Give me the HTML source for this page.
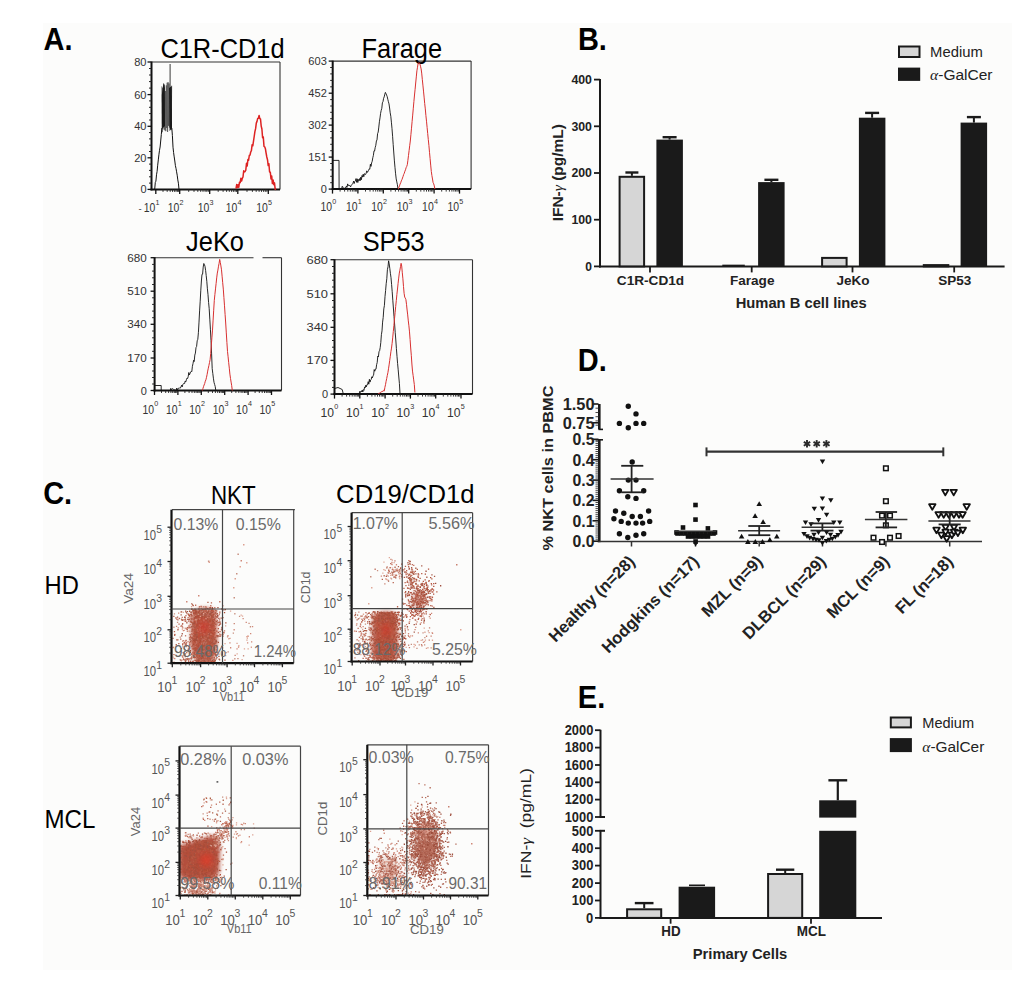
<!DOCTYPE html>
<html><head><meta charset="utf-8"><title>Figure</title>
<style>html,body{margin:0;padding:0;background:#fff;} svg{display:block;} text{font-family:"Liberation Sans", sans-serif;}</style>
</head><body>
<svg width="1024" height="997" viewBox="0 0 1024 997">
<rect width="1024" height="997" fill="#ffffff"/>
<rect x="43" y="23" width="969" height="947" fill="#fcfcfb"/>
<text x="43.5" y="49.9" font-size="30.74" font-weight="bold" textLength="29.0" lengthAdjust="spacingAndGlyphs">A.</text>
<text x="577.9" y="50.0" font-size="30.74" font-weight="bold" textLength="29.0" lengthAdjust="spacingAndGlyphs">B.</text>
<text x="43.2" y="503.5" font-size="30.74" font-weight="bold" textLength="29.0" lengthAdjust="spacingAndGlyphs">C.</text>
<text x="577.8" y="370.5" font-size="30.74" font-weight="bold" textLength="29.0" lengthAdjust="spacingAndGlyphs">D.</text>
<text x="577.8" y="707.8" font-size="30.74" font-weight="bold" textLength="27.4" lengthAdjust="spacingAndGlyphs">E.</text>
<line x1="151.5" y1="62.0" x2="280.0" y2="62.0" stroke="#333" stroke-width="1.1"/>
<line x1="280.0" y1="62.0" x2="280.0" y2="189.4" stroke="#333" stroke-width="1.1"/>
<line x1="151.5" y1="61.5" x2="151.5" y2="190.4" stroke="#111" stroke-width="2"/>
<line x1="150.5" y1="189.4" x2="280.0" y2="189.4" stroke="#111" stroke-width="2"/>
<line x1="147.5" y1="62.0" x2="151.5" y2="62.0" stroke="#111" stroke-width="1.3"/>
<line x1="147.5" y1="94.6" x2="151.5" y2="94.6" stroke="#111" stroke-width="1.3"/>
<line x1="147.5" y1="126.3" x2="151.5" y2="126.3" stroke="#111" stroke-width="1.3"/>
<line x1="147.5" y1="157.8" x2="151.5" y2="157.8" stroke="#111" stroke-width="1.3"/>
<line x1="147.5" y1="189.4" x2="151.5" y2="189.4" stroke="#111" stroke-width="1.3"/>
<line x1="149.0" y1="68.5" x2="151.5" y2="68.5" stroke="#222" stroke-width="1"/>
<line x1="149.0" y1="75.0" x2="151.5" y2="75.0" stroke="#222" stroke-width="1"/>
<line x1="149.0" y1="81.6" x2="151.5" y2="81.6" stroke="#222" stroke-width="1"/>
<line x1="149.0" y1="88.1" x2="151.5" y2="88.1" stroke="#222" stroke-width="1"/>
<line x1="149.0" y1="100.9" x2="151.5" y2="100.9" stroke="#222" stroke-width="1"/>
<line x1="149.0" y1="107.3" x2="151.5" y2="107.3" stroke="#222" stroke-width="1"/>
<line x1="149.0" y1="113.6" x2="151.5" y2="113.6" stroke="#222" stroke-width="1"/>
<line x1="149.0" y1="120.0" x2="151.5" y2="120.0" stroke="#222" stroke-width="1"/>
<line x1="149.0" y1="132.6" x2="151.5" y2="132.6" stroke="#222" stroke-width="1"/>
<line x1="149.0" y1="138.9" x2="151.5" y2="138.9" stroke="#222" stroke-width="1"/>
<line x1="149.0" y1="145.2" x2="151.5" y2="145.2" stroke="#222" stroke-width="1"/>
<line x1="149.0" y1="151.5" x2="151.5" y2="151.5" stroke="#222" stroke-width="1"/>
<line x1="149.0" y1="164.1" x2="151.5" y2="164.1" stroke="#222" stroke-width="1"/>
<line x1="149.0" y1="170.4" x2="151.5" y2="170.4" stroke="#222" stroke-width="1"/>
<line x1="149.0" y1="176.8" x2="151.5" y2="176.8" stroke="#222" stroke-width="1"/>
<line x1="149.0" y1="183.1" x2="151.5" y2="183.1" stroke="#222" stroke-width="1"/>
<text x="146.5" y="66.0" font-size="11.66" fill="#333" text-anchor="end" textLength="12.3" lengthAdjust="spacingAndGlyphs">80</text>
<text x="146.5" y="98.6" font-size="11.66" fill="#333" text-anchor="end" textLength="12.3" lengthAdjust="spacingAndGlyphs">60</text>
<text x="146.5" y="130.3" font-size="11.66" fill="#333" text-anchor="end" textLength="12.3" lengthAdjust="spacingAndGlyphs">40</text>
<text x="146.5" y="161.8" font-size="11.66" fill="#333" text-anchor="end" textLength="12.3" lengthAdjust="spacingAndGlyphs">20</text>
<text x="146.5" y="193.4" font-size="11.66" fill="#333" text-anchor="end" textLength="6.1" lengthAdjust="spacingAndGlyphs">0</text>
<line x1="155.8" y1="189.4" x2="155.8" y2="193.9" stroke="#111" stroke-width="1.3"/>
<line x1="179.7" y1="189.4" x2="179.7" y2="193.9" stroke="#111" stroke-width="1.3"/>
<line x1="209.7" y1="189.4" x2="209.7" y2="193.9" stroke="#111" stroke-width="1.3"/>
<line x1="237.8" y1="189.4" x2="237.8" y2="193.9" stroke="#111" stroke-width="1.3"/>
<line x1="268.3" y1="189.4" x2="268.3" y2="193.9" stroke="#111" stroke-width="1.3"/>
<line x1="163.0" y1="189.4" x2="163.0" y2="191.9" stroke="#222" stroke-width="0.9"/>
<line x1="167.2" y1="189.4" x2="167.2" y2="191.9" stroke="#222" stroke-width="0.9"/>
<line x1="170.2" y1="189.4" x2="170.2" y2="191.9" stroke="#222" stroke-width="0.9"/>
<line x1="172.5" y1="189.4" x2="172.5" y2="191.9" stroke="#222" stroke-width="0.9"/>
<line x1="174.4" y1="189.4" x2="174.4" y2="191.9" stroke="#222" stroke-width="0.9"/>
<line x1="176.0" y1="189.4" x2="176.0" y2="191.9" stroke="#222" stroke-width="0.9"/>
<line x1="177.4" y1="189.4" x2="177.4" y2="191.9" stroke="#222" stroke-width="0.9"/>
<line x1="178.6" y1="189.4" x2="178.6" y2="191.9" stroke="#222" stroke-width="0.9"/>
<line x1="188.7" y1="189.4" x2="188.7" y2="191.9" stroke="#222" stroke-width="0.9"/>
<line x1="194.0" y1="189.4" x2="194.0" y2="191.9" stroke="#222" stroke-width="0.9"/>
<line x1="197.8" y1="189.4" x2="197.8" y2="191.9" stroke="#222" stroke-width="0.9"/>
<line x1="200.7" y1="189.4" x2="200.7" y2="191.9" stroke="#222" stroke-width="0.9"/>
<line x1="203.0" y1="189.4" x2="203.0" y2="191.9" stroke="#222" stroke-width="0.9"/>
<line x1="205.1" y1="189.4" x2="205.1" y2="191.9" stroke="#222" stroke-width="0.9"/>
<line x1="206.8" y1="189.4" x2="206.8" y2="191.9" stroke="#222" stroke-width="0.9"/>
<line x1="208.3" y1="189.4" x2="208.3" y2="191.9" stroke="#222" stroke-width="0.9"/>
<line x1="218.2" y1="189.4" x2="218.2" y2="191.9" stroke="#222" stroke-width="0.9"/>
<line x1="223.1" y1="189.4" x2="223.1" y2="191.9" stroke="#222" stroke-width="0.9"/>
<line x1="226.6" y1="189.4" x2="226.6" y2="191.9" stroke="#222" stroke-width="0.9"/>
<line x1="229.3" y1="189.4" x2="229.3" y2="191.9" stroke="#222" stroke-width="0.9"/>
<line x1="231.6" y1="189.4" x2="231.6" y2="191.9" stroke="#222" stroke-width="0.9"/>
<line x1="233.4" y1="189.4" x2="233.4" y2="191.9" stroke="#222" stroke-width="0.9"/>
<line x1="235.1" y1="189.4" x2="235.1" y2="191.9" stroke="#222" stroke-width="0.9"/>
<line x1="236.5" y1="189.4" x2="236.5" y2="191.9" stroke="#222" stroke-width="0.9"/>
<line x1="247.0" y1="189.4" x2="247.0" y2="191.9" stroke="#222" stroke-width="0.9"/>
<line x1="252.4" y1="189.4" x2="252.4" y2="191.9" stroke="#222" stroke-width="0.9"/>
<line x1="256.2" y1="189.4" x2="256.2" y2="191.9" stroke="#222" stroke-width="0.9"/>
<line x1="259.1" y1="189.4" x2="259.1" y2="191.9" stroke="#222" stroke-width="0.9"/>
<line x1="261.5" y1="189.4" x2="261.5" y2="191.9" stroke="#222" stroke-width="0.9"/>
<line x1="263.6" y1="189.4" x2="263.6" y2="191.9" stroke="#222" stroke-width="0.9"/>
<line x1="265.3" y1="189.4" x2="265.3" y2="191.9" stroke="#222" stroke-width="0.9"/>
<line x1="266.9" y1="189.4" x2="266.9" y2="191.9" stroke="#222" stroke-width="0.9"/>
<text x="155.4" y="212.0" font-size="12.19" fill="#333" text-anchor="end" textLength="11.6" lengthAdjust="spacingAndGlyphs">10</text>
<text x="155.6" y="204.7" font-size="7.63" fill="#333" textLength="4.0" lengthAdjust="spacingAndGlyphs">1</text>
<text x="179.3" y="212.0" font-size="12.19" fill="#333" text-anchor="end" textLength="11.6" lengthAdjust="spacingAndGlyphs">10</text>
<text x="179.5" y="204.7" font-size="7.63" fill="#333" textLength="4.0" lengthAdjust="spacingAndGlyphs">2</text>
<text x="209.3" y="212.0" font-size="12.19" fill="#333" text-anchor="end" textLength="11.6" lengthAdjust="spacingAndGlyphs">10</text>
<text x="209.5" y="204.7" font-size="7.63" fill="#333" textLength="4.0" lengthAdjust="spacingAndGlyphs">3</text>
<text x="237.4" y="212.0" font-size="12.19" fill="#333" text-anchor="end" textLength="11.6" lengthAdjust="spacingAndGlyphs">10</text>
<text x="237.6" y="204.7" font-size="7.63" fill="#333" textLength="4.0" lengthAdjust="spacingAndGlyphs">4</text>
<text x="267.9" y="212.0" font-size="12.19" fill="#333" text-anchor="end" textLength="11.6" lengthAdjust="spacingAndGlyphs">10</text>
<text x="268.1" y="204.7" font-size="7.63" fill="#333" textLength="4.0" lengthAdjust="spacingAndGlyphs">5</text>
<text x="222.5" y="58.0" font-size="26.92" text-anchor="middle" textLength="124.2" lengthAdjust="spacingAndGlyphs">C1R-CD1d</text>
<text x="138.5" y="211.5" font-size="9.5" fill="#333">-</text>
<polyline points="161.8,86.3 162.2,132.2 162.7,87.7 163.1,125.3 163.6,83.5 164.0,129.6 164.5,84.6 164.9,130.4 165.4,91.0 165.8,131.2 166.3,85.4 166.7,128.0 167.2,82.7 167.6,132.0 168.1,82.2 168.5,125.8 169.0,83.5 169.4,127.6 169.9,89.1 170.3,126.5 170.8,89.4 171.2,130.1 171.7,85.6" fill="none" stroke="#3a3a3a" stroke-width="0.6" stroke-linejoin="round"/>
<polygon points="161.8,95 163.4,83.5 164.8,88 165,126 162,129" fill="#1a1a1a"/>
<polygon points="169,88 171.8,86 172,128 169.6,131" fill="#1a1a1a"/>
<polyline points="154.7,189.4 155.3,182.4 155.9,181.2 156.5,174.8 157.1,171.4 157.7,165.2 158.3,159.9 158.9,154.8 159.5,150.3 160.1,147.0 160.7,141.0 161.3,134.5 161.9,128.0" fill="none" stroke="#111" stroke-width="1.0" stroke-linejoin="round"/>
<polyline points="171.8,128.0 172.4,135.6 173.0,147.2 173.6,152.6 174.2,156.9 174.8,161.0 175.4,165.6 176.0,168.4 176.6,171.8 177.2,175.2 177.8,179.9 178.4,183.2 179.0,189.4" fill="none" stroke="#111" stroke-width="1.0" stroke-linejoin="round"/>
<line x1="170.1" y1="64.0" x2="170.1" y2="90.0" stroke="#222" stroke-width="0.9"/>
<polyline points="236.0,188.7 236.7,184.5 237.4,187.4 238.1,184.8 238.8,187.2 239.5,182.2 240.2,182.6 240.9,178.2 241.6,181.1 242.3,178.3 243.0,177.0 243.7,170.8 244.4,171.9 245.1,171.5 245.8,170.2 246.5,163.3 247.2,166.0 247.9,159.6 248.6,160.2 249.3,155.5 250.0,155.1 250.7,152.0 251.4,150.7 252.1,144.8 252.8,145.8 253.5,141.2 254.2,136.5 254.9,131.7 255.6,128.7 256.3,123.1 257.0,121.4 257.7,118.4 258.4,118.2 259.1,115.4 259.8,118.6 260.5,119.0 261.2,126.1 261.9,129.0 262.6,137.7 263.3,137.1 264.0,146.4 264.7,146.8 265.4,148.7 266.1,153.1 266.8,157.0 267.5,159.7 268.2,165.6 268.9,163.7 269.6,172.0 270.3,172.2 271.0,178.9 271.7,176.0 272.4,183.6 273.1,179.9 273.8,184.7 274.5,182.9 275.2,189.4 275.9,188.4" fill="none" stroke="#dd2222" stroke-width="1.5" stroke-linejoin="round"/>
<line x1="332.7" y1="61.1" x2="471.1" y2="61.1" stroke="#333" stroke-width="1.1"/>
<line x1="471.1" y1="61.1" x2="471.1" y2="189.1" stroke="#333" stroke-width="1.1"/>
<line x1="332.7" y1="60.6" x2="332.7" y2="190.1" stroke="#111" stroke-width="2"/>
<line x1="331.7" y1="189.1" x2="471.1" y2="189.1" stroke="#111" stroke-width="2"/>
<line x1="328.7" y1="61.1" x2="332.7" y2="61.1" stroke="#111" stroke-width="1.3"/>
<line x1="328.7" y1="93.2" x2="332.7" y2="93.2" stroke="#111" stroke-width="1.3"/>
<line x1="328.7" y1="125.1" x2="332.7" y2="125.1" stroke="#111" stroke-width="1.3"/>
<line x1="328.7" y1="157.1" x2="332.7" y2="157.1" stroke="#111" stroke-width="1.3"/>
<line x1="328.7" y1="189.1" x2="332.7" y2="189.1" stroke="#111" stroke-width="1.3"/>
<line x1="330.2" y1="67.5" x2="332.7" y2="67.5" stroke="#222" stroke-width="1"/>
<line x1="330.2" y1="73.9" x2="332.7" y2="73.9" stroke="#222" stroke-width="1"/>
<line x1="330.2" y1="80.4" x2="332.7" y2="80.4" stroke="#222" stroke-width="1"/>
<line x1="330.2" y1="86.8" x2="332.7" y2="86.8" stroke="#222" stroke-width="1"/>
<line x1="330.2" y1="99.6" x2="332.7" y2="99.6" stroke="#222" stroke-width="1"/>
<line x1="330.2" y1="106.0" x2="332.7" y2="106.0" stroke="#222" stroke-width="1"/>
<line x1="330.2" y1="112.3" x2="332.7" y2="112.3" stroke="#222" stroke-width="1"/>
<line x1="330.2" y1="118.7" x2="332.7" y2="118.7" stroke="#222" stroke-width="1"/>
<line x1="330.2" y1="131.5" x2="332.7" y2="131.5" stroke="#222" stroke-width="1"/>
<line x1="330.2" y1="137.9" x2="332.7" y2="137.9" stroke="#222" stroke-width="1"/>
<line x1="330.2" y1="144.3" x2="332.7" y2="144.3" stroke="#222" stroke-width="1"/>
<line x1="330.2" y1="150.7" x2="332.7" y2="150.7" stroke="#222" stroke-width="1"/>
<line x1="330.2" y1="163.5" x2="332.7" y2="163.5" stroke="#222" stroke-width="1"/>
<line x1="330.2" y1="169.9" x2="332.7" y2="169.9" stroke="#222" stroke-width="1"/>
<line x1="330.2" y1="176.3" x2="332.7" y2="176.3" stroke="#222" stroke-width="1"/>
<line x1="330.2" y1="182.7" x2="332.7" y2="182.7" stroke="#222" stroke-width="1"/>
<text x="326.8" y="65.1" font-size="11.66" fill="#333" text-anchor="end" textLength="18.5" lengthAdjust="spacingAndGlyphs">603</text>
<text x="326.8" y="97.2" font-size="11.66" fill="#333" text-anchor="end" textLength="18.5" lengthAdjust="spacingAndGlyphs">452</text>
<text x="326.8" y="129.1" font-size="11.66" fill="#333" text-anchor="end" textLength="18.5" lengthAdjust="spacingAndGlyphs">302</text>
<text x="326.8" y="161.1" font-size="11.66" fill="#333" text-anchor="end" textLength="18.5" lengthAdjust="spacingAndGlyphs">151</text>
<text x="326.8" y="193.1" font-size="11.66" fill="#333" text-anchor="end" textLength="6.1" lengthAdjust="spacingAndGlyphs">0</text>
<line x1="332.5" y1="189.1" x2="332.5" y2="193.6" stroke="#111" stroke-width="1.3"/>
<line x1="357.9" y1="189.1" x2="357.9" y2="193.6" stroke="#111" stroke-width="1.3"/>
<line x1="383.3" y1="189.1" x2="383.3" y2="193.6" stroke="#111" stroke-width="1.3"/>
<line x1="408.7" y1="189.1" x2="408.7" y2="193.6" stroke="#111" stroke-width="1.3"/>
<line x1="434.1" y1="189.1" x2="434.1" y2="193.6" stroke="#111" stroke-width="1.3"/>
<line x1="459.5" y1="189.1" x2="459.5" y2="193.6" stroke="#111" stroke-width="1.3"/>
<line x1="340.1" y1="189.1" x2="340.1" y2="191.6" stroke="#222" stroke-width="0.9"/>
<line x1="344.6" y1="189.1" x2="344.6" y2="191.6" stroke="#222" stroke-width="0.9"/>
<line x1="347.8" y1="189.1" x2="347.8" y2="191.6" stroke="#222" stroke-width="0.9"/>
<line x1="350.3" y1="189.1" x2="350.3" y2="191.6" stroke="#222" stroke-width="0.9"/>
<line x1="352.3" y1="189.1" x2="352.3" y2="191.6" stroke="#222" stroke-width="0.9"/>
<line x1="354.0" y1="189.1" x2="354.0" y2="191.6" stroke="#222" stroke-width="0.9"/>
<line x1="355.4" y1="189.1" x2="355.4" y2="191.6" stroke="#222" stroke-width="0.9"/>
<line x1="356.7" y1="189.1" x2="356.7" y2="191.6" stroke="#222" stroke-width="0.9"/>
<line x1="365.5" y1="189.1" x2="365.5" y2="191.6" stroke="#222" stroke-width="0.9"/>
<line x1="370.0" y1="189.1" x2="370.0" y2="191.6" stroke="#222" stroke-width="0.9"/>
<line x1="373.2" y1="189.1" x2="373.2" y2="191.6" stroke="#222" stroke-width="0.9"/>
<line x1="375.7" y1="189.1" x2="375.7" y2="191.6" stroke="#222" stroke-width="0.9"/>
<line x1="377.7" y1="189.1" x2="377.7" y2="191.6" stroke="#222" stroke-width="0.9"/>
<line x1="379.4" y1="189.1" x2="379.4" y2="191.6" stroke="#222" stroke-width="0.9"/>
<line x1="380.8" y1="189.1" x2="380.8" y2="191.6" stroke="#222" stroke-width="0.9"/>
<line x1="382.1" y1="189.1" x2="382.1" y2="191.6" stroke="#222" stroke-width="0.9"/>
<line x1="390.9" y1="189.1" x2="390.9" y2="191.6" stroke="#222" stroke-width="0.9"/>
<line x1="395.4" y1="189.1" x2="395.4" y2="191.6" stroke="#222" stroke-width="0.9"/>
<line x1="398.6" y1="189.1" x2="398.6" y2="191.6" stroke="#222" stroke-width="0.9"/>
<line x1="401.1" y1="189.1" x2="401.1" y2="191.6" stroke="#222" stroke-width="0.9"/>
<line x1="403.1" y1="189.1" x2="403.1" y2="191.6" stroke="#222" stroke-width="0.9"/>
<line x1="404.8" y1="189.1" x2="404.8" y2="191.6" stroke="#222" stroke-width="0.9"/>
<line x1="406.2" y1="189.1" x2="406.2" y2="191.6" stroke="#222" stroke-width="0.9"/>
<line x1="407.5" y1="189.1" x2="407.5" y2="191.6" stroke="#222" stroke-width="0.9"/>
<line x1="416.3" y1="189.1" x2="416.3" y2="191.6" stroke="#222" stroke-width="0.9"/>
<line x1="420.8" y1="189.1" x2="420.8" y2="191.6" stroke="#222" stroke-width="0.9"/>
<line x1="424.0" y1="189.1" x2="424.0" y2="191.6" stroke="#222" stroke-width="0.9"/>
<line x1="426.5" y1="189.1" x2="426.5" y2="191.6" stroke="#222" stroke-width="0.9"/>
<line x1="428.5" y1="189.1" x2="428.5" y2="191.6" stroke="#222" stroke-width="0.9"/>
<line x1="430.2" y1="189.1" x2="430.2" y2="191.6" stroke="#222" stroke-width="0.9"/>
<line x1="431.6" y1="189.1" x2="431.6" y2="191.6" stroke="#222" stroke-width="0.9"/>
<line x1="432.9" y1="189.1" x2="432.9" y2="191.6" stroke="#222" stroke-width="0.9"/>
<line x1="441.7" y1="189.1" x2="441.7" y2="191.6" stroke="#222" stroke-width="0.9"/>
<line x1="446.2" y1="189.1" x2="446.2" y2="191.6" stroke="#222" stroke-width="0.9"/>
<line x1="449.4" y1="189.1" x2="449.4" y2="191.6" stroke="#222" stroke-width="0.9"/>
<line x1="451.9" y1="189.1" x2="451.9" y2="191.6" stroke="#222" stroke-width="0.9"/>
<line x1="453.9" y1="189.1" x2="453.9" y2="191.6" stroke="#222" stroke-width="0.9"/>
<line x1="455.6" y1="189.1" x2="455.6" y2="191.6" stroke="#222" stroke-width="0.9"/>
<line x1="457.0" y1="189.1" x2="457.0" y2="191.6" stroke="#222" stroke-width="0.9"/>
<line x1="458.3" y1="189.1" x2="458.3" y2="191.6" stroke="#222" stroke-width="0.9"/>
<text x="332.1" y="211.4" font-size="12.19" fill="#333" text-anchor="end" textLength="11.6" lengthAdjust="spacingAndGlyphs">10</text>
<text x="332.3" y="204.1" font-size="7.63" fill="#333" textLength="4.0" lengthAdjust="spacingAndGlyphs">0</text>
<text x="357.5" y="211.4" font-size="12.19" fill="#333" text-anchor="end" textLength="11.6" lengthAdjust="spacingAndGlyphs">10</text>
<text x="357.7" y="204.1" font-size="7.63" fill="#333" textLength="4.0" lengthAdjust="spacingAndGlyphs">1</text>
<text x="382.9" y="211.4" font-size="12.19" fill="#333" text-anchor="end" textLength="11.6" lengthAdjust="spacingAndGlyphs">10</text>
<text x="383.1" y="204.1" font-size="7.63" fill="#333" textLength="4.0" lengthAdjust="spacingAndGlyphs">2</text>
<text x="408.3" y="211.4" font-size="12.19" fill="#333" text-anchor="end" textLength="11.6" lengthAdjust="spacingAndGlyphs">10</text>
<text x="408.5" y="204.1" font-size="7.63" fill="#333" textLength="4.0" lengthAdjust="spacingAndGlyphs">3</text>
<text x="433.7" y="211.4" font-size="12.19" fill="#333" text-anchor="end" textLength="11.6" lengthAdjust="spacingAndGlyphs">10</text>
<text x="433.9" y="204.1" font-size="7.63" fill="#333" textLength="4.0" lengthAdjust="spacingAndGlyphs">4</text>
<text x="459.1" y="211.4" font-size="12.19" fill="#333" text-anchor="end" textLength="11.6" lengthAdjust="spacingAndGlyphs">10</text>
<text x="459.3" y="204.1" font-size="7.63" fill="#333" textLength="4.0" lengthAdjust="spacingAndGlyphs">5</text>
<text x="401.8" y="57.7" font-size="26.92" text-anchor="middle" textLength="80.5" lengthAdjust="spacingAndGlyphs">Farage</text>
<polyline points="332.7,160.4 339.0,160.4 339.1,189.0 341.0,188.5 341.6,189.1 342.2,186.2 342.8,186.8 343.4,189.1 344.0,187.9 344.6,188.8 345.2,187.6 345.8,187.9 346.4,186.1 347.0,187.3 347.6,183.9 348.2,185.7 348.8,185.0 349.4,185.5 350.0,185.5 350.6,186.9 351.2,185.3 351.8,184.8 352.4,184.2 353.0,183.1 353.6,181.1 354.2,183.5 354.8,181.5 355.4,180.9 356.0,178.6 356.6,182.3 357.2,178.8 357.8,182.5 358.4,179.5 359.0,180.8 359.6,178.6 360.2,180.7 360.8,177.1 361.4,179.7 362.0,175.5 362.6,177.1 363.2,174.2 363.8,176.7 364.4,173.7 365.0,174.0 365.6,174.5 366.2,173.1 366.8,170.8 367.4,172.4 368.0,171.4 368.6,170.4 369.2,168.8 369.8,169.2 370.4,164.2 371.0,166.4 371.6,162.9 372.2,161.3 372.8,157.7 373.4,155.4 374.0,150.8 374.6,151.0 375.2,147.5 375.8,145.3 376.4,141.0 377.0,139.9 377.6,133.6 378.2,132.1 378.8,127.1 379.4,121.8 380.0,117.9 380.6,113.3 381.2,110.4 381.8,108.3 382.4,102.8 383.0,101.6 383.6,98.3 384.2,96.9 384.8,94.2 385.4,92.4 386.0,93.7 386.6,95.1 387.2,96.6 387.8,99.3 388.4,101.7 389.0,103.9 389.6,108.0 390.2,112.8 390.8,116.3 391.4,122.2 392.0,128.7 392.6,136.3 393.2,144.6 393.8,153.0 394.4,160.9 395.0,167.7 395.6,173.8 396.2,178.9 396.8,181.9 397.4,184.7 398.0,189.0" fill="none" stroke="#111" stroke-width="0.9" stroke-linejoin="round"/>
<polyline points="398.3,189.0 398.9,187.3 399.5,185.9 400.1,184.0 400.7,182.8 401.3,180.9 401.9,179.7 402.5,178.0 403.1,176.3 403.7,174.4 404.3,173.2 404.9,171.2 405.5,169.8 406.1,167.7 406.7,166.5 407.3,164.7 407.9,160.3 408.5,155.4 409.1,150.6 409.7,145.7 410.3,141.0 410.9,134.7 411.5,128.2 412.1,121.5 412.7,115.1 413.3,108.2 413.9,101.5 414.5,95.0 415.1,89.3 415.7,83.0 416.3,76.9 416.9,70.8 417.5,67.2 418.1,63.5 418.7,62.7 419.3,62.9 419.9,64.0 420.5,66.2 421.1,68.9 421.7,73.1 422.3,79.3 422.9,85.1 423.5,91.1 424.1,97.1 424.7,103.5 425.3,108.9 425.9,115.5 426.5,121.2 427.1,127.4 427.7,133.5 428.3,139.6 428.9,145.4 429.5,152.3 430.1,158.6 430.7,165.1 431.3,171.4 431.9,175.6 432.5,179.0 433.1,182.6 433.7,183.8 434.3,185.9 434.9,189.0" fill="none" stroke="#d83030" stroke-width="1.0" stroke-linejoin="round"/>
<line x1="154.6" y1="257.7" x2="253.5" y2="257.7" stroke="#333" stroke-width="1.1"/>
<line x1="262.5" y1="257.7" x2="281.5" y2="257.7" stroke="#333" stroke-width="1.1"/>
<line x1="281.5" y1="257.7" x2="281.5" y2="390.5" stroke="#333" stroke-width="1.1"/>
<line x1="154.6" y1="257.2" x2="154.6" y2="391.5" stroke="#111" stroke-width="2"/>
<line x1="153.6" y1="390.5" x2="281.5" y2="390.5" stroke="#111" stroke-width="2"/>
<line x1="150.6" y1="257.7" x2="154.6" y2="257.7" stroke="#111" stroke-width="1.3"/>
<line x1="150.6" y1="291.2" x2="154.6" y2="291.2" stroke="#111" stroke-width="1.3"/>
<line x1="150.6" y1="324.3" x2="154.6" y2="324.3" stroke="#111" stroke-width="1.3"/>
<line x1="150.6" y1="358.0" x2="154.6" y2="358.0" stroke="#111" stroke-width="1.3"/>
<line x1="150.6" y1="390.5" x2="154.6" y2="390.5" stroke="#111" stroke-width="1.3"/>
<line x1="152.1" y1="264.4" x2="154.6" y2="264.4" stroke="#222" stroke-width="1"/>
<line x1="152.1" y1="271.1" x2="154.6" y2="271.1" stroke="#222" stroke-width="1"/>
<line x1="152.1" y1="277.8" x2="154.6" y2="277.8" stroke="#222" stroke-width="1"/>
<line x1="152.1" y1="284.5" x2="154.6" y2="284.5" stroke="#222" stroke-width="1"/>
<line x1="152.1" y1="297.8" x2="154.6" y2="297.8" stroke="#222" stroke-width="1"/>
<line x1="152.1" y1="304.4" x2="154.6" y2="304.4" stroke="#222" stroke-width="1"/>
<line x1="152.1" y1="311.1" x2="154.6" y2="311.1" stroke="#222" stroke-width="1"/>
<line x1="152.1" y1="317.7" x2="154.6" y2="317.7" stroke="#222" stroke-width="1"/>
<line x1="152.1" y1="331.0" x2="154.6" y2="331.0" stroke="#222" stroke-width="1"/>
<line x1="152.1" y1="337.8" x2="154.6" y2="337.8" stroke="#222" stroke-width="1"/>
<line x1="152.1" y1="344.5" x2="154.6" y2="344.5" stroke="#222" stroke-width="1"/>
<line x1="152.1" y1="351.3" x2="154.6" y2="351.3" stroke="#222" stroke-width="1"/>
<line x1="152.1" y1="364.5" x2="154.6" y2="364.5" stroke="#222" stroke-width="1"/>
<line x1="152.1" y1="371.0" x2="154.6" y2="371.0" stroke="#222" stroke-width="1"/>
<line x1="152.1" y1="377.5" x2="154.6" y2="377.5" stroke="#222" stroke-width="1"/>
<line x1="152.1" y1="384.0" x2="154.6" y2="384.0" stroke="#222" stroke-width="1"/>
<text x="146.8" y="261.7" font-size="11.66" fill="#333" text-anchor="end" textLength="19.5" lengthAdjust="spacingAndGlyphs">680</text>
<text x="146.8" y="295.2" font-size="11.66" fill="#333" text-anchor="end" textLength="19.5" lengthAdjust="spacingAndGlyphs">510</text>
<text x="146.8" y="328.3" font-size="11.66" fill="#333" text-anchor="end" textLength="19.5" lengthAdjust="spacingAndGlyphs">340</text>
<text x="146.8" y="362.0" font-size="11.66" fill="#333" text-anchor="end" textLength="19.5" lengthAdjust="spacingAndGlyphs">170</text>
<text x="146.8" y="394.5" font-size="11.66" fill="#333" text-anchor="end" textLength="6.1" lengthAdjust="spacingAndGlyphs">0</text>
<line x1="154.5" y1="390.5" x2="154.5" y2="395.0" stroke="#111" stroke-width="1.3"/>
<line x1="177.9" y1="390.5" x2="177.9" y2="395.0" stroke="#111" stroke-width="1.3"/>
<line x1="201.3" y1="390.5" x2="201.3" y2="395.0" stroke="#111" stroke-width="1.3"/>
<line x1="224.7" y1="390.5" x2="224.7" y2="395.0" stroke="#111" stroke-width="1.3"/>
<line x1="248.1" y1="390.5" x2="248.1" y2="395.0" stroke="#111" stroke-width="1.3"/>
<line x1="271.5" y1="390.5" x2="271.5" y2="395.0" stroke="#111" stroke-width="1.3"/>
<line x1="161.5" y1="390.5" x2="161.5" y2="393.0" stroke="#222" stroke-width="0.9"/>
<line x1="165.7" y1="390.5" x2="165.7" y2="393.0" stroke="#222" stroke-width="0.9"/>
<line x1="168.6" y1="390.5" x2="168.6" y2="393.0" stroke="#222" stroke-width="0.9"/>
<line x1="170.9" y1="390.5" x2="170.9" y2="393.0" stroke="#222" stroke-width="0.9"/>
<line x1="172.7" y1="390.5" x2="172.7" y2="393.0" stroke="#222" stroke-width="0.9"/>
<line x1="174.3" y1="390.5" x2="174.3" y2="393.0" stroke="#222" stroke-width="0.9"/>
<line x1="175.6" y1="390.5" x2="175.6" y2="393.0" stroke="#222" stroke-width="0.9"/>
<line x1="176.8" y1="390.5" x2="176.8" y2="393.0" stroke="#222" stroke-width="0.9"/>
<line x1="184.9" y1="390.5" x2="184.9" y2="393.0" stroke="#222" stroke-width="0.9"/>
<line x1="189.1" y1="390.5" x2="189.1" y2="393.0" stroke="#222" stroke-width="0.9"/>
<line x1="192.0" y1="390.5" x2="192.0" y2="393.0" stroke="#222" stroke-width="0.9"/>
<line x1="194.3" y1="390.5" x2="194.3" y2="393.0" stroke="#222" stroke-width="0.9"/>
<line x1="196.1" y1="390.5" x2="196.1" y2="393.0" stroke="#222" stroke-width="0.9"/>
<line x1="197.7" y1="390.5" x2="197.7" y2="393.0" stroke="#222" stroke-width="0.9"/>
<line x1="199.0" y1="390.5" x2="199.0" y2="393.0" stroke="#222" stroke-width="0.9"/>
<line x1="200.2" y1="390.5" x2="200.2" y2="393.0" stroke="#222" stroke-width="0.9"/>
<line x1="208.3" y1="390.5" x2="208.3" y2="393.0" stroke="#222" stroke-width="0.9"/>
<line x1="212.5" y1="390.5" x2="212.5" y2="393.0" stroke="#222" stroke-width="0.9"/>
<line x1="215.4" y1="390.5" x2="215.4" y2="393.0" stroke="#222" stroke-width="0.9"/>
<line x1="217.7" y1="390.5" x2="217.7" y2="393.0" stroke="#222" stroke-width="0.9"/>
<line x1="219.5" y1="390.5" x2="219.5" y2="393.0" stroke="#222" stroke-width="0.9"/>
<line x1="221.1" y1="390.5" x2="221.1" y2="393.0" stroke="#222" stroke-width="0.9"/>
<line x1="222.4" y1="390.5" x2="222.4" y2="393.0" stroke="#222" stroke-width="0.9"/>
<line x1="223.6" y1="390.5" x2="223.6" y2="393.0" stroke="#222" stroke-width="0.9"/>
<line x1="231.7" y1="390.5" x2="231.7" y2="393.0" stroke="#222" stroke-width="0.9"/>
<line x1="235.9" y1="390.5" x2="235.9" y2="393.0" stroke="#222" stroke-width="0.9"/>
<line x1="238.8" y1="390.5" x2="238.8" y2="393.0" stroke="#222" stroke-width="0.9"/>
<line x1="241.1" y1="390.5" x2="241.1" y2="393.0" stroke="#222" stroke-width="0.9"/>
<line x1="242.9" y1="390.5" x2="242.9" y2="393.0" stroke="#222" stroke-width="0.9"/>
<line x1="244.5" y1="390.5" x2="244.5" y2="393.0" stroke="#222" stroke-width="0.9"/>
<line x1="245.8" y1="390.5" x2="245.8" y2="393.0" stroke="#222" stroke-width="0.9"/>
<line x1="247.0" y1="390.5" x2="247.0" y2="393.0" stroke="#222" stroke-width="0.9"/>
<line x1="255.1" y1="390.5" x2="255.1" y2="393.0" stroke="#222" stroke-width="0.9"/>
<line x1="259.3" y1="390.5" x2="259.3" y2="393.0" stroke="#222" stroke-width="0.9"/>
<line x1="262.2" y1="390.5" x2="262.2" y2="393.0" stroke="#222" stroke-width="0.9"/>
<line x1="264.5" y1="390.5" x2="264.5" y2="393.0" stroke="#222" stroke-width="0.9"/>
<line x1="266.3" y1="390.5" x2="266.3" y2="393.0" stroke="#222" stroke-width="0.9"/>
<line x1="267.9" y1="390.5" x2="267.9" y2="393.0" stroke="#222" stroke-width="0.9"/>
<line x1="269.2" y1="390.5" x2="269.2" y2="393.0" stroke="#222" stroke-width="0.9"/>
<line x1="270.4" y1="390.5" x2="270.4" y2="393.0" stroke="#222" stroke-width="0.9"/>
<text x="154.1" y="413.6" font-size="12.19" fill="#333" text-anchor="end" textLength="11.6" lengthAdjust="spacingAndGlyphs">10</text>
<text x="154.3" y="406.3" font-size="7.63" fill="#333" textLength="4.0" lengthAdjust="spacingAndGlyphs">0</text>
<text x="177.5" y="413.6" font-size="12.19" fill="#333" text-anchor="end" textLength="11.6" lengthAdjust="spacingAndGlyphs">10</text>
<text x="177.7" y="406.3" font-size="7.63" fill="#333" textLength="4.0" lengthAdjust="spacingAndGlyphs">1</text>
<text x="200.9" y="413.6" font-size="12.19" fill="#333" text-anchor="end" textLength="11.6" lengthAdjust="spacingAndGlyphs">10</text>
<text x="201.1" y="406.3" font-size="7.63" fill="#333" textLength="4.0" lengthAdjust="spacingAndGlyphs">2</text>
<text x="224.3" y="413.6" font-size="12.19" fill="#333" text-anchor="end" textLength="11.6" lengthAdjust="spacingAndGlyphs">10</text>
<text x="224.5" y="406.3" font-size="7.63" fill="#333" textLength="4.0" lengthAdjust="spacingAndGlyphs">3</text>
<text x="247.7" y="413.6" font-size="12.19" fill="#333" text-anchor="end" textLength="11.6" lengthAdjust="spacingAndGlyphs">10</text>
<text x="247.9" y="406.3" font-size="7.63" fill="#333" textLength="4.0" lengthAdjust="spacingAndGlyphs">4</text>
<text x="271.1" y="413.6" font-size="12.19" fill="#333" text-anchor="end" textLength="11.6" lengthAdjust="spacingAndGlyphs">10</text>
<text x="271.3" y="406.3" font-size="7.63" fill="#333" textLength="4.0" lengthAdjust="spacingAndGlyphs">5</text>
<text x="215.0" y="251.0" font-size="26.92" text-anchor="middle" textLength="57.9" lengthAdjust="spacingAndGlyphs">JeKo</text>
<polyline points="154.6,385.5 161.2,385.5 161.2,390.5 170.2,390.5 170.2,390.5 170.8,388.3 171.4,389.7 172.0,389.0 172.6,388.6 173.2,388.9 173.8,389.6 174.4,389.7 175.0,390.5 175.6,389.8 176.2,390.5 176.8,388.0 177.4,390.2 178.0,389.0 178.6,388.3 179.2,387.7 179.8,388.4 180.4,387.9 181.0,386.8 181.6,385.2 182.2,386.9 182.8,384.6 183.4,383.7 184.0,383.2 184.6,383.5 185.2,381.0 185.8,381.8 186.4,379.7 187.0,378.1 187.6,378.5 188.2,376.6 188.8,372.5 189.4,374.9 190.0,373.6 190.6,372.1 191.2,371.3 191.8,371.7 192.4,366.3 193.0,363.6 193.6,360.3 194.2,361.5 194.8,355.1 195.4,353.1 196.0,347.6 196.6,346.5 197.2,340.8 197.8,339.3 198.4,332.7 199.0,322.1 199.6,310.9 200.2,301.2 200.8,290.2 201.4,281.0 202.0,274.3 202.6,274.2 203.2,267.1 203.8,263.5 204.4,264.5 205.0,266.4 205.6,270.4 206.2,275.5 206.8,281.3 207.4,288.8 208.0,294.7 208.6,302.6 209.2,308.7 209.8,319.1 210.4,329.2 211.0,340.4 211.6,353.9 212.2,368.6 212.8,373.5 213.4,378.2 214.0,382.3 214.6,384.4 215.2,386.4 215.8,390.5" fill="none" stroke="#111" stroke-width="0.9" stroke-linejoin="round"/>
<polyline points="202.3,390.5 202.9,388.6 203.5,386.7 204.1,385.0 204.7,383.5 205.3,381.2 205.9,379.8 206.5,377.3 207.1,374.5 207.7,371.1 208.3,368.2 208.9,365.5 209.5,362.5 210.1,359.7 210.7,353.5 211.3,345.4 211.9,337.8 212.5,330.1 213.1,320.1 213.7,310.2 214.3,300.3 214.9,294.5 215.5,288.9 216.1,283.6 216.7,277.9 217.3,273.1 217.9,270.1 218.5,266.2 219.1,263.3 219.7,259.4 220.3,262.5 220.9,265.9 221.5,269.8 222.1,276.2 222.7,282.7 223.3,289.1 223.9,297.4 224.5,305.8 225.1,314.5 225.7,323.0 226.3,332.9 226.9,342.4 227.5,351.4 228.1,356.8 228.7,362.7 229.3,368.2 229.9,374.1 230.5,378.4 231.1,382.1 231.7,385.7 232.3,390.5" fill="none" stroke="#d83030" stroke-width="1.0" stroke-linejoin="round"/>
<line x1="334.5" y1="259.7" x2="472.5" y2="259.7" stroke="#333" stroke-width="1.1"/>
<line x1="472.5" y1="259.7" x2="472.5" y2="394.1" stroke="#333" stroke-width="1.1"/>
<line x1="334.5" y1="259.2" x2="334.5" y2="395.1" stroke="#111" stroke-width="2"/>
<line x1="333.5" y1="394.1" x2="472.5" y2="394.1" stroke="#111" stroke-width="2"/>
<line x1="330.5" y1="259.7" x2="334.5" y2="259.7" stroke="#111" stroke-width="1.3"/>
<line x1="330.5" y1="293.8" x2="334.5" y2="293.8" stroke="#111" stroke-width="1.3"/>
<line x1="330.5" y1="327.3" x2="334.5" y2="327.3" stroke="#111" stroke-width="1.3"/>
<line x1="330.5" y1="360.4" x2="334.5" y2="360.4" stroke="#111" stroke-width="1.3"/>
<line x1="330.5" y1="394.1" x2="334.5" y2="394.1" stroke="#111" stroke-width="1.3"/>
<line x1="332.0" y1="266.5" x2="334.5" y2="266.5" stroke="#222" stroke-width="1"/>
<line x1="332.0" y1="273.3" x2="334.5" y2="273.3" stroke="#222" stroke-width="1"/>
<line x1="332.0" y1="280.2" x2="334.5" y2="280.2" stroke="#222" stroke-width="1"/>
<line x1="332.0" y1="287.0" x2="334.5" y2="287.0" stroke="#222" stroke-width="1"/>
<line x1="332.0" y1="300.5" x2="334.5" y2="300.5" stroke="#222" stroke-width="1"/>
<line x1="332.0" y1="307.2" x2="334.5" y2="307.2" stroke="#222" stroke-width="1"/>
<line x1="332.0" y1="313.9" x2="334.5" y2="313.9" stroke="#222" stroke-width="1"/>
<line x1="332.0" y1="320.6" x2="334.5" y2="320.6" stroke="#222" stroke-width="1"/>
<line x1="332.0" y1="333.9" x2="334.5" y2="333.9" stroke="#222" stroke-width="1"/>
<line x1="332.0" y1="340.5" x2="334.5" y2="340.5" stroke="#222" stroke-width="1"/>
<line x1="332.0" y1="347.2" x2="334.5" y2="347.2" stroke="#222" stroke-width="1"/>
<line x1="332.0" y1="353.8" x2="334.5" y2="353.8" stroke="#222" stroke-width="1"/>
<line x1="332.0" y1="367.1" x2="334.5" y2="367.1" stroke="#222" stroke-width="1"/>
<line x1="332.0" y1="373.9" x2="334.5" y2="373.9" stroke="#222" stroke-width="1"/>
<line x1="332.0" y1="380.6" x2="334.5" y2="380.6" stroke="#222" stroke-width="1"/>
<line x1="332.0" y1="387.4" x2="334.5" y2="387.4" stroke="#222" stroke-width="1"/>
<text x="328.0" y="263.7" font-size="11.66" fill="#333" text-anchor="end" textLength="21.5" lengthAdjust="spacingAndGlyphs">680</text>
<text x="328.0" y="297.8" font-size="11.66" fill="#333" text-anchor="end" textLength="21.5" lengthAdjust="spacingAndGlyphs">510</text>
<text x="328.0" y="331.3" font-size="11.66" fill="#333" text-anchor="end" textLength="21.5" lengthAdjust="spacingAndGlyphs">340</text>
<text x="328.0" y="364.4" font-size="11.66" fill="#333" text-anchor="end" textLength="21.5" lengthAdjust="spacingAndGlyphs">170</text>
<text x="328.0" y="398.1" font-size="11.66" fill="#333" text-anchor="end" textLength="6.1" lengthAdjust="spacingAndGlyphs">0</text>
<line x1="334.5" y1="394.1" x2="334.5" y2="398.6" stroke="#111" stroke-width="1.3"/>
<line x1="359.8" y1="394.1" x2="359.8" y2="398.6" stroke="#111" stroke-width="1.3"/>
<line x1="385.1" y1="394.1" x2="385.1" y2="398.6" stroke="#111" stroke-width="1.3"/>
<line x1="410.4" y1="394.1" x2="410.4" y2="398.6" stroke="#111" stroke-width="1.3"/>
<line x1="435.7" y1="394.1" x2="435.7" y2="398.6" stroke="#111" stroke-width="1.3"/>
<line x1="461.0" y1="394.1" x2="461.0" y2="398.6" stroke="#111" stroke-width="1.3"/>
<line x1="342.1" y1="394.1" x2="342.1" y2="396.6" stroke="#222" stroke-width="0.9"/>
<line x1="346.6" y1="394.1" x2="346.6" y2="396.6" stroke="#222" stroke-width="0.9"/>
<line x1="349.7" y1="394.1" x2="349.7" y2="396.6" stroke="#222" stroke-width="0.9"/>
<line x1="352.2" y1="394.1" x2="352.2" y2="396.6" stroke="#222" stroke-width="0.9"/>
<line x1="354.2" y1="394.1" x2="354.2" y2="396.6" stroke="#222" stroke-width="0.9"/>
<line x1="355.9" y1="394.1" x2="355.9" y2="396.6" stroke="#222" stroke-width="0.9"/>
<line x1="357.3" y1="394.1" x2="357.3" y2="396.6" stroke="#222" stroke-width="0.9"/>
<line x1="358.6" y1="394.1" x2="358.6" y2="396.6" stroke="#222" stroke-width="0.9"/>
<line x1="367.4" y1="394.1" x2="367.4" y2="396.6" stroke="#222" stroke-width="0.9"/>
<line x1="371.9" y1="394.1" x2="371.9" y2="396.6" stroke="#222" stroke-width="0.9"/>
<line x1="375.0" y1="394.1" x2="375.0" y2="396.6" stroke="#222" stroke-width="0.9"/>
<line x1="377.5" y1="394.1" x2="377.5" y2="396.6" stroke="#222" stroke-width="0.9"/>
<line x1="379.5" y1="394.1" x2="379.5" y2="396.6" stroke="#222" stroke-width="0.9"/>
<line x1="381.2" y1="394.1" x2="381.2" y2="396.6" stroke="#222" stroke-width="0.9"/>
<line x1="382.6" y1="394.1" x2="382.6" y2="396.6" stroke="#222" stroke-width="0.9"/>
<line x1="383.9" y1="394.1" x2="383.9" y2="396.6" stroke="#222" stroke-width="0.9"/>
<line x1="392.7" y1="394.1" x2="392.7" y2="396.6" stroke="#222" stroke-width="0.9"/>
<line x1="397.2" y1="394.1" x2="397.2" y2="396.6" stroke="#222" stroke-width="0.9"/>
<line x1="400.3" y1="394.1" x2="400.3" y2="396.6" stroke="#222" stroke-width="0.9"/>
<line x1="402.8" y1="394.1" x2="402.8" y2="396.6" stroke="#222" stroke-width="0.9"/>
<line x1="404.8" y1="394.1" x2="404.8" y2="396.6" stroke="#222" stroke-width="0.9"/>
<line x1="406.5" y1="394.1" x2="406.5" y2="396.6" stroke="#222" stroke-width="0.9"/>
<line x1="407.9" y1="394.1" x2="407.9" y2="396.6" stroke="#222" stroke-width="0.9"/>
<line x1="409.2" y1="394.1" x2="409.2" y2="396.6" stroke="#222" stroke-width="0.9"/>
<line x1="418.0" y1="394.1" x2="418.0" y2="396.6" stroke="#222" stroke-width="0.9"/>
<line x1="422.5" y1="394.1" x2="422.5" y2="396.6" stroke="#222" stroke-width="0.9"/>
<line x1="425.6" y1="394.1" x2="425.6" y2="396.6" stroke="#222" stroke-width="0.9"/>
<line x1="428.1" y1="394.1" x2="428.1" y2="396.6" stroke="#222" stroke-width="0.9"/>
<line x1="430.1" y1="394.1" x2="430.1" y2="396.6" stroke="#222" stroke-width="0.9"/>
<line x1="431.8" y1="394.1" x2="431.8" y2="396.6" stroke="#222" stroke-width="0.9"/>
<line x1="433.2" y1="394.1" x2="433.2" y2="396.6" stroke="#222" stroke-width="0.9"/>
<line x1="434.5" y1="394.1" x2="434.5" y2="396.6" stroke="#222" stroke-width="0.9"/>
<line x1="443.3" y1="394.1" x2="443.3" y2="396.6" stroke="#222" stroke-width="0.9"/>
<line x1="447.8" y1="394.1" x2="447.8" y2="396.6" stroke="#222" stroke-width="0.9"/>
<line x1="450.9" y1="394.1" x2="450.9" y2="396.6" stroke="#222" stroke-width="0.9"/>
<line x1="453.4" y1="394.1" x2="453.4" y2="396.6" stroke="#222" stroke-width="0.9"/>
<line x1="455.4" y1="394.1" x2="455.4" y2="396.6" stroke="#222" stroke-width="0.9"/>
<line x1="457.1" y1="394.1" x2="457.1" y2="396.6" stroke="#222" stroke-width="0.9"/>
<line x1="458.5" y1="394.1" x2="458.5" y2="396.6" stroke="#222" stroke-width="0.9"/>
<line x1="459.8" y1="394.1" x2="459.8" y2="396.6" stroke="#222" stroke-width="0.9"/>
<text x="334.1" y="416.6" font-size="12.19" fill="#333" text-anchor="end" textLength="13.5" lengthAdjust="spacingAndGlyphs">10</text>
<text x="334.3" y="409.3" font-size="7.63" fill="#333" textLength="4.0" lengthAdjust="spacingAndGlyphs">0</text>
<text x="359.4" y="416.6" font-size="12.19" fill="#333" text-anchor="end" textLength="13.5" lengthAdjust="spacingAndGlyphs">10</text>
<text x="359.6" y="409.3" font-size="7.63" fill="#333" textLength="4.0" lengthAdjust="spacingAndGlyphs">1</text>
<text x="384.7" y="416.6" font-size="12.19" fill="#333" text-anchor="end" textLength="13.5" lengthAdjust="spacingAndGlyphs">10</text>
<text x="384.9" y="409.3" font-size="7.63" fill="#333" textLength="4.0" lengthAdjust="spacingAndGlyphs">2</text>
<text x="410.0" y="416.6" font-size="12.19" fill="#333" text-anchor="end" textLength="13.5" lengthAdjust="spacingAndGlyphs">10</text>
<text x="410.2" y="409.3" font-size="7.63" fill="#333" textLength="4.0" lengthAdjust="spacingAndGlyphs">3</text>
<text x="435.3" y="416.6" font-size="12.19" fill="#333" text-anchor="end" textLength="13.5" lengthAdjust="spacingAndGlyphs">10</text>
<text x="435.5" y="409.3" font-size="7.63" fill="#333" textLength="4.0" lengthAdjust="spacingAndGlyphs">4</text>
<text x="460.6" y="416.6" font-size="12.19" fill="#333" text-anchor="end" textLength="13.5" lengthAdjust="spacingAndGlyphs">10</text>
<text x="460.8" y="409.3" font-size="7.63" fill="#333" textLength="4.0" lengthAdjust="spacingAndGlyphs">5</text>
<text x="393.7" y="250.5" font-size="26.92" text-anchor="middle" textLength="62.1" lengthAdjust="spacingAndGlyphs">SP53</text>
<polyline points="334.5,388.5 338.0,387.5 342.2,389.5 343.2,393.5 359.2,393.5 359.2,393.5 359.8,391.3 360.4,392.5 361.0,391.2 361.6,391.9 362.2,390.0 362.8,392.0 363.4,389.6 364.0,390.3 364.6,386.9 365.2,387.7 365.8,385.2 366.4,386.8 367.0,384.5 367.6,384.5 368.2,381.7 368.8,384.2 369.4,379.3 370.0,382.1 370.6,380.1 371.2,379.6 371.8,376.8 372.4,377.9 373.0,375.9 373.6,375.1 374.2,369.6 374.8,371.2 375.4,369.2 376.0,369.2 376.6,364.7 377.2,362.5 377.8,356.0 378.4,356.9 379.0,351.7 379.6,350.8 380.2,347.6 380.8,342.4 381.4,334.7 382.0,330.9 382.6,322.1 383.2,317.5 383.8,308.9 384.4,305.5 385.0,296.6 385.6,290.5 386.2,283.7 386.8,278.7 387.4,269.7 388.0,266.8 388.6,260.8 389.2,263.9 389.8,268.5 390.4,273.3 391.0,277.7 391.6,284.5 392.2,291.7 392.8,300.2 393.4,308.0 394.0,316.5 394.6,324.0 395.2,332.3 395.8,340.0 396.4,348.5 397.0,356.4 397.6,363.6 398.2,369.8 398.8,377.0 399.4,383.4 400.0,393.5" fill="none" stroke="#111" stroke-width="0.9" stroke-linejoin="round"/>
<polyline points="378.3,393.5 378.9,393.3 379.5,393.3 380.1,392.4 380.7,392.4 381.3,391.8 381.9,392.0 382.5,391.2 383.1,391.4 383.7,390.3 384.3,390.9 384.9,387.3 385.5,384.7 386.1,381.3 386.7,378.5 387.3,375.4 387.9,372.7 388.5,368.8 389.1,364.9 389.7,360.5 390.3,356.3 390.9,351.7 391.5,348.1 392.1,343.4 392.7,337.9 393.3,331.5 393.9,325.5 394.5,318.8 395.1,312.7 395.7,306.4 396.3,300.5 396.9,294.4 397.5,289.0 398.1,283.3 398.7,278.1 399.3,273.1 399.9,270.2 400.5,266.6 401.1,263.3 401.7,266.0 402.3,272.8 402.9,278.8 403.5,286.6 404.1,293.3 404.7,297.1 405.3,298.1 405.9,299.6 406.5,304.3 407.1,310.0 407.7,314.9 408.3,320.9 408.9,325.8 409.5,331.9 410.1,339.6 410.7,348.0 411.3,355.3 411.9,364.0 412.5,371.1 413.1,375.4 413.7,379.9 414.3,384.5 414.9,392.5" fill="none" stroke="#d83030" stroke-width="1.0" stroke-linejoin="round"/>
<line x1="600.0" y1="79.1" x2="600.0" y2="267.4" stroke="#1a1a1a" stroke-width="2"/>
<line x1="599.0" y1="266.4" x2="1004.6" y2="266.4" stroke="#1a1a1a" stroke-width="2"/>
<line x1="594.0" y1="266.4" x2="600.0" y2="266.4" stroke="#1a1a1a" stroke-width="1.8"/>
<text x="592.0" y="270.6" font-size="12.72" font-weight="bold" fill="#222" text-anchor="end" textLength="6.7" lengthAdjust="spacingAndGlyphs">0</text>
<line x1="594.0" y1="219.7" x2="600.0" y2="219.7" stroke="#1a1a1a" stroke-width="1.8"/>
<text x="592.0" y="223.9" font-size="12.72" font-weight="bold" fill="#222" text-anchor="end" textLength="20.6" lengthAdjust="spacingAndGlyphs">100</text>
<line x1="594.0" y1="173.0" x2="600.0" y2="173.0" stroke="#1a1a1a" stroke-width="1.8"/>
<text x="592.0" y="177.2" font-size="12.72" font-weight="bold" fill="#222" text-anchor="end" textLength="20.6" lengthAdjust="spacingAndGlyphs">200</text>
<line x1="594.0" y1="126.3" x2="600.0" y2="126.3" stroke="#1a1a1a" stroke-width="1.8"/>
<text x="592.0" y="130.5" font-size="12.72" font-weight="bold" fill="#222" text-anchor="end" textLength="20.6" lengthAdjust="spacingAndGlyphs">300</text>
<line x1="594.0" y1="79.6" x2="600.0" y2="79.6" stroke="#1a1a1a" stroke-width="1.8"/>
<text x="592.0" y="83.8" font-size="12.72" font-weight="bold" fill="#222" text-anchor="end" textLength="20.6" lengthAdjust="spacingAndGlyphs">400</text>
<line x1="650.0" y1="266.4" x2="650.0" y2="272.4" stroke="#1a1a1a" stroke-width="1.8"/>
<text x="650.5" y="285.0" font-size="12.72" font-weight="bold" fill="#222" text-anchor="middle" textLength="67.4" lengthAdjust="spacingAndGlyphs">C1R-CD1d</text>
<line x1="631.9" y1="172.5" x2="631.9" y2="175.8" stroke="#1a1a1a" stroke-width="2"/>
<line x1="625.4" y1="172.5" x2="638.4" y2="172.5" stroke="#1a1a1a" stroke-width="2.4"/>
<rect x="619.6" y="176.8" width="24.5" height="89.6" fill="#d6d6d6" stroke="#1a1a1a" stroke-width="2"/>
<line x1="669.6" y1="137.2" x2="669.6" y2="139.6" stroke="#1a1a1a" stroke-width="2"/>
<line x1="662.6" y1="137.2" x2="676.6" y2="137.2" stroke="#1a1a1a" stroke-width="2.4"/>
<rect x="656.4" y="139.6" width="26.5" height="126.8" fill="#1a1a1a"/>
<line x1="751.7" y1="266.4" x2="751.7" y2="272.4" stroke="#1a1a1a" stroke-width="1.8"/>
<text x="752.2" y="285.0" font-size="12.72" font-weight="bold" fill="#222" text-anchor="middle" textLength="44.5" lengthAdjust="spacingAndGlyphs">Farage</text>
<line x1="722.3" y1="265.4" x2="744.8" y2="265.4" stroke="#1a1a1a" stroke-width="1.5"/>
<line x1="771.4" y1="179.8" x2="771.4" y2="182.1" stroke="#1a1a1a" stroke-width="2"/>
<line x1="764.4" y1="179.8" x2="778.4" y2="179.8" stroke="#1a1a1a" stroke-width="2.4"/>
<rect x="758.1" y="182.1" width="26.5" height="84.3" fill="#1a1a1a"/>
<line x1="852.5" y1="266.4" x2="852.5" y2="272.4" stroke="#1a1a1a" stroke-width="1.8"/>
<text x="853.0" y="285.0" font-size="12.72" font-weight="bold" fill="#222" text-anchor="middle" textLength="33.1" lengthAdjust="spacingAndGlyphs">JeKo</text>
<rect x="822.1" y="257.9" width="24.5" height="8.5" fill="#d6d6d6" stroke="#1a1a1a" stroke-width="2"/>
<line x1="872.1" y1="112.9" x2="872.1" y2="117.7" stroke="#1a1a1a" stroke-width="2"/>
<line x1="865.1" y1="112.9" x2="879.1" y2="112.9" stroke="#1a1a1a" stroke-width="2.4"/>
<rect x="858.9" y="117.7" width="26.5" height="148.7" fill="#1a1a1a"/>
<line x1="954.2" y1="266.4" x2="954.2" y2="272.4" stroke="#1a1a1a" stroke-width="1.8"/>
<text x="954.7" y="285.0" font-size="12.72" font-weight="bold" fill="#222" text-anchor="middle" textLength="33.1" lengthAdjust="spacingAndGlyphs">SP53</text>
<rect x="923.8" y="265.1" width="24.5" height="1.3" fill="#d6d6d6" stroke="#1a1a1a" stroke-width="2"/>
<line x1="973.9" y1="117.1" x2="973.9" y2="122.6" stroke="#1a1a1a" stroke-width="2"/>
<line x1="966.9" y1="117.1" x2="980.9" y2="117.1" stroke="#1a1a1a" stroke-width="2.4"/>
<rect x="960.6" y="122.6" width="26.5" height="143.8" fill="#1a1a1a"/>
<rect x="899.0" y="46.5" width="20.5" height="10.5" fill="#d6d6d6" stroke="#1a1a1a" stroke-width="2"/>
<rect x="898.0" y="67.6" width="22.2" height="13.3" fill="#1a1a1a"/>
<text x="930.1" y="57.4" font-size="15.37" fill="#222" textLength="52.7" lengthAdjust="spacingAndGlyphs">Medium</text>
<text x="930.1" y="80.3" font-size="15.37" fill="#222" textLength="62.4" lengthAdjust="spacingAndGlyphs"><tspan font-family="Liberation Serif" font-style="italic">α</tspan>-GalCer</text>
<text x="801.2" y="307.8" font-size="15.16" font-weight="bold" fill="#222" text-anchor="middle" textLength="131.1" lengthAdjust="spacingAndGlyphs">Human B cell lines</text>
<text x="562.6" y="172.7" font-size="14" font-weight="bold" fill="#222" text-anchor="middle" textLength="97.2" lengthAdjust="spacingAndGlyphs" transform="rotate(-90 562.6 172.7)">IFN-<tspan font-family="Liberation Serif" font-style="italic" font-weight="normal">γ</tspan> (pg/mL)</text>
<line x1="599.3" y1="404.0" x2="599.3" y2="429.4" stroke="#1a1a1a" stroke-width="2.6"/>
<line x1="599.3" y1="439.3" x2="599.3" y2="542.2" stroke="#1a1a1a" stroke-width="2.6"/>
<line x1="597.5" y1="541.5" x2="982.0" y2="541.5" stroke="#333" stroke-width="1.6"/>
<line x1="592.5" y1="404.0" x2="598.5" y2="404.0" stroke="#1a1a1a" stroke-width="1.6"/>
<text x="594.5" y="409.8" font-size="16.96" font-weight="bold" fill="#222" text-anchor="end" textLength="31.8" lengthAdjust="spacingAndGlyphs">1.50</text>
<line x1="592.5" y1="422.8" x2="598.5" y2="422.8" stroke="#1a1a1a" stroke-width="1.6"/>
<text x="594.5" y="428.6" font-size="16.96" font-weight="bold" fill="#222" text-anchor="end" textLength="31.8" lengthAdjust="spacingAndGlyphs">0.75</text>
<line x1="592.5" y1="541.2" x2="598.5" y2="541.2" stroke="#1a1a1a" stroke-width="1.6"/>
<text x="594.5" y="547.0" font-size="16.96" font-weight="bold" fill="#222" text-anchor="end" textLength="22.0" lengthAdjust="spacingAndGlyphs">0.0</text>
<line x1="592.5" y1="520.8" x2="598.5" y2="520.8" stroke="#1a1a1a" stroke-width="1.6"/>
<text x="594.5" y="526.6" font-size="16.96" font-weight="bold" fill="#222" text-anchor="end" textLength="22.0" lengthAdjust="spacingAndGlyphs">0.1</text>
<line x1="592.5" y1="500.4" x2="598.5" y2="500.4" stroke="#1a1a1a" stroke-width="1.6"/>
<text x="594.5" y="506.2" font-size="16.96" font-weight="bold" fill="#222" text-anchor="end" textLength="22.0" lengthAdjust="spacingAndGlyphs">0.2</text>
<line x1="592.5" y1="480.1" x2="598.5" y2="480.1" stroke="#1a1a1a" stroke-width="1.6"/>
<text x="594.5" y="485.9" font-size="16.96" font-weight="bold" fill="#222" text-anchor="end" textLength="22.0" lengthAdjust="spacingAndGlyphs">0.3</text>
<line x1="592.5" y1="459.7" x2="598.5" y2="459.7" stroke="#1a1a1a" stroke-width="1.6"/>
<text x="594.5" y="465.5" font-size="16.96" font-weight="bold" fill="#222" text-anchor="end" textLength="22.0" lengthAdjust="spacingAndGlyphs">0.4</text>
<line x1="592.5" y1="439.3" x2="598.5" y2="439.3" stroke="#1a1a1a" stroke-width="1.6"/>
<text x="594.5" y="445.1" font-size="16.96" font-weight="bold" fill="#222" text-anchor="end" textLength="22.0" lengthAdjust="spacingAndGlyphs">0.5</text>
<line x1="595.5" y1="539.2" x2="598.5" y2="539.2" stroke="#333" stroke-width="0.9"/>
<line x1="595.5" y1="537.1" x2="598.5" y2="537.1" stroke="#333" stroke-width="0.9"/>
<line x1="595.5" y1="535.1" x2="598.5" y2="535.1" stroke="#333" stroke-width="0.9"/>
<line x1="595.5" y1="533.0" x2="598.5" y2="533.0" stroke="#333" stroke-width="0.9"/>
<line x1="595.5" y1="531.0" x2="598.5" y2="531.0" stroke="#333" stroke-width="0.9"/>
<line x1="595.5" y1="529.0" x2="598.5" y2="529.0" stroke="#333" stroke-width="0.9"/>
<line x1="595.5" y1="526.9" x2="598.5" y2="526.9" stroke="#333" stroke-width="0.9"/>
<line x1="595.5" y1="524.9" x2="598.5" y2="524.9" stroke="#333" stroke-width="0.9"/>
<line x1="595.5" y1="522.9" x2="598.5" y2="522.9" stroke="#333" stroke-width="0.9"/>
<line x1="595.5" y1="518.8" x2="598.5" y2="518.8" stroke="#333" stroke-width="0.9"/>
<line x1="595.5" y1="516.7" x2="598.5" y2="516.7" stroke="#333" stroke-width="0.9"/>
<line x1="595.5" y1="514.7" x2="598.5" y2="514.7" stroke="#333" stroke-width="0.9"/>
<line x1="595.5" y1="512.7" x2="598.5" y2="512.7" stroke="#333" stroke-width="0.9"/>
<line x1="595.5" y1="510.6" x2="598.5" y2="510.6" stroke="#333" stroke-width="0.9"/>
<line x1="595.5" y1="508.6" x2="598.5" y2="508.6" stroke="#333" stroke-width="0.9"/>
<line x1="595.5" y1="506.6" x2="598.5" y2="506.6" stroke="#333" stroke-width="0.9"/>
<line x1="595.5" y1="504.5" x2="598.5" y2="504.5" stroke="#333" stroke-width="0.9"/>
<line x1="595.5" y1="502.5" x2="598.5" y2="502.5" stroke="#333" stroke-width="0.9"/>
<line x1="595.5" y1="498.4" x2="598.5" y2="498.4" stroke="#333" stroke-width="0.9"/>
<line x1="595.5" y1="496.4" x2="598.5" y2="496.4" stroke="#333" stroke-width="0.9"/>
<line x1="595.5" y1="494.3" x2="598.5" y2="494.3" stroke="#333" stroke-width="0.9"/>
<line x1="595.5" y1="492.3" x2="598.5" y2="492.3" stroke="#333" stroke-width="0.9"/>
<line x1="595.5" y1="490.3" x2="598.5" y2="490.3" stroke="#333" stroke-width="0.9"/>
<line x1="595.5" y1="488.2" x2="598.5" y2="488.2" stroke="#333" stroke-width="0.9"/>
<line x1="595.5" y1="486.2" x2="598.5" y2="486.2" stroke="#333" stroke-width="0.9"/>
<line x1="595.5" y1="484.1" x2="598.5" y2="484.1" stroke="#333" stroke-width="0.9"/>
<line x1="595.5" y1="482.1" x2="598.5" y2="482.1" stroke="#333" stroke-width="0.9"/>
<line x1="595.5" y1="478.0" x2="598.5" y2="478.0" stroke="#333" stroke-width="0.9"/>
<line x1="595.5" y1="476.0" x2="598.5" y2="476.0" stroke="#333" stroke-width="0.9"/>
<line x1="595.5" y1="473.9" x2="598.5" y2="473.9" stroke="#333" stroke-width="0.9"/>
<line x1="595.5" y1="471.9" x2="598.5" y2="471.9" stroke="#333" stroke-width="0.9"/>
<line x1="595.5" y1="469.9" x2="598.5" y2="469.9" stroke="#333" stroke-width="0.9"/>
<line x1="595.5" y1="467.8" x2="598.5" y2="467.8" stroke="#333" stroke-width="0.9"/>
<line x1="595.5" y1="465.8" x2="598.5" y2="465.8" stroke="#333" stroke-width="0.9"/>
<line x1="595.5" y1="463.8" x2="598.5" y2="463.8" stroke="#333" stroke-width="0.9"/>
<line x1="595.5" y1="461.7" x2="598.5" y2="461.7" stroke="#333" stroke-width="0.9"/>
<line x1="595.5" y1="457.6" x2="598.5" y2="457.6" stroke="#333" stroke-width="0.9"/>
<line x1="595.5" y1="455.6" x2="598.5" y2="455.6" stroke="#333" stroke-width="0.9"/>
<line x1="595.5" y1="453.6" x2="598.5" y2="453.6" stroke="#333" stroke-width="0.9"/>
<line x1="595.5" y1="451.5" x2="598.5" y2="451.5" stroke="#333" stroke-width="0.9"/>
<line x1="595.5" y1="449.5" x2="598.5" y2="449.5" stroke="#333" stroke-width="0.9"/>
<line x1="595.5" y1="447.5" x2="598.5" y2="447.5" stroke="#333" stroke-width="0.9"/>
<line x1="595.5" y1="445.4" x2="598.5" y2="445.4" stroke="#333" stroke-width="0.9"/>
<line x1="595.5" y1="443.4" x2="598.5" y2="443.4" stroke="#333" stroke-width="0.9"/>
<line x1="595.5" y1="441.3" x2="598.5" y2="441.3" stroke="#333" stroke-width="0.9"/>
<line x1="595.5" y1="408.2" x2="598.5" y2="408.2" stroke="#333" stroke-width="0.9"/>
<line x1="595.5" y1="412.5" x2="598.5" y2="412.5" stroke="#333" stroke-width="0.9"/>
<line x1="595.5" y1="416.7" x2="598.5" y2="416.7" stroke="#333" stroke-width="0.9"/>
<line x1="595.5" y1="420.9" x2="598.5" y2="420.9" stroke="#333" stroke-width="0.9"/>
<line x1="595.5" y1="425.2" x2="598.5" y2="425.2" stroke="#333" stroke-width="0.9"/>
<line x1="598.5" y1="429.4" x2="603.0" y2="429.4" stroke="#1a1a1a" stroke-width="1.6"/>
<line x1="595.5" y1="439.8" x2="603.0" y2="439.8" stroke="#1a1a1a" stroke-width="1.6"/>
<line x1="631.5" y1="541.5" x2="631.5" y2="546.5" stroke="#333" stroke-width="1.5"/>
<text x="636.0" y="562.5" font-size="16.6" font-weight="bold" fill="#222" text-anchor="end" transform="rotate(-45 636.0 562.5)">Healthy (n=28)</text>
<line x1="695.5" y1="541.5" x2="695.5" y2="546.5" stroke="#333" stroke-width="1.5"/>
<text x="700.0" y="562.5" font-size="16.6" font-weight="bold" fill="#222" text-anchor="end" transform="rotate(-45 700.0 562.5)">Hodgkins (n=17)</text>
<line x1="759.2" y1="541.5" x2="759.2" y2="546.5" stroke="#333" stroke-width="1.5"/>
<text x="763.7" y="562.5" font-size="16.6" font-weight="bold" fill="#222" text-anchor="end" transform="rotate(-45 763.7 562.5)">MZL (n=9)</text>
<line x1="822.5" y1="541.5" x2="822.5" y2="546.5" stroke="#333" stroke-width="1.5"/>
<text x="827.0" y="562.5" font-size="16.6" font-weight="bold" fill="#222" text-anchor="end" transform="rotate(-45 827.0 562.5)">DLBCL (n=29)</text>
<line x1="885.9" y1="541.5" x2="885.9" y2="546.5" stroke="#333" stroke-width="1.5"/>
<text x="890.4" y="562.5" font-size="16.6" font-weight="bold" fill="#222" text-anchor="end" transform="rotate(-45 890.4 562.5)">MCL (n=9)</text>
<line x1="949.7" y1="541.5" x2="949.7" y2="546.5" stroke="#333" stroke-width="1.5"/>
<text x="954.2" y="562.5" font-size="16.6" font-weight="bold" fill="#222" text-anchor="end" transform="rotate(-45 954.2 562.5)">FL (n=18)</text>
<text x="552.6" y="468.0" font-size="14.6" font-weight="bold" fill="#222" text-anchor="middle" textLength="165.0" lengthAdjust="spacingAndGlyphs" transform="rotate(-90 552.6 468.0)">% NKT cells in PBMC</text>
<line x1="706.5" y1="451.7" x2="943.3" y2="451.7" stroke="#333" stroke-width="2.3"/>
<line x1="706.5" y1="447.4" x2="706.5" y2="456.3" stroke="#333" stroke-width="2"/>
<line x1="943.3" y1="447.4" x2="943.3" y2="456.3" stroke="#333" stroke-width="2"/>
<line x1="807.0" y1="447.5" x2="807.0" y2="440.1" stroke="#2a2a2a" stroke-width="1.9"/>
<line x1="803.8" y1="445.7" x2="810.2" y2="441.9" stroke="#2a2a2a" stroke-width="1.9"/>
<line x1="803.8" y1="441.9" x2="810.2" y2="445.7" stroke="#2a2a2a" stroke-width="1.9"/>
<line x1="816.7" y1="447.5" x2="816.7" y2="440.1" stroke="#2a2a2a" stroke-width="1.9"/>
<line x1="813.5" y1="445.7" x2="819.9" y2="441.9" stroke="#2a2a2a" stroke-width="1.9"/>
<line x1="813.5" y1="441.9" x2="819.9" y2="445.7" stroke="#2a2a2a" stroke-width="1.9"/>
<line x1="826.4" y1="447.5" x2="826.4" y2="440.1" stroke="#2a2a2a" stroke-width="1.9"/>
<line x1="823.2" y1="445.7" x2="829.6" y2="441.9" stroke="#2a2a2a" stroke-width="1.9"/>
<line x1="823.2" y1="441.9" x2="829.6" y2="445.7" stroke="#2a2a2a" stroke-width="1.9"/>
<circle cx="628.3" cy="406.2" r="2.7" fill="#111"/>
<circle cx="636.0" cy="413.9" r="2.7" fill="#111"/>
<circle cx="619.4" cy="423.4" r="2.7" fill="#111"/>
<circle cx="628.3" cy="427.8" r="2.7" fill="#111"/>
<circle cx="636.0" cy="423.4" r="2.7" fill="#111"/>
<circle cx="643.7" cy="423.4" r="2.7" fill="#111"/>
<circle cx="632.2" cy="462.0" r="2.7" fill="#111"/>
<circle cx="628.3" cy="480.1" r="2.7" fill="#111"/>
<circle cx="636.0" cy="480.1" r="2.7" fill="#111"/>
<circle cx="619.4" cy="490.7" r="2.7" fill="#111"/>
<circle cx="643.7" cy="490.7" r="2.7" fill="#111"/>
<circle cx="627.8" cy="496.7" r="2.7" fill="#111"/>
<circle cx="636.0" cy="498.4" r="2.7" fill="#111"/>
<circle cx="615.5" cy="511.0" r="2.7" fill="#111"/>
<circle cx="623.8" cy="513.2" r="2.7" fill="#111"/>
<circle cx="632.2" cy="516.5" r="2.7" fill="#111"/>
<circle cx="640.4" cy="516.5" r="2.7" fill="#111"/>
<circle cx="648.6" cy="511.0" r="2.7" fill="#111"/>
<circle cx="613.9" cy="518.7" r="2.7" fill="#111"/>
<circle cx="621.2" cy="521.4" r="2.7" fill="#111"/>
<circle cx="628.3" cy="523.1" r="2.7" fill="#111"/>
<circle cx="636.0" cy="523.1" r="2.7" fill="#111"/>
<circle cx="642.6" cy="523.1" r="2.7" fill="#111"/>
<circle cx="649.7" cy="521.4" r="2.7" fill="#111"/>
<circle cx="619.4" cy="533.7" r="2.7" fill="#111"/>
<circle cx="627.8" cy="537.5" r="2.7" fill="#111"/>
<circle cx="636.0" cy="535.3" r="2.7" fill="#111"/>
<circle cx="643.7" cy="533.7" r="2.7" fill="#111"/>
<line x1="610.6" y1="479.0" x2="653.6" y2="479.0" stroke="#333" stroke-width="1.6"/>
<line x1="621.2" y1="492.3" x2="643.3" y2="492.3" stroke="#222" stroke-width="1.8"/>
<line x1="621.2" y1="465.8" x2="643.3" y2="465.8" stroke="#222" stroke-width="1.8"/>
<line x1="631.6" y1="492.3" x2="631.6" y2="465.8" stroke="#222" stroke-width="1.8"/>
<rect x="693.2" y="502.7" width="4.6" height="4.6" fill="#111"/>
<rect x="693.2" y="517.3" width="4.6" height="4.6" fill="#111"/>
<rect x="680.7" y="525.2" width="4.6" height="4.6" fill="#111"/>
<rect x="705.6" y="526.1" width="4.6" height="4.6" fill="#111"/>
<rect x="675.2" y="531.2" width="4.6" height="4.6" fill="#111"/>
<rect x="679.2" y="531.2" width="4.6" height="4.6" fill="#111"/>
<rect x="683.2" y="531.2" width="4.6" height="4.6" fill="#111"/>
<rect x="687.2" y="531.2" width="4.6" height="4.6" fill="#111"/>
<rect x="691.2" y="531.2" width="4.6" height="4.6" fill="#111"/>
<rect x="695.2" y="531.2" width="4.6" height="4.6" fill="#111"/>
<rect x="699.2" y="531.2" width="4.6" height="4.6" fill="#111"/>
<rect x="703.2" y="531.2" width="4.6" height="4.6" fill="#111"/>
<rect x="707.2" y="531.2" width="4.6" height="4.6" fill="#111"/>
<rect x="711.2" y="531.2" width="4.6" height="4.6" fill="#111"/>
<rect x="685.7" y="534.2" width="4.6" height="4.6" fill="#111"/>
<rect x="689.7" y="534.2" width="4.6" height="4.6" fill="#111"/>
<rect x="693.7" y="534.2" width="4.6" height="4.6" fill="#111"/>
<rect x="697.7" y="534.2" width="4.6" height="4.6" fill="#111"/>
<rect x="701.7" y="534.2" width="4.6" height="4.6" fill="#111"/>
<rect x="705.7" y="534.2" width="4.6" height="4.6" fill="#111"/>
<rect x="674.2" y="530.2" width="4.6" height="4.6" fill="#111"/>
<rect x="712.7" y="530.2" width="4.6" height="4.6" fill="#111"/>
<rect x="693.3" y="539.2" width="4.6" height="4.6" fill="#111"/>
<polygon points="693.3,542.5 697.9,542.5 695.6,546.5" fill="#111"/>
<line x1="675.0" y1="531.3" x2="716.0" y2="531.3" stroke="#333" stroke-width="1.6"/>
<polygon points="756.4,506.0 762.0,506.0 759.2,501.2" fill="#111"/>
<polygon points="752.3,518.1 757.9,518.1 755.1,513.3" fill="#111"/>
<polygon points="760.3,524.0 765.9,524.0 763.1,519.2" fill="#111"/>
<polygon points="738.8,538.6 744.4,538.6 741.6,533.8" fill="#111"/>
<polygon points="774.0,538.6 779.6,538.6 776.8,533.8" fill="#111"/>
<polygon points="745.1,543.9 750.7,543.9 747.9,539.1" fill="#111"/>
<polygon points="752.5,543.9 758.1,543.9 755.3,539.1" fill="#111"/>
<polygon points="759.7,543.9 765.3,543.9 762.5,539.1" fill="#111"/>
<polygon points="767.0,541.9 772.6,541.9 769.8,537.1" fill="#111"/>
<line x1="738.1" y1="530.7" x2="780.1" y2="530.7" stroke="#333" stroke-width="1.6"/>
<line x1="748.3" y1="535.2" x2="770.3" y2="535.2" stroke="#222" stroke-width="1.8"/>
<line x1="748.3" y1="526.0" x2="770.3" y2="526.0" stroke="#222" stroke-width="1.8"/>
<line x1="759.2" y1="535.2" x2="759.2" y2="526.0" stroke="#222" stroke-width="1.8"/>
<polygon points="819.8,459.6 825.2,459.6 822.5,464.2" fill="#111"/>
<polygon points="819.7,496.4 825.1,496.4 822.4,501.0" fill="#111"/>
<polygon points="828.1,498.2 833.5,498.2 830.8,502.8" fill="#111"/>
<polygon points="811.6,506.7 817.0,506.7 814.3,511.3" fill="#111"/>
<polygon points="819.7,506.4 825.1,506.4 822.4,511.0" fill="#111"/>
<polygon points="823.9,512.7 829.3,512.7 826.6,517.3" fill="#111"/>
<polygon points="815.8,518.1 821.2,518.1 818.5,522.7" fill="#111"/>
<polygon points="802.8,520.5 808.2,520.5 805.5,525.1" fill="#111"/>
<polygon points="831.1,520.5 836.5,520.5 833.8,525.1" fill="#111"/>
<polygon points="837.1,520.5 842.5,520.5 839.8,525.1" fill="#111"/>
<polygon points="808.3,522.3 813.7,522.3 811.0,526.9" fill="#111"/>
<polygon points="801.3,531.9 806.7,531.9 804.0,536.5" fill="#111"/>
<polygon points="804.3,534.3 809.7,534.3 807.0,538.9" fill="#111"/>
<polygon points="807.0,535.8 812.4,535.8 809.7,540.4" fill="#111"/>
<polygon points="810.3,537.0 815.7,537.0 813.0,541.6" fill="#111"/>
<polygon points="813.3,537.7 818.7,537.7 816.0,542.3" fill="#111"/>
<polygon points="816.3,538.2 821.7,538.2 819.0,542.8" fill="#111"/>
<polygon points="819.7,540.9 825.1,540.9 822.4,545.5" fill="#111"/>
<polygon points="823.6,539.0 829.0,539.0 826.3,543.6" fill="#111"/>
<polygon points="826.6,537.7 832.0,537.7 829.3,542.3" fill="#111"/>
<polygon points="829.6,536.7 835.0,536.7 832.3,541.3" fill="#111"/>
<polygon points="832.6,534.9 838.0,534.9 835.3,539.5" fill="#111"/>
<polygon points="835.3,533.1 840.7,533.1 838.0,537.7" fill="#111"/>
<polygon points="838.3,529.8 843.7,529.8 841.0,534.4" fill="#111"/>
<polygon points="815.8,530.4 821.2,530.4 818.5,535.0" fill="#111"/>
<polygon points="823.9,530.4 829.3,530.4 826.6,535.0" fill="#111"/>
<polygon points="811.3,532.7 816.7,532.7 814.0,537.3" fill="#111"/>
<polygon points="827.8,532.7 833.2,532.7 830.5,537.3" fill="#111"/>
<polygon points="819.7,535.7 825.1,535.7 822.4,540.3" fill="#111"/>
<line x1="801.6" y1="527.3" x2="843.7" y2="527.3" stroke="#333" stroke-width="1.6"/>
<line x1="810.5" y1="530.6" x2="833.5" y2="530.6" stroke="#222" stroke-width="1.8"/>
<line x1="810.5" y1="523.4" x2="833.5" y2="523.4" stroke="#222" stroke-width="1.8"/>
<line x1="822.4" y1="530.6" x2="822.4" y2="523.4" stroke="#222" stroke-width="1.8"/>
<rect x="883.6" y="466.0" width="4.6" height="4.6" fill="#fff" stroke="#111" stroke-width="1.5"/>
<rect x="883.6" y="498.9" width="4.6" height="4.6" fill="#fff" stroke="#111" stroke-width="1.5"/>
<rect x="879.7" y="513.3" width="4.6" height="4.6" fill="#fff" stroke="#111" stroke-width="1.5"/>
<rect x="887.7" y="513.3" width="4.6" height="4.6" fill="#fff" stroke="#111" stroke-width="1.5"/>
<rect x="883.6" y="523.0" width="4.6" height="4.6" fill="#fff" stroke="#111" stroke-width="1.5"/>
<rect x="871.2" y="535.4" width="4.6" height="4.6" fill="#fff" stroke="#111" stroke-width="1.5"/>
<rect x="879.7" y="539.7" width="4.6" height="4.6" fill="#fff" stroke="#111" stroke-width="1.5"/>
<rect x="887.7" y="535.4" width="4.6" height="4.6" fill="#fff" stroke="#111" stroke-width="1.5"/>
<rect x="896.3" y="533.7" width="4.6" height="4.6" fill="#fff" stroke="#111" stroke-width="1.5"/>
<line x1="864.9" y1="519.5" x2="907.4" y2="519.5" stroke="#333" stroke-width="1.6"/>
<line x1="875.6" y1="527.4" x2="897.1" y2="527.4" stroke="#222" stroke-width="1.8"/>
<line x1="875.6" y1="512.0" x2="897.1" y2="512.0" stroke="#222" stroke-width="1.8"/>
<line x1="885.9" y1="527.4" x2="885.9" y2="512.0" stroke="#222" stroke-width="1.8"/>
<polygon points="942.1,489.8 948.5,489.8 945.3,495.4" fill="#fff" stroke="#111" stroke-width="1.8" stroke-linejoin="round"/>
<polygon points="950.5,489.8 956.9,489.8 953.7,495.4" fill="#fff" stroke="#111" stroke-width="1.8" stroke-linejoin="round"/>
<polygon points="929.1,504.2 935.5,504.2 932.3,509.8" fill="#fff" stroke="#111" stroke-width="1.8" stroke-linejoin="round"/>
<polygon points="963.5,504.2 969.9,504.2 966.7,509.8" fill="#fff" stroke="#111" stroke-width="1.8" stroke-linejoin="round"/>
<polygon points="935.4,512.2 941.8,512.2 938.6,517.8" fill="#fff" stroke="#111" stroke-width="1.8" stroke-linejoin="round"/>
<polygon points="940.5,512.2 946.9,512.2 943.7,517.8" fill="#fff" stroke="#111" stroke-width="1.8" stroke-linejoin="round"/>
<polygon points="945.6,512.2 952.0,512.2 948.8,517.8" fill="#fff" stroke="#111" stroke-width="1.8" stroke-linejoin="round"/>
<polygon points="950.7,512.2 957.1,512.2 953.9,517.8" fill="#fff" stroke="#111" stroke-width="1.8" stroke-linejoin="round"/>
<polygon points="955.8,512.2 962.2,512.2 959.0,517.8" fill="#fff" stroke="#111" stroke-width="1.8" stroke-linejoin="round"/>
<polygon points="959.4,512.2 965.8,512.2 962.6,517.8" fill="#fff" stroke="#111" stroke-width="1.8" stroke-linejoin="round"/>
<polygon points="933.3,527.7 939.7,527.7 936.5,533.3" fill="#fff" stroke="#111" stroke-width="1.8" stroke-linejoin="round"/>
<polygon points="938.2,532.6 944.6,532.6 941.4,538.2" fill="#fff" stroke="#111" stroke-width="1.8" stroke-linejoin="round"/>
<polygon points="942.4,524.9 948.8,524.9 945.6,530.5" fill="#fff" stroke="#111" stroke-width="1.8" stroke-linejoin="round"/>
<polygon points="942.4,529.7 948.8,529.7 945.6,535.3" fill="#fff" stroke="#111" stroke-width="1.8" stroke-linejoin="round"/>
<polygon points="943.5,536.2 949.9,536.2 946.7,541.8" fill="#fff" stroke="#111" stroke-width="1.8" stroke-linejoin="round"/>
<polygon points="948.7,532.6 955.1,532.6 951.9,538.2" fill="#fff" stroke="#111" stroke-width="1.8" stroke-linejoin="round"/>
<polygon points="950.8,524.9 957.2,524.9 954.0,530.5" fill="#fff" stroke="#111" stroke-width="1.8" stroke-linejoin="round"/>
<polygon points="950.8,529.7 957.2,529.7 954.0,535.3" fill="#fff" stroke="#111" stroke-width="1.8" stroke-linejoin="round"/>
<polygon points="954.7,530.5 961.1,530.5 957.9,536.1" fill="#fff" stroke="#111" stroke-width="1.8" stroke-linejoin="round"/>
<polygon points="959.6,527.7 966.0,527.7 962.8,533.3" fill="#fff" stroke="#111" stroke-width="1.8" stroke-linejoin="round"/>
<line x1="928.4" y1="521.0" x2="970.5" y2="521.0" stroke="#333" stroke-width="1.6"/>
<line x1="938.6" y1="524.4" x2="960.7" y2="524.4" stroke="#222" stroke-width="1.8"/>
<line x1="938.6" y1="512.6" x2="960.7" y2="512.6" stroke="#222" stroke-width="1.8"/>
<line x1="949.7" y1="524.4" x2="949.7" y2="512.6" stroke="#222" stroke-width="1.8"/>
<line x1="600.5" y1="729.8" x2="600.5" y2="817.0" stroke="#1a1a1a" stroke-width="2"/>
<line x1="599.6" y1="817.0" x2="605.0" y2="817.0" stroke="#1a1a1a" stroke-width="2"/>
<line x1="600.5" y1="830.8" x2="600.5" y2="918.9" stroke="#1a1a1a" stroke-width="2"/>
<line x1="599.6" y1="830.8" x2="605.0" y2="830.8" stroke="#1a1a1a" stroke-width="2"/>
<line x1="599.5" y1="917.9" x2="882.0" y2="917.9" stroke="#1a1a1a" stroke-width="2"/>
<line x1="595.0" y1="817.0" x2="600.5" y2="817.0" stroke="#1a1a1a" stroke-width="1.8"/>
<text x="593.3" y="821.7" font-size="13.78" font-weight="bold" fill="#222" text-anchor="end" textLength="28.6" lengthAdjust="spacingAndGlyphs">1000</text>
<line x1="595.0" y1="799.6" x2="600.5" y2="799.6" stroke="#1a1a1a" stroke-width="1.8"/>
<text x="593.3" y="804.4" font-size="13.78" font-weight="bold" fill="#222" text-anchor="end" textLength="28.6" lengthAdjust="spacingAndGlyphs">1200</text>
<line x1="595.0" y1="782.3" x2="600.5" y2="782.3" stroke="#1a1a1a" stroke-width="1.8"/>
<text x="593.3" y="787.0" font-size="13.78" font-weight="bold" fill="#222" text-anchor="end" textLength="28.6" lengthAdjust="spacingAndGlyphs">1400</text>
<line x1="595.0" y1="765.0" x2="600.5" y2="765.0" stroke="#1a1a1a" stroke-width="1.8"/>
<text x="593.3" y="769.7" font-size="13.78" font-weight="bold" fill="#222" text-anchor="end" textLength="28.6" lengthAdjust="spacingAndGlyphs">1600</text>
<line x1="595.0" y1="747.6" x2="600.5" y2="747.6" stroke="#1a1a1a" stroke-width="1.8"/>
<text x="593.3" y="752.3" font-size="13.78" font-weight="bold" fill="#222" text-anchor="end" textLength="28.6" lengthAdjust="spacingAndGlyphs">1800</text>
<line x1="595.0" y1="730.2" x2="600.5" y2="730.2" stroke="#1a1a1a" stroke-width="1.8"/>
<text x="593.3" y="735.0" font-size="13.78" font-weight="bold" fill="#222" text-anchor="end" textLength="28.6" lengthAdjust="spacingAndGlyphs">2000</text>
<line x1="595.0" y1="917.9" x2="600.5" y2="917.9" stroke="#1a1a1a" stroke-width="1.8"/>
<text x="593.3" y="922.6" font-size="13.78" font-weight="bold" fill="#222" text-anchor="end" textLength="7.2" lengthAdjust="spacingAndGlyphs">0</text>
<line x1="595.0" y1="900.5" x2="600.5" y2="900.5" stroke="#1a1a1a" stroke-width="1.8"/>
<text x="593.3" y="905.2" font-size="13.78" font-weight="bold" fill="#222" text-anchor="end" textLength="21.5" lengthAdjust="spacingAndGlyphs">100</text>
<line x1="595.0" y1="883.1" x2="600.5" y2="883.1" stroke="#1a1a1a" stroke-width="1.8"/>
<text x="593.3" y="887.8" font-size="13.78" font-weight="bold" fill="#222" text-anchor="end" textLength="21.5" lengthAdjust="spacingAndGlyphs">200</text>
<line x1="595.0" y1="865.6" x2="600.5" y2="865.6" stroke="#1a1a1a" stroke-width="1.8"/>
<text x="593.3" y="870.3" font-size="13.78" font-weight="bold" fill="#222" text-anchor="end" textLength="21.5" lengthAdjust="spacingAndGlyphs">300</text>
<line x1="595.0" y1="848.2" x2="600.5" y2="848.2" stroke="#1a1a1a" stroke-width="1.8"/>
<text x="593.3" y="852.9" font-size="13.78" font-weight="bold" fill="#222" text-anchor="end" textLength="21.5" lengthAdjust="spacingAndGlyphs">400</text>
<line x1="595.0" y1="830.8" x2="600.5" y2="830.8" stroke="#1a1a1a" stroke-width="1.8"/>
<text x="593.3" y="835.5" font-size="13.78" font-weight="bold" fill="#222" text-anchor="end" textLength="21.5" lengthAdjust="spacingAndGlyphs">500</text>
<line x1="670.6" y1="917.9" x2="670.6" y2="923.7" stroke="#1a1a1a" stroke-width="1.8"/>
<text x="670.9" y="936.4" font-size="13.78" font-weight="bold" fill="#222" text-anchor="middle" textLength="19.3" lengthAdjust="spacingAndGlyphs">HD</text>
<line x1="811.0" y1="917.9" x2="811.0" y2="923.7" stroke="#1a1a1a" stroke-width="1.8"/>
<text x="811.3" y="936.4" font-size="13.78" font-weight="bold" fill="#222" text-anchor="middle" textLength="29.2" lengthAdjust="spacingAndGlyphs">MCL</text>
<line x1="644.2" y1="903.1" x2="644.2" y2="908.3" stroke="#1a1a1a" stroke-width="2"/>
<line x1="634.8" y1="903.1" x2="653.5" y2="903.1" stroke="#1a1a1a" stroke-width="2.4"/>
<rect x="627.1" y="909.3" width="34.1" height="8.6" fill="#d6d6d6" stroke="#1a1a1a" stroke-width="2"/>
<line x1="689.0" y1="885.3" x2="705.0" y2="885.3" stroke="#1a1a1a" stroke-width="1.6"/>
<rect x="678.6" y="886.7" width="36.5" height="31.2" fill="#1a1a1a"/>
<line x1="785.2" y1="869.7" x2="785.2" y2="873.0" stroke="#1a1a1a" stroke-width="2"/>
<line x1="776.0" y1="869.7" x2="794.3" y2="869.7" stroke="#1a1a1a" stroke-width="2.4"/>
<rect x="768.1" y="874.0" width="34.1" height="43.9" fill="#d6d6d6" stroke="#1a1a1a" stroke-width="2"/>
<line x1="837.8" y1="780.3" x2="837.8" y2="800.3" stroke="#1a1a1a" stroke-width="2.2"/>
<line x1="828.4" y1="780.3" x2="847.2" y2="780.3" stroke="#1a1a1a" stroke-width="2.4"/>
<rect x="819.2" y="800.3" width="37.1" height="17.3" fill="#1a1a1a"/>
<rect x="819.2" y="830.8" width="37.1" height="87.1" fill="#1a1a1a"/>
<rect x="890.8" y="717.5" width="20.1" height="9.9" fill="#d6d6d6" stroke="#1a1a1a" stroke-width="2"/>
<rect x="889.8" y="738.1" width="22.1" height="14.0" fill="#1a1a1a"/>
<text x="922.3" y="727.9" font-size="15.37" fill="#222" textLength="51.8" lengthAdjust="spacingAndGlyphs">Medium</text>
<text x="922.3" y="752.1" font-size="15.37" fill="#222" textLength="62.0" lengthAdjust="spacingAndGlyphs"><tspan font-family="Liberation Serif" font-style="italic">α</tspan>-GalCer</text>
<text x="740.0" y="959.3" font-size="15.37" font-weight="bold" fill="#222" text-anchor="middle" textLength="94.5" lengthAdjust="spacingAndGlyphs">Primary Cells</text>
<text x="530.6" y="823.4" font-size="14.3" fill="#222" text-anchor="middle" textLength="110.7" lengthAdjust="spacingAndGlyphs" transform="rotate(-90 530.6 823.4)">IFN-<tspan font-family="Liberation Serif" font-style="italic">γ</tspan>&#160;&#160;(pg/mL)</text>
<defs><filter id="bl2" x="-30%" y="-30%" width="160%" height="160%"><feGaussianBlur stdDeviation="2.2"/></filter><filter id="bl4" x="-50%" y="-50%" width="200%" height="200%"><feGaussianBlur stdDeviation="3.5"/></filter></defs>
<clipPath id="cp1"><rect x="171.5" y="509.7" width="122.2" height="153.5"/></clipPath>
<g clip-path="url(#cp1)">
<path fill="#dca090" d="M190.4 657.1h1.3v1.3h-1.3zM189.4 620.5h1.3v1.3h-1.3zM187.8 648.3h1.3v1.3h-1.3zM181.0 611.1h1.3v1.3h-1.3zM173.6 661.6h1.3v1.3h-1.3zM191.4 642.5h1.3v1.3h-1.3zM196.9 657.5h1.3v1.3h-1.3zM203.9 637.4h1.3v1.3h-1.3zM178.9 618.0h1.3v1.3h-1.3zM206.7 637.2h1.3v1.3h-1.3zM193.4 662.0h1.3v1.3h-1.3zM203.3 647.6h1.3v1.3h-1.3zM174.2 633.8h1.3v1.3h-1.3zM182.9 657.6h1.3v1.3h-1.3zM200.1 611.0h1.3v1.3h-1.3zM184.6 627.6h1.3v1.3h-1.3zM184.0 654.1h1.3v1.3h-1.3zM189.2 643.6h1.3v1.3h-1.3zM198.3 646.1h1.3v1.3h-1.3zM196.2 662.0h1.3v1.3h-1.3zM173.5 657.8h1.3v1.3h-1.3zM187.8 627.0h1.3v1.3h-1.3zM195.1 656.7h1.3v1.3h-1.3zM200.9 634.6h1.3v1.3h-1.3zM209.0 610.4h1.3v1.3h-1.3zM201.5 626.3h1.3v1.3h-1.3zM183.2 642.2h1.3v1.3h-1.3zM183.8 620.2h1.3v1.3h-1.3zM192.9 635.5h1.3v1.3h-1.3zM190.5 620.8h1.3v1.3h-1.3zM172.6 661.8h1.3v1.3h-1.3zM199.3 638.7h1.3v1.3h-1.3z"/>
<path fill="#e0a898" d="M205.0 649.5h1.3v1.3h-1.3zM188.3 646.2h1.3v1.3h-1.3zM182.6 611.7h1.3v1.3h-1.3zM184.9 653.0h1.3v1.3h-1.3zM194.4 651.3h1.3v1.3h-1.3zM196.8 657.2h1.3v1.3h-1.3zM193.8 646.1h1.3v1.3h-1.3zM187.2 630.4h1.3v1.3h-1.3zM188.8 630.5h1.3v1.3h-1.3zM172.7 656.5h1.3v1.3h-1.3zM189.0 643.3h1.3v1.3h-1.3zM192.7 642.2h1.3v1.3h-1.3zM183.7 629.7h1.3v1.3h-1.3zM187.6 659.9h1.3v1.3h-1.3zM182.3 627.2h1.3v1.3h-1.3zM196.0 658.0h1.3v1.3h-1.3zM188.2 627.6h1.3v1.3h-1.3zM193.5 645.6h1.3v1.3h-1.3zM191.0 612.2h1.3v1.3h-1.3zM172.9 646.4h1.3v1.3h-1.3zM188.6 649.9h1.3v1.3h-1.3zM187.1 649.7h1.3v1.3h-1.3zM191.6 653.4h1.3v1.3h-1.3zM193.3 648.9h1.3v1.3h-1.3zM191.6 629.3h1.3v1.3h-1.3zM184.4 650.2h1.3v1.3h-1.3zM229.9 610.4h1.3v1.3h-1.3zM175.9 655.2h1.3v1.3h-1.3zM182.2 659.5h1.3v1.3h-1.3zM189.5 638.6h1.3v1.3h-1.3zM181.7 628.5h1.3v1.3h-1.3z"/>
<path fill="#c89080" d="M203.5 660.0h1.3v1.3h-1.3zM188.5 613.7h1.3v1.3h-1.3zM186.7 630.6h1.3v1.3h-1.3zM200.5 632.3h1.3v1.3h-1.3zM175.3 617.1h1.3v1.3h-1.3zM185.2 640.5h1.3v1.3h-1.3zM195.4 629.7h1.3v1.3h-1.3zM196.7 652.4h1.3v1.3h-1.3zM181.9 656.0h1.3v1.3h-1.3zM180.9 618.4h1.3v1.3h-1.3zM183.5 652.7h1.3v1.3h-1.3zM198.9 625.1h1.3v1.3h-1.3zM196.4 621.6h1.3v1.3h-1.3zM184.5 645.5h1.3v1.3h-1.3zM183.8 643.1h1.3v1.3h-1.3zM180.7 661.4h1.3v1.3h-1.3zM193.3 642.8h1.3v1.3h-1.3zM200.4 615.7h1.3v1.3h-1.3zM179.6 659.1h1.3v1.3h-1.3zM184.4 654.7h1.3v1.3h-1.3zM173.3 626.6h1.3v1.3h-1.3zM179.6 636.5h1.3v1.3h-1.3zM189.7 624.0h1.3v1.3h-1.3zM202.0 641.6h1.3v1.3h-1.3zM173.8 613.3h1.3v1.3h-1.3zM187.7 620.7h1.3v1.3h-1.3zM195.5 614.0h1.3v1.3h-1.3zM176.9 621.8h1.3v1.3h-1.3zM195.2 611.9h1.3v1.3h-1.3zM182.2 646.3h1.3v1.3h-1.3zM184.7 620.4h1.3v1.3h-1.3zM182.7 640.0h1.3v1.3h-1.3zM191.9 623.8h1.3v1.3h-1.3zM191.4 628.4h1.3v1.3h-1.3zM180.4 654.9h1.3v1.3h-1.3z"/>
<path fill="#a85a48" d="M184.4 653.5h1.3v1.3h-1.3zM184.2 616.8h1.3v1.3h-1.3zM197.5 631.5h1.3v1.3h-1.3zM176.9 616.5h1.3v1.3h-1.3zM197.9 615.5h1.3v1.3h-1.3zM192.7 646.0h1.3v1.3h-1.3zM180.8 647.9h1.3v1.3h-1.3zM198.6 628.2h1.3v1.3h-1.3zM184.3 659.1h1.3v1.3h-1.3zM204.3 619.9h1.3v1.3h-1.3zM186.7 627.1h1.3v1.3h-1.3zM175.6 644.1h1.3v1.3h-1.3zM212.3 627.2h1.3v1.3h-1.3zM207.4 634.5h1.3v1.3h-1.3zM194.6 635.2h1.3v1.3h-1.3zM189.8 660.6h1.3v1.3h-1.3zM186.2 622.1h1.3v1.3h-1.3zM188.8 626.4h1.3v1.3h-1.3zM189.0 610.6h1.3v1.3h-1.3zM181.0 635.3h1.3v1.3h-1.3zM192.2 640.9h1.3v1.3h-1.3zM190.2 637.1h1.3v1.3h-1.3zM181.6 633.1h1.3v1.3h-1.3zM190.1 660.6h1.3v1.3h-1.3zM195.3 633.8h1.3v1.3h-1.3zM196.0 635.5h1.3v1.3h-1.3zM191.8 628.5h1.3v1.3h-1.3zM208.6 622.6h1.3v1.3h-1.3zM199.1 611.8h1.3v1.3h-1.3zM194.9 659.9h1.3v1.3h-1.3zM180.5 614.3h1.3v1.3h-1.3zM187.6 650.3h1.3v1.3h-1.3zM189.8 621.1h1.3v1.3h-1.3zM192.3 647.7h1.3v1.3h-1.3z"/>
<path fill="#b86450" d="M186.7 658.6h1.3v1.3h-1.3zM195.1 612.6h1.3v1.3h-1.3zM173.3 653.9h1.3v1.3h-1.3zM181.8 626.3h1.3v1.3h-1.3zM196.0 611.3h1.3v1.3h-1.3zM201.5 621.9h1.3v1.3h-1.3zM202.1 656.8h1.3v1.3h-1.3zM196.6 646.9h1.3v1.3h-1.3zM189.8 635.6h1.3v1.3h-1.3zM180.4 659.6h1.3v1.3h-1.3zM196.6 654.9h1.3v1.3h-1.3zM199.7 618.1h1.3v1.3h-1.3zM176.1 639.3h1.3v1.3h-1.3zM197.7 657.2h1.3v1.3h-1.3zM189.0 618.7h1.3v1.3h-1.3zM175.9 650.9h1.3v1.3h-1.3zM196.6 661.1h1.3v1.3h-1.3zM187.0 618.7h1.3v1.3h-1.3zM192.1 629.2h1.3v1.3h-1.3zM202.0 616.1h1.3v1.3h-1.3zM174.1 634.1h1.3v1.3h-1.3zM196.4 630.3h1.3v1.3h-1.3zM201.2 621.8h1.3v1.3h-1.3zM182.9 658.8h1.3v1.3h-1.3zM182.0 622.9h1.3v1.3h-1.3zM212.1 637.5h1.3v1.3h-1.3zM210.1 652.3h1.3v1.3h-1.3zM184.9 618.4h1.3v1.3h-1.3zM193.2 654.9h1.3v1.3h-1.3zM204.4 614.7h1.3v1.3h-1.3zM190.5 615.4h1.3v1.3h-1.3zM173.2 615.7h1.3v1.3h-1.3zM174.0 634.8h1.3v1.3h-1.3zM201.0 624.5h1.3v1.3h-1.3zM200.6 619.6h1.3v1.3h-1.3zM178.7 617.7h1.3v1.3h-1.3zM173.8 631.0h1.3v1.3h-1.3zM208.3 611.0h1.3v1.3h-1.3zM185.3 643.7h1.3v1.3h-1.3zM186.1 651.9h1.3v1.3h-1.3zM185.4 639.8h1.3v1.3h-1.3zM212.3 618.9h1.3v1.3h-1.3zM196.7 660.2h1.3v1.3h-1.3zM177.2 629.3h1.3v1.3h-1.3zM197.0 656.2h1.3v1.3h-1.3zM187.7 613.6h1.3v1.3h-1.3zM178.4 623.5h1.3v1.3h-1.3zM193.7 637.4h1.3v1.3h-1.3zM193.8 616.0h1.3v1.3h-1.3zM191.7 626.2h1.3v1.3h-1.3zM177.4 629.0h1.3v1.3h-1.3zM177.3 619.3h1.3v1.3h-1.3zM195.1 641.9h1.3v1.3h-1.3zM180.1 638.4h1.3v1.3h-1.3zM189.6 615.8h1.3v1.3h-1.3z"/>
<path fill="#b06048" d="M196.3 610.8h1.3v1.3h-1.3zM188.9 637.2h1.3v1.3h-1.3zM199.1 623.2h1.3v1.3h-1.3zM187.7 658.2h1.3v1.3h-1.3zM181.9 619.6h1.3v1.3h-1.3zM209.7 652.9h1.3v1.3h-1.3zM196.2 661.0h1.3v1.3h-1.3zM193.3 623.5h1.3v1.3h-1.3zM185.4 659.5h1.3v1.3h-1.3zM193.6 629.1h1.3v1.3h-1.3zM178.2 642.9h1.3v1.3h-1.3zM177.2 639.2h1.3v1.3h-1.3zM196.9 624.7h1.3v1.3h-1.3zM194.0 657.1h1.3v1.3h-1.3zM184.3 649.3h1.3v1.3h-1.3zM185.0 660.8h1.3v1.3h-1.3zM203.9 616.1h1.3v1.3h-1.3zM203.4 635.4h1.3v1.3h-1.3zM196.6 618.9h1.3v1.3h-1.3zM202.9 633.1h1.3v1.3h-1.3zM219.0 635.5h1.3v1.3h-1.3z"/>
<path fill="#c07060" d="M198.2 631.8h1.3v1.3h-1.3zM197.5 650.3h1.3v1.3h-1.3zM180.4 625.6h1.3v1.3h-1.3zM194.3 624.6h1.3v1.3h-1.3zM197.0 633.9h1.3v1.3h-1.3zM195.1 642.7h1.3v1.3h-1.3zM172.4 637.8h1.3v1.3h-1.3zM187.9 648.3h1.3v1.3h-1.3zM204.7 643.6h1.3v1.3h-1.3zM204.6 624.0h1.3v1.3h-1.3zM198.8 649.4h1.3v1.3h-1.3zM196.0 638.4h1.3v1.3h-1.3zM186.3 613.0h1.3v1.3h-1.3zM199.0 641.5h1.3v1.3h-1.3zM185.1 643.9h1.3v1.3h-1.3zM188.2 658.8h1.3v1.3h-1.3zM196.4 652.9h1.3v1.3h-1.3zM197.7 633.5h1.3v1.3h-1.3zM200.4 613.9h1.3v1.3h-1.3zM197.8 623.8h1.3v1.3h-1.3zM185.7 628.3h1.3v1.3h-1.3zM176.3 618.6h1.3v1.3h-1.3zM185.3 615.0h1.3v1.3h-1.3zM186.9 657.8h1.3v1.3h-1.3zM193.1 640.0h1.3v1.3h-1.3zM187.5 617.0h1.3v1.3h-1.3zM194.4 618.3h1.3v1.3h-1.3zM186.6 649.9h1.3v1.3h-1.3zM181.6 616.7h1.3v1.3h-1.3zM196.8 661.5h1.3v1.3h-1.3z"/>
<path fill="#c88070" d="M207.2 633.2h1.3v1.3h-1.3zM185.8 645.9h1.3v1.3h-1.3zM190.4 621.3h1.3v1.3h-1.3zM181.1 624.9h1.3v1.3h-1.3zM193.8 624.4h1.3v1.3h-1.3zM175.9 625.7h1.3v1.3h-1.3zM205.2 650.2h1.3v1.3h-1.3zM193.8 647.6h1.3v1.3h-1.3zM201.9 630.9h1.3v1.3h-1.3zM203.8 654.2h1.3v1.3h-1.3zM181.8 623.7h1.3v1.3h-1.3zM195.8 622.1h1.3v1.3h-1.3zM184.9 635.1h1.3v1.3h-1.3zM190.2 618.0h1.3v1.3h-1.3zM204.5 615.2h1.3v1.3h-1.3zM192.5 648.6h1.3v1.3h-1.3zM201.9 660.8h1.3v1.3h-1.3zM181.8 662.0h1.3v1.3h-1.3zM194.3 661.7h1.3v1.3h-1.3zM175.4 617.4h1.3v1.3h-1.3zM199.8 657.5h1.3v1.3h-1.3zM181.9 656.5h1.3v1.3h-1.3zM193.7 659.6h1.3v1.3h-1.3zM188.6 618.4h1.3v1.3h-1.3zM191.0 658.5h1.3v1.3h-1.3zM192.1 639.3h1.3v1.3h-1.3zM182.3 655.0h1.3v1.3h-1.3zM198.1 647.5h1.3v1.3h-1.3zM207.0 621.7h1.3v1.3h-1.3zM182.4 619.1h1.3v1.3h-1.3zM193.2 646.2h1.3v1.3h-1.3zM195.9 614.4h1.3v1.3h-1.3zM193.0 661.9h1.3v1.3h-1.3zM172.6 647.0h1.3v1.3h-1.3zM185.9 641.9h1.3v1.3h-1.3zM193.7 648.0h1.3v1.3h-1.3zM189.6 654.5h1.3v1.3h-1.3zM222.0 647.2h1.3v1.3h-1.3z"/>
<path fill="#d08878" d="M199.9 626.2h1.3v1.3h-1.3zM187.4 641.0h1.3v1.3h-1.3zM194.2 630.1h1.3v1.3h-1.3zM182.7 629.9h1.3v1.3h-1.3zM195.8 619.5h1.3v1.3h-1.3zM199.0 647.5h1.3v1.3h-1.3zM188.0 614.9h1.3v1.3h-1.3zM187.8 626.6h1.3v1.3h-1.3zM194.3 641.5h1.3v1.3h-1.3zM184.7 640.1h1.3v1.3h-1.3zM213.2 611.1h1.3v1.3h-1.3zM190.7 645.9h1.3v1.3h-1.3zM174.1 658.0h1.3v1.3h-1.3zM218.3 653.4h1.3v1.3h-1.3zM182.0 640.5h1.3v1.3h-1.3zM177.6 627.3h1.3v1.3h-1.3zM192.8 610.3h1.3v1.3h-1.3zM213.4 623.1h1.3v1.3h-1.3zM194.2 612.4h1.3v1.3h-1.3zM195.0 625.3h1.3v1.3h-1.3zM191.9 651.7h1.3v1.3h-1.3zM191.4 633.8h1.3v1.3h-1.3zM196.8 638.1h1.3v1.3h-1.3zM193.4 646.7h1.3v1.3h-1.3zM183.7 647.7h1.3v1.3h-1.3zM209.7 626.4h1.3v1.3h-1.3zM192.9 625.3h1.3v1.3h-1.3zM198.7 628.4h1.3v1.3h-1.3zM178.0 612.4h1.3v1.3h-1.3zM196.3 641.1h1.3v1.3h-1.3zM198.8 633.5h1.3v1.3h-1.3zM194.1 614.2h1.3v1.3h-1.3zM193.8 644.3h1.3v1.3h-1.3zM191.8 648.0h1.3v1.3h-1.3zM206.8 640.1h1.3v1.3h-1.3zM204.6 641.1h1.3v1.3h-1.3zM192.1 625.3h1.3v1.3h-1.3zM208.0 651.3h1.3v1.3h-1.3zM204.0 631.6h1.3v1.3h-1.3zM188.4 625.0h1.3v1.3h-1.3z"/>
<path d="M192 614 C198 607 210 606 216 612 L217 640 C217 652 214 662 206 663 C199 663 193 657 191 645 Z" fill="#b8503a" fill-opacity="1.0" filter="url(#bl2)"/>
<path fill="#b0503a" d="M208.0 662.2h1.3v1.3h-1.3zM205.8 619.0h1.3v1.3h-1.3zM200.7 641.2h1.3v1.3h-1.3zM222.1 631.4h1.3v1.3h-1.3zM205.8 644.9h1.3v1.3h-1.3zM211.3 610.1h1.3v1.3h-1.3zM215.8 654.4h1.3v1.3h-1.3zM211.5 654.6h1.3v1.3h-1.3zM207.9 634.6h1.3v1.3h-1.3zM208.3 650.1h1.3v1.3h-1.3zM197.4 649.1h1.3v1.3h-1.3zM213.9 661.0h1.3v1.3h-1.3zM201.1 643.6h1.3v1.3h-1.3zM202.1 637.7h1.3v1.3h-1.3zM196.7 641.9h1.3v1.3h-1.3zM199.7 611.0h1.3v1.3h-1.3zM214.0 629.5h1.3v1.3h-1.3zM202.8 611.9h1.3v1.3h-1.3zM210.5 633.6h1.3v1.3h-1.3zM198.8 657.7h1.3v1.3h-1.3zM185.2 620.5h1.3v1.3h-1.3zM197.1 625.7h1.3v1.3h-1.3zM181.1 619.2h1.3v1.3h-1.3zM209.8 660.4h1.3v1.3h-1.3zM196.8 616.9h1.3v1.3h-1.3zM203.3 631.8h1.3v1.3h-1.3zM206.1 648.4h1.3v1.3h-1.3zM202.4 629.0h1.3v1.3h-1.3zM197.1 628.4h1.3v1.3h-1.3zM204.2 637.5h1.3v1.3h-1.3zM209.9 657.1h1.3v1.3h-1.3zM194.8 609.3h1.3v1.3h-1.3zM204.4 611.5h1.3v1.3h-1.3zM208.1 632.4h1.3v1.3h-1.3zM204.2 634.8h1.3v1.3h-1.3zM215.0 623.4h1.3v1.3h-1.3zM193.4 651.7h1.3v1.3h-1.3zM217.6 622.0h1.3v1.3h-1.3zM207.2 650.8h1.3v1.3h-1.3zM213.8 649.1h1.3v1.3h-1.3zM201.5 660.4h1.3v1.3h-1.3zM199.6 654.8h1.3v1.3h-1.3zM196.7 615.8h1.3v1.3h-1.3zM195.9 625.2h1.3v1.3h-1.3zM202.4 623.6h1.3v1.3h-1.3zM193.4 635.6h1.3v1.3h-1.3zM201.4 632.7h1.3v1.3h-1.3zM209.5 620.5h1.3v1.3h-1.3zM208.9 637.4h1.3v1.3h-1.3zM217.0 615.3h1.3v1.3h-1.3zM203.1 660.4h1.3v1.3h-1.3zM200.6 616.1h1.3v1.3h-1.3zM205.7 615.4h1.3v1.3h-1.3zM206.7 629.5h1.3v1.3h-1.3zM209.3 656.4h1.3v1.3h-1.3zM201.9 631.3h1.3v1.3h-1.3zM189.8 640.9h1.3v1.3h-1.3zM209.3 622.3h1.3v1.3h-1.3zM212.1 622.6h1.3v1.3h-1.3zM200.2 610.5h1.3v1.3h-1.3zM191.3 636.8h1.3v1.3h-1.3zM199.5 611.6h1.3v1.3h-1.3zM202.0 630.6h1.3v1.3h-1.3zM204.8 661.2h1.3v1.3h-1.3zM205.2 640.2h1.3v1.3h-1.3zM220.5 617.4h1.3v1.3h-1.3zM209.5 656.7h1.3v1.3h-1.3zM196.7 627.7h1.3v1.3h-1.3zM205.6 629.3h1.3v1.3h-1.3zM207.8 635.0h1.3v1.3h-1.3zM208.2 641.9h1.3v1.3h-1.3zM208.7 643.9h1.3v1.3h-1.3zM191.1 621.7h1.3v1.3h-1.3zM200.7 656.5h1.3v1.3h-1.3zM216.3 656.9h1.3v1.3h-1.3zM199.8 661.3h1.3v1.3h-1.3zM212.5 614.6h1.3v1.3h-1.3zM205.6 644.7h1.3v1.3h-1.3zM201.0 643.1h1.3v1.3h-1.3zM206.7 640.2h1.3v1.3h-1.3zM208.0 629.3h1.3v1.3h-1.3zM201.2 655.9h1.3v1.3h-1.3zM208.2 628.0h1.3v1.3h-1.3zM197.1 650.4h1.3v1.3h-1.3zM201.6 662.1h1.3v1.3h-1.3zM212.7 660.8h1.3v1.3h-1.3zM210.0 640.9h1.3v1.3h-1.3zM195.7 641.6h1.3v1.3h-1.3zM201.0 636.4h1.3v1.3h-1.3zM223.9 612.0h1.3v1.3h-1.3zM204.5 610.6h1.3v1.3h-1.3zM197.2 641.3h1.3v1.3h-1.3zM198.1 609.8h1.3v1.3h-1.3zM198.9 615.3h1.3v1.3h-1.3zM201.9 656.8h1.3v1.3h-1.3zM197.0 617.9h1.3v1.3h-1.3zM199.6 655.6h1.3v1.3h-1.3zM204.0 644.7h1.3v1.3h-1.3zM225.2 622.3h1.3v1.3h-1.3zM197.1 660.0h1.3v1.3h-1.3zM201.1 629.7h1.3v1.3h-1.3zM196.1 618.9h1.3v1.3h-1.3zM201.1 626.1h1.3v1.3h-1.3zM214.5 653.6h1.3v1.3h-1.3zM205.4 656.8h1.3v1.3h-1.3zM193.4 632.8h1.3v1.3h-1.3zM201.9 624.8h1.3v1.3h-1.3zM201.6 636.6h1.3v1.3h-1.3zM201.6 642.5h1.3v1.3h-1.3zM201.2 628.3h1.3v1.3h-1.3zM212.9 613.6h1.3v1.3h-1.3zM201.8 616.6h1.3v1.3h-1.3zM203.6 631.4h1.3v1.3h-1.3zM195.9 617.6h1.3v1.3h-1.3zM192.4 660.4h1.3v1.3h-1.3zM213.4 629.6h1.3v1.3h-1.3zM193.6 653.1h1.3v1.3h-1.3zM192.9 611.8h1.3v1.3h-1.3zM201.1 618.2h1.3v1.3h-1.3zM204.5 652.8h1.3v1.3h-1.3zM207.9 627.3h1.3v1.3h-1.3zM214.2 614.7h1.3v1.3h-1.3zM204.4 658.5h1.3v1.3h-1.3zM208.0 617.1h1.3v1.3h-1.3zM209.2 643.9h1.3v1.3h-1.3zM205.2 643.4h1.3v1.3h-1.3zM206.3 637.4h1.3v1.3h-1.3zM197.4 615.5h1.3v1.3h-1.3zM205.0 653.9h1.3v1.3h-1.3z"/>
<path fill="#a84c38" d="M208.9 658.0h1.3v1.3h-1.3zM203.2 619.4h1.3v1.3h-1.3zM219.1 612.2h1.3v1.3h-1.3zM205.0 624.1h1.3v1.3h-1.3zM193.8 639.3h1.3v1.3h-1.3zM205.9 629.6h1.3v1.3h-1.3zM214.3 636.8h1.3v1.3h-1.3zM210.5 642.9h1.3v1.3h-1.3zM204.6 651.8h1.3v1.3h-1.3zM206.0 616.8h1.3v1.3h-1.3zM195.4 639.7h1.3v1.3h-1.3zM206.7 634.8h1.3v1.3h-1.3zM206.4 661.0h1.3v1.3h-1.3zM209.5 651.5h1.3v1.3h-1.3zM210.1 632.0h1.3v1.3h-1.3zM212.5 625.3h1.3v1.3h-1.3zM214.2 615.7h1.3v1.3h-1.3zM205.3 649.8h1.3v1.3h-1.3zM213.5 648.1h1.3v1.3h-1.3zM201.7 639.1h1.3v1.3h-1.3zM210.1 625.1h1.3v1.3h-1.3zM203.1 660.8h1.3v1.3h-1.3zM194.0 640.5h1.3v1.3h-1.3zM205.6 651.8h1.3v1.3h-1.3zM216.9 635.4h1.3v1.3h-1.3zM201.6 643.5h1.3v1.3h-1.3zM196.9 624.3h1.3v1.3h-1.3zM199.0 617.0h1.3v1.3h-1.3zM217.7 631.8h1.3v1.3h-1.3zM201.0 631.7h1.3v1.3h-1.3zM205.7 654.3h1.3v1.3h-1.3zM206.1 648.1h1.3v1.3h-1.3zM196.7 620.4h1.3v1.3h-1.3zM221.4 626.8h1.3v1.3h-1.3zM214.0 639.1h1.3v1.3h-1.3zM213.4 652.7h1.3v1.3h-1.3zM202.0 635.2h1.3v1.3h-1.3zM204.5 651.5h1.3v1.3h-1.3zM205.1 612.3h1.3v1.3h-1.3zM197.9 623.3h1.3v1.3h-1.3zM210.3 611.9h1.3v1.3h-1.3zM216.1 646.2h1.3v1.3h-1.3zM201.6 615.9h1.3v1.3h-1.3zM199.4 639.5h1.3v1.3h-1.3zM207.3 640.1h1.3v1.3h-1.3zM210.1 659.3h1.3v1.3h-1.3zM197.7 657.0h1.3v1.3h-1.3zM188.2 619.1h1.3v1.3h-1.3zM204.5 616.8h1.3v1.3h-1.3zM217.7 641.7h1.3v1.3h-1.3zM198.6 613.7h1.3v1.3h-1.3zM208.0 621.7h1.3v1.3h-1.3zM206.2 647.2h1.3v1.3h-1.3zM201.1 610.0h1.3v1.3h-1.3zM194.0 626.7h1.3v1.3h-1.3zM204.4 629.7h1.3v1.3h-1.3zM205.2 637.2h1.3v1.3h-1.3zM201.9 615.1h1.3v1.3h-1.3zM197.8 652.0h1.3v1.3h-1.3zM203.0 630.2h1.3v1.3h-1.3zM208.9 634.3h1.3v1.3h-1.3zM201.7 651.8h1.3v1.3h-1.3zM192.6 643.6h1.3v1.3h-1.3zM208.5 639.8h1.3v1.3h-1.3zM203.3 632.2h1.3v1.3h-1.3zM199.3 629.2h1.3v1.3h-1.3zM201.3 618.1h1.3v1.3h-1.3zM210.7 629.5h1.3v1.3h-1.3zM212.9 630.0h1.3v1.3h-1.3zM214.1 615.1h1.3v1.3h-1.3zM212.6 621.5h1.3v1.3h-1.3zM201.9 612.1h1.3v1.3h-1.3zM210.4 623.7h1.3v1.3h-1.3zM200.3 640.6h1.3v1.3h-1.3zM212.2 632.8h1.3v1.3h-1.3zM202.1 615.3h1.3v1.3h-1.3zM213.9 638.0h1.3v1.3h-1.3zM205.7 643.2h1.3v1.3h-1.3zM206.5 654.5h1.3v1.3h-1.3zM212.3 651.5h1.3v1.3h-1.3zM208.8 638.7h1.3v1.3h-1.3zM206.5 646.7h1.3v1.3h-1.3zM205.6 626.2h1.3v1.3h-1.3zM209.4 654.3h1.3v1.3h-1.3zM209.6 611.8h1.3v1.3h-1.3zM201.4 612.2h1.3v1.3h-1.3zM202.6 656.8h1.3v1.3h-1.3zM206.4 638.6h1.3v1.3h-1.3zM205.1 648.1h1.3v1.3h-1.3zM193.2 644.0h1.3v1.3h-1.3zM201.9 636.1h1.3v1.3h-1.3zM195.3 637.3h1.3v1.3h-1.3zM191.2 617.5h1.3v1.3h-1.3zM201.9 625.7h1.3v1.3h-1.3zM208.4 612.2h1.3v1.3h-1.3zM205.4 640.3h1.3v1.3h-1.3zM214.2 617.8h1.3v1.3h-1.3zM210.7 642.9h1.3v1.3h-1.3zM192.2 661.0h1.3v1.3h-1.3zM197.5 661.4h1.3v1.3h-1.3zM202.7 650.6h1.3v1.3h-1.3zM197.3 656.9h1.3v1.3h-1.3zM195.7 659.8h1.3v1.3h-1.3zM205.9 656.9h1.3v1.3h-1.3zM189.8 650.1h1.3v1.3h-1.3zM198.3 620.4h1.3v1.3h-1.3zM194.9 630.6h1.3v1.3h-1.3zM209.5 619.4h1.3v1.3h-1.3zM197.4 624.5h1.3v1.3h-1.3zM200.8 618.2h1.3v1.3h-1.3zM198.2 649.4h1.3v1.3h-1.3zM193.0 639.7h1.3v1.3h-1.3zM195.3 610.9h1.3v1.3h-1.3zM194.8 626.9h1.3v1.3h-1.3zM203.7 634.6h1.3v1.3h-1.3zM203.3 653.6h1.3v1.3h-1.3zM206.4 629.7h1.3v1.3h-1.3zM203.2 657.3h1.3v1.3h-1.3zM189.7 651.7h1.3v1.3h-1.3zM218.3 655.8h1.3v1.3h-1.3zM202.9 634.8h1.3v1.3h-1.3zM193.0 651.7h1.3v1.3h-1.3zM202.7 635.5h1.3v1.3h-1.3zM199.9 632.4h1.3v1.3h-1.3zM184.2 616.6h1.3v1.3h-1.3zM205.7 651.7h1.3v1.3h-1.3zM205.8 648.2h1.3v1.3h-1.3zM202.5 660.3h1.3v1.3h-1.3zM204.7 636.0h1.3v1.3h-1.3zM213.6 643.2h1.3v1.3h-1.3zM193.2 609.4h1.3v1.3h-1.3zM207.2 618.1h1.3v1.3h-1.3zM210.5 631.7h1.3v1.3h-1.3zM212.6 620.9h1.3v1.3h-1.3zM205.6 635.5h1.3v1.3h-1.3z"/>
<path fill="#b06048" d="M197.4 629.4h1.3v1.3h-1.3zM207.5 634.0h1.3v1.3h-1.3zM206.5 634.2h1.3v1.3h-1.3zM192.0 624.9h1.3v1.3h-1.3zM199.5 623.8h1.3v1.3h-1.3zM205.8 626.8h1.3v1.3h-1.3zM206.6 624.2h1.3v1.3h-1.3zM204.6 645.9h1.3v1.3h-1.3zM193.8 646.6h1.3v1.3h-1.3zM210.1 634.1h1.3v1.3h-1.3zM197.5 658.9h1.3v1.3h-1.3zM204.4 651.2h1.3v1.3h-1.3zM213.6 661.8h1.3v1.3h-1.3zM204.0 652.7h1.3v1.3h-1.3zM205.7 640.9h1.3v1.3h-1.3zM211.8 659.8h1.3v1.3h-1.3zM203.2 636.8h1.3v1.3h-1.3zM194.6 615.3h1.3v1.3h-1.3zM206.5 647.5h1.3v1.3h-1.3zM202.2 650.7h1.3v1.3h-1.3zM201.5 615.1h1.3v1.3h-1.3zM191.8 622.2h1.3v1.3h-1.3zM211.3 634.3h1.3v1.3h-1.3zM204.6 614.4h1.3v1.3h-1.3zM205.6 618.2h1.3v1.3h-1.3zM205.6 651.2h1.3v1.3h-1.3zM205.5 619.6h1.3v1.3h-1.3zM202.7 616.4h1.3v1.3h-1.3zM194.3 647.0h1.3v1.3h-1.3zM200.6 658.2h1.3v1.3h-1.3zM202.7 645.6h1.3v1.3h-1.3zM185.3 642.7h1.3v1.3h-1.3zM206.6 636.1h1.3v1.3h-1.3zM196.5 612.8h1.3v1.3h-1.3zM200.8 636.4h1.3v1.3h-1.3zM207.7 629.1h1.3v1.3h-1.3zM203.7 623.3h1.3v1.3h-1.3zM214.0 644.9h1.3v1.3h-1.3zM198.1 653.1h1.3v1.3h-1.3zM200.6 645.7h1.3v1.3h-1.3zM203.2 660.6h1.3v1.3h-1.3zM197.3 626.3h1.3v1.3h-1.3zM203.0 656.1h1.3v1.3h-1.3zM204.6 636.4h1.3v1.3h-1.3zM207.1 631.3h1.3v1.3h-1.3zM198.5 646.3h1.3v1.3h-1.3zM193.4 625.3h1.3v1.3h-1.3zM205.9 627.4h1.3v1.3h-1.3zM215.0 612.7h1.3v1.3h-1.3zM215.0 640.8h1.3v1.3h-1.3zM215.6 658.3h1.3v1.3h-1.3zM212.6 640.0h1.3v1.3h-1.3zM203.0 632.8h1.3v1.3h-1.3zM205.4 627.1h1.3v1.3h-1.3zM206.5 656.5h1.3v1.3h-1.3zM195.9 656.1h1.3v1.3h-1.3zM213.6 644.1h1.3v1.3h-1.3zM206.5 635.0h1.3v1.3h-1.3zM204.3 659.5h1.3v1.3h-1.3zM204.1 624.5h1.3v1.3h-1.3zM210.0 633.1h1.3v1.3h-1.3zM201.1 652.6h1.3v1.3h-1.3zM199.3 647.1h1.3v1.3h-1.3zM203.5 661.2h1.3v1.3h-1.3zM200.3 661.0h1.3v1.3h-1.3zM207.3 615.7h1.3v1.3h-1.3zM195.4 612.6h1.3v1.3h-1.3zM196.0 630.4h1.3v1.3h-1.3zM210.8 650.5h1.3v1.3h-1.3zM196.8 654.8h1.3v1.3h-1.3zM207.7 614.2h1.3v1.3h-1.3zM207.8 659.7h1.3v1.3h-1.3zM210.4 617.8h1.3v1.3h-1.3zM200.9 629.0h1.3v1.3h-1.3zM193.3 615.9h1.3v1.3h-1.3zM203.0 628.4h1.3v1.3h-1.3zM201.2 610.1h1.3v1.3h-1.3zM211.1 661.1h1.3v1.3h-1.3zM203.0 644.1h1.3v1.3h-1.3zM189.4 633.9h1.3v1.3h-1.3zM209.2 639.7h1.3v1.3h-1.3zM193.0 635.1h1.3v1.3h-1.3zM210.9 640.1h1.3v1.3h-1.3zM202.5 621.3h1.3v1.3h-1.3zM208.4 660.6h1.3v1.3h-1.3zM199.1 638.2h1.3v1.3h-1.3zM204.4 623.5h1.3v1.3h-1.3zM214.9 654.8h1.3v1.3h-1.3zM202.0 661.8h1.3v1.3h-1.3zM209.5 646.3h1.3v1.3h-1.3zM205.8 644.4h1.3v1.3h-1.3zM203.5 625.8h1.3v1.3h-1.3zM203.8 646.1h1.3v1.3h-1.3zM211.2 622.5h1.3v1.3h-1.3zM208.2 610.3h1.3v1.3h-1.3zM202.0 632.0h1.3v1.3h-1.3zM196.8 626.5h1.3v1.3h-1.3zM207.4 651.1h1.3v1.3h-1.3zM209.8 654.6h1.3v1.3h-1.3zM212.0 616.1h1.3v1.3h-1.3zM203.5 651.0h1.3v1.3h-1.3zM211.3 638.6h1.3v1.3h-1.3zM195.7 634.6h1.3v1.3h-1.3zM211.7 618.0h1.3v1.3h-1.3zM202.9 654.1h1.3v1.3h-1.3zM201.9 614.1h1.3v1.3h-1.3zM201.2 614.2h1.3v1.3h-1.3zM203.9 643.4h1.3v1.3h-1.3zM222.3 616.9h1.3v1.3h-1.3zM203.1 634.5h1.3v1.3h-1.3zM197.2 633.5h1.3v1.3h-1.3zM212.1 643.9h1.3v1.3h-1.3zM201.6 618.2h1.3v1.3h-1.3zM206.3 611.7h1.3v1.3h-1.3zM209.8 627.4h1.3v1.3h-1.3zM184.3 618.7h1.3v1.3h-1.3zM203.1 661.8h1.3v1.3h-1.3zM201.7 628.6h1.3v1.3h-1.3zM194.7 650.0h1.3v1.3h-1.3zM196.8 650.0h1.3v1.3h-1.3zM196.1 660.3h1.3v1.3h-1.3zM206.3 627.1h1.3v1.3h-1.3zM198.9 621.6h1.3v1.3h-1.3zM208.9 656.8h1.3v1.3h-1.3zM198.3 626.6h1.3v1.3h-1.3zM196.5 646.5h1.3v1.3h-1.3zM206.4 643.0h1.3v1.3h-1.3zM205.1 616.7h1.3v1.3h-1.3zM202.4 628.8h1.3v1.3h-1.3zM196.4 653.8h1.3v1.3h-1.3zM197.3 648.8h1.3v1.3h-1.3zM194.1 609.7h1.3v1.3h-1.3zM197.7 624.1h1.3v1.3h-1.3zM196.2 629.9h1.3v1.3h-1.3zM214.7 660.1h1.3v1.3h-1.3z"/>
<path fill="#b86450" d="M208.7 625.6h1.3v1.3h-1.3zM202.6 651.1h1.3v1.3h-1.3zM199.5 656.9h1.3v1.3h-1.3zM210.8 657.5h1.3v1.3h-1.3zM208.5 659.1h1.3v1.3h-1.3zM202.2 627.0h1.3v1.3h-1.3zM203.0 627.0h1.3v1.3h-1.3zM199.5 658.4h1.3v1.3h-1.3zM207.1 627.7h1.3v1.3h-1.3zM213.9 659.7h1.3v1.3h-1.3zM198.4 658.9h1.3v1.3h-1.3zM204.4 646.8h1.3v1.3h-1.3zM199.5 628.8h1.3v1.3h-1.3zM188.8 652.6h1.3v1.3h-1.3zM189.2 651.0h1.3v1.3h-1.3zM211.1 660.5h1.3v1.3h-1.3zM213.0 638.3h1.3v1.3h-1.3zM197.5 656.6h1.3v1.3h-1.3zM203.0 614.8h1.3v1.3h-1.3zM207.6 652.5h1.3v1.3h-1.3zM189.9 613.7h1.3v1.3h-1.3zM204.5 627.1h1.3v1.3h-1.3zM219.9 635.5h1.3v1.3h-1.3zM206.8 662.0h1.3v1.3h-1.3zM204.4 648.4h1.3v1.3h-1.3zM184.5 660.3h1.3v1.3h-1.3zM194.5 612.8h1.3v1.3h-1.3zM205.9 623.4h1.3v1.3h-1.3zM195.8 660.5h1.3v1.3h-1.3zM203.8 634.7h1.3v1.3h-1.3zM189.2 642.0h1.3v1.3h-1.3zM192.9 611.7h1.3v1.3h-1.3zM209.4 616.6h1.3v1.3h-1.3zM212.8 654.3h1.3v1.3h-1.3zM214.2 620.0h1.3v1.3h-1.3zM194.4 636.9h1.3v1.3h-1.3zM206.1 646.4h1.3v1.3h-1.3zM195.8 634.5h1.3v1.3h-1.3zM204.9 651.4h1.3v1.3h-1.3zM203.0 622.4h1.3v1.3h-1.3zM206.8 647.9h1.3v1.3h-1.3zM211.2 621.1h1.3v1.3h-1.3zM209.0 657.8h1.3v1.3h-1.3zM210.6 619.5h1.3v1.3h-1.3zM203.2 612.8h1.3v1.3h-1.3zM196.3 634.4h1.3v1.3h-1.3zM210.2 648.0h1.3v1.3h-1.3zM195.6 642.5h1.3v1.3h-1.3zM213.4 623.0h1.3v1.3h-1.3zM201.3 628.9h1.3v1.3h-1.3zM191.6 641.4h1.3v1.3h-1.3zM209.1 622.8h1.3v1.3h-1.3zM202.9 620.4h1.3v1.3h-1.3zM202.2 646.5h1.3v1.3h-1.3zM195.5 627.4h1.3v1.3h-1.3zM200.0 650.2h1.3v1.3h-1.3zM208.2 652.2h1.3v1.3h-1.3zM208.2 657.2h1.3v1.3h-1.3zM203.0 652.0h1.3v1.3h-1.3zM204.0 610.9h1.3v1.3h-1.3zM219.0 659.2h1.3v1.3h-1.3zM197.7 661.5h1.3v1.3h-1.3zM212.1 644.7h1.3v1.3h-1.3zM210.9 621.9h1.3v1.3h-1.3zM191.3 639.7h1.3v1.3h-1.3zM211.3 655.0h1.3v1.3h-1.3zM203.1 611.8h1.3v1.3h-1.3zM200.3 652.9h1.3v1.3h-1.3zM209.4 618.2h1.3v1.3h-1.3zM198.3 650.0h1.3v1.3h-1.3zM182.0 644.1h1.3v1.3h-1.3zM208.3 650.3h1.3v1.3h-1.3zM215.9 635.3h1.3v1.3h-1.3zM206.3 636.4h1.3v1.3h-1.3zM196.2 622.8h1.3v1.3h-1.3zM195.8 653.5h1.3v1.3h-1.3zM208.7 659.4h1.3v1.3h-1.3zM196.6 646.1h1.3v1.3h-1.3zM200.7 658.3h1.3v1.3h-1.3zM200.6 633.7h1.3v1.3h-1.3zM207.2 620.4h1.3v1.3h-1.3zM190.8 618.9h1.3v1.3h-1.3zM215.8 641.3h1.3v1.3h-1.3zM200.7 660.4h1.3v1.3h-1.3zM207.3 611.4h1.3v1.3h-1.3zM209.9 622.9h1.3v1.3h-1.3zM208.2 613.7h1.3v1.3h-1.3zM211.7 616.4h1.3v1.3h-1.3zM196.0 654.4h1.3v1.3h-1.3zM205.5 625.7h1.3v1.3h-1.3zM194.8 624.6h1.3v1.3h-1.3zM205.0 621.7h1.3v1.3h-1.3zM198.3 621.7h1.3v1.3h-1.3zM203.4 609.2h1.3v1.3h-1.3zM200.6 638.8h1.3v1.3h-1.3zM206.8 621.9h1.3v1.3h-1.3zM195.6 619.7h1.3v1.3h-1.3zM208.6 622.9h1.3v1.3h-1.3zM207.0 654.2h1.3v1.3h-1.3zM195.8 618.7h1.3v1.3h-1.3zM191.8 644.7h1.3v1.3h-1.3zM212.1 650.6h1.3v1.3h-1.3zM204.5 635.5h1.3v1.3h-1.3zM202.0 651.4h1.3v1.3h-1.3zM213.7 637.5h1.3v1.3h-1.3zM206.5 610.4h1.3v1.3h-1.3zM211.2 628.6h1.3v1.3h-1.3zM202.8 659.8h1.3v1.3h-1.3zM211.3 639.2h1.3v1.3h-1.3zM201.0 652.7h1.3v1.3h-1.3zM193.0 630.0h1.3v1.3h-1.3zM202.6 641.4h1.3v1.3h-1.3zM204.7 645.7h1.3v1.3h-1.3zM207.6 619.5h1.3v1.3h-1.3zM197.2 655.1h1.3v1.3h-1.3zM205.6 644.6h1.3v1.3h-1.3zM205.5 644.8h1.3v1.3h-1.3zM208.0 649.2h1.3v1.3h-1.3zM201.9 650.9h1.3v1.3h-1.3zM192.6 654.7h1.3v1.3h-1.3zM209.7 627.6h1.3v1.3h-1.3zM207.9 616.7h1.3v1.3h-1.3zM206.3 640.7h1.3v1.3h-1.3zM200.9 637.9h1.3v1.3h-1.3zM208.5 651.0h1.3v1.3h-1.3zM203.7 647.8h1.3v1.3h-1.3zM207.5 610.6h1.3v1.3h-1.3zM211.2 643.6h1.3v1.3h-1.3zM204.4 610.2h1.3v1.3h-1.3zM202.4 628.1h1.3v1.3h-1.3zM205.6 617.4h1.3v1.3h-1.3zM214.6 609.8h1.3v1.3h-1.3zM211.2 648.2h1.3v1.3h-1.3zM199.8 631.8h1.3v1.3h-1.3zM194.4 626.5h1.3v1.3h-1.3zM205.7 653.3h1.3v1.3h-1.3zM206.5 622.0h1.3v1.3h-1.3zM209.4 635.3h1.3v1.3h-1.3zM207.0 652.5h1.3v1.3h-1.3zM204.4 649.3h1.3v1.3h-1.3zM209.0 658.5h1.3v1.3h-1.3zM206.5 631.5h1.3v1.3h-1.3zM214.8 609.8h1.3v1.3h-1.3zM210.5 655.7h1.3v1.3h-1.3zM200.5 637.4h1.3v1.3h-1.3zM211.4 612.2h1.3v1.3h-1.3zM199.0 628.8h1.3v1.3h-1.3zM212.3 611.8h1.3v1.3h-1.3zM208.0 627.0h1.3v1.3h-1.3zM207.3 616.0h1.3v1.3h-1.3zM200.4 650.3h1.3v1.3h-1.3zM192.7 638.6h1.3v1.3h-1.3zM202.6 622.2h1.3v1.3h-1.3zM196.7 632.9h1.3v1.3h-1.3zM216.6 620.1h1.3v1.3h-1.3zM206.5 634.0h1.3v1.3h-1.3zM213.0 640.2h1.3v1.3h-1.3zM197.2 630.1h1.3v1.3h-1.3zM200.2 631.7h1.3v1.3h-1.3zM209.3 614.6h1.3v1.3h-1.3zM204.3 647.7h1.3v1.3h-1.3zM210.3 661.4h1.3v1.3h-1.3zM202.7 630.8h1.3v1.3h-1.3zM203.8 660.4h1.3v1.3h-1.3zM202.6 622.2h1.3v1.3h-1.3zM207.9 649.1h1.3v1.3h-1.3zM199.0 658.1h1.3v1.3h-1.3zM190.1 620.6h1.3v1.3h-1.3z"/>
<path fill="#a05040" d="M212.3 659.6h1.3v1.3h-1.3zM207.5 624.8h1.3v1.3h-1.3zM204.5 659.9h1.3v1.3h-1.3zM205.8 625.1h1.3v1.3h-1.3zM193.5 621.4h1.3v1.3h-1.3zM204.2 632.6h1.3v1.3h-1.3zM195.8 631.8h1.3v1.3h-1.3zM197.5 644.4h1.3v1.3h-1.3zM212.7 646.9h1.3v1.3h-1.3zM200.8 631.0h1.3v1.3h-1.3zM205.1 644.7h1.3v1.3h-1.3zM194.5 649.6h1.3v1.3h-1.3zM196.3 637.0h1.3v1.3h-1.3zM209.3 633.1h1.3v1.3h-1.3zM198.7 614.6h1.3v1.3h-1.3zM194.4 634.1h1.3v1.3h-1.3zM201.7 640.0h1.3v1.3h-1.3zM199.8 613.1h1.3v1.3h-1.3zM197.9 660.6h1.3v1.3h-1.3zM200.3 623.5h1.3v1.3h-1.3zM203.9 656.1h1.3v1.3h-1.3zM206.7 619.7h1.3v1.3h-1.3zM206.0 653.3h1.3v1.3h-1.3zM202.8 650.7h1.3v1.3h-1.3zM196.8 622.3h1.3v1.3h-1.3zM210.7 640.3h1.3v1.3h-1.3zM201.0 621.2h1.3v1.3h-1.3zM202.3 657.4h1.3v1.3h-1.3zM208.2 629.0h1.3v1.3h-1.3zM200.7 612.3h1.3v1.3h-1.3zM200.7 629.9h1.3v1.3h-1.3zM206.7 628.7h1.3v1.3h-1.3zM193.8 617.4h1.3v1.3h-1.3zM201.4 647.6h1.3v1.3h-1.3zM186.8 611.0h1.3v1.3h-1.3zM206.1 642.9h1.3v1.3h-1.3zM206.4 661.8h1.3v1.3h-1.3zM196.2 633.7h1.3v1.3h-1.3zM207.5 638.9h1.3v1.3h-1.3zM204.2 629.8h1.3v1.3h-1.3zM213.7 657.2h1.3v1.3h-1.3zM197.7 659.5h1.3v1.3h-1.3zM193.4 647.4h1.3v1.3h-1.3zM197.8 651.3h1.3v1.3h-1.3zM203.2 645.3h1.3v1.3h-1.3zM203.7 627.5h1.3v1.3h-1.3zM210.3 629.8h1.3v1.3h-1.3zM202.0 616.9h1.3v1.3h-1.3zM211.5 657.2h1.3v1.3h-1.3zM189.4 658.1h1.3v1.3h-1.3zM196.3 639.1h1.3v1.3h-1.3zM191.5 637.7h1.3v1.3h-1.3zM208.2 634.3h1.3v1.3h-1.3zM192.2 618.7h1.3v1.3h-1.3zM195.4 609.5h1.3v1.3h-1.3zM196.4 635.6h1.3v1.3h-1.3zM198.3 647.0h1.3v1.3h-1.3zM213.3 642.6h1.3v1.3h-1.3zM211.2 650.9h1.3v1.3h-1.3zM211.1 615.0h1.3v1.3h-1.3zM208.3 656.1h1.3v1.3h-1.3zM213.6 622.3h1.3v1.3h-1.3zM208.3 632.1h1.3v1.3h-1.3zM197.7 624.4h1.3v1.3h-1.3zM209.5 653.2h1.3v1.3h-1.3zM205.8 621.4h1.3v1.3h-1.3zM200.4 636.1h1.3v1.3h-1.3zM217.3 636.0h1.3v1.3h-1.3zM199.0 650.7h1.3v1.3h-1.3zM215.9 640.9h1.3v1.3h-1.3zM195.8 661.3h1.3v1.3h-1.3zM205.0 642.6h1.3v1.3h-1.3zM203.7 615.5h1.3v1.3h-1.3zM200.8 613.1h1.3v1.3h-1.3zM200.8 614.2h1.3v1.3h-1.3zM203.1 619.4h1.3v1.3h-1.3zM205.0 649.3h1.3v1.3h-1.3zM210.0 619.0h1.3v1.3h-1.3zM207.0 655.9h1.3v1.3h-1.3zM202.2 650.3h1.3v1.3h-1.3zM209.2 658.0h1.3v1.3h-1.3zM199.9 626.3h1.3v1.3h-1.3zM216.5 616.4h1.3v1.3h-1.3zM213.8 647.3h1.3v1.3h-1.3zM206.7 647.7h1.3v1.3h-1.3zM215.5 639.8h1.3v1.3h-1.3zM203.4 615.5h1.3v1.3h-1.3zM197.1 645.8h1.3v1.3h-1.3zM206.2 629.7h1.3v1.3h-1.3zM202.7 660.4h1.3v1.3h-1.3zM203.6 625.8h1.3v1.3h-1.3zM193.6 622.8h1.3v1.3h-1.3zM200.2 635.7h1.3v1.3h-1.3zM194.8 638.9h1.3v1.3h-1.3zM208.9 616.0h1.3v1.3h-1.3zM204.5 642.6h1.3v1.3h-1.3zM200.9 658.0h1.3v1.3h-1.3zM202.5 612.9h1.3v1.3h-1.3zM215.7 621.0h1.3v1.3h-1.3zM203.4 650.6h1.3v1.3h-1.3zM194.3 610.0h1.3v1.3h-1.3zM205.2 631.9h1.3v1.3h-1.3zM212.6 641.5h1.3v1.3h-1.3zM217.1 615.1h1.3v1.3h-1.3zM218.2 617.7h1.3v1.3h-1.3zM204.3 644.4h1.3v1.3h-1.3zM196.7 643.7h1.3v1.3h-1.3zM192.4 623.1h1.3v1.3h-1.3zM203.4 649.4h1.3v1.3h-1.3zM206.1 629.0h1.3v1.3h-1.3zM190.7 626.2h1.3v1.3h-1.3zM204.0 621.2h1.3v1.3h-1.3zM202.4 659.2h1.3v1.3h-1.3zM206.7 618.3h1.3v1.3h-1.3zM210.6 638.2h1.3v1.3h-1.3zM199.2 653.3h1.3v1.3h-1.3zM191.7 625.7h1.3v1.3h-1.3zM191.1 657.5h1.3v1.3h-1.3zM213.6 629.3h1.3v1.3h-1.3zM185.5 658.3h1.3v1.3h-1.3zM204.9 613.2h1.3v1.3h-1.3zM205.6 651.9h1.3v1.3h-1.3zM210.9 633.9h1.3v1.3h-1.3zM212.0 611.9h1.3v1.3h-1.3zM211.5 625.3h1.3v1.3h-1.3zM208.4 633.4h1.3v1.3h-1.3zM209.5 634.1h1.3v1.3h-1.3zM204.7 617.6h1.3v1.3h-1.3zM198.6 641.8h1.3v1.3h-1.3zM207.7 637.0h1.3v1.3h-1.3zM211.9 620.3h1.3v1.3h-1.3zM210.9 611.5h1.3v1.3h-1.3zM208.5 649.2h1.3v1.3h-1.3zM208.8 652.2h1.3v1.3h-1.3zM204.9 654.7h1.3v1.3h-1.3zM201.9 656.6h1.3v1.3h-1.3zM212.2 616.7h1.3v1.3h-1.3zM205.1 624.9h1.3v1.3h-1.3zM204.4 615.2h1.3v1.3h-1.3zM207.5 640.8h1.3v1.3h-1.3zM200.8 646.7h1.3v1.3h-1.3zM198.5 622.5h1.3v1.3h-1.3zM211.0 641.1h1.3v1.3h-1.3zM206.8 642.9h1.3v1.3h-1.3zM203.4 636.3h1.3v1.3h-1.3z"/>
<path fill="#b44e3a" d="M197.6 630.1h1.3v1.3h-1.3zM207.5 661.5h1.3v1.3h-1.3zM189.4 616.3h1.3v1.3h-1.3zM213.3 649.9h1.3v1.3h-1.3zM206.7 639.4h1.3v1.3h-1.3zM198.4 613.1h1.3v1.3h-1.3zM210.9 661.1h1.3v1.3h-1.3zM194.1 631.0h1.3v1.3h-1.3zM200.7 638.1h1.3v1.3h-1.3zM195.2 613.5h1.3v1.3h-1.3zM213.2 624.8h1.3v1.3h-1.3zM203.0 618.6h1.3v1.3h-1.3zM208.2 649.1h1.3v1.3h-1.3zM201.2 649.1h1.3v1.3h-1.3zM209.2 645.9h1.3v1.3h-1.3zM204.9 636.7h1.3v1.3h-1.3zM205.0 661.0h1.3v1.3h-1.3zM202.4 617.7h1.3v1.3h-1.3zM206.8 621.6h1.3v1.3h-1.3zM202.9 626.6h1.3v1.3h-1.3zM224.3 659.5h1.3v1.3h-1.3zM200.2 612.1h1.3v1.3h-1.3zM199.0 616.2h1.3v1.3h-1.3zM209.1 647.0h1.3v1.3h-1.3zM207.8 611.7h1.3v1.3h-1.3zM199.7 637.9h1.3v1.3h-1.3zM202.0 637.9h1.3v1.3h-1.3zM197.6 645.8h1.3v1.3h-1.3zM207.4 629.1h1.3v1.3h-1.3zM205.8 612.9h1.3v1.3h-1.3zM206.5 641.5h1.3v1.3h-1.3zM200.3 619.0h1.3v1.3h-1.3zM198.4 639.9h1.3v1.3h-1.3zM195.2 648.3h1.3v1.3h-1.3zM202.0 613.9h1.3v1.3h-1.3zM196.4 615.1h1.3v1.3h-1.3zM206.5 620.7h1.3v1.3h-1.3zM201.8 612.4h1.3v1.3h-1.3zM208.2 622.1h1.3v1.3h-1.3zM202.8 645.1h1.3v1.3h-1.3zM218.4 624.7h1.3v1.3h-1.3zM196.3 654.5h1.3v1.3h-1.3zM194.6 612.8h1.3v1.3h-1.3zM194.5 656.8h1.3v1.3h-1.3zM214.0 632.0h1.3v1.3h-1.3zM189.1 644.5h1.3v1.3h-1.3zM198.1 622.4h1.3v1.3h-1.3zM203.5 615.8h1.3v1.3h-1.3zM206.9 627.3h1.3v1.3h-1.3zM201.6 650.9h1.3v1.3h-1.3zM202.3 651.4h1.3v1.3h-1.3zM198.5 626.4h1.3v1.3h-1.3zM211.6 615.9h1.3v1.3h-1.3zM200.9 617.5h1.3v1.3h-1.3zM201.6 638.0h1.3v1.3h-1.3zM212.3 622.8h1.3v1.3h-1.3zM204.1 618.5h1.3v1.3h-1.3zM196.4 645.5h1.3v1.3h-1.3zM193.7 656.3h1.3v1.3h-1.3zM195.7 614.5h1.3v1.3h-1.3zM201.0 609.8h1.3v1.3h-1.3zM205.4 656.5h1.3v1.3h-1.3zM216.2 630.5h1.3v1.3h-1.3zM182.6 651.9h1.3v1.3h-1.3zM208.5 661.2h1.3v1.3h-1.3zM198.0 623.0h1.3v1.3h-1.3zM206.3 633.2h1.3v1.3h-1.3zM203.7 647.8h1.3v1.3h-1.3zM201.0 640.4h1.3v1.3h-1.3zM201.0 652.3h1.3v1.3h-1.3zM202.6 626.9h1.3v1.3h-1.3zM203.3 618.5h1.3v1.3h-1.3zM206.4 635.6h1.3v1.3h-1.3zM204.9 656.0h1.3v1.3h-1.3zM197.5 641.5h1.3v1.3h-1.3zM201.2 610.0h1.3v1.3h-1.3zM201.8 660.8h1.3v1.3h-1.3zM207.0 634.8h1.3v1.3h-1.3zM213.7 619.0h1.3v1.3h-1.3zM196.4 650.8h1.3v1.3h-1.3zM214.7 627.9h1.3v1.3h-1.3zM199.6 651.5h1.3v1.3h-1.3zM195.0 615.0h1.3v1.3h-1.3zM207.5 649.7h1.3v1.3h-1.3zM199.5 649.5h1.3v1.3h-1.3zM196.4 621.0h1.3v1.3h-1.3zM207.8 616.5h1.3v1.3h-1.3zM195.5 654.0h1.3v1.3h-1.3zM212.6 635.7h1.3v1.3h-1.3zM192.9 638.3h1.3v1.3h-1.3zM205.8 630.0h1.3v1.3h-1.3zM201.1 630.9h1.3v1.3h-1.3zM202.9 617.6h1.3v1.3h-1.3zM204.4 610.3h1.3v1.3h-1.3zM206.0 658.2h1.3v1.3h-1.3zM212.0 639.2h1.3v1.3h-1.3zM204.9 629.5h1.3v1.3h-1.3zM211.7 633.2h1.3v1.3h-1.3zM193.0 612.6h1.3v1.3h-1.3zM200.7 642.8h1.3v1.3h-1.3zM211.1 624.6h1.3v1.3h-1.3zM198.7 655.5h1.3v1.3h-1.3zM212.1 635.4h1.3v1.3h-1.3zM195.2 644.8h1.3v1.3h-1.3zM213.2 633.8h1.3v1.3h-1.3zM194.0 620.9h1.3v1.3h-1.3zM209.6 615.0h1.3v1.3h-1.3zM200.4 634.3h1.3v1.3h-1.3zM203.2 622.0h1.3v1.3h-1.3zM198.3 610.8h1.3v1.3h-1.3zM194.3 647.1h1.3v1.3h-1.3zM213.3 618.6h1.3v1.3h-1.3zM208.4 629.6h1.3v1.3h-1.3zM203.2 625.0h1.3v1.3h-1.3zM204.6 646.2h1.3v1.3h-1.3zM218.9 621.4h1.3v1.3h-1.3zM211.9 643.9h1.3v1.3h-1.3zM204.6 640.5h1.3v1.3h-1.3zM203.5 632.4h1.3v1.3h-1.3zM215.9 616.3h1.3v1.3h-1.3zM212.9 622.1h1.3v1.3h-1.3zM188.0 660.5h1.3v1.3h-1.3zM205.3 649.3h1.3v1.3h-1.3zM211.7 625.6h1.3v1.3h-1.3zM209.6 615.3h1.3v1.3h-1.3zM197.1 645.3h1.3v1.3h-1.3zM217.4 635.0h1.3v1.3h-1.3zM207.3 630.7h1.3v1.3h-1.3zM201.8 645.7h1.3v1.3h-1.3zM205.8 637.7h1.3v1.3h-1.3zM203.0 661.7h1.3v1.3h-1.3zM205.1 624.5h1.3v1.3h-1.3zM196.4 613.2h1.3v1.3h-1.3zM223.3 632.1h1.3v1.3h-1.3zM198.9 659.6h1.3v1.3h-1.3zM202.7 610.6h1.3v1.3h-1.3zM199.4 610.5h1.3v1.3h-1.3zM200.9 646.1h1.3v1.3h-1.3zM207.5 640.3h1.3v1.3h-1.3zM206.1 659.2h1.3v1.3h-1.3zM202.6 609.8h1.3v1.3h-1.3zM200.3 657.3h1.3v1.3h-1.3z"/>
<path fill="#a85a48" d="M184.7 655.9h1.3v1.3h-1.3zM210.2 626.2h1.3v1.3h-1.3zM204.4 626.9h1.3v1.3h-1.3zM191.9 637.7h1.3v1.3h-1.3zM212.0 624.0h1.3v1.3h-1.3zM207.2 633.3h1.3v1.3h-1.3zM203.7 655.8h1.3v1.3h-1.3zM219.1 623.6h1.3v1.3h-1.3zM221.4 627.7h1.3v1.3h-1.3zM210.0 623.9h1.3v1.3h-1.3zM221.1 645.8h1.3v1.3h-1.3zM202.6 619.8h1.3v1.3h-1.3zM204.6 624.8h1.3v1.3h-1.3zM201.4 650.9h1.3v1.3h-1.3zM207.6 621.8h1.3v1.3h-1.3zM197.3 616.6h1.3v1.3h-1.3zM190.7 613.8h1.3v1.3h-1.3zM207.0 609.1h1.3v1.3h-1.3zM202.8 630.3h1.3v1.3h-1.3zM205.0 644.7h1.3v1.3h-1.3zM203.5 615.6h1.3v1.3h-1.3zM207.7 621.1h1.3v1.3h-1.3zM209.3 640.7h1.3v1.3h-1.3zM215.0 641.5h1.3v1.3h-1.3zM204.1 646.9h1.3v1.3h-1.3zM204.9 641.6h1.3v1.3h-1.3zM199.2 644.8h1.3v1.3h-1.3zM203.2 655.4h1.3v1.3h-1.3zM191.4 630.5h1.3v1.3h-1.3zM208.6 652.3h1.3v1.3h-1.3zM204.1 615.2h1.3v1.3h-1.3zM210.6 653.8h1.3v1.3h-1.3zM206.1 654.8h1.3v1.3h-1.3zM209.9 613.2h1.3v1.3h-1.3zM206.9 620.0h1.3v1.3h-1.3zM201.0 609.8h1.3v1.3h-1.3zM190.6 611.4h1.3v1.3h-1.3zM209.1 611.3h1.3v1.3h-1.3zM190.4 611.5h1.3v1.3h-1.3zM209.3 640.2h1.3v1.3h-1.3zM204.8 651.9h1.3v1.3h-1.3zM207.0 654.3h1.3v1.3h-1.3zM209.8 644.3h1.3v1.3h-1.3zM216.5 635.1h1.3v1.3h-1.3zM203.9 654.7h1.3v1.3h-1.3zM206.3 612.1h1.3v1.3h-1.3zM208.7 617.5h1.3v1.3h-1.3zM215.2 654.0h1.3v1.3h-1.3zM202.6 653.7h1.3v1.3h-1.3zM185.6 611.7h1.3v1.3h-1.3zM202.8 648.7h1.3v1.3h-1.3zM205.0 658.9h1.3v1.3h-1.3zM213.1 649.3h1.3v1.3h-1.3zM219.5 621.5h1.3v1.3h-1.3zM197.2 649.1h1.3v1.3h-1.3zM200.3 611.9h1.3v1.3h-1.3zM192.7 657.0h1.3v1.3h-1.3zM192.9 625.9h1.3v1.3h-1.3zM203.9 660.9h1.3v1.3h-1.3zM195.6 634.7h1.3v1.3h-1.3zM201.5 645.4h1.3v1.3h-1.3zM192.3 645.4h1.3v1.3h-1.3zM197.4 647.2h1.3v1.3h-1.3zM206.7 650.3h1.3v1.3h-1.3zM197.7 652.3h1.3v1.3h-1.3zM196.5 660.5h1.3v1.3h-1.3zM212.3 616.2h1.3v1.3h-1.3zM207.0 661.1h1.3v1.3h-1.3zM212.0 646.4h1.3v1.3h-1.3zM205.8 641.4h1.3v1.3h-1.3zM209.8 647.9h1.3v1.3h-1.3zM198.0 640.4h1.3v1.3h-1.3zM196.5 633.6h1.3v1.3h-1.3zM200.8 652.9h1.3v1.3h-1.3zM196.8 625.7h1.3v1.3h-1.3zM207.5 638.2h1.3v1.3h-1.3zM205.6 627.3h1.3v1.3h-1.3zM203.9 653.2h1.3v1.3h-1.3zM208.7 655.7h1.3v1.3h-1.3zM194.6 630.0h1.3v1.3h-1.3zM211.5 642.8h1.3v1.3h-1.3zM205.5 613.3h1.3v1.3h-1.3zM202.5 619.7h1.3v1.3h-1.3zM200.6 632.8h1.3v1.3h-1.3zM200.3 610.3h1.3v1.3h-1.3zM189.4 639.0h1.3v1.3h-1.3zM213.3 658.6h1.3v1.3h-1.3zM205.8 615.7h1.3v1.3h-1.3zM205.0 635.7h1.3v1.3h-1.3zM196.7 639.0h1.3v1.3h-1.3zM204.8 624.6h1.3v1.3h-1.3zM212.6 638.1h1.3v1.3h-1.3zM202.3 623.9h1.3v1.3h-1.3zM206.6 651.2h1.3v1.3h-1.3zM202.1 654.7h1.3v1.3h-1.3zM198.6 657.7h1.3v1.3h-1.3zM196.7 614.5h1.3v1.3h-1.3zM206.2 657.9h1.3v1.3h-1.3zM204.7 624.2h1.3v1.3h-1.3zM199.3 637.1h1.3v1.3h-1.3zM207.6 636.4h1.3v1.3h-1.3zM207.9 660.1h1.3v1.3h-1.3zM202.5 616.1h1.3v1.3h-1.3zM208.2 652.0h1.3v1.3h-1.3zM190.2 640.4h1.3v1.3h-1.3zM194.8 626.9h1.3v1.3h-1.3zM206.4 639.7h1.3v1.3h-1.3zM206.5 647.1h1.3v1.3h-1.3zM204.3 635.6h1.3v1.3h-1.3zM199.9 652.8h1.3v1.3h-1.3zM195.1 630.5h1.3v1.3h-1.3zM214.2 616.0h1.3v1.3h-1.3zM200.6 661.1h1.3v1.3h-1.3zM209.2 610.7h1.3v1.3h-1.3zM212.4 636.6h1.3v1.3h-1.3zM216.0 610.3h1.3v1.3h-1.3zM208.6 657.0h1.3v1.3h-1.3zM206.7 627.4h1.3v1.3h-1.3zM199.1 651.5h1.3v1.3h-1.3zM207.2 649.0h1.3v1.3h-1.3zM201.1 649.9h1.3v1.3h-1.3zM204.7 646.0h1.3v1.3h-1.3zM201.3 638.0h1.3v1.3h-1.3zM192.6 638.5h1.3v1.3h-1.3zM197.1 659.3h1.3v1.3h-1.3zM194.3 654.0h1.3v1.3h-1.3zM203.2 621.9h1.3v1.3h-1.3zM202.1 660.0h1.3v1.3h-1.3z"/>
<path fill="#b85a44" d="M207.3 632.4h1.3v1.3h-1.3zM200.4 634.6h1.3v1.3h-1.3zM205.4 610.0h1.3v1.3h-1.3zM217.7 627.9h1.3v1.3h-1.3zM205.9 631.1h1.3v1.3h-1.3zM206.2 633.7h1.3v1.3h-1.3zM197.6 641.7h1.3v1.3h-1.3zM205.7 613.1h1.3v1.3h-1.3zM203.6 638.8h1.3v1.3h-1.3zM207.7 630.5h1.3v1.3h-1.3zM211.0 640.6h1.3v1.3h-1.3zM208.1 639.3h1.3v1.3h-1.3zM204.7 623.0h1.3v1.3h-1.3zM207.4 658.5h1.3v1.3h-1.3zM210.3 651.5h1.3v1.3h-1.3zM192.9 653.2h1.3v1.3h-1.3zM202.8 616.7h1.3v1.3h-1.3zM210.3 654.6h1.3v1.3h-1.3zM204.7 661.2h1.3v1.3h-1.3zM209.1 649.8h1.3v1.3h-1.3zM206.9 610.3h1.3v1.3h-1.3zM202.3 647.5h1.3v1.3h-1.3zM219.1 633.5h1.3v1.3h-1.3zM207.7 618.1h1.3v1.3h-1.3zM191.1 656.3h1.3v1.3h-1.3zM202.9 617.6h1.3v1.3h-1.3zM203.6 615.4h1.3v1.3h-1.3zM195.1 613.1h1.3v1.3h-1.3zM214.0 632.4h1.3v1.3h-1.3zM214.7 653.3h1.3v1.3h-1.3zM208.1 617.7h1.3v1.3h-1.3zM207.6 644.0h1.3v1.3h-1.3zM202.6 660.1h1.3v1.3h-1.3zM208.2 657.4h1.3v1.3h-1.3zM207.4 641.2h1.3v1.3h-1.3zM210.5 639.2h1.3v1.3h-1.3zM205.5 639.0h1.3v1.3h-1.3zM208.0 643.3h1.3v1.3h-1.3zM211.2 618.8h1.3v1.3h-1.3zM208.9 635.6h1.3v1.3h-1.3zM201.6 624.1h1.3v1.3h-1.3zM199.4 644.9h1.3v1.3h-1.3zM205.3 654.8h1.3v1.3h-1.3zM208.8 652.4h1.3v1.3h-1.3zM199.7 614.5h1.3v1.3h-1.3zM214.0 626.2h1.3v1.3h-1.3zM201.8 641.1h1.3v1.3h-1.3zM202.2 630.1h1.3v1.3h-1.3zM205.6 648.6h1.3v1.3h-1.3zM207.8 643.3h1.3v1.3h-1.3zM205.4 622.8h1.3v1.3h-1.3zM203.5 656.2h1.3v1.3h-1.3zM201.4 613.7h1.3v1.3h-1.3zM207.8 628.6h1.3v1.3h-1.3zM209.6 626.0h1.3v1.3h-1.3zM221.2 654.3h1.3v1.3h-1.3zM200.1 629.6h1.3v1.3h-1.3zM204.0 618.6h1.3v1.3h-1.3zM203.7 636.4h1.3v1.3h-1.3zM209.1 632.0h1.3v1.3h-1.3zM210.2 636.2h1.3v1.3h-1.3zM203.1 615.9h1.3v1.3h-1.3zM203.7 633.6h1.3v1.3h-1.3zM202.9 642.1h1.3v1.3h-1.3zM198.2 624.4h1.3v1.3h-1.3zM201.1 652.0h1.3v1.3h-1.3zM203.6 611.9h1.3v1.3h-1.3zM191.0 653.9h1.3v1.3h-1.3zM211.7 634.1h1.3v1.3h-1.3zM202.9 634.5h1.3v1.3h-1.3zM205.7 647.3h1.3v1.3h-1.3zM195.4 659.8h1.3v1.3h-1.3zM203.1 629.4h1.3v1.3h-1.3zM199.7 644.4h1.3v1.3h-1.3zM201.8 616.0h1.3v1.3h-1.3zM206.3 650.0h1.3v1.3h-1.3zM200.6 636.8h1.3v1.3h-1.3zM207.2 658.9h1.3v1.3h-1.3zM213.6 656.7h1.3v1.3h-1.3zM206.9 627.9h1.3v1.3h-1.3zM195.6 654.0h1.3v1.3h-1.3zM209.5 637.8h1.3v1.3h-1.3zM198.6 643.6h1.3v1.3h-1.3zM216.5 651.8h1.3v1.3h-1.3zM205.2 650.1h1.3v1.3h-1.3zM211.4 644.3h1.3v1.3h-1.3zM200.5 609.8h1.3v1.3h-1.3zM200.2 656.0h1.3v1.3h-1.3zM206.2 631.5h1.3v1.3h-1.3zM204.4 610.8h1.3v1.3h-1.3zM211.0 609.6h1.3v1.3h-1.3zM195.5 659.3h1.3v1.3h-1.3zM193.9 610.3h1.3v1.3h-1.3zM197.1 628.5h1.3v1.3h-1.3zM198.7 661.4h1.3v1.3h-1.3zM215.0 642.7h1.3v1.3h-1.3zM205.8 632.5h1.3v1.3h-1.3zM208.3 661.2h1.3v1.3h-1.3zM199.1 659.3h1.3v1.3h-1.3zM201.1 640.9h1.3v1.3h-1.3zM211.4 617.9h1.3v1.3h-1.3zM208.0 630.3h1.3v1.3h-1.3zM208.9 653.8h1.3v1.3h-1.3zM203.1 635.4h1.3v1.3h-1.3zM208.2 611.1h1.3v1.3h-1.3zM196.7 644.2h1.3v1.3h-1.3zM203.7 649.2h1.3v1.3h-1.3zM216.2 645.1h1.3v1.3h-1.3zM204.7 653.8h1.3v1.3h-1.3zM202.0 618.7h1.3v1.3h-1.3zM207.1 629.4h1.3v1.3h-1.3zM218.5 658.6h1.3v1.3h-1.3zM198.2 630.9h1.3v1.3h-1.3zM206.4 642.1h1.3v1.3h-1.3zM209.7 622.1h1.3v1.3h-1.3zM195.2 612.6h1.3v1.3h-1.3zM207.2 612.6h1.3v1.3h-1.3zM194.3 630.3h1.3v1.3h-1.3zM206.1 633.4h1.3v1.3h-1.3zM197.4 651.5h1.3v1.3h-1.3zM198.2 640.4h1.3v1.3h-1.3zM186.6 628.8h1.3v1.3h-1.3zM204.4 645.4h1.3v1.3h-1.3zM203.3 656.5h1.3v1.3h-1.3zM183.9 641.7h1.3v1.3h-1.3zM219.9 623.3h1.3v1.3h-1.3zM212.3 609.8h1.3v1.3h-1.3zM201.5 624.6h1.3v1.3h-1.3zM205.4 616.6h1.3v1.3h-1.3zM199.3 661.0h1.3v1.3h-1.3zM207.2 635.4h1.3v1.3h-1.3zM222.3 633.8h1.3v1.3h-1.3zM213.3 628.2h1.3v1.3h-1.3zM211.4 618.3h1.3v1.3h-1.3zM202.5 631.3h1.3v1.3h-1.3zM204.9 623.7h1.3v1.3h-1.3zM208.4 645.2h1.3v1.3h-1.3zM211.7 631.1h1.3v1.3h-1.3zM205.1 613.9h1.3v1.3h-1.3zM210.5 618.7h1.3v1.3h-1.3zM192.7 622.0h1.3v1.3h-1.3zM219.4 631.0h1.3v1.3h-1.3zM206.6 629.7h1.3v1.3h-1.3zM211.9 660.9h1.3v1.3h-1.3zM199.6 646.8h1.3v1.3h-1.3zM206.7 631.0h1.3v1.3h-1.3zM197.9 638.9h1.3v1.3h-1.3zM215.1 611.6h1.3v1.3h-1.3zM201.2 656.4h1.3v1.3h-1.3zM193.3 646.9h1.3v1.3h-1.3zM213.0 638.8h1.3v1.3h-1.3zM204.7 644.5h1.3v1.3h-1.3zM213.1 622.3h1.3v1.3h-1.3zM211.6 630.8h1.3v1.3h-1.3zM200.2 619.6h1.3v1.3h-1.3zM205.1 646.0h1.3v1.3h-1.3zM202.5 630.3h1.3v1.3h-1.3zM204.5 612.9h1.3v1.3h-1.3zM194.1 644.9h1.3v1.3h-1.3zM197.7 627.0h1.3v1.3h-1.3zM193.4 642.2h1.3v1.3h-1.3zM209.3 639.0h1.3v1.3h-1.3z"/>
<path fill="#c07060" d="M207.2 614.1h1.3v1.3h-1.3zM196.2 641.4h1.3v1.3h-1.3zM211.3 657.0h1.3v1.3h-1.3zM204.6 643.2h1.3v1.3h-1.3zM195.6 652.7h1.3v1.3h-1.3zM211.8 647.1h1.3v1.3h-1.3zM197.0 652.8h1.3v1.3h-1.3zM204.1 609.4h1.3v1.3h-1.3zM203.4 650.8h1.3v1.3h-1.3zM202.2 638.6h1.3v1.3h-1.3zM219.0 619.3h1.3v1.3h-1.3zM205.7 642.3h1.3v1.3h-1.3zM206.2 661.1h1.3v1.3h-1.3zM203.3 638.8h1.3v1.3h-1.3zM197.0 613.5h1.3v1.3h-1.3zM198.0 653.1h1.3v1.3h-1.3zM207.8 632.9h1.3v1.3h-1.3zM193.4 645.4h1.3v1.3h-1.3zM205.4 637.7h1.3v1.3h-1.3zM197.0 638.2h1.3v1.3h-1.3zM206.9 635.5h1.3v1.3h-1.3zM199.7 625.3h1.3v1.3h-1.3zM195.7 620.8h1.3v1.3h-1.3zM208.0 651.7h1.3v1.3h-1.3zM190.8 630.8h1.3v1.3h-1.3zM220.2 634.1h1.3v1.3h-1.3zM220.8 629.1h1.3v1.3h-1.3zM203.6 650.2h1.3v1.3h-1.3zM195.7 657.6h1.3v1.3h-1.3zM213.8 640.2h1.3v1.3h-1.3zM200.9 645.2h1.3v1.3h-1.3zM195.9 622.0h1.3v1.3h-1.3zM205.4 621.4h1.3v1.3h-1.3zM202.1 660.5h1.3v1.3h-1.3zM200.9 654.5h1.3v1.3h-1.3zM201.5 639.8h1.3v1.3h-1.3zM201.7 611.9h1.3v1.3h-1.3zM215.8 649.0h1.3v1.3h-1.3zM202.7 643.3h1.3v1.3h-1.3zM182.2 643.0h1.3v1.3h-1.3zM213.1 641.5h1.3v1.3h-1.3zM203.1 633.0h1.3v1.3h-1.3zM192.2 610.1h1.3v1.3h-1.3zM207.6 635.3h1.3v1.3h-1.3zM215.9 650.4h1.3v1.3h-1.3zM200.3 610.1h1.3v1.3h-1.3zM199.5 627.4h1.3v1.3h-1.3zM201.1 624.6h1.3v1.3h-1.3zM199.0 618.6h1.3v1.3h-1.3zM208.9 661.3h1.3v1.3h-1.3zM195.0 645.8h1.3v1.3h-1.3zM196.1 642.5h1.3v1.3h-1.3zM209.2 627.9h1.3v1.3h-1.3zM205.8 614.9h1.3v1.3h-1.3zM207.6 644.9h1.3v1.3h-1.3zM209.8 646.5h1.3v1.3h-1.3zM202.8 642.3h1.3v1.3h-1.3zM200.3 609.8h1.3v1.3h-1.3zM212.8 612.5h1.3v1.3h-1.3zM199.4 628.4h1.3v1.3h-1.3zM211.3 655.9h1.3v1.3h-1.3zM204.5 625.3h1.3v1.3h-1.3zM208.6 625.8h1.3v1.3h-1.3zM196.8 629.1h1.3v1.3h-1.3zM201.9 658.8h1.3v1.3h-1.3zM200.7 636.4h1.3v1.3h-1.3zM208.4 639.0h1.3v1.3h-1.3zM195.4 618.5h1.3v1.3h-1.3zM214.3 658.8h1.3v1.3h-1.3zM201.5 612.0h1.3v1.3h-1.3zM210.0 633.6h1.3v1.3h-1.3zM214.0 612.7h1.3v1.3h-1.3zM208.0 613.0h1.3v1.3h-1.3zM204.0 641.5h1.3v1.3h-1.3zM209.0 609.0h1.3v1.3h-1.3zM206.6 614.7h1.3v1.3h-1.3zM211.2 610.7h1.3v1.3h-1.3zM193.1 646.6h1.3v1.3h-1.3zM197.5 630.7h1.3v1.3h-1.3zM199.2 651.8h1.3v1.3h-1.3zM199.7 632.0h1.3v1.3h-1.3zM222.4 635.5h1.3v1.3h-1.3zM205.6 614.4h1.3v1.3h-1.3zM195.8 641.0h1.3v1.3h-1.3zM209.7 656.9h1.3v1.3h-1.3zM191.8 618.6h1.3v1.3h-1.3zM204.1 637.3h1.3v1.3h-1.3zM203.9 628.2h1.3v1.3h-1.3zM191.1 633.1h1.3v1.3h-1.3zM200.8 644.4h1.3v1.3h-1.3zM200.9 642.6h1.3v1.3h-1.3zM214.2 635.9h1.3v1.3h-1.3zM217.3 621.6h1.3v1.3h-1.3zM192.0 625.3h1.3v1.3h-1.3zM189.6 627.0h1.3v1.3h-1.3zM199.0 624.6h1.3v1.3h-1.3zM192.5 652.0h1.3v1.3h-1.3zM204.6 639.7h1.3v1.3h-1.3zM200.5 621.2h1.3v1.3h-1.3zM205.4 658.4h1.3v1.3h-1.3zM205.6 656.8h1.3v1.3h-1.3zM194.6 643.4h1.3v1.3h-1.3zM199.9 625.8h1.3v1.3h-1.3zM199.1 653.4h1.3v1.3h-1.3zM203.4 658.5h1.3v1.3h-1.3zM216.0 624.2h1.3v1.3h-1.3zM212.6 617.5h1.3v1.3h-1.3zM211.7 613.1h1.3v1.3h-1.3zM201.2 610.7h1.3v1.3h-1.3zM212.2 648.5h1.3v1.3h-1.3zM196.8 618.9h1.3v1.3h-1.3zM202.3 650.7h1.3v1.3h-1.3zM200.3 631.6h1.3v1.3h-1.3zM191.2 653.1h1.3v1.3h-1.3zM215.0 621.4h1.3v1.3h-1.3zM199.3 629.7h1.3v1.3h-1.3zM203.8 620.3h1.3v1.3h-1.3zM213.5 615.7h1.3v1.3h-1.3zM200.0 611.6h1.3v1.3h-1.3zM203.3 647.4h1.3v1.3h-1.3zM205.2 609.9h1.3v1.3h-1.3zM193.2 613.9h1.3v1.3h-1.3zM205.7 655.9h1.3v1.3h-1.3zM202.3 630.5h1.3v1.3h-1.3zM210.8 633.7h1.3v1.3h-1.3zM223.9 630.3h1.3v1.3h-1.3zM208.2 653.8h1.3v1.3h-1.3zM204.2 633.6h1.3v1.3h-1.3zM198.4 618.1h1.3v1.3h-1.3zM208.9 639.4h1.3v1.3h-1.3zM205.2 659.6h1.3v1.3h-1.3zM194.3 661.8h1.3v1.3h-1.3zM216.4 616.5h1.3v1.3h-1.3zM202.0 653.6h1.3v1.3h-1.3zM204.0 656.4h1.3v1.3h-1.3zM200.9 650.2h1.3v1.3h-1.3zM216.1 636.3h1.3v1.3h-1.3zM185.3 644.6h1.3v1.3h-1.3zM209.3 622.5h1.3v1.3h-1.3zM216.3 623.2h1.3v1.3h-1.3zM205.9 660.4h1.3v1.3h-1.3z"/>
<path fill="#c07060" d="M208.0 612.6h1.3v1.3h-1.3zM203.0 610.3h1.3v1.3h-1.3zM209.6 612.2h1.3v1.3h-1.3zM195.0 604.6h1.3v1.3h-1.3zM213.5 617.2h1.3v1.3h-1.3zM201.5 615.2h1.3v1.3h-1.3zM208.0 612.3h1.3v1.3h-1.3zM209.2 611.1h1.3v1.3h-1.3zM213.0 611.5h1.3v1.3h-1.3zM208.6 617.3h1.3v1.3h-1.3zM208.3 614.5h1.3v1.3h-1.3zM221.1 608.2h1.3v1.3h-1.3zM205.4 610.3h1.3v1.3h-1.3zM206.0 611.7h1.3v1.3h-1.3z"/>
<path fill="#b44e3a" d="M205.5 613.1h1.3v1.3h-1.3zM194.4 611.6h1.3v1.3h-1.3zM195.5 610.6h1.3v1.3h-1.3zM199.4 612.1h1.3v1.3h-1.3zM212.4 610.6h1.3v1.3h-1.3zM210.6 610.1h1.3v1.3h-1.3zM206.3 612.7h1.3v1.3h-1.3zM204.0 609.7h1.3v1.3h-1.3z"/>
<path fill="#dca090" d="M208.0 607.9h1.3v1.3h-1.3zM209.3 615.7h1.3v1.3h-1.3zM205.3 618.1h1.3v1.3h-1.3zM213.9 615.3h1.3v1.3h-1.3zM190.1 616.1h1.3v1.3h-1.3zM201.7 610.2h1.3v1.3h-1.3zM209.3 610.5h1.3v1.3h-1.3zM202.3 614.2h1.3v1.3h-1.3zM209.4 611.8h1.3v1.3h-1.3zM192.0 616.2h1.3v1.3h-1.3z"/>
<path fill="#d08878" d="M203.4 613.2h1.3v1.3h-1.3zM195.1 614.5h1.3v1.3h-1.3zM213.6 616.5h1.3v1.3h-1.3zM200.0 611.1h1.3v1.3h-1.3zM191.7 615.0h1.3v1.3h-1.3zM208.6 610.8h1.3v1.3h-1.3zM204.5 611.6h1.3v1.3h-1.3zM203.1 619.5h1.3v1.3h-1.3zM218.7 613.9h1.3v1.3h-1.3zM207.1 616.7h1.3v1.3h-1.3zM205.4 613.4h1.3v1.3h-1.3zM210.3 607.6h1.3v1.3h-1.3zM209.7 616.2h1.3v1.3h-1.3zM205.3 606.5h1.3v1.3h-1.3zM201.8 614.4h1.3v1.3h-1.3zM197.3 611.1h1.3v1.3h-1.3z"/>
<path fill="#b06048" d="M198.5 613.3h1.3v1.3h-1.3zM198.7 609.9h1.3v1.3h-1.3zM197.7 610.2h1.3v1.3h-1.3zM207.6 612.1h1.3v1.3h-1.3zM210.0 614.9h1.3v1.3h-1.3zM192.4 610.9h1.3v1.3h-1.3zM192.6 604.9h1.3v1.3h-1.3zM201.5 612.0h1.3v1.3h-1.3zM200.9 610.2h1.3v1.3h-1.3zM190.4 611.7h1.3v1.3h-1.3zM197.1 613.5h1.3v1.3h-1.3zM208.9 618.1h1.3v1.3h-1.3zM191.1 608.4h1.3v1.3h-1.3zM199.3 614.0h1.3v1.3h-1.3zM207.3 601.7h1.3v1.3h-1.3z"/>
<path fill="#b0503a" d="M197.6 611.1h1.3v1.3h-1.3zM200.5 605.8h1.3v1.3h-1.3zM211.7 606.9h1.3v1.3h-1.3zM188.9 615.0h1.3v1.3h-1.3zM210.7 613.0h1.3v1.3h-1.3zM198.8 606.3h1.3v1.3h-1.3zM198.3 608.3h1.3v1.3h-1.3z"/>
<path fill="#b86450" d="M210.8 602.2h1.3v1.3h-1.3zM199.2 612.0h1.3v1.3h-1.3zM196.6 617.8h1.3v1.3h-1.3zM205.5 607.5h1.3v1.3h-1.3zM210.7 613.5h1.3v1.3h-1.3zM204.1 619.0h1.3v1.3h-1.3zM202.1 613.9h1.3v1.3h-1.3zM201.5 612.1h1.3v1.3h-1.3zM216.7 612.9h1.3v1.3h-1.3zM191.9 604.1h1.3v1.3h-1.3zM209.1 607.4h1.3v1.3h-1.3zM200.5 612.5h1.3v1.3h-1.3z"/>
<path fill="#a84c38" d="M194.8 616.1h1.3v1.3h-1.3zM197.6 611.7h1.3v1.3h-1.3zM191.2 615.1h1.3v1.3h-1.3zM224.7 608.9h1.3v1.3h-1.3zM192.6 609.8h1.3v1.3h-1.3zM209.6 607.0h1.3v1.3h-1.3zM205.2 619.8h1.3v1.3h-1.3zM208.1 610.6h1.3v1.3h-1.3zM201.6 613.3h1.3v1.3h-1.3zM197.7 619.2h1.3v1.3h-1.3zM203.0 615.1h1.3v1.3h-1.3zM205.1 613.3h1.3v1.3h-1.3zM212.0 608.1h1.3v1.3h-1.3zM202.2 615.6h1.3v1.3h-1.3zM204.6 608.6h1.3v1.3h-1.3z"/>
<path fill="#c88070" d="M205.9 613.6h1.3v1.3h-1.3zM199.3 617.8h1.3v1.3h-1.3zM201.0 608.3h1.3v1.3h-1.3zM197.7 609.8h1.3v1.3h-1.3zM191.5 615.4h1.3v1.3h-1.3zM202.5 615.0h1.3v1.3h-1.3zM202.9 614.8h1.3v1.3h-1.3zM205.1 605.9h1.3v1.3h-1.3zM200.6 612.6h1.3v1.3h-1.3zM213.0 617.3h1.3v1.3h-1.3zM204.5 609.7h1.3v1.3h-1.3zM206.9 610.1h1.3v1.3h-1.3z"/>
<path fill="#a05040" d="M185.0 610.4h1.3v1.3h-1.3zM180.7 611.3h1.3v1.3h-1.3zM207.2 607.9h1.3v1.3h-1.3zM217.3 606.9h1.3v1.3h-1.3zM206.4 611.7h1.3v1.3h-1.3zM209.3 613.6h1.3v1.3h-1.3zM201.1 612.9h1.3v1.3h-1.3zM201.8 615.7h1.3v1.3h-1.3zM201.8 611.3h1.3v1.3h-1.3zM203.3 613.3h1.3v1.3h-1.3zM221.7 608.6h1.3v1.3h-1.3zM199.1 610.4h1.3v1.3h-1.3zM212.9 616.5h1.3v1.3h-1.3zM194.5 613.2h1.3v1.3h-1.3zM209.6 612.5h1.3v1.3h-1.3zM195.4 611.6h1.3v1.3h-1.3zM205.9 614.2h1.3v1.3h-1.3z"/>
<path fill="#c89080" d="M201.6 610.6h1.3v1.3h-1.3zM197.8 613.7h1.3v1.3h-1.3zM208.4 608.0h1.3v1.3h-1.3zM204.2 608.2h1.3v1.3h-1.3zM193.3 615.7h1.3v1.3h-1.3z"/>
<path fill="#b85a44" d="M201.2 609.0h1.3v1.3h-1.3zM205.7 610.1h1.3v1.3h-1.3zM194.3 608.5h1.3v1.3h-1.3zM201.1 610.0h1.3v1.3h-1.3zM198.1 610.8h1.3v1.3h-1.3zM191.3 608.6h1.3v1.3h-1.3zM203.0 613.2h1.3v1.3h-1.3zM212.3 614.6h1.3v1.3h-1.3zM205.0 610.4h1.3v1.3h-1.3z"/>
<path fill="#a85a48" d="M204.2 614.6h1.3v1.3h-1.3zM216.3 613.4h1.3v1.3h-1.3zM200.6 608.6h1.3v1.3h-1.3zM202.1 609.2h1.3v1.3h-1.3zM201.9 613.7h1.3v1.3h-1.3zM204.7 613.2h1.3v1.3h-1.3zM223.2 609.2h1.3v1.3h-1.3zM208.7 615.7h1.3v1.3h-1.3zM209.8 611.2h1.3v1.3h-1.3z"/>
<path fill="#e0a898" d="M195.3 619.1h1.3v1.3h-1.3zM200.8 606.7h1.3v1.3h-1.3zM213.2 608.7h1.3v1.3h-1.3zM202.9 613.1h1.3v1.3h-1.3zM199.7 615.8h1.3v1.3h-1.3zM206.8 609.3h1.3v1.3h-1.3zM180.4 611.5h1.3v1.3h-1.3zM200.4 608.8h1.3v1.3h-1.3zM219.2 611.1h1.3v1.3h-1.3zM190.9 605.9h1.3v1.3h-1.3zM202.7 606.0h1.3v1.3h-1.3z"/>
<ellipse cx="204" cy="627" rx="4.5" ry="7" fill="#d83a2a" fill-opacity="0.8" filter="url(#bl4)"/>
<path fill="#d08878" d="M227.3 635.1h1.3v1.3h-1.3zM225.5 651.9h1.3v1.3h-1.3zM233.5 629.1h1.3v1.3h-1.3zM250.0 633.0h1.3v1.3h-1.3zM232.2 659.7h1.3v1.3h-1.3zM236.4 648.2h1.3v1.3h-1.3zM251.0 641.3h1.3v1.3h-1.3zM230.0 647.1h1.3v1.3h-1.3zM242.5 618.0h1.3v1.3h-1.3zM245.6 621.7h1.3v1.3h-1.3zM251.9 626.0h1.3v1.3h-1.3zM229.3 642.3h1.3v1.3h-1.3zM247.0 642.2h1.3v1.3h-1.3zM247.3 635.6h1.3v1.3h-1.3z"/>
<path fill="#c89080" d="M234.2 658.1h1.3v1.3h-1.3zM248.4 622.7h1.3v1.3h-1.3zM242.9 655.1h1.3v1.3h-1.3zM238.9 615.7h1.3v1.3h-1.3zM226.9 636.3h1.3v1.3h-1.3zM234.2 613.1h1.3v1.3h-1.3zM232.7 632.5h1.3v1.3h-1.3zM249.8 626.1h1.3v1.3h-1.3z"/>
<path fill="#dca090" d="M246.2 635.9h1.3v1.3h-1.3zM229.4 637.8h1.3v1.3h-1.3zM246.7 637.5h1.3v1.3h-1.3zM228.2 638.1h1.3v1.3h-1.3zM246.3 639.4h1.3v1.3h-1.3zM237.9 646.6h1.3v1.3h-1.3zM236.4 642.8h1.3v1.3h-1.3zM250.7 646.6h1.3v1.3h-1.3zM238.2 645.1h1.3v1.3h-1.3z"/>
<path fill="#e0a898" d="M225.0 625.2h1.3v1.3h-1.3zM225.0 654.9h1.3v1.3h-1.3zM247.5 635.7h1.3v1.3h-1.3zM243.8 648.2h1.3v1.3h-1.3zM240.5 614.5h1.3v1.3h-1.3zM241.5 659.0h1.3v1.3h-1.3zM236.5 653.2h1.3v1.3h-1.3zM224.4 643.0h1.3v1.3h-1.3zM241.9 615.4h1.3v1.3h-1.3zM247.5 648.2h1.3v1.3h-1.3z"/>
<path fill="#c88070" d="M227.5 651.2h1.3v1.3h-1.3zM234.5 654.7h1.3v1.3h-1.3zM237.3 658.0h1.3v1.3h-1.3zM233.6 623.0h1.3v1.3h-1.3z"/>
<path fill="#c89080" d="M207.9 560.6h1.5v1.5h-1.5zM237.4 553.6h1.5v1.5h-1.5zM236.0 573.0h1.5v1.5h-1.5zM233.5 597.0h1.5v1.5h-1.5zM191.0 603.0h1.5v1.5h-1.5zM203.0 606.0h1.5v1.5h-1.5z"/>
<path fill="#dca090" d="M208.5 561.5h1.5v1.5h-1.5zM243.0 544.0h1.5v1.5h-1.5zM234.5 578.0h1.5v1.5h-1.5z"/>
<path fill="#e0a898" d="M239.5 566.0h1.5v1.5h-1.5zM233.0 587.0h1.5v1.5h-1.5zM246.0 562.0h1.5v1.5h-1.5z"/>
<path fill="#d08878" d="M240.5 560.0h1.5v1.5h-1.5zM186.0 601.0h1.5v1.5h-1.5zM198.0 595.0h1.5v1.5h-1.5zM222.0 605.0h1.5v1.5h-1.5z"/>
<path fill="#c88070" d="M219.0 601.0h1.5v1.5h-1.5zM214.0 607.0h1.5v1.5h-1.5zM210.0 605.0h1.5v1.5h-1.5z"/>
</g>
<line x1="171.9" y1="509.7" x2="294.9" y2="509.7" stroke="#444" stroke-width="1.2"/>
<line x1="293.7" y1="509.7" x2="293.7" y2="663.2" stroke="#444" stroke-width="1.2"/>
<line x1="171.5" y1="509.7" x2="171.5" y2="664.2" stroke="#111" stroke-width="2.2"/>
<line x1="170.5" y1="663.2" x2="293.7" y2="663.2" stroke="#111" stroke-width="2.2"/>
<line x1="222.5" y1="509.7" x2="222.5" y2="663.2" stroke="#444" stroke-width="1.2"/>
<line x1="171.5" y1="609.0" x2="293.7" y2="609.0" stroke="#444" stroke-width="1.2"/>
<line x1="167.5" y1="527.2" x2="171.5" y2="527.2" stroke="#222" stroke-width="1.3"/>
<line x1="169.3" y1="551.2" x2="171.5" y2="551.2" stroke="#333" stroke-width="0.9"/>
<line x1="169.3" y1="545.1" x2="171.5" y2="545.1" stroke="#333" stroke-width="0.9"/>
<line x1="169.3" y1="540.8" x2="171.5" y2="540.8" stroke="#333" stroke-width="0.9"/>
<line x1="169.3" y1="537.5" x2="171.5" y2="537.5" stroke="#333" stroke-width="0.9"/>
<line x1="169.3" y1="534.8" x2="171.5" y2="534.8" stroke="#333" stroke-width="0.9"/>
<line x1="169.3" y1="532.5" x2="171.5" y2="532.5" stroke="#333" stroke-width="0.9"/>
<line x1="169.3" y1="530.5" x2="171.5" y2="530.5" stroke="#333" stroke-width="0.9"/>
<line x1="169.3" y1="528.8" x2="171.5" y2="528.8" stroke="#333" stroke-width="0.9"/>
<line x1="167.5" y1="561.5" x2="171.5" y2="561.5" stroke="#222" stroke-width="1.3"/>
<line x1="169.3" y1="585.8" x2="171.5" y2="585.8" stroke="#333" stroke-width="0.9"/>
<line x1="169.3" y1="579.7" x2="171.5" y2="579.7" stroke="#333" stroke-width="0.9"/>
<line x1="169.3" y1="575.3" x2="171.5" y2="575.3" stroke="#333" stroke-width="0.9"/>
<line x1="169.3" y1="572.0" x2="171.5" y2="572.0" stroke="#333" stroke-width="0.9"/>
<line x1="169.3" y1="569.2" x2="171.5" y2="569.2" stroke="#333" stroke-width="0.9"/>
<line x1="169.3" y1="566.9" x2="171.5" y2="566.9" stroke="#333" stroke-width="0.9"/>
<line x1="169.3" y1="564.9" x2="171.5" y2="564.9" stroke="#333" stroke-width="0.9"/>
<line x1="169.3" y1="563.1" x2="171.5" y2="563.1" stroke="#333" stroke-width="0.9"/>
<line x1="167.5" y1="596.3" x2="171.5" y2="596.3" stroke="#222" stroke-width="1.3"/>
<line x1="169.3" y1="619.7" x2="171.5" y2="619.7" stroke="#333" stroke-width="0.9"/>
<line x1="169.3" y1="613.8" x2="171.5" y2="613.8" stroke="#333" stroke-width="0.9"/>
<line x1="169.3" y1="609.6" x2="171.5" y2="609.6" stroke="#333" stroke-width="0.9"/>
<line x1="169.3" y1="606.4" x2="171.5" y2="606.4" stroke="#333" stroke-width="0.9"/>
<line x1="169.3" y1="603.7" x2="171.5" y2="603.7" stroke="#333" stroke-width="0.9"/>
<line x1="169.3" y1="601.5" x2="171.5" y2="601.5" stroke="#333" stroke-width="0.9"/>
<line x1="169.3" y1="599.5" x2="171.5" y2="599.5" stroke="#333" stroke-width="0.9"/>
<line x1="169.3" y1="597.8" x2="171.5" y2="597.8" stroke="#333" stroke-width="0.9"/>
<line x1="167.5" y1="629.8" x2="171.5" y2="629.8" stroke="#222" stroke-width="1.3"/>
<line x1="169.3" y1="653.1" x2="171.5" y2="653.1" stroke="#333" stroke-width="0.9"/>
<line x1="169.3" y1="647.3" x2="171.5" y2="647.3" stroke="#333" stroke-width="0.9"/>
<line x1="169.3" y1="643.1" x2="171.5" y2="643.1" stroke="#333" stroke-width="0.9"/>
<line x1="169.3" y1="639.9" x2="171.5" y2="639.9" stroke="#333" stroke-width="0.9"/>
<line x1="169.3" y1="637.2" x2="171.5" y2="637.2" stroke="#333" stroke-width="0.9"/>
<line x1="169.3" y1="635.0" x2="171.5" y2="635.0" stroke="#333" stroke-width="0.9"/>
<line x1="169.3" y1="633.0" x2="171.5" y2="633.0" stroke="#333" stroke-width="0.9"/>
<line x1="169.3" y1="631.3" x2="171.5" y2="631.3" stroke="#333" stroke-width="0.9"/>
<line x1="167.5" y1="663.2" x2="171.5" y2="663.2" stroke="#222" stroke-width="1.3"/>
<line x1="172.3" y1="663.2" x2="172.3" y2="667.2" stroke="#222" stroke-width="1.3"/>
<line x1="180.8" y1="663.2" x2="180.8" y2="665.4" stroke="#333" stroke-width="0.9"/>
<line x1="185.8" y1="663.2" x2="185.8" y2="665.4" stroke="#333" stroke-width="0.9"/>
<line x1="189.3" y1="663.2" x2="189.3" y2="665.4" stroke="#333" stroke-width="0.9"/>
<line x1="192.1" y1="663.2" x2="192.1" y2="665.4" stroke="#333" stroke-width="0.9"/>
<line x1="194.3" y1="663.2" x2="194.3" y2="665.4" stroke="#333" stroke-width="0.9"/>
<line x1="196.2" y1="663.2" x2="196.2" y2="665.4" stroke="#333" stroke-width="0.9"/>
<line x1="197.9" y1="663.2" x2="197.9" y2="665.4" stroke="#333" stroke-width="0.9"/>
<line x1="199.3" y1="663.2" x2="199.3" y2="665.4" stroke="#333" stroke-width="0.9"/>
<line x1="200.6" y1="663.2" x2="200.6" y2="667.2" stroke="#222" stroke-width="1.3"/>
<line x1="208.6" y1="663.2" x2="208.6" y2="665.4" stroke="#333" stroke-width="0.9"/>
<line x1="213.2" y1="663.2" x2="213.2" y2="665.4" stroke="#333" stroke-width="0.9"/>
<line x1="216.6" y1="663.2" x2="216.6" y2="665.4" stroke="#333" stroke-width="0.9"/>
<line x1="219.1" y1="663.2" x2="219.1" y2="665.4" stroke="#333" stroke-width="0.9"/>
<line x1="221.2" y1="663.2" x2="221.2" y2="665.4" stroke="#333" stroke-width="0.9"/>
<line x1="223.0" y1="663.2" x2="223.0" y2="665.4" stroke="#333" stroke-width="0.9"/>
<line x1="224.5" y1="663.2" x2="224.5" y2="665.4" stroke="#333" stroke-width="0.9"/>
<line x1="225.9" y1="663.2" x2="225.9" y2="665.4" stroke="#333" stroke-width="0.9"/>
<line x1="227.1" y1="663.2" x2="227.1" y2="667.2" stroke="#222" stroke-width="1.3"/>
<line x1="235.3" y1="663.2" x2="235.3" y2="665.4" stroke="#333" stroke-width="0.9"/>
<line x1="240.2" y1="663.2" x2="240.2" y2="665.4" stroke="#333" stroke-width="0.9"/>
<line x1="243.6" y1="663.2" x2="243.6" y2="665.4" stroke="#333" stroke-width="0.9"/>
<line x1="246.3" y1="663.2" x2="246.3" y2="665.4" stroke="#333" stroke-width="0.9"/>
<line x1="248.4" y1="663.2" x2="248.4" y2="665.4" stroke="#333" stroke-width="0.9"/>
<line x1="250.3" y1="663.2" x2="250.3" y2="665.4" stroke="#333" stroke-width="0.9"/>
<line x1="251.8" y1="663.2" x2="251.8" y2="665.4" stroke="#333" stroke-width="0.9"/>
<line x1="253.2" y1="663.2" x2="253.2" y2="665.4" stroke="#333" stroke-width="0.9"/>
<line x1="254.5" y1="663.2" x2="254.5" y2="667.2" stroke="#222" stroke-width="1.3"/>
<line x1="262.9" y1="663.2" x2="262.9" y2="665.4" stroke="#333" stroke-width="0.9"/>
<line x1="267.8" y1="663.2" x2="267.8" y2="665.4" stroke="#333" stroke-width="0.9"/>
<line x1="271.3" y1="663.2" x2="271.3" y2="665.4" stroke="#333" stroke-width="0.9"/>
<line x1="274.0" y1="663.2" x2="274.0" y2="665.4" stroke="#333" stroke-width="0.9"/>
<line x1="276.2" y1="663.2" x2="276.2" y2="665.4" stroke="#333" stroke-width="0.9"/>
<line x1="278.1" y1="663.2" x2="278.1" y2="665.4" stroke="#333" stroke-width="0.9"/>
<line x1="279.7" y1="663.2" x2="279.7" y2="665.4" stroke="#333" stroke-width="0.9"/>
<line x1="281.1" y1="663.2" x2="281.1" y2="665.4" stroke="#333" stroke-width="0.9"/>
<line x1="282.4" y1="663.2" x2="282.4" y2="667.2" stroke="#222" stroke-width="1.3"/>
<text x="156.0" y="539.8" font-size="14.63" fill="#555" text-anchor="end" textLength="12.6" lengthAdjust="spacingAndGlyphs">10</text>
<text x="156.3" y="532.7" font-size="11.13" fill="#555" textLength="5.8" lengthAdjust="spacingAndGlyphs">5</text>
<text x="156.0" y="574.1" font-size="14.63" fill="#555" text-anchor="end" textLength="12.6" lengthAdjust="spacingAndGlyphs">10</text>
<text x="156.3" y="567.0" font-size="11.13" fill="#555" textLength="5.8" lengthAdjust="spacingAndGlyphs">4</text>
<text x="156.0" y="608.9" font-size="14.63" fill="#555" text-anchor="end" textLength="12.6" lengthAdjust="spacingAndGlyphs">10</text>
<text x="156.3" y="601.8" font-size="11.13" fill="#555" textLength="5.8" lengthAdjust="spacingAndGlyphs">3</text>
<text x="156.0" y="642.4" font-size="14.63" fill="#555" text-anchor="end" textLength="12.6" lengthAdjust="spacingAndGlyphs">10</text>
<text x="156.3" y="635.3" font-size="11.13" fill="#555" textLength="5.8" lengthAdjust="spacingAndGlyphs">2</text>
<text x="156.0" y="675.8" font-size="14.63" fill="#555" text-anchor="end" textLength="12.6" lengthAdjust="spacingAndGlyphs">10</text>
<text x="156.3" y="668.7" font-size="11.13" fill="#555" textLength="5.8" lengthAdjust="spacingAndGlyphs">1</text>
<text x="171.9" y="692.3" font-size="14.63" fill="#555" text-anchor="end" textLength="14.6" lengthAdjust="spacingAndGlyphs">10</text>
<text x="171.4" y="684.2" font-size="11.13" fill="#555" textLength="5.8" lengthAdjust="spacingAndGlyphs">1</text>
<text x="200.2" y="692.3" font-size="14.63" fill="#555" text-anchor="end" textLength="14.6" lengthAdjust="spacingAndGlyphs">10</text>
<text x="199.7" y="684.2" font-size="11.13" fill="#555" textLength="5.8" lengthAdjust="spacingAndGlyphs">2</text>
<text x="226.7" y="692.3" font-size="14.63" fill="#555" text-anchor="end" textLength="14.6" lengthAdjust="spacingAndGlyphs">10</text>
<text x="226.2" y="684.2" font-size="11.13" fill="#555" textLength="5.8" lengthAdjust="spacingAndGlyphs">3</text>
<text x="254.1" y="692.3" font-size="14.63" fill="#555" text-anchor="end" textLength="14.6" lengthAdjust="spacingAndGlyphs">10</text>
<text x="253.6" y="684.2" font-size="11.13" fill="#555" textLength="5.8" lengthAdjust="spacingAndGlyphs">4</text>
<text x="282.0" y="692.3" font-size="14.63" fill="#555" text-anchor="end" textLength="14.6" lengthAdjust="spacingAndGlyphs">10</text>
<text x="281.5" y="684.2" font-size="11.13" fill="#555" textLength="5.8" lengthAdjust="spacingAndGlyphs">5</text>
<text x="133.0" y="588.4" font-size="12.8" fill="#666" text-anchor="middle" textLength="30.7" lengthAdjust="spacingAndGlyphs" transform="rotate(-90 133.0 588.4)">Va24</text>
<text x="232.1" y="701.4" font-size="13.57" fill="#666" text-anchor="middle" textLength="24.9" lengthAdjust="spacingAndGlyphs">Vb11</text>
<text x="173.6" y="529.9" font-size="16.75" fill="#6a6a6a" textLength="44.8" lengthAdjust="spacingAndGlyphs">0.13%</text>
<text x="235.7" y="529.9" font-size="16.75" fill="#6a6a6a" textLength="45.1" lengthAdjust="spacingAndGlyphs">0.15%</text>
<text x="174.0" y="656.6" font-size="16.75" fill="#6a6a6a" textLength="52.3" lengthAdjust="spacingAndGlyphs">98.48%</text>
<text x="253.7" y="656.6" font-size="16.75" fill="#6a6a6a" textLength="42.3" lengthAdjust="spacingAndGlyphs">1.24%</text>
<clipPath id="cp2"><rect x="351.6" y="512.7" width="121" height="148.8"/></clipPath>
<g clip-path="url(#cp2)">
<path fill="#c07060" d="M378.2 625.0h1.3v1.3h-1.3zM370.9 623.6h1.3v1.3h-1.3zM367.3 658.3h1.3v1.3h-1.3zM367.0 622.5h1.3v1.3h-1.3zM361.6 643.9h1.3v1.3h-1.3zM382.9 653.2h1.3v1.3h-1.3zM383.5 654.0h1.3v1.3h-1.3zM365.9 616.3h1.3v1.3h-1.3zM378.6 651.1h1.3v1.3h-1.3zM364.5 639.3h1.3v1.3h-1.3zM382.2 655.1h1.3v1.3h-1.3zM374.1 639.1h1.3v1.3h-1.3zM369.7 655.8h1.3v1.3h-1.3zM374.5 617.7h1.3v1.3h-1.3zM383.8 625.1h1.3v1.3h-1.3zM371.8 647.3h1.3v1.3h-1.3zM383.6 622.5h1.3v1.3h-1.3zM373.1 625.6h1.3v1.3h-1.3zM358.9 644.6h1.3v1.3h-1.3zM357.5 627.8h1.3v1.3h-1.3zM365.3 657.4h1.3v1.3h-1.3zM388.4 628.6h1.3v1.3h-1.3zM369.3 645.2h1.3v1.3h-1.3zM383.0 655.8h1.3v1.3h-1.3zM391.0 630.5h1.3v1.3h-1.3zM357.9 645.0h1.3v1.3h-1.3zM372.3 632.5h1.3v1.3h-1.3zM372.7 629.8h1.3v1.3h-1.3zM359.6 625.7h1.3v1.3h-1.3zM371.0 615.0h1.3v1.3h-1.3zM363.3 647.8h1.3v1.3h-1.3zM370.0 648.7h1.3v1.3h-1.3zM363.8 618.7h1.3v1.3h-1.3zM373.5 620.5h1.3v1.3h-1.3zM360.6 633.4h1.3v1.3h-1.3zM382.4 647.0h1.3v1.3h-1.3zM358.8 636.8h1.3v1.3h-1.3zM355.6 630.7h1.3v1.3h-1.3zM371.4 621.3h1.3v1.3h-1.3zM376.1 614.6h1.3v1.3h-1.3zM382.6 635.4h1.3v1.3h-1.3zM381.7 636.3h1.3v1.3h-1.3zM363.3 633.6h1.3v1.3h-1.3zM378.2 639.7h1.3v1.3h-1.3zM366.6 613.5h1.3v1.3h-1.3zM381.3 615.7h1.3v1.3h-1.3z"/>
<path fill="#b06048" d="M365.2 632.8h1.3v1.3h-1.3zM371.4 632.3h1.3v1.3h-1.3zM376.5 652.2h1.3v1.3h-1.3zM356.5 643.7h1.3v1.3h-1.3zM372.6 645.2h1.3v1.3h-1.3zM362.7 630.8h1.3v1.3h-1.3zM385.0 648.7h1.3v1.3h-1.3zM365.5 638.6h1.3v1.3h-1.3zM383.8 626.3h1.3v1.3h-1.3zM380.6 625.6h1.3v1.3h-1.3zM354.3 615.0h1.3v1.3h-1.3zM362.3 637.5h1.3v1.3h-1.3zM370.2 630.1h1.3v1.3h-1.3zM375.9 628.7h1.3v1.3h-1.3zM375.7 623.0h1.3v1.3h-1.3zM359.4 650.4h1.3v1.3h-1.3zM373.6 645.5h1.3v1.3h-1.3zM377.3 641.1h1.3v1.3h-1.3zM371.8 631.6h1.3v1.3h-1.3zM374.8 613.3h1.3v1.3h-1.3zM374.5 654.8h1.3v1.3h-1.3zM361.2 620.9h1.3v1.3h-1.3zM366.6 642.6h1.3v1.3h-1.3zM378.4 636.6h1.3v1.3h-1.3zM368.2 659.5h1.3v1.3h-1.3zM376.4 652.9h1.3v1.3h-1.3zM371.3 623.1h1.3v1.3h-1.3zM364.8 627.7h1.3v1.3h-1.3zM373.6 643.1h1.3v1.3h-1.3zM384.7 653.8h1.3v1.3h-1.3zM358.8 653.3h1.3v1.3h-1.3zM372.4 658.0h1.3v1.3h-1.3zM363.9 655.6h1.3v1.3h-1.3zM356.9 614.5h1.3v1.3h-1.3zM392.4 628.2h1.3v1.3h-1.3zM376.9 619.7h1.3v1.3h-1.3zM377.7 619.8h1.3v1.3h-1.3zM391.1 631.2h1.3v1.3h-1.3zM357.9 646.3h1.3v1.3h-1.3zM362.2 638.8h1.3v1.3h-1.3zM359.9 630.7h1.3v1.3h-1.3zM357.3 649.1h1.3v1.3h-1.3zM376.2 617.7h1.3v1.3h-1.3zM359.4 642.8h1.3v1.3h-1.3zM379.1 617.2h1.3v1.3h-1.3zM368.5 654.7h1.3v1.3h-1.3z"/>
<path fill="#c89080" d="M388.0 636.6h1.3v1.3h-1.3zM364.8 641.6h1.3v1.3h-1.3zM368.7 643.1h1.3v1.3h-1.3zM387.0 625.8h1.3v1.3h-1.3zM372.9 621.7h1.3v1.3h-1.3zM366.6 654.6h1.3v1.3h-1.3zM386.7 639.9h1.3v1.3h-1.3zM373.2 630.0h1.3v1.3h-1.3zM366.7 639.5h1.3v1.3h-1.3zM380.0 648.5h1.3v1.3h-1.3zM367.5 635.9h1.3v1.3h-1.3zM370.3 637.2h1.3v1.3h-1.3zM372.5 643.5h1.3v1.3h-1.3zM364.6 646.0h1.3v1.3h-1.3zM368.4 626.7h1.3v1.3h-1.3zM386.8 616.4h1.3v1.3h-1.3zM356.7 638.9h1.3v1.3h-1.3zM361.4 615.8h1.3v1.3h-1.3zM363.4 648.4h1.3v1.3h-1.3zM384.6 643.9h1.3v1.3h-1.3zM378.1 648.7h1.3v1.3h-1.3zM366.2 615.5h1.3v1.3h-1.3zM382.2 640.5h1.3v1.3h-1.3zM389.9 655.7h1.3v1.3h-1.3zM383.0 660.4h1.3v1.3h-1.3zM355.9 624.5h1.3v1.3h-1.3zM359.8 644.2h1.3v1.3h-1.3zM371.5 638.1h1.3v1.3h-1.3zM362.0 640.4h1.3v1.3h-1.3zM367.8 647.9h1.3v1.3h-1.3zM386.8 629.0h1.3v1.3h-1.3zM398.7 651.2h1.3v1.3h-1.3zM364.8 623.5h1.3v1.3h-1.3zM373.9 634.3h1.3v1.3h-1.3zM363.2 617.7h1.3v1.3h-1.3zM360.5 637.9h1.3v1.3h-1.3zM378.9 616.9h1.3v1.3h-1.3zM380.7 650.0h1.3v1.3h-1.3zM377.4 617.5h1.3v1.3h-1.3z"/>
<path fill="#e0a898" d="M384.6 645.8h1.3v1.3h-1.3zM383.6 626.5h1.3v1.3h-1.3zM376.8 658.5h1.3v1.3h-1.3zM360.6 626.9h1.3v1.3h-1.3zM388.9 622.2h1.3v1.3h-1.3zM369.0 624.3h1.3v1.3h-1.3zM373.9 619.0h1.3v1.3h-1.3zM380.5 632.7h1.3v1.3h-1.3zM360.9 634.4h1.3v1.3h-1.3zM375.7 638.7h1.3v1.3h-1.3zM361.8 615.2h1.3v1.3h-1.3zM380.4 652.0h1.3v1.3h-1.3zM377.5 615.0h1.3v1.3h-1.3zM374.4 612.7h1.3v1.3h-1.3zM370.3 616.5h1.3v1.3h-1.3zM379.3 639.5h1.3v1.3h-1.3zM362.8 613.6h1.3v1.3h-1.3zM366.7 616.9h1.3v1.3h-1.3zM370.6 643.1h1.3v1.3h-1.3zM353.8 630.5h1.3v1.3h-1.3zM381.7 612.0h1.3v1.3h-1.3zM377.9 632.4h1.3v1.3h-1.3zM377.1 629.3h1.3v1.3h-1.3zM360.2 654.0h1.3v1.3h-1.3zM369.5 640.3h1.3v1.3h-1.3zM362.0 628.8h1.3v1.3h-1.3zM377.6 614.0h1.3v1.3h-1.3zM372.2 621.2h1.3v1.3h-1.3zM382.8 618.4h1.3v1.3h-1.3zM356.4 639.1h1.3v1.3h-1.3zM371.2 617.6h1.3v1.3h-1.3zM380.8 632.5h1.3v1.3h-1.3zM376.7 630.0h1.3v1.3h-1.3zM372.4 645.0h1.3v1.3h-1.3zM369.9 632.2h1.3v1.3h-1.3zM375.0 644.1h1.3v1.3h-1.3z"/>
<path fill="#d08878" d="M392.8 658.0h1.3v1.3h-1.3zM370.6 637.1h1.3v1.3h-1.3zM360.9 621.8h1.3v1.3h-1.3zM380.2 635.9h1.3v1.3h-1.3zM380.2 615.6h1.3v1.3h-1.3zM381.2 659.5h1.3v1.3h-1.3zM376.5 647.1h1.3v1.3h-1.3zM370.6 646.5h1.3v1.3h-1.3zM373.2 658.3h1.3v1.3h-1.3zM360.6 632.2h1.3v1.3h-1.3zM373.2 630.2h1.3v1.3h-1.3zM381.5 622.4h1.3v1.3h-1.3zM390.8 653.3h1.3v1.3h-1.3zM362.5 625.9h1.3v1.3h-1.3zM376.0 638.8h1.3v1.3h-1.3zM377.0 612.5h1.3v1.3h-1.3zM369.6 642.2h1.3v1.3h-1.3zM354.9 612.2h1.3v1.3h-1.3zM381.5 658.8h1.3v1.3h-1.3zM377.7 623.7h1.3v1.3h-1.3zM372.0 630.1h1.3v1.3h-1.3zM358.2 611.4h1.3v1.3h-1.3zM365.7 660.4h1.3v1.3h-1.3zM364.1 635.4h1.3v1.3h-1.3zM357.2 651.8h1.3v1.3h-1.3zM390.7 636.9h1.3v1.3h-1.3zM361.1 633.1h1.3v1.3h-1.3zM374.8 618.8h1.3v1.3h-1.3zM358.5 631.1h1.3v1.3h-1.3zM378.3 640.1h1.3v1.3h-1.3zM364.3 617.7h1.3v1.3h-1.3zM379.2 623.2h1.3v1.3h-1.3zM364.2 620.5h1.3v1.3h-1.3zM376.7 654.3h1.3v1.3h-1.3zM368.1 618.9h1.3v1.3h-1.3zM382.8 660.4h1.3v1.3h-1.3zM358.1 640.3h1.3v1.3h-1.3zM356.9 647.6h1.3v1.3h-1.3zM372.2 611.6h1.3v1.3h-1.3zM372.6 625.3h1.3v1.3h-1.3zM387.2 653.5h1.3v1.3h-1.3z"/>
<path fill="#dca090" d="M374.3 621.3h1.3v1.3h-1.3zM368.7 612.6h1.3v1.3h-1.3zM372.0 648.8h1.3v1.3h-1.3zM376.8 655.1h1.3v1.3h-1.3zM376.5 634.5h1.3v1.3h-1.3zM378.0 641.5h1.3v1.3h-1.3zM359.0 617.5h1.3v1.3h-1.3zM372.2 633.3h1.3v1.3h-1.3zM367.1 652.0h1.3v1.3h-1.3zM373.9 613.2h1.3v1.3h-1.3zM354.1 630.5h1.3v1.3h-1.3zM383.3 642.5h1.3v1.3h-1.3zM372.4 635.4h1.3v1.3h-1.3zM379.8 614.2h1.3v1.3h-1.3zM370.9 616.6h1.3v1.3h-1.3zM392.6 648.4h1.3v1.3h-1.3zM363.6 644.3h1.3v1.3h-1.3zM355.5 649.7h1.3v1.3h-1.3zM363.9 655.3h1.3v1.3h-1.3zM387.3 626.6h1.3v1.3h-1.3zM367.4 648.1h1.3v1.3h-1.3zM379.0 624.4h1.3v1.3h-1.3zM383.7 643.8h1.3v1.3h-1.3zM376.7 645.1h1.3v1.3h-1.3zM375.8 659.3h1.3v1.3h-1.3zM381.6 621.7h1.3v1.3h-1.3zM379.8 660.3h1.3v1.3h-1.3zM377.3 621.1h1.3v1.3h-1.3zM363.5 635.0h1.3v1.3h-1.3zM366.7 647.9h1.3v1.3h-1.3zM362.3 652.3h1.3v1.3h-1.3zM356.2 623.1h1.3v1.3h-1.3zM376.7 613.4h1.3v1.3h-1.3zM378.0 619.5h1.3v1.3h-1.3zM368.2 652.2h1.3v1.3h-1.3zM384.7 639.4h1.3v1.3h-1.3z"/>
<path fill="#c88070" d="M373.5 621.6h1.3v1.3h-1.3zM364.9 634.6h1.3v1.3h-1.3zM390.2 633.9h1.3v1.3h-1.3zM384.0 614.5h1.3v1.3h-1.3zM369.5 655.1h1.3v1.3h-1.3zM370.3 660.5h1.3v1.3h-1.3zM384.4 656.8h1.3v1.3h-1.3zM365.0 615.3h1.3v1.3h-1.3zM363.9 634.1h1.3v1.3h-1.3zM360.0 624.2h1.3v1.3h-1.3zM364.1 653.5h1.3v1.3h-1.3zM359.9 623.3h1.3v1.3h-1.3zM385.4 625.9h1.3v1.3h-1.3zM374.2 628.2h1.3v1.3h-1.3zM381.6 627.5h1.3v1.3h-1.3zM380.4 638.8h1.3v1.3h-1.3zM368.2 612.8h1.3v1.3h-1.3zM384.0 613.1h1.3v1.3h-1.3zM375.3 655.8h1.3v1.3h-1.3zM379.0 660.1h1.3v1.3h-1.3zM371.1 645.0h1.3v1.3h-1.3zM368.8 612.3h1.3v1.3h-1.3zM377.1 615.4h1.3v1.3h-1.3zM379.0 612.7h1.3v1.3h-1.3zM354.3 657.3h1.3v1.3h-1.3zM360.5 644.5h1.3v1.3h-1.3zM391.6 626.9h1.3v1.3h-1.3zM366.5 648.0h1.3v1.3h-1.3zM361.3 618.6h1.3v1.3h-1.3zM370.5 638.5h1.3v1.3h-1.3zM385.1 630.2h1.3v1.3h-1.3zM365.6 657.7h1.3v1.3h-1.3zM375.9 626.9h1.3v1.3h-1.3zM374.4 624.3h1.3v1.3h-1.3zM360.1 635.3h1.3v1.3h-1.3zM374.1 612.4h1.3v1.3h-1.3zM355.1 617.0h1.3v1.3h-1.3z"/>
<path fill="#b86450" d="M380.6 611.6h1.3v1.3h-1.3zM370.5 628.7h1.3v1.3h-1.3zM372.0 633.7h1.3v1.3h-1.3zM378.3 638.1h1.3v1.3h-1.3zM381.6 657.1h1.3v1.3h-1.3zM382.3 645.6h1.3v1.3h-1.3zM386.9 617.6h1.3v1.3h-1.3zM375.6 660.1h1.3v1.3h-1.3zM376.9 612.7h1.3v1.3h-1.3zM362.5 657.7h1.3v1.3h-1.3zM374.1 658.2h1.3v1.3h-1.3zM360.3 615.5h1.3v1.3h-1.3zM385.8 623.8h1.3v1.3h-1.3zM356.5 619.3h1.3v1.3h-1.3zM371.8 660.3h1.3v1.3h-1.3zM365.3 612.0h1.3v1.3h-1.3zM381.5 622.8h1.3v1.3h-1.3zM400.2 640.8h1.3v1.3h-1.3zM386.2 654.6h1.3v1.3h-1.3zM382.2 624.4h1.3v1.3h-1.3zM372.3 652.7h1.3v1.3h-1.3zM385.9 643.4h1.3v1.3h-1.3zM372.3 656.4h1.3v1.3h-1.3zM354.0 652.2h1.3v1.3h-1.3zM362.5 639.0h1.3v1.3h-1.3zM392.1 625.1h1.3v1.3h-1.3zM364.6 648.0h1.3v1.3h-1.3zM378.2 651.6h1.3v1.3h-1.3zM373.3 656.9h1.3v1.3h-1.3zM369.0 636.2h1.3v1.3h-1.3zM367.2 658.9h1.3v1.3h-1.3zM367.1 621.0h1.3v1.3h-1.3zM365.9 630.1h1.3v1.3h-1.3zM377.6 641.9h1.3v1.3h-1.3zM397.1 629.2h1.3v1.3h-1.3zM387.0 627.2h1.3v1.3h-1.3z"/>
<path fill="#a85a48" d="M372.8 629.8h1.3v1.3h-1.3zM372.7 630.0h1.3v1.3h-1.3zM380.0 633.7h1.3v1.3h-1.3zM383.9 644.3h1.3v1.3h-1.3zM371.4 613.3h1.3v1.3h-1.3zM402.9 645.9h1.3v1.3h-1.3zM371.7 621.9h1.3v1.3h-1.3zM393.4 622.1h1.3v1.3h-1.3zM376.8 621.9h1.3v1.3h-1.3zM358.0 659.9h1.3v1.3h-1.3zM394.5 643.6h1.3v1.3h-1.3zM362.9 653.9h1.3v1.3h-1.3zM378.4 646.3h1.3v1.3h-1.3zM367.7 657.3h1.3v1.3h-1.3zM370.8 636.5h1.3v1.3h-1.3zM372.2 660.0h1.3v1.3h-1.3zM369.3 656.7h1.3v1.3h-1.3zM364.9 643.3h1.3v1.3h-1.3zM380.7 635.5h1.3v1.3h-1.3zM381.1 646.9h1.3v1.3h-1.3zM373.2 634.2h1.3v1.3h-1.3zM380.9 654.7h1.3v1.3h-1.3zM369.0 642.4h1.3v1.3h-1.3zM381.8 637.5h1.3v1.3h-1.3zM363.7 629.9h1.3v1.3h-1.3zM367.9 612.8h1.3v1.3h-1.3zM381.6 648.0h1.3v1.3h-1.3zM391.7 617.0h1.3v1.3h-1.3zM397.0 618.8h1.3v1.3h-1.3zM368.2 658.8h1.3v1.3h-1.3zM384.5 645.9h1.3v1.3h-1.3zM386.1 652.1h1.3v1.3h-1.3zM374.1 619.2h1.3v1.3h-1.3zM370.4 627.4h1.3v1.3h-1.3zM370.5 652.5h1.3v1.3h-1.3zM366.9 648.3h1.3v1.3h-1.3zM398.1 611.6h1.3v1.3h-1.3zM354.8 614.0h1.3v1.3h-1.3zM379.9 625.7h1.3v1.3h-1.3zM372.6 639.5h1.3v1.3h-1.3zM403.1 636.5h1.3v1.3h-1.3zM380.1 649.4h1.3v1.3h-1.3zM357.8 618.3h1.3v1.3h-1.3zM377.2 658.2h1.3v1.3h-1.3z"/>
<path d="M373 616 C380 610 393 610 397 616 L398 656 C392 662 378 662 372 656 Z" fill="#b44e3a" fill-opacity="0.95" filter="url(#bl2)"/>
<path fill="#c07060" d="M385.1 656.8h1.3v1.3h-1.3zM372.4 637.9h1.3v1.3h-1.3zM378.1 628.3h1.3v1.3h-1.3zM372.1 616.2h1.3v1.3h-1.3zM381.9 652.5h1.3v1.3h-1.3zM379.8 623.7h1.3v1.3h-1.3zM386.5 615.7h1.3v1.3h-1.3zM372.1 614.5h1.3v1.3h-1.3zM374.1 634.5h1.3v1.3h-1.3zM382.0 630.2h1.3v1.3h-1.3zM396.4 619.2h1.3v1.3h-1.3zM390.3 646.7h1.3v1.3h-1.3zM390.8 652.2h1.3v1.3h-1.3zM385.1 647.2h1.3v1.3h-1.3zM396.5 628.4h1.3v1.3h-1.3zM388.0 617.5h1.3v1.3h-1.3zM398.3 645.4h1.3v1.3h-1.3zM394.1 652.1h1.3v1.3h-1.3zM393.6 653.3h1.3v1.3h-1.3zM391.2 645.7h1.3v1.3h-1.3zM383.1 639.3h1.3v1.3h-1.3zM387.8 616.7h1.3v1.3h-1.3zM392.2 635.4h1.3v1.3h-1.3zM388.0 658.0h1.3v1.3h-1.3zM392.4 634.7h1.3v1.3h-1.3zM379.7 635.8h1.3v1.3h-1.3zM390.3 615.9h1.3v1.3h-1.3zM386.2 620.1h1.3v1.3h-1.3zM373.4 616.3h1.3v1.3h-1.3zM379.9 653.9h1.3v1.3h-1.3zM392.1 640.7h1.3v1.3h-1.3zM383.7 617.8h1.3v1.3h-1.3zM385.0 624.1h1.3v1.3h-1.3zM391.4 647.8h1.3v1.3h-1.3zM373.9 657.8h1.3v1.3h-1.3zM395.9 639.5h1.3v1.3h-1.3zM379.8 640.1h1.3v1.3h-1.3zM378.1 637.4h1.3v1.3h-1.3zM385.6 653.4h1.3v1.3h-1.3zM383.0 659.6h1.3v1.3h-1.3zM393.1 614.0h1.3v1.3h-1.3zM388.1 628.6h1.3v1.3h-1.3zM371.9 650.3h1.3v1.3h-1.3zM384.0 621.7h1.3v1.3h-1.3zM375.3 640.4h1.3v1.3h-1.3zM377.4 654.2h1.3v1.3h-1.3zM379.6 629.1h1.3v1.3h-1.3zM366.0 650.1h1.3v1.3h-1.3zM387.6 649.9h1.3v1.3h-1.3zM383.2 644.5h1.3v1.3h-1.3zM382.6 624.7h1.3v1.3h-1.3zM390.2 629.4h1.3v1.3h-1.3zM394.8 629.8h1.3v1.3h-1.3zM393.5 649.6h1.3v1.3h-1.3zM381.1 614.1h1.3v1.3h-1.3zM383.8 642.0h1.3v1.3h-1.3zM381.6 612.3h1.3v1.3h-1.3zM390.2 638.2h1.3v1.3h-1.3zM393.9 611.7h1.3v1.3h-1.3zM396.4 645.2h1.3v1.3h-1.3zM380.8 657.6h1.3v1.3h-1.3zM376.8 634.8h1.3v1.3h-1.3zM391.0 648.0h1.3v1.3h-1.3zM396.1 643.9h1.3v1.3h-1.3zM381.0 654.8h1.3v1.3h-1.3zM385.4 644.3h1.3v1.3h-1.3zM393.3 619.7h1.3v1.3h-1.3zM390.7 642.3h1.3v1.3h-1.3zM384.1 634.2h1.3v1.3h-1.3zM389.3 615.5h1.3v1.3h-1.3zM387.9 637.9h1.3v1.3h-1.3zM373.3 655.1h1.3v1.3h-1.3zM387.9 613.7h1.3v1.3h-1.3zM392.0 611.3h1.3v1.3h-1.3zM381.1 655.9h1.3v1.3h-1.3zM380.7 635.0h1.3v1.3h-1.3zM388.9 657.7h1.3v1.3h-1.3zM381.5 622.7h1.3v1.3h-1.3zM392.6 653.7h1.3v1.3h-1.3zM390.9 652.0h1.3v1.3h-1.3zM381.9 639.8h1.3v1.3h-1.3zM399.1 623.9h1.3v1.3h-1.3zM387.3 659.8h1.3v1.3h-1.3zM374.4 623.0h1.3v1.3h-1.3zM389.7 642.0h1.3v1.3h-1.3zM374.0 641.2h1.3v1.3h-1.3zM390.4 643.4h1.3v1.3h-1.3zM390.3 634.2h1.3v1.3h-1.3zM374.4 647.8h1.3v1.3h-1.3zM390.6 622.2h1.3v1.3h-1.3zM392.9 640.2h1.3v1.3h-1.3zM403.1 643.4h1.3v1.3h-1.3zM379.3 616.0h1.3v1.3h-1.3zM393.7 634.1h1.3v1.3h-1.3zM387.5 652.6h1.3v1.3h-1.3zM387.1 638.7h1.3v1.3h-1.3zM391.2 612.8h1.3v1.3h-1.3zM378.6 650.0h1.3v1.3h-1.3zM383.3 652.9h1.3v1.3h-1.3zM399.7 619.7h1.3v1.3h-1.3zM386.2 655.4h1.3v1.3h-1.3zM368.4 628.6h1.3v1.3h-1.3zM380.8 614.2h1.3v1.3h-1.3zM376.4 647.0h1.3v1.3h-1.3zM388.7 651.5h1.3v1.3h-1.3zM392.1 648.4h1.3v1.3h-1.3zM388.1 649.2h1.3v1.3h-1.3zM383.8 657.7h1.3v1.3h-1.3zM388.6 637.7h1.3v1.3h-1.3zM388.3 652.2h1.3v1.3h-1.3zM381.6 650.5h1.3v1.3h-1.3zM396.4 621.2h1.3v1.3h-1.3zM402.4 638.1h1.3v1.3h-1.3zM393.8 612.7h1.3v1.3h-1.3zM390.7 612.6h1.3v1.3h-1.3zM391.3 637.3h1.3v1.3h-1.3zM385.7 655.3h1.3v1.3h-1.3zM391.2 648.8h1.3v1.3h-1.3zM383.1 639.7h1.3v1.3h-1.3zM392.3 657.5h1.3v1.3h-1.3zM378.2 630.1h1.3v1.3h-1.3z"/>
<path fill="#b86450" d="M388.9 646.9h1.3v1.3h-1.3zM395.4 658.5h1.3v1.3h-1.3zM394.4 616.6h1.3v1.3h-1.3zM398.2 614.5h1.3v1.3h-1.3zM403.2 658.8h1.3v1.3h-1.3zM378.5 628.8h1.3v1.3h-1.3zM393.7 631.3h1.3v1.3h-1.3zM388.8 646.2h1.3v1.3h-1.3zM383.1 657.8h1.3v1.3h-1.3zM387.8 656.7h1.3v1.3h-1.3zM379.1 617.9h1.3v1.3h-1.3zM397.7 613.6h1.3v1.3h-1.3zM387.8 623.8h1.3v1.3h-1.3zM387.3 649.9h1.3v1.3h-1.3zM379.6 657.0h1.3v1.3h-1.3zM381.9 656.9h1.3v1.3h-1.3zM377.1 649.2h1.3v1.3h-1.3zM392.3 645.2h1.3v1.3h-1.3zM377.4 652.7h1.3v1.3h-1.3zM390.2 636.1h1.3v1.3h-1.3zM381.7 646.0h1.3v1.3h-1.3zM383.4 618.2h1.3v1.3h-1.3zM373.8 645.6h1.3v1.3h-1.3zM378.9 616.0h1.3v1.3h-1.3zM402.4 613.8h1.3v1.3h-1.3zM381.7 647.4h1.3v1.3h-1.3zM378.6 634.5h1.3v1.3h-1.3zM390.2 624.2h1.3v1.3h-1.3zM394.0 614.5h1.3v1.3h-1.3zM390.3 615.9h1.3v1.3h-1.3zM380.6 623.8h1.3v1.3h-1.3zM382.4 650.6h1.3v1.3h-1.3zM388.8 619.9h1.3v1.3h-1.3zM387.9 633.5h1.3v1.3h-1.3zM374.0 615.7h1.3v1.3h-1.3zM379.1 650.7h1.3v1.3h-1.3zM379.8 612.3h1.3v1.3h-1.3zM389.1 656.2h1.3v1.3h-1.3zM394.5 613.7h1.3v1.3h-1.3zM395.0 624.9h1.3v1.3h-1.3zM395.8 618.0h1.3v1.3h-1.3zM384.5 652.5h1.3v1.3h-1.3zM382.8 621.7h1.3v1.3h-1.3zM378.4 644.7h1.3v1.3h-1.3zM386.2 655.1h1.3v1.3h-1.3zM384.1 652.6h1.3v1.3h-1.3zM404.5 635.3h1.3v1.3h-1.3zM378.8 640.6h1.3v1.3h-1.3zM396.1 640.6h1.3v1.3h-1.3zM383.7 623.6h1.3v1.3h-1.3zM385.5 657.2h1.3v1.3h-1.3zM385.1 614.1h1.3v1.3h-1.3zM384.1 649.7h1.3v1.3h-1.3zM396.8 621.3h1.3v1.3h-1.3zM390.5 626.2h1.3v1.3h-1.3zM380.8 643.6h1.3v1.3h-1.3zM384.0 641.1h1.3v1.3h-1.3zM379.0 652.3h1.3v1.3h-1.3zM387.4 612.7h1.3v1.3h-1.3zM391.1 631.3h1.3v1.3h-1.3zM376.1 614.0h1.3v1.3h-1.3zM388.3 625.9h1.3v1.3h-1.3zM381.8 641.4h1.3v1.3h-1.3zM385.4 627.0h1.3v1.3h-1.3zM394.7 613.8h1.3v1.3h-1.3zM382.6 621.2h1.3v1.3h-1.3zM373.2 617.4h1.3v1.3h-1.3zM396.3 625.9h1.3v1.3h-1.3zM381.1 638.7h1.3v1.3h-1.3zM399.6 653.6h1.3v1.3h-1.3zM391.6 620.6h1.3v1.3h-1.3zM380.3 657.6h1.3v1.3h-1.3zM386.5 634.2h1.3v1.3h-1.3zM391.2 643.4h1.3v1.3h-1.3zM374.2 630.0h1.3v1.3h-1.3zM374.5 629.6h1.3v1.3h-1.3zM387.5 622.1h1.3v1.3h-1.3zM379.2 642.4h1.3v1.3h-1.3zM384.7 618.8h1.3v1.3h-1.3zM388.0 634.9h1.3v1.3h-1.3zM401.0 654.4h1.3v1.3h-1.3zM395.2 646.4h1.3v1.3h-1.3zM392.9 621.2h1.3v1.3h-1.3zM380.8 648.0h1.3v1.3h-1.3zM378.2 621.8h1.3v1.3h-1.3zM375.1 645.0h1.3v1.3h-1.3zM383.2 620.2h1.3v1.3h-1.3zM390.5 626.1h1.3v1.3h-1.3zM391.3 622.4h1.3v1.3h-1.3zM382.8 633.0h1.3v1.3h-1.3zM376.5 659.5h1.3v1.3h-1.3zM395.5 624.7h1.3v1.3h-1.3zM384.8 631.7h1.3v1.3h-1.3zM393.3 649.8h1.3v1.3h-1.3zM374.0 634.8h1.3v1.3h-1.3zM405.4 614.7h1.3v1.3h-1.3zM391.9 645.7h1.3v1.3h-1.3zM380.1 625.8h1.3v1.3h-1.3zM389.6 627.9h1.3v1.3h-1.3zM385.3 614.4h1.3v1.3h-1.3zM391.1 626.4h1.3v1.3h-1.3zM388.4 611.9h1.3v1.3h-1.3zM393.8 656.8h1.3v1.3h-1.3zM381.0 659.4h1.3v1.3h-1.3zM395.7 650.2h1.3v1.3h-1.3zM383.4 649.1h1.3v1.3h-1.3zM386.8 625.0h1.3v1.3h-1.3zM387.8 654.2h1.3v1.3h-1.3zM382.1 626.6h1.3v1.3h-1.3zM385.1 618.2h1.3v1.3h-1.3zM378.8 630.2h1.3v1.3h-1.3zM369.1 629.5h1.3v1.3h-1.3zM378.8 615.9h1.3v1.3h-1.3zM381.2 618.7h1.3v1.3h-1.3zM379.3 654.5h1.3v1.3h-1.3zM376.8 637.9h1.3v1.3h-1.3zM389.3 612.4h1.3v1.3h-1.3zM377.8 618.8h1.3v1.3h-1.3zM391.4 632.7h1.3v1.3h-1.3zM398.5 611.7h1.3v1.3h-1.3zM383.8 637.0h1.3v1.3h-1.3zM389.0 638.7h1.3v1.3h-1.3zM390.8 646.5h1.3v1.3h-1.3z"/>
<path fill="#b06048" d="M392.3 623.4h1.3v1.3h-1.3zM380.6 629.0h1.3v1.3h-1.3zM392.5 627.6h1.3v1.3h-1.3zM387.9 617.9h1.3v1.3h-1.3zM379.1 621.0h1.3v1.3h-1.3zM365.4 650.8h1.3v1.3h-1.3zM401.5 629.9h1.3v1.3h-1.3zM388.3 614.3h1.3v1.3h-1.3zM404.4 625.5h1.3v1.3h-1.3zM393.1 613.3h1.3v1.3h-1.3zM386.3 650.4h1.3v1.3h-1.3zM381.2 653.6h1.3v1.3h-1.3zM380.0 658.6h1.3v1.3h-1.3zM380.9 638.6h1.3v1.3h-1.3zM400.2 644.1h1.3v1.3h-1.3zM386.2 656.7h1.3v1.3h-1.3zM393.5 647.8h1.3v1.3h-1.3zM384.7 614.0h1.3v1.3h-1.3zM382.2 654.7h1.3v1.3h-1.3zM397.5 654.7h1.3v1.3h-1.3zM381.1 614.7h1.3v1.3h-1.3zM385.5 622.1h1.3v1.3h-1.3zM389.0 656.3h1.3v1.3h-1.3zM391.7 617.6h1.3v1.3h-1.3zM390.7 637.7h1.3v1.3h-1.3zM387.6 644.8h1.3v1.3h-1.3zM379.5 631.0h1.3v1.3h-1.3zM391.1 618.4h1.3v1.3h-1.3zM379.8 640.1h1.3v1.3h-1.3zM383.1 626.4h1.3v1.3h-1.3zM391.1 651.9h1.3v1.3h-1.3zM389.1 646.6h1.3v1.3h-1.3zM394.2 653.3h1.3v1.3h-1.3zM387.5 639.0h1.3v1.3h-1.3zM370.7 640.1h1.3v1.3h-1.3zM381.7 643.9h1.3v1.3h-1.3zM381.8 616.8h1.3v1.3h-1.3zM392.1 637.4h1.3v1.3h-1.3zM391.1 631.0h1.3v1.3h-1.3zM390.8 630.4h1.3v1.3h-1.3zM391.3 632.5h1.3v1.3h-1.3zM382.8 646.2h1.3v1.3h-1.3zM388.8 649.9h1.3v1.3h-1.3zM387.8 640.0h1.3v1.3h-1.3zM387.4 616.2h1.3v1.3h-1.3zM378.8 623.8h1.3v1.3h-1.3zM385.4 616.6h1.3v1.3h-1.3zM385.9 634.8h1.3v1.3h-1.3zM381.1 622.0h1.3v1.3h-1.3zM379.9 633.2h1.3v1.3h-1.3zM392.0 617.7h1.3v1.3h-1.3zM378.7 615.3h1.3v1.3h-1.3zM383.5 641.3h1.3v1.3h-1.3zM377.2 638.5h1.3v1.3h-1.3zM385.7 647.5h1.3v1.3h-1.3zM401.2 611.9h1.3v1.3h-1.3zM390.5 638.3h1.3v1.3h-1.3zM364.7 629.9h1.3v1.3h-1.3zM373.0 617.9h1.3v1.3h-1.3zM396.5 643.3h1.3v1.3h-1.3zM380.5 643.0h1.3v1.3h-1.3zM382.0 618.8h1.3v1.3h-1.3zM393.3 629.7h1.3v1.3h-1.3zM390.6 611.2h1.3v1.3h-1.3zM380.6 635.0h1.3v1.3h-1.3zM381.2 630.6h1.3v1.3h-1.3zM383.0 652.1h1.3v1.3h-1.3zM386.9 657.4h1.3v1.3h-1.3zM387.7 656.3h1.3v1.3h-1.3zM402.0 635.2h1.3v1.3h-1.3zM393.1 646.1h1.3v1.3h-1.3zM383.2 643.9h1.3v1.3h-1.3zM378.5 619.1h1.3v1.3h-1.3zM391.5 621.8h1.3v1.3h-1.3zM385.7 641.2h1.3v1.3h-1.3zM373.7 611.5h1.3v1.3h-1.3zM389.7 622.9h1.3v1.3h-1.3zM362.0 636.2h1.3v1.3h-1.3zM380.6 627.8h1.3v1.3h-1.3zM392.4 647.6h1.3v1.3h-1.3zM387.4 645.5h1.3v1.3h-1.3zM386.9 613.0h1.3v1.3h-1.3zM387.5 634.6h1.3v1.3h-1.3zM378.8 630.2h1.3v1.3h-1.3zM381.0 619.1h1.3v1.3h-1.3zM387.1 621.2h1.3v1.3h-1.3zM386.7 628.0h1.3v1.3h-1.3zM382.6 649.5h1.3v1.3h-1.3zM380.9 637.5h1.3v1.3h-1.3zM397.3 619.3h1.3v1.3h-1.3zM373.4 621.3h1.3v1.3h-1.3zM386.9 638.1h1.3v1.3h-1.3zM389.9 626.4h1.3v1.3h-1.3zM391.4 634.6h1.3v1.3h-1.3zM380.8 625.1h1.3v1.3h-1.3zM379.7 631.4h1.3v1.3h-1.3zM393.2 629.9h1.3v1.3h-1.3zM377.4 620.6h1.3v1.3h-1.3zM394.6 626.3h1.3v1.3h-1.3zM397.7 628.5h1.3v1.3h-1.3zM385.9 626.5h1.3v1.3h-1.3zM380.2 630.9h1.3v1.3h-1.3zM391.7 618.9h1.3v1.3h-1.3zM383.6 645.9h1.3v1.3h-1.3zM381.7 634.1h1.3v1.3h-1.3zM378.9 629.5h1.3v1.3h-1.3zM387.2 645.2h1.3v1.3h-1.3zM387.5 614.2h1.3v1.3h-1.3zM374.3 617.7h1.3v1.3h-1.3zM387.0 641.9h1.3v1.3h-1.3zM388.9 659.5h1.3v1.3h-1.3zM386.4 657.3h1.3v1.3h-1.3zM386.9 625.3h1.3v1.3h-1.3zM384.0 629.6h1.3v1.3h-1.3zM392.8 629.8h1.3v1.3h-1.3zM384.7 633.2h1.3v1.3h-1.3zM387.3 631.1h1.3v1.3h-1.3zM378.1 639.8h1.3v1.3h-1.3zM394.1 612.5h1.3v1.3h-1.3zM393.8 644.5h1.3v1.3h-1.3zM383.0 640.6h1.3v1.3h-1.3zM399.4 632.7h1.3v1.3h-1.3zM397.5 643.2h1.3v1.3h-1.3zM381.0 655.6h1.3v1.3h-1.3zM388.5 639.4h1.3v1.3h-1.3zM367.9 616.0h1.3v1.3h-1.3zM390.0 624.8h1.3v1.3h-1.3zM379.4 643.8h1.3v1.3h-1.3zM396.6 621.0h1.3v1.3h-1.3z"/>
<path fill="#a85a48" d="M390.0 624.4h1.3v1.3h-1.3zM385.6 644.0h1.3v1.3h-1.3zM371.7 617.3h1.3v1.3h-1.3zM379.7 630.0h1.3v1.3h-1.3zM391.8 619.0h1.3v1.3h-1.3zM389.8 638.3h1.3v1.3h-1.3zM391.6 649.8h1.3v1.3h-1.3zM395.9 648.2h1.3v1.3h-1.3zM388.7 641.1h1.3v1.3h-1.3zM374.2 647.0h1.3v1.3h-1.3zM385.4 656.2h1.3v1.3h-1.3zM398.3 655.2h1.3v1.3h-1.3zM393.0 642.9h1.3v1.3h-1.3zM376.1 630.7h1.3v1.3h-1.3zM390.4 638.8h1.3v1.3h-1.3zM383.0 622.0h1.3v1.3h-1.3zM406.8 625.9h1.3v1.3h-1.3zM387.1 630.6h1.3v1.3h-1.3zM389.2 636.4h1.3v1.3h-1.3zM377.5 642.6h1.3v1.3h-1.3zM391.5 642.0h1.3v1.3h-1.3zM390.9 644.3h1.3v1.3h-1.3zM387.6 639.9h1.3v1.3h-1.3zM390.4 612.2h1.3v1.3h-1.3zM393.2 624.5h1.3v1.3h-1.3zM377.4 643.7h1.3v1.3h-1.3zM373.5 654.4h1.3v1.3h-1.3zM387.2 621.4h1.3v1.3h-1.3zM393.5 633.7h1.3v1.3h-1.3zM378.5 654.8h1.3v1.3h-1.3zM388.2 626.0h1.3v1.3h-1.3zM390.5 620.2h1.3v1.3h-1.3zM394.7 646.9h1.3v1.3h-1.3zM378.7 647.9h1.3v1.3h-1.3zM386.7 630.0h1.3v1.3h-1.3zM369.6 627.5h1.3v1.3h-1.3zM375.8 651.3h1.3v1.3h-1.3zM386.6 639.5h1.3v1.3h-1.3zM380.1 612.5h1.3v1.3h-1.3zM394.6 620.0h1.3v1.3h-1.3zM392.1 625.6h1.3v1.3h-1.3zM386.2 644.0h1.3v1.3h-1.3zM383.4 651.8h1.3v1.3h-1.3zM389.9 616.8h1.3v1.3h-1.3zM384.5 643.1h1.3v1.3h-1.3zM393.7 634.8h1.3v1.3h-1.3zM392.7 633.9h1.3v1.3h-1.3zM388.2 638.0h1.3v1.3h-1.3zM389.4 624.7h1.3v1.3h-1.3zM390.8 626.9h1.3v1.3h-1.3zM388.4 657.0h1.3v1.3h-1.3zM380.0 620.5h1.3v1.3h-1.3zM380.6 634.5h1.3v1.3h-1.3zM375.1 627.5h1.3v1.3h-1.3zM389.0 618.1h1.3v1.3h-1.3zM379.5 646.0h1.3v1.3h-1.3zM392.3 658.1h1.3v1.3h-1.3zM381.1 648.4h1.3v1.3h-1.3zM382.0 628.4h1.3v1.3h-1.3zM404.5 643.5h1.3v1.3h-1.3zM374.5 611.4h1.3v1.3h-1.3zM393.6 656.6h1.3v1.3h-1.3zM384.3 619.8h1.3v1.3h-1.3zM388.1 615.0h1.3v1.3h-1.3zM378.7 620.6h1.3v1.3h-1.3zM378.0 640.2h1.3v1.3h-1.3zM393.5 616.4h1.3v1.3h-1.3zM385.8 621.4h1.3v1.3h-1.3zM383.2 648.6h1.3v1.3h-1.3zM383.3 654.1h1.3v1.3h-1.3zM385.4 642.8h1.3v1.3h-1.3zM378.4 651.3h1.3v1.3h-1.3zM382.2 653.7h1.3v1.3h-1.3zM381.6 630.8h1.3v1.3h-1.3zM381.8 641.2h1.3v1.3h-1.3zM383.3 643.6h1.3v1.3h-1.3zM385.4 614.6h1.3v1.3h-1.3zM373.9 629.2h1.3v1.3h-1.3zM376.3 641.2h1.3v1.3h-1.3zM385.9 647.6h1.3v1.3h-1.3zM391.7 656.2h1.3v1.3h-1.3zM379.1 623.2h1.3v1.3h-1.3zM398.3 645.2h1.3v1.3h-1.3zM382.4 624.2h1.3v1.3h-1.3zM403.9 641.6h1.3v1.3h-1.3zM372.3 616.0h1.3v1.3h-1.3zM390.5 611.8h1.3v1.3h-1.3zM372.4 633.1h1.3v1.3h-1.3zM395.9 660.3h1.3v1.3h-1.3zM397.0 654.5h1.3v1.3h-1.3zM391.0 654.6h1.3v1.3h-1.3zM392.8 638.2h1.3v1.3h-1.3zM391.6 651.6h1.3v1.3h-1.3zM387.0 650.6h1.3v1.3h-1.3zM374.0 636.6h1.3v1.3h-1.3zM383.9 640.1h1.3v1.3h-1.3zM397.8 636.6h1.3v1.3h-1.3zM385.6 659.4h1.3v1.3h-1.3zM388.0 630.0h1.3v1.3h-1.3zM384.4 634.1h1.3v1.3h-1.3zM379.5 653.2h1.3v1.3h-1.3zM401.2 635.8h1.3v1.3h-1.3zM389.8 631.4h1.3v1.3h-1.3zM379.8 630.5h1.3v1.3h-1.3zM383.2 651.9h1.3v1.3h-1.3zM398.2 654.8h1.3v1.3h-1.3zM374.8 621.0h1.3v1.3h-1.3zM376.7 627.1h1.3v1.3h-1.3zM388.4 612.7h1.3v1.3h-1.3zM377.0 657.8h1.3v1.3h-1.3zM373.0 651.0h1.3v1.3h-1.3zM395.4 647.8h1.3v1.3h-1.3zM370.0 613.9h1.3v1.3h-1.3zM397.4 654.4h1.3v1.3h-1.3zM374.6 651.1h1.3v1.3h-1.3zM389.7 632.6h1.3v1.3h-1.3zM381.6 648.9h1.3v1.3h-1.3zM391.0 646.8h1.3v1.3h-1.3z"/>
<path fill="#b44e3a" d="M395.2 650.5h1.3v1.3h-1.3zM398.6 638.8h1.3v1.3h-1.3zM399.1 622.6h1.3v1.3h-1.3zM399.9 634.0h1.3v1.3h-1.3zM405.6 650.9h1.3v1.3h-1.3zM384.2 631.0h1.3v1.3h-1.3zM381.8 640.7h1.3v1.3h-1.3zM401.6 613.0h1.3v1.3h-1.3zM396.4 626.4h1.3v1.3h-1.3zM380.9 646.2h1.3v1.3h-1.3zM389.1 634.3h1.3v1.3h-1.3zM388.6 645.0h1.3v1.3h-1.3zM393.3 614.5h1.3v1.3h-1.3zM388.5 637.4h1.3v1.3h-1.3zM391.4 612.5h1.3v1.3h-1.3zM404.7 630.2h1.3v1.3h-1.3zM382.1 642.6h1.3v1.3h-1.3zM386.2 624.9h1.3v1.3h-1.3zM395.2 646.8h1.3v1.3h-1.3zM382.8 633.1h1.3v1.3h-1.3zM369.3 622.8h1.3v1.3h-1.3zM384.4 623.9h1.3v1.3h-1.3zM393.5 629.1h1.3v1.3h-1.3zM396.4 643.5h1.3v1.3h-1.3zM388.0 614.3h1.3v1.3h-1.3zM393.3 634.0h1.3v1.3h-1.3zM387.5 616.6h1.3v1.3h-1.3zM378.1 638.1h1.3v1.3h-1.3zM395.1 638.7h1.3v1.3h-1.3zM395.8 636.6h1.3v1.3h-1.3zM387.6 618.2h1.3v1.3h-1.3zM379.9 659.8h1.3v1.3h-1.3zM374.9 631.4h1.3v1.3h-1.3zM381.4 648.6h1.3v1.3h-1.3zM376.1 657.5h1.3v1.3h-1.3zM393.6 636.1h1.3v1.3h-1.3zM378.2 653.0h1.3v1.3h-1.3zM377.1 620.2h1.3v1.3h-1.3zM400.7 614.4h1.3v1.3h-1.3zM387.1 623.5h1.3v1.3h-1.3zM391.9 624.9h1.3v1.3h-1.3zM383.7 651.3h1.3v1.3h-1.3zM390.4 641.9h1.3v1.3h-1.3zM393.6 660.1h1.3v1.3h-1.3zM386.9 650.8h1.3v1.3h-1.3zM370.8 628.5h1.3v1.3h-1.3zM387.3 630.7h1.3v1.3h-1.3zM390.3 628.2h1.3v1.3h-1.3zM397.9 622.6h1.3v1.3h-1.3zM392.6 623.3h1.3v1.3h-1.3zM393.5 617.4h1.3v1.3h-1.3zM403.5 637.3h1.3v1.3h-1.3zM384.1 626.7h1.3v1.3h-1.3zM381.4 627.8h1.3v1.3h-1.3zM384.2 633.7h1.3v1.3h-1.3zM389.9 617.6h1.3v1.3h-1.3zM383.4 648.5h1.3v1.3h-1.3zM376.6 628.1h1.3v1.3h-1.3zM381.0 627.3h1.3v1.3h-1.3zM396.4 636.2h1.3v1.3h-1.3zM393.3 647.5h1.3v1.3h-1.3zM381.4 636.2h1.3v1.3h-1.3zM400.5 651.1h1.3v1.3h-1.3zM374.3 622.3h1.3v1.3h-1.3zM384.8 660.1h1.3v1.3h-1.3zM383.9 656.4h1.3v1.3h-1.3zM392.7 622.9h1.3v1.3h-1.3zM377.5 639.0h1.3v1.3h-1.3zM386.9 627.2h1.3v1.3h-1.3zM387.2 613.7h1.3v1.3h-1.3zM382.8 624.3h1.3v1.3h-1.3zM386.5 617.0h1.3v1.3h-1.3zM388.6 618.3h1.3v1.3h-1.3zM383.4 623.2h1.3v1.3h-1.3zM392.2 625.0h1.3v1.3h-1.3zM392.6 647.7h1.3v1.3h-1.3zM399.8 615.4h1.3v1.3h-1.3zM387.3 628.6h1.3v1.3h-1.3zM395.9 616.6h1.3v1.3h-1.3zM406.2 616.0h1.3v1.3h-1.3zM384.9 612.9h1.3v1.3h-1.3zM401.8 635.6h1.3v1.3h-1.3zM391.3 653.6h1.3v1.3h-1.3zM393.6 624.0h1.3v1.3h-1.3zM393.6 644.3h1.3v1.3h-1.3zM392.0 641.1h1.3v1.3h-1.3zM393.7 635.3h1.3v1.3h-1.3zM389.6 658.7h1.3v1.3h-1.3zM380.6 656.2h1.3v1.3h-1.3zM384.3 623.1h1.3v1.3h-1.3zM398.5 619.3h1.3v1.3h-1.3zM379.5 637.5h1.3v1.3h-1.3zM394.3 619.5h1.3v1.3h-1.3zM385.2 617.9h1.3v1.3h-1.3z"/>
<path fill="#a05040" d="M382.4 642.0h1.3v1.3h-1.3zM380.0 649.7h1.3v1.3h-1.3zM384.9 631.3h1.3v1.3h-1.3zM387.8 613.2h1.3v1.3h-1.3zM390.3 621.4h1.3v1.3h-1.3zM389.5 641.5h1.3v1.3h-1.3zM381.7 614.3h1.3v1.3h-1.3zM396.1 633.0h1.3v1.3h-1.3zM374.6 642.1h1.3v1.3h-1.3zM388.6 634.9h1.3v1.3h-1.3zM380.7 647.0h1.3v1.3h-1.3zM381.6 629.0h1.3v1.3h-1.3zM377.6 646.2h1.3v1.3h-1.3zM383.2 614.5h1.3v1.3h-1.3zM377.2 611.0h1.3v1.3h-1.3zM373.3 626.2h1.3v1.3h-1.3zM374.7 628.7h1.3v1.3h-1.3zM385.0 613.4h1.3v1.3h-1.3zM386.6 631.0h1.3v1.3h-1.3zM385.7 627.8h1.3v1.3h-1.3zM396.4 656.4h1.3v1.3h-1.3zM391.4 616.5h1.3v1.3h-1.3zM392.9 618.1h1.3v1.3h-1.3zM387.4 638.1h1.3v1.3h-1.3zM385.6 652.6h1.3v1.3h-1.3zM379.3 615.4h1.3v1.3h-1.3zM377.8 615.4h1.3v1.3h-1.3zM387.3 651.8h1.3v1.3h-1.3zM403.4 649.7h1.3v1.3h-1.3zM384.7 621.7h1.3v1.3h-1.3zM391.8 638.9h1.3v1.3h-1.3zM377.9 652.3h1.3v1.3h-1.3zM392.4 642.2h1.3v1.3h-1.3zM394.7 659.8h1.3v1.3h-1.3zM385.6 632.8h1.3v1.3h-1.3zM387.9 648.1h1.3v1.3h-1.3zM384.1 637.1h1.3v1.3h-1.3zM368.9 621.1h1.3v1.3h-1.3zM388.8 617.7h1.3v1.3h-1.3zM395.0 611.7h1.3v1.3h-1.3zM379.4 654.0h1.3v1.3h-1.3zM391.1 655.0h1.3v1.3h-1.3zM375.3 620.2h1.3v1.3h-1.3zM381.8 612.1h1.3v1.3h-1.3zM384.7 642.4h1.3v1.3h-1.3zM397.5 654.0h1.3v1.3h-1.3zM393.0 642.3h1.3v1.3h-1.3zM394.0 641.5h1.3v1.3h-1.3zM378.9 614.8h1.3v1.3h-1.3zM394.6 622.6h1.3v1.3h-1.3zM387.6 655.6h1.3v1.3h-1.3zM369.3 623.1h1.3v1.3h-1.3zM389.3 620.2h1.3v1.3h-1.3zM380.4 612.1h1.3v1.3h-1.3zM393.3 620.4h1.3v1.3h-1.3zM387.5 612.7h1.3v1.3h-1.3zM383.4 612.8h1.3v1.3h-1.3zM386.5 638.7h1.3v1.3h-1.3zM381.8 648.9h1.3v1.3h-1.3zM404.0 637.6h1.3v1.3h-1.3zM385.6 641.1h1.3v1.3h-1.3zM388.7 615.1h1.3v1.3h-1.3zM393.3 635.1h1.3v1.3h-1.3zM384.0 623.9h1.3v1.3h-1.3zM377.0 611.1h1.3v1.3h-1.3zM389.0 612.7h1.3v1.3h-1.3zM396.6 616.5h1.3v1.3h-1.3zM372.5 622.8h1.3v1.3h-1.3zM387.8 635.1h1.3v1.3h-1.3zM384.7 620.2h1.3v1.3h-1.3zM378.7 657.1h1.3v1.3h-1.3zM372.3 616.2h1.3v1.3h-1.3zM373.7 642.7h1.3v1.3h-1.3zM385.7 631.8h1.3v1.3h-1.3zM387.7 637.3h1.3v1.3h-1.3zM398.8 649.2h1.3v1.3h-1.3zM379.9 641.6h1.3v1.3h-1.3zM386.1 632.3h1.3v1.3h-1.3zM381.3 612.0h1.3v1.3h-1.3zM396.5 657.2h1.3v1.3h-1.3zM404.1 650.4h1.3v1.3h-1.3zM383.4 629.2h1.3v1.3h-1.3zM382.7 621.9h1.3v1.3h-1.3zM391.1 622.7h1.3v1.3h-1.3zM389.7 625.5h1.3v1.3h-1.3zM378.2 618.6h1.3v1.3h-1.3zM377.6 659.6h1.3v1.3h-1.3zM392.4 620.5h1.3v1.3h-1.3zM374.7 632.5h1.3v1.3h-1.3zM384.6 633.4h1.3v1.3h-1.3zM383.2 658.5h1.3v1.3h-1.3zM386.7 611.7h1.3v1.3h-1.3zM395.7 643.2h1.3v1.3h-1.3zM370.8 647.9h1.3v1.3h-1.3zM380.9 652.2h1.3v1.3h-1.3zM368.2 649.2h1.3v1.3h-1.3zM385.6 633.0h1.3v1.3h-1.3zM369.1 638.4h1.3v1.3h-1.3zM378.2 620.3h1.3v1.3h-1.3zM363.9 641.4h1.3v1.3h-1.3zM387.3 645.2h1.3v1.3h-1.3zM392.9 647.6h1.3v1.3h-1.3zM381.1 617.7h1.3v1.3h-1.3zM385.0 635.2h1.3v1.3h-1.3zM386.8 618.1h1.3v1.3h-1.3zM381.3 617.2h1.3v1.3h-1.3zM390.6 626.3h1.3v1.3h-1.3zM380.4 612.9h1.3v1.3h-1.3zM375.6 640.1h1.3v1.3h-1.3zM385.5 655.1h1.3v1.3h-1.3zM378.8 612.0h1.3v1.3h-1.3zM385.7 643.6h1.3v1.3h-1.3zM392.0 626.0h1.3v1.3h-1.3zM378.1 651.9h1.3v1.3h-1.3zM381.0 618.3h1.3v1.3h-1.3zM376.6 644.5h1.3v1.3h-1.3zM383.2 642.1h1.3v1.3h-1.3zM400.5 627.3h1.3v1.3h-1.3zM380.5 660.1h1.3v1.3h-1.3zM385.5 637.3h1.3v1.3h-1.3zM386.1 637.6h1.3v1.3h-1.3zM381.7 628.1h1.3v1.3h-1.3zM383.0 626.8h1.3v1.3h-1.3zM401.1 619.5h1.3v1.3h-1.3z"/>
<path fill="#b0503a" d="M385.8 627.1h1.3v1.3h-1.3zM377.8 654.4h1.3v1.3h-1.3zM392.9 628.8h1.3v1.3h-1.3zM385.4 658.2h1.3v1.3h-1.3zM385.1 632.6h1.3v1.3h-1.3zM393.7 628.6h1.3v1.3h-1.3zM386.8 611.9h1.3v1.3h-1.3zM386.3 626.9h1.3v1.3h-1.3zM388.8 638.8h1.3v1.3h-1.3zM377.3 634.2h1.3v1.3h-1.3zM389.7 631.7h1.3v1.3h-1.3zM381.8 647.0h1.3v1.3h-1.3zM389.1 631.9h1.3v1.3h-1.3zM391.8 641.9h1.3v1.3h-1.3zM385.0 627.6h1.3v1.3h-1.3zM405.3 614.1h1.3v1.3h-1.3zM388.2 616.5h1.3v1.3h-1.3zM386.0 623.7h1.3v1.3h-1.3zM385.1 652.1h1.3v1.3h-1.3zM390.5 650.0h1.3v1.3h-1.3zM398.5 656.5h1.3v1.3h-1.3zM387.9 622.3h1.3v1.3h-1.3zM387.4 615.2h1.3v1.3h-1.3zM383.0 638.9h1.3v1.3h-1.3zM366.4 617.1h1.3v1.3h-1.3zM386.8 615.2h1.3v1.3h-1.3zM392.7 616.4h1.3v1.3h-1.3zM386.6 650.4h1.3v1.3h-1.3zM385.4 655.3h1.3v1.3h-1.3zM379.8 651.1h1.3v1.3h-1.3zM380.4 633.5h1.3v1.3h-1.3zM368.2 638.9h1.3v1.3h-1.3zM383.8 633.0h1.3v1.3h-1.3zM385.7 634.2h1.3v1.3h-1.3zM391.9 623.8h1.3v1.3h-1.3zM382.1 629.2h1.3v1.3h-1.3zM384.4 649.6h1.3v1.3h-1.3zM378.2 648.9h1.3v1.3h-1.3zM382.6 646.1h1.3v1.3h-1.3zM381.9 620.3h1.3v1.3h-1.3zM392.9 618.0h1.3v1.3h-1.3zM383.0 646.5h1.3v1.3h-1.3zM390.8 615.4h1.3v1.3h-1.3zM390.2 616.1h1.3v1.3h-1.3zM393.6 655.1h1.3v1.3h-1.3zM392.1 640.3h1.3v1.3h-1.3zM382.9 628.0h1.3v1.3h-1.3zM381.1 612.4h1.3v1.3h-1.3zM385.0 633.2h1.3v1.3h-1.3zM400.4 615.1h1.3v1.3h-1.3zM387.2 621.4h1.3v1.3h-1.3zM371.6 638.3h1.3v1.3h-1.3zM390.5 650.7h1.3v1.3h-1.3zM379.7 647.2h1.3v1.3h-1.3zM386.5 638.7h1.3v1.3h-1.3zM397.4 652.9h1.3v1.3h-1.3zM385.4 638.4h1.3v1.3h-1.3zM384.0 626.0h1.3v1.3h-1.3zM391.0 659.0h1.3v1.3h-1.3zM399.4 626.9h1.3v1.3h-1.3zM381.4 658.7h1.3v1.3h-1.3zM397.2 632.7h1.3v1.3h-1.3zM376.8 652.1h1.3v1.3h-1.3zM383.2 653.5h1.3v1.3h-1.3zM401.1 649.6h1.3v1.3h-1.3zM387.6 651.5h1.3v1.3h-1.3zM392.5 616.1h1.3v1.3h-1.3zM387.6 613.7h1.3v1.3h-1.3zM393.7 641.5h1.3v1.3h-1.3zM389.9 645.3h1.3v1.3h-1.3zM394.4 653.4h1.3v1.3h-1.3zM389.4 634.5h1.3v1.3h-1.3zM374.3 652.3h1.3v1.3h-1.3zM395.9 643.5h1.3v1.3h-1.3zM379.3 640.1h1.3v1.3h-1.3zM385.4 612.5h1.3v1.3h-1.3zM383.1 639.9h1.3v1.3h-1.3zM383.7 619.2h1.3v1.3h-1.3zM392.6 645.8h1.3v1.3h-1.3zM392.3 614.5h1.3v1.3h-1.3zM362.1 619.7h1.3v1.3h-1.3zM395.0 638.6h1.3v1.3h-1.3zM397.8 643.8h1.3v1.3h-1.3zM397.1 656.5h1.3v1.3h-1.3zM377.1 634.4h1.3v1.3h-1.3zM383.0 657.5h1.3v1.3h-1.3zM391.2 611.8h1.3v1.3h-1.3zM382.4 627.1h1.3v1.3h-1.3zM382.5 628.3h1.3v1.3h-1.3zM389.3 641.0h1.3v1.3h-1.3zM380.7 638.0h1.3v1.3h-1.3zM380.0 659.4h1.3v1.3h-1.3zM382.1 642.3h1.3v1.3h-1.3zM393.5 636.0h1.3v1.3h-1.3zM380.4 648.5h1.3v1.3h-1.3zM375.2 616.6h1.3v1.3h-1.3zM399.7 628.4h1.3v1.3h-1.3zM375.5 650.0h1.3v1.3h-1.3zM389.1 659.9h1.3v1.3h-1.3zM383.9 660.5h1.3v1.3h-1.3zM394.5 627.7h1.3v1.3h-1.3zM375.1 638.9h1.3v1.3h-1.3zM386.8 649.7h1.3v1.3h-1.3zM394.2 642.7h1.3v1.3h-1.3zM389.8 618.7h1.3v1.3h-1.3zM389.8 660.2h1.3v1.3h-1.3zM382.4 621.2h1.3v1.3h-1.3zM392.6 613.4h1.3v1.3h-1.3zM390.3 648.1h1.3v1.3h-1.3zM391.8 617.4h1.3v1.3h-1.3zM371.3 657.0h1.3v1.3h-1.3zM380.1 660.4h1.3v1.3h-1.3zM379.4 628.0h1.3v1.3h-1.3zM388.5 636.8h1.3v1.3h-1.3zM398.6 634.1h1.3v1.3h-1.3zM380.6 658.4h1.3v1.3h-1.3zM386.7 647.9h1.3v1.3h-1.3zM389.5 616.7h1.3v1.3h-1.3zM398.2 624.4h1.3v1.3h-1.3zM382.2 617.5h1.3v1.3h-1.3zM393.2 649.6h1.3v1.3h-1.3zM369.9 644.1h1.3v1.3h-1.3zM388.8 614.3h1.3v1.3h-1.3zM395.8 623.7h1.3v1.3h-1.3z"/>
<path fill="#b85a44" d="M375.7 623.2h1.3v1.3h-1.3zM391.5 630.7h1.3v1.3h-1.3zM394.3 636.4h1.3v1.3h-1.3zM392.7 626.7h1.3v1.3h-1.3zM396.8 645.6h1.3v1.3h-1.3zM381.0 647.4h1.3v1.3h-1.3zM378.2 656.4h1.3v1.3h-1.3zM375.2 640.7h1.3v1.3h-1.3zM384.7 635.6h1.3v1.3h-1.3zM388.4 644.0h1.3v1.3h-1.3zM395.5 631.6h1.3v1.3h-1.3zM384.5 652.5h1.3v1.3h-1.3zM377.2 644.6h1.3v1.3h-1.3zM393.7 624.6h1.3v1.3h-1.3zM392.2 620.2h1.3v1.3h-1.3zM381.2 650.1h1.3v1.3h-1.3zM364.4 616.3h1.3v1.3h-1.3zM392.6 625.9h1.3v1.3h-1.3zM377.4 643.2h1.3v1.3h-1.3zM387.0 633.8h1.3v1.3h-1.3zM372.7 650.4h1.3v1.3h-1.3zM382.7 658.9h1.3v1.3h-1.3zM389.7 613.3h1.3v1.3h-1.3zM402.1 638.9h1.3v1.3h-1.3zM392.5 658.5h1.3v1.3h-1.3zM379.6 612.5h1.3v1.3h-1.3zM392.9 650.0h1.3v1.3h-1.3zM379.4 630.4h1.3v1.3h-1.3zM375.7 648.3h1.3v1.3h-1.3zM381.2 613.8h1.3v1.3h-1.3zM379.9 626.1h1.3v1.3h-1.3zM397.1 635.0h1.3v1.3h-1.3zM378.9 649.3h1.3v1.3h-1.3zM380.5 659.7h1.3v1.3h-1.3zM383.5 650.1h1.3v1.3h-1.3zM395.1 615.9h1.3v1.3h-1.3zM378.5 616.2h1.3v1.3h-1.3zM371.3 616.2h1.3v1.3h-1.3zM376.1 629.2h1.3v1.3h-1.3zM378.3 622.5h1.3v1.3h-1.3zM396.9 647.4h1.3v1.3h-1.3zM378.8 624.0h1.3v1.3h-1.3zM392.8 646.7h1.3v1.3h-1.3zM391.0 625.6h1.3v1.3h-1.3zM387.6 622.1h1.3v1.3h-1.3zM381.0 634.4h1.3v1.3h-1.3zM392.6 634.2h1.3v1.3h-1.3zM381.2 634.3h1.3v1.3h-1.3zM384.3 624.7h1.3v1.3h-1.3zM376.6 624.0h1.3v1.3h-1.3zM386.3 612.8h1.3v1.3h-1.3zM387.0 652.5h1.3v1.3h-1.3zM384.8 639.2h1.3v1.3h-1.3zM389.2 621.1h1.3v1.3h-1.3zM385.2 622.7h1.3v1.3h-1.3zM386.3 655.7h1.3v1.3h-1.3zM385.3 651.9h1.3v1.3h-1.3zM383.4 642.5h1.3v1.3h-1.3zM391.1 617.9h1.3v1.3h-1.3zM390.8 655.1h1.3v1.3h-1.3zM392.2 641.7h1.3v1.3h-1.3zM387.2 649.4h1.3v1.3h-1.3zM400.2 646.4h1.3v1.3h-1.3zM393.7 657.3h1.3v1.3h-1.3zM373.6 657.3h1.3v1.3h-1.3zM380.8 626.0h1.3v1.3h-1.3zM394.1 626.4h1.3v1.3h-1.3zM393.8 657.7h1.3v1.3h-1.3zM382.5 648.0h1.3v1.3h-1.3zM392.7 650.1h1.3v1.3h-1.3zM395.4 620.8h1.3v1.3h-1.3zM394.3 620.7h1.3v1.3h-1.3zM388.4 622.0h1.3v1.3h-1.3zM398.0 612.0h1.3v1.3h-1.3zM373.8 625.1h1.3v1.3h-1.3zM384.7 637.9h1.3v1.3h-1.3zM391.2 659.7h1.3v1.3h-1.3zM382.5 647.8h1.3v1.3h-1.3zM388.1 659.1h1.3v1.3h-1.3zM382.2 625.4h1.3v1.3h-1.3zM381.0 613.8h1.3v1.3h-1.3zM379.0 632.9h1.3v1.3h-1.3zM379.6 637.8h1.3v1.3h-1.3zM382.1 633.8h1.3v1.3h-1.3zM386.7 643.4h1.3v1.3h-1.3zM391.9 648.7h1.3v1.3h-1.3zM391.1 616.0h1.3v1.3h-1.3zM398.9 656.4h1.3v1.3h-1.3zM393.4 624.7h1.3v1.3h-1.3zM396.5 614.0h1.3v1.3h-1.3zM404.1 644.4h1.3v1.3h-1.3zM390.1 615.9h1.3v1.3h-1.3zM386.7 638.2h1.3v1.3h-1.3zM390.2 659.9h1.3v1.3h-1.3zM390.4 658.0h1.3v1.3h-1.3zM394.3 647.9h1.3v1.3h-1.3zM374.0 640.5h1.3v1.3h-1.3zM384.6 631.0h1.3v1.3h-1.3zM395.5 657.6h1.3v1.3h-1.3zM372.9 656.5h1.3v1.3h-1.3zM394.8 632.0h1.3v1.3h-1.3zM387.3 641.4h1.3v1.3h-1.3zM391.1 613.3h1.3v1.3h-1.3zM390.6 630.7h1.3v1.3h-1.3zM389.3 626.1h1.3v1.3h-1.3zM377.8 645.0h1.3v1.3h-1.3zM375.7 624.4h1.3v1.3h-1.3zM386.8 620.4h1.3v1.3h-1.3zM385.2 613.5h1.3v1.3h-1.3zM385.2 653.1h1.3v1.3h-1.3zM391.6 632.4h1.3v1.3h-1.3zM373.5 659.3h1.3v1.3h-1.3zM381.4 652.4h1.3v1.3h-1.3zM373.1 650.4h1.3v1.3h-1.3zM379.7 654.5h1.3v1.3h-1.3zM377.5 623.6h1.3v1.3h-1.3zM382.4 638.9h1.3v1.3h-1.3z"/>
<path fill="#a84c38" d="M381.3 615.7h1.3v1.3h-1.3zM379.3 641.8h1.3v1.3h-1.3zM387.4 646.4h1.3v1.3h-1.3zM401.4 642.7h1.3v1.3h-1.3zM383.3 615.2h1.3v1.3h-1.3zM397.7 628.3h1.3v1.3h-1.3zM393.6 627.7h1.3v1.3h-1.3zM395.7 639.7h1.3v1.3h-1.3zM392.6 622.7h1.3v1.3h-1.3zM386.5 614.4h1.3v1.3h-1.3zM388.4 611.9h1.3v1.3h-1.3zM378.3 617.8h1.3v1.3h-1.3zM390.2 652.3h1.3v1.3h-1.3zM375.5 645.4h1.3v1.3h-1.3zM403.1 616.5h1.3v1.3h-1.3zM385.1 641.7h1.3v1.3h-1.3zM381.3 649.4h1.3v1.3h-1.3zM397.0 619.6h1.3v1.3h-1.3zM393.7 622.0h1.3v1.3h-1.3zM381.3 629.4h1.3v1.3h-1.3zM387.2 628.7h1.3v1.3h-1.3zM386.3 658.2h1.3v1.3h-1.3zM389.3 648.1h1.3v1.3h-1.3zM386.9 637.6h1.3v1.3h-1.3zM388.1 633.1h1.3v1.3h-1.3zM384.7 630.0h1.3v1.3h-1.3zM403.6 644.2h1.3v1.3h-1.3zM383.4 623.5h1.3v1.3h-1.3zM387.7 658.6h1.3v1.3h-1.3zM386.4 621.9h1.3v1.3h-1.3zM381.2 641.5h1.3v1.3h-1.3zM384.7 612.6h1.3v1.3h-1.3zM392.6 622.7h1.3v1.3h-1.3zM389.3 635.9h1.3v1.3h-1.3zM387.2 636.1h1.3v1.3h-1.3zM376.0 629.9h1.3v1.3h-1.3zM402.9 632.9h1.3v1.3h-1.3zM396.9 611.7h1.3v1.3h-1.3zM396.6 628.9h1.3v1.3h-1.3zM398.7 636.3h1.3v1.3h-1.3zM394.6 633.5h1.3v1.3h-1.3zM379.5 658.0h1.3v1.3h-1.3zM383.3 649.5h1.3v1.3h-1.3zM377.3 638.4h1.3v1.3h-1.3zM382.8 618.6h1.3v1.3h-1.3zM384.1 633.9h1.3v1.3h-1.3zM395.1 624.6h1.3v1.3h-1.3zM378.1 624.1h1.3v1.3h-1.3zM378.4 614.3h1.3v1.3h-1.3zM381.0 622.4h1.3v1.3h-1.3zM373.1 611.1h1.3v1.3h-1.3zM382.0 621.1h1.3v1.3h-1.3zM394.9 618.3h1.3v1.3h-1.3zM387.0 631.8h1.3v1.3h-1.3zM393.4 617.6h1.3v1.3h-1.3zM386.6 660.1h1.3v1.3h-1.3zM390.9 648.4h1.3v1.3h-1.3zM384.4 648.2h1.3v1.3h-1.3zM390.3 660.5h1.3v1.3h-1.3zM382.2 643.4h1.3v1.3h-1.3zM372.5 638.0h1.3v1.3h-1.3zM372.1 644.7h1.3v1.3h-1.3zM384.7 618.1h1.3v1.3h-1.3zM393.5 654.4h1.3v1.3h-1.3zM382.2 635.3h1.3v1.3h-1.3zM379.8 636.9h1.3v1.3h-1.3zM383.9 644.4h1.3v1.3h-1.3zM384.6 657.6h1.3v1.3h-1.3zM386.1 630.7h1.3v1.3h-1.3zM383.3 611.8h1.3v1.3h-1.3zM387.7 653.3h1.3v1.3h-1.3zM378.0 642.4h1.3v1.3h-1.3zM390.0 656.9h1.3v1.3h-1.3zM381.7 623.0h1.3v1.3h-1.3zM378.2 628.9h1.3v1.3h-1.3zM378.0 632.3h1.3v1.3h-1.3zM394.1 657.1h1.3v1.3h-1.3zM386.0 643.5h1.3v1.3h-1.3zM371.8 621.9h1.3v1.3h-1.3zM382.7 640.5h1.3v1.3h-1.3zM397.3 628.5h1.3v1.3h-1.3zM387.9 637.0h1.3v1.3h-1.3zM396.2 618.7h1.3v1.3h-1.3zM392.9 655.6h1.3v1.3h-1.3zM387.3 645.5h1.3v1.3h-1.3zM385.3 613.8h1.3v1.3h-1.3zM373.9 621.2h1.3v1.3h-1.3zM378.4 639.2h1.3v1.3h-1.3zM390.8 656.9h1.3v1.3h-1.3zM385.4 649.6h1.3v1.3h-1.3zM389.3 614.6h1.3v1.3h-1.3zM384.2 635.5h1.3v1.3h-1.3zM399.8 638.4h1.3v1.3h-1.3zM385.2 652.6h1.3v1.3h-1.3zM381.2 658.8h1.3v1.3h-1.3zM383.4 612.9h1.3v1.3h-1.3zM388.6 648.2h1.3v1.3h-1.3zM387.3 627.3h1.3v1.3h-1.3zM387.0 648.4h1.3v1.3h-1.3zM382.3 644.4h1.3v1.3h-1.3zM380.4 641.0h1.3v1.3h-1.3zM381.0 612.4h1.3v1.3h-1.3zM363.8 640.9h1.3v1.3h-1.3zM389.5 622.2h1.3v1.3h-1.3zM380.3 653.1h1.3v1.3h-1.3zM384.7 658.0h1.3v1.3h-1.3zM377.0 643.9h1.3v1.3h-1.3zM387.8 649.8h1.3v1.3h-1.3zM388.1 628.5h1.3v1.3h-1.3zM388.3 652.9h1.3v1.3h-1.3zM389.9 623.2h1.3v1.3h-1.3zM387.7 621.3h1.3v1.3h-1.3zM395.7 614.6h1.3v1.3h-1.3zM392.9 657.3h1.3v1.3h-1.3zM383.6 654.5h1.3v1.3h-1.3zM399.1 618.3h1.3v1.3h-1.3zM378.1 653.7h1.3v1.3h-1.3zM389.1 641.9h1.3v1.3h-1.3zM395.2 621.7h1.3v1.3h-1.3zM389.9 625.6h1.3v1.3h-1.3zM391.2 623.2h1.3v1.3h-1.3zM375.6 657.3h1.3v1.3h-1.3zM391.8 625.3h1.3v1.3h-1.3zM386.5 659.8h1.3v1.3h-1.3zM377.4 657.1h1.3v1.3h-1.3zM391.3 623.0h1.3v1.3h-1.3zM377.1 653.3h1.3v1.3h-1.3zM399.8 657.8h1.3v1.3h-1.3zM394.1 628.9h1.3v1.3h-1.3zM392.1 613.1h1.3v1.3h-1.3zM387.1 627.3h1.3v1.3h-1.3zM391.3 660.3h1.3v1.3h-1.3zM391.7 620.8h1.3v1.3h-1.3zM378.9 647.1h1.3v1.3h-1.3z"/>
<ellipse cx="386" cy="630" rx="4.5" ry="7" fill="#d83a2a" fill-opacity="0.75" filter="url(#bl4)"/>
<path fill="#c07060" d="M396.5 568.6h1.3v1.3h-1.3zM394.3 560.3h1.3v1.3h-1.3zM391.7 569.0h1.3v1.3h-1.3zM374.5 568.6h1.3v1.3h-1.3zM393.2 571.3h1.3v1.3h-1.3zM401.9 568.9h1.3v1.3h-1.3zM401.1 574.1h1.3v1.3h-1.3zM390.0 562.9h1.3v1.3h-1.3zM394.3 571.0h1.3v1.3h-1.3z"/>
<path fill="#b06048" d="M396.8 570.1h1.3v1.3h-1.3zM399.6 572.9h1.3v1.3h-1.3zM386.2 567.3h1.3v1.3h-1.3zM393.5 576.2h1.3v1.3h-1.3zM393.0 571.5h1.3v1.3h-1.3zM391.6 574.5h1.3v1.3h-1.3zM381.7 578.7h1.3v1.3h-1.3zM397.8 565.9h1.3v1.3h-1.3zM388.1 570.0h1.3v1.3h-1.3zM389.8 567.0h1.3v1.3h-1.3zM394.4 566.6h1.3v1.3h-1.3z"/>
<path fill="#c88070" d="M393.1 569.7h1.3v1.3h-1.3zM397.3 569.6h1.3v1.3h-1.3zM399.0 570.7h1.3v1.3h-1.3zM389.4 567.0h1.3v1.3h-1.3zM391.1 563.6h1.3v1.3h-1.3zM395.9 574.8h1.3v1.3h-1.3zM392.1 572.1h1.3v1.3h-1.3zM394.5 576.5h1.3v1.3h-1.3zM390.3 558.7h1.3v1.3h-1.3zM393.4 576.8h1.3v1.3h-1.3zM391.8 573.4h1.3v1.3h-1.3zM386.5 566.3h1.3v1.3h-1.3zM384.2 583.2h1.3v1.3h-1.3z"/>
<path fill="#dca090" d="M399.4 572.1h1.3v1.3h-1.3zM393.2 574.3h1.3v1.3h-1.3zM390.2 577.4h1.3v1.3h-1.3zM391.7 559.5h1.3v1.3h-1.3zM388.1 568.7h1.3v1.3h-1.3zM391.5 563.9h1.3v1.3h-1.3zM392.8 569.5h1.3v1.3h-1.3zM387.5 571.9h1.3v1.3h-1.3zM395.0 576.0h1.3v1.3h-1.3z"/>
<path fill="#a85a48" d="M387.8 572.2h1.3v1.3h-1.3zM387.9 580.5h1.3v1.3h-1.3zM385.7 575.7h1.3v1.3h-1.3zM395.1 577.3h1.3v1.3h-1.3zM391.2 571.5h1.3v1.3h-1.3z"/>
<path fill="#e0a898" d="M386.3 578.9h1.3v1.3h-1.3zM387.7 572.3h1.3v1.3h-1.3zM384.6 569.7h1.3v1.3h-1.3zM385.0 578.2h1.3v1.3h-1.3zM385.8 578.6h1.3v1.3h-1.3zM393.1 569.0h1.3v1.3h-1.3zM400.8 576.1h1.3v1.3h-1.3zM399.1 577.9h1.3v1.3h-1.3zM398.9 569.6h1.3v1.3h-1.3zM396.9 568.8h1.3v1.3h-1.3zM390.0 574.7h1.3v1.3h-1.3zM388.7 557.0h1.3v1.3h-1.3zM383.2 568.9h1.3v1.3h-1.3zM393.5 562.0h1.3v1.3h-1.3zM391.9 567.4h1.3v1.3h-1.3zM383.3 561.5h1.3v1.3h-1.3zM382.2 572.5h1.3v1.3h-1.3z"/>
<path fill="#c89080" d="M376.9 569.9h1.3v1.3h-1.3zM387.6 579.8h1.3v1.3h-1.3zM405.8 571.6h1.3v1.3h-1.3zM395.3 568.8h1.3v1.3h-1.3zM398.3 573.3h1.3v1.3h-1.3zM399.2 570.2h1.3v1.3h-1.3zM390.9 578.3h1.3v1.3h-1.3z"/>
<path fill="#d08878" d="M397.8 571.6h1.3v1.3h-1.3zM401.0 575.9h1.3v1.3h-1.3zM395.8 564.1h1.3v1.3h-1.3zM386.3 574.4h1.3v1.3h-1.3zM399.0 575.4h1.3v1.3h-1.3zM387.5 575.5h1.3v1.3h-1.3zM391.3 561.7h1.3v1.3h-1.3zM398.7 576.3h1.3v1.3h-1.3zM389.9 572.8h1.3v1.3h-1.3zM400.0 567.3h1.3v1.3h-1.3zM380.7 575.5h1.3v1.3h-1.3zM388.2 572.3h1.3v1.3h-1.3z"/>
<path fill="#b86450" d="M395.5 570.1h1.3v1.3h-1.3zM388.6 570.7h1.3v1.3h-1.3zM401.0 563.4h1.3v1.3h-1.3zM392.6 581.9h1.3v1.3h-1.3zM395.2 574.6h1.3v1.3h-1.3zM399.2 569.0h1.3v1.3h-1.3zM383.5 575.1h1.3v1.3h-1.3z"/>
<ellipse cx="418.5" cy="600" rx="6" ry="9" fill="#b0503e" fill-opacity="0.6" filter="url(#bl4)"/>
<path fill="#b06048" d="M426.1 593.2h1.3v1.3h-1.3zM422.8 591.2h1.3v1.3h-1.3zM422.9 596.2h1.3v1.3h-1.3zM401.9 598.5h1.3v1.3h-1.3zM417.8 573.5h1.3v1.3h-1.3zM424.7 589.7h1.3v1.3h-1.3zM411.6 613.9h1.3v1.3h-1.3zM414.8 599.6h1.3v1.3h-1.3zM418.8 598.6h1.3v1.3h-1.3zM413.1 603.6h1.3v1.3h-1.3zM405.9 616.7h1.3v1.3h-1.3zM415.6 583.4h1.3v1.3h-1.3zM427.8 592.6h1.3v1.3h-1.3zM411.1 614.4h1.3v1.3h-1.3zM413.3 602.2h1.3v1.3h-1.3zM425.3 582.8h1.3v1.3h-1.3zM422.1 609.2h1.3v1.3h-1.3zM414.1 608.5h1.3v1.3h-1.3zM425.3 600.2h1.3v1.3h-1.3zM421.8 601.4h1.3v1.3h-1.3zM416.0 607.4h1.3v1.3h-1.3zM412.0 604.9h1.3v1.3h-1.3zM431.2 578.2h1.3v1.3h-1.3zM426.1 589.1h1.3v1.3h-1.3zM412.9 585.2h1.3v1.3h-1.3zM414.1 615.6h1.3v1.3h-1.3zM419.5 577.8h1.3v1.3h-1.3zM428.8 596.3h1.3v1.3h-1.3zM433.2 606.7h1.3v1.3h-1.3zM419.5 586.1h1.3v1.3h-1.3zM428.2 591.0h1.3v1.3h-1.3zM407.7 599.2h1.3v1.3h-1.3zM423.6 619.3h1.3v1.3h-1.3zM420.8 616.0h1.3v1.3h-1.3zM423.2 606.2h1.3v1.3h-1.3zM424.5 594.4h1.3v1.3h-1.3zM425.0 596.9h1.3v1.3h-1.3z"/>
<path fill="#b85a44" d="M410.6 598.9h1.3v1.3h-1.3zM416.3 585.8h1.3v1.3h-1.3zM423.6 587.9h1.3v1.3h-1.3zM436.2 591.2h1.3v1.3h-1.3zM420.2 603.3h1.3v1.3h-1.3zM413.0 598.1h1.3v1.3h-1.3zM418.6 580.2h1.3v1.3h-1.3zM418.9 590.3h1.3v1.3h-1.3zM425.7 593.1h1.3v1.3h-1.3zM418.3 607.2h1.3v1.3h-1.3zM416.7 588.1h1.3v1.3h-1.3zM423.5 602.0h1.3v1.3h-1.3zM416.8 607.0h1.3v1.3h-1.3zM410.2 612.4h1.3v1.3h-1.3zM430.5 588.9h1.3v1.3h-1.3zM425.4 588.1h1.3v1.3h-1.3zM408.6 610.5h1.3v1.3h-1.3zM406.6 581.6h1.3v1.3h-1.3zM408.9 601.3h1.3v1.3h-1.3zM416.0 578.9h1.3v1.3h-1.3zM420.4 603.3h1.3v1.3h-1.3zM417.7 593.3h1.3v1.3h-1.3zM416.0 591.8h1.3v1.3h-1.3zM416.0 596.8h1.3v1.3h-1.3zM414.8 614.4h1.3v1.3h-1.3zM405.1 595.0h1.3v1.3h-1.3zM402.9 603.5h1.3v1.3h-1.3zM421.7 584.8h1.3v1.3h-1.3zM419.7 615.5h1.3v1.3h-1.3zM422.7 580.8h1.3v1.3h-1.3zM422.8 605.7h1.3v1.3h-1.3zM412.2 614.1h1.3v1.3h-1.3zM409.8 615.9h1.3v1.3h-1.3zM423.9 595.9h1.3v1.3h-1.3zM418.1 600.8h1.3v1.3h-1.3zM420.4 598.1h1.3v1.3h-1.3zM418.1 613.3h1.3v1.3h-1.3zM417.4 602.2h1.3v1.3h-1.3zM422.1 598.7h1.3v1.3h-1.3zM421.4 599.2h1.3v1.3h-1.3zM422.5 597.8h1.3v1.3h-1.3zM425.0 608.3h1.3v1.3h-1.3zM421.4 598.9h1.3v1.3h-1.3zM431.8 596.6h1.3v1.3h-1.3zM429.9 598.0h1.3v1.3h-1.3zM421.1 573.0h1.3v1.3h-1.3zM430.7 583.0h1.3v1.3h-1.3zM412.0 597.8h1.3v1.3h-1.3zM420.6 611.0h1.3v1.3h-1.3zM419.8 600.6h1.3v1.3h-1.3zM411.5 601.1h1.3v1.3h-1.3zM422.9 608.2h1.3v1.3h-1.3z"/>
<path fill="#b44e3a" d="M414.5 597.5h1.3v1.3h-1.3zM418.2 601.9h1.3v1.3h-1.3zM415.2 596.3h1.3v1.3h-1.3zM418.7 599.0h1.3v1.3h-1.3zM415.8 595.1h1.3v1.3h-1.3zM433.1 583.0h1.3v1.3h-1.3zM421.7 592.0h1.3v1.3h-1.3zM420.0 597.0h1.3v1.3h-1.3zM413.5 593.5h1.3v1.3h-1.3zM408.0 600.2h1.3v1.3h-1.3zM429.7 614.0h1.3v1.3h-1.3zM422.8 590.5h1.3v1.3h-1.3zM412.8 600.0h1.3v1.3h-1.3zM418.8 605.8h1.3v1.3h-1.3zM419.4 607.5h1.3v1.3h-1.3zM405.1 638.1h1.3v1.3h-1.3zM410.0 612.2h1.3v1.3h-1.3zM410.7 581.6h1.3v1.3h-1.3zM421.4 600.5h1.3v1.3h-1.3zM431.2 600.2h1.3v1.3h-1.3zM411.1 595.8h1.3v1.3h-1.3zM410.2 606.8h1.3v1.3h-1.3zM432.9 589.4h1.3v1.3h-1.3zM423.9 583.9h1.3v1.3h-1.3zM415.5 578.8h1.3v1.3h-1.3zM407.0 608.9h1.3v1.3h-1.3zM423.6 594.9h1.3v1.3h-1.3zM430.8 598.7h1.3v1.3h-1.3zM430.1 596.3h1.3v1.3h-1.3zM410.6 609.7h1.3v1.3h-1.3zM409.5 606.6h1.3v1.3h-1.3zM416.7 593.9h1.3v1.3h-1.3zM433.0 593.5h1.3v1.3h-1.3zM427.9 568.4h1.3v1.3h-1.3zM410.6 586.5h1.3v1.3h-1.3zM420.4 607.9h1.3v1.3h-1.3zM415.3 594.0h1.3v1.3h-1.3zM418.3 590.2h1.3v1.3h-1.3zM417.4 609.2h1.3v1.3h-1.3zM432.2 591.3h1.3v1.3h-1.3zM415.6 613.7h1.3v1.3h-1.3zM414.5 600.3h1.3v1.3h-1.3zM413.1 615.1h1.3v1.3h-1.3zM428.6 596.5h1.3v1.3h-1.3zM425.5 600.3h1.3v1.3h-1.3zM410.6 592.1h1.3v1.3h-1.3z"/>
<path fill="#a05040" d="M413.6 624.0h1.3v1.3h-1.3zM423.6 602.3h1.3v1.3h-1.3zM423.5 591.7h1.3v1.3h-1.3zM429.5 592.8h1.3v1.3h-1.3zM417.1 590.0h1.3v1.3h-1.3zM421.5 583.8h1.3v1.3h-1.3zM416.4 604.9h1.3v1.3h-1.3zM417.9 603.9h1.3v1.3h-1.3zM425.4 570.6h1.3v1.3h-1.3zM425.5 593.7h1.3v1.3h-1.3zM419.5 602.8h1.3v1.3h-1.3zM408.0 591.1h1.3v1.3h-1.3zM418.6 607.5h1.3v1.3h-1.3zM408.6 622.8h1.3v1.3h-1.3zM405.2 593.7h1.3v1.3h-1.3zM412.6 604.9h1.3v1.3h-1.3zM423.7 620.1h1.3v1.3h-1.3zM410.7 587.4h1.3v1.3h-1.3zM415.7 587.7h1.3v1.3h-1.3zM427.0 596.6h1.3v1.3h-1.3zM427.4 589.1h1.3v1.3h-1.3zM413.3 592.7h1.3v1.3h-1.3zM410.1 600.9h1.3v1.3h-1.3zM424.0 591.7h1.3v1.3h-1.3zM417.9 589.8h1.3v1.3h-1.3zM424.0 593.9h1.3v1.3h-1.3zM423.4 605.4h1.3v1.3h-1.3zM419.0 610.8h1.3v1.3h-1.3zM411.7 605.0h1.3v1.3h-1.3zM407.0 595.1h1.3v1.3h-1.3zM419.1 590.0h1.3v1.3h-1.3zM415.6 597.0h1.3v1.3h-1.3zM420.7 606.6h1.3v1.3h-1.3zM435.0 582.8h1.3v1.3h-1.3zM411.4 604.6h1.3v1.3h-1.3zM418.6 599.1h1.3v1.3h-1.3zM420.2 611.3h1.3v1.3h-1.3zM417.2 601.5h1.3v1.3h-1.3zM411.5 584.3h1.3v1.3h-1.3zM440.0 585.1h1.3v1.3h-1.3z"/>
<path fill="#b0503a" d="M423.2 592.3h1.3v1.3h-1.3zM415.1 598.1h1.3v1.3h-1.3zM417.6 603.7h1.3v1.3h-1.3zM419.6 609.1h1.3v1.3h-1.3zM414.6 619.3h1.3v1.3h-1.3zM420.7 584.3h1.3v1.3h-1.3zM421.4 584.9h1.3v1.3h-1.3zM430.2 605.0h1.3v1.3h-1.3zM417.6 618.8h1.3v1.3h-1.3zM423.1 598.2h1.3v1.3h-1.3zM426.6 586.9h1.3v1.3h-1.3zM412.4 586.0h1.3v1.3h-1.3zM422.9 601.7h1.3v1.3h-1.3zM402.7 620.2h1.3v1.3h-1.3zM415.6 623.5h1.3v1.3h-1.3zM412.2 604.4h1.3v1.3h-1.3zM414.5 610.4h1.3v1.3h-1.3zM433.1 585.8h1.3v1.3h-1.3zM430.0 577.0h1.3v1.3h-1.3zM425.4 581.7h1.3v1.3h-1.3zM427.2 601.9h1.3v1.3h-1.3zM415.9 603.2h1.3v1.3h-1.3zM407.6 605.0h1.3v1.3h-1.3zM416.8 600.9h1.3v1.3h-1.3zM413.5 586.4h1.3v1.3h-1.3zM419.7 603.1h1.3v1.3h-1.3zM427.1 588.9h1.3v1.3h-1.3zM426.1 583.9h1.3v1.3h-1.3zM418.5 591.9h1.3v1.3h-1.3zM405.0 591.1h1.3v1.3h-1.3zM421.1 590.0h1.3v1.3h-1.3zM421.0 614.4h1.3v1.3h-1.3zM423.5 586.1h1.3v1.3h-1.3zM428.5 579.9h1.3v1.3h-1.3zM415.5 601.7h1.3v1.3h-1.3zM415.0 583.2h1.3v1.3h-1.3zM425.5 611.1h1.3v1.3h-1.3zM409.7 591.9h1.3v1.3h-1.3zM424.3 599.7h1.3v1.3h-1.3z"/>
<path fill="#a84c38" d="M422.6 608.4h1.3v1.3h-1.3zM410.4 582.2h1.3v1.3h-1.3zM425.9 585.0h1.3v1.3h-1.3zM416.1 603.8h1.3v1.3h-1.3zM420.5 593.0h1.3v1.3h-1.3zM416.7 612.9h1.3v1.3h-1.3zM411.7 608.8h1.3v1.3h-1.3zM420.7 594.0h1.3v1.3h-1.3zM414.6 611.2h1.3v1.3h-1.3zM413.1 607.2h1.3v1.3h-1.3zM416.8 595.1h1.3v1.3h-1.3zM416.4 598.4h1.3v1.3h-1.3zM420.0 609.6h1.3v1.3h-1.3zM417.3 610.7h1.3v1.3h-1.3zM426.6 587.7h1.3v1.3h-1.3zM421.8 582.7h1.3v1.3h-1.3zM424.9 597.3h1.3v1.3h-1.3zM403.3 608.1h1.3v1.3h-1.3zM424.5 579.2h1.3v1.3h-1.3zM417.7 602.9h1.3v1.3h-1.3zM411.5 593.6h1.3v1.3h-1.3zM412.0 587.2h1.3v1.3h-1.3zM423.4 617.4h1.3v1.3h-1.3zM419.7 623.5h1.3v1.3h-1.3zM421.6 598.2h1.3v1.3h-1.3zM417.6 596.5h1.3v1.3h-1.3zM424.7 573.4h1.3v1.3h-1.3zM429.0 590.8h1.3v1.3h-1.3zM420.8 592.0h1.3v1.3h-1.3zM415.3 607.9h1.3v1.3h-1.3zM420.5 600.9h1.3v1.3h-1.3zM422.1 602.3h1.3v1.3h-1.3zM427.7 604.2h1.3v1.3h-1.3zM417.6 576.7h1.3v1.3h-1.3zM404.3 603.0h1.3v1.3h-1.3zM416.5 607.1h1.3v1.3h-1.3zM414.9 590.4h1.3v1.3h-1.3zM418.8 612.5h1.3v1.3h-1.3zM423.7 591.3h1.3v1.3h-1.3zM424.7 602.2h1.3v1.3h-1.3zM426.9 600.6h1.3v1.3h-1.3zM420.9 619.4h1.3v1.3h-1.3zM422.8 594.2h1.3v1.3h-1.3zM422.1 588.7h1.3v1.3h-1.3zM415.9 607.0h1.3v1.3h-1.3zM419.4 603.9h1.3v1.3h-1.3zM405.0 596.2h1.3v1.3h-1.3zM419.7 586.8h1.3v1.3h-1.3zM426.4 588.2h1.3v1.3h-1.3zM422.5 606.9h1.3v1.3h-1.3zM422.9 600.5h1.3v1.3h-1.3zM414.8 610.1h1.3v1.3h-1.3zM409.6 605.9h1.3v1.3h-1.3zM414.3 601.1h1.3v1.3h-1.3zM411.0 606.4h1.3v1.3h-1.3zM422.9 595.1h1.3v1.3h-1.3z"/>
<path fill="#b86450" d="M396.9 606.1h1.3v1.3h-1.3zM417.4 575.6h1.3v1.3h-1.3zM407.7 592.2h1.3v1.3h-1.3zM414.0 608.3h1.3v1.3h-1.3zM427.6 591.5h1.3v1.3h-1.3zM407.0 587.4h1.3v1.3h-1.3zM411.6 598.3h1.3v1.3h-1.3zM413.5 589.9h1.3v1.3h-1.3zM420.0 599.4h1.3v1.3h-1.3zM419.9 607.7h1.3v1.3h-1.3zM413.0 603.7h1.3v1.3h-1.3zM411.1 601.7h1.3v1.3h-1.3zM422.1 595.2h1.3v1.3h-1.3zM431.5 587.9h1.3v1.3h-1.3zM429.2 590.1h1.3v1.3h-1.3zM419.7 595.5h1.3v1.3h-1.3zM426.0 603.3h1.3v1.3h-1.3zM420.2 590.8h1.3v1.3h-1.3zM412.7 603.1h1.3v1.3h-1.3zM427.2 586.4h1.3v1.3h-1.3zM419.3 591.9h1.3v1.3h-1.3zM429.3 597.8h1.3v1.3h-1.3zM420.2 596.7h1.3v1.3h-1.3zM429.4 599.9h1.3v1.3h-1.3zM405.3 585.0h1.3v1.3h-1.3zM419.5 594.8h1.3v1.3h-1.3zM404.5 592.0h1.3v1.3h-1.3zM411.6 596.7h1.3v1.3h-1.3zM412.3 600.1h1.3v1.3h-1.3zM425.5 598.6h1.3v1.3h-1.3zM422.0 603.3h1.3v1.3h-1.3zM418.1 601.8h1.3v1.3h-1.3zM417.9 594.9h1.3v1.3h-1.3zM423.1 621.5h1.3v1.3h-1.3zM413.5 587.7h1.3v1.3h-1.3zM412.9 611.9h1.3v1.3h-1.3zM416.0 595.0h1.3v1.3h-1.3zM424.8 604.4h1.3v1.3h-1.3zM425.7 582.5h1.3v1.3h-1.3zM417.3 584.5h1.3v1.3h-1.3zM422.5 592.5h1.3v1.3h-1.3zM423.2 597.5h1.3v1.3h-1.3zM418.0 617.8h1.3v1.3h-1.3zM432.1 588.8h1.3v1.3h-1.3zM426.2 608.7h1.3v1.3h-1.3zM417.1 588.6h1.3v1.3h-1.3zM419.2 595.1h1.3v1.3h-1.3zM421.3 583.0h1.3v1.3h-1.3zM408.3 587.7h1.3v1.3h-1.3zM416.5 607.7h1.3v1.3h-1.3zM408.8 593.7h1.3v1.3h-1.3zM409.5 580.0h1.3v1.3h-1.3zM420.5 596.0h1.3v1.3h-1.3zM411.1 574.7h1.3v1.3h-1.3z"/>
<path fill="#a85a48" d="M409.0 604.8h1.3v1.3h-1.3zM415.9 588.2h1.3v1.3h-1.3zM420.6 601.6h1.3v1.3h-1.3zM413.3 600.5h1.3v1.3h-1.3zM416.2 586.7h1.3v1.3h-1.3zM420.9 605.0h1.3v1.3h-1.3zM418.7 591.1h1.3v1.3h-1.3zM411.2 597.5h1.3v1.3h-1.3zM424.5 593.8h1.3v1.3h-1.3zM415.5 592.8h1.3v1.3h-1.3zM417.0 606.7h1.3v1.3h-1.3zM406.8 593.3h1.3v1.3h-1.3zM425.6 613.2h1.3v1.3h-1.3zM408.8 594.7h1.3v1.3h-1.3zM422.2 584.8h1.3v1.3h-1.3zM426.2 576.6h1.3v1.3h-1.3zM413.0 597.9h1.3v1.3h-1.3zM421.4 593.6h1.3v1.3h-1.3zM412.2 600.1h1.3v1.3h-1.3zM433.9 575.7h1.3v1.3h-1.3zM416.0 609.5h1.3v1.3h-1.3zM419.6 615.2h1.3v1.3h-1.3zM426.7 590.3h1.3v1.3h-1.3zM413.6 631.5h1.3v1.3h-1.3zM416.2 599.1h1.3v1.3h-1.3zM410.9 610.9h1.3v1.3h-1.3zM421.7 595.2h1.3v1.3h-1.3zM421.5 591.0h1.3v1.3h-1.3zM426.2 600.9h1.3v1.3h-1.3zM402.2 602.6h1.3v1.3h-1.3zM417.6 601.3h1.3v1.3h-1.3zM415.3 573.3h1.3v1.3h-1.3zM420.6 597.4h1.3v1.3h-1.3zM419.5 605.0h1.3v1.3h-1.3zM413.8 577.7h1.3v1.3h-1.3zM417.5 591.9h1.3v1.3h-1.3zM405.7 608.2h1.3v1.3h-1.3zM421.7 598.9h1.3v1.3h-1.3zM425.0 601.9h1.3v1.3h-1.3zM431.3 574.3h1.3v1.3h-1.3zM421.1 613.2h1.3v1.3h-1.3zM423.5 608.7h1.3v1.3h-1.3zM420.4 583.6h1.3v1.3h-1.3zM413.1 604.8h1.3v1.3h-1.3zM412.0 611.4h1.3v1.3h-1.3zM421.1 565.2h1.3v1.3h-1.3zM416.8 603.5h1.3v1.3h-1.3zM413.2 592.2h1.3v1.3h-1.3zM419.8 605.2h1.3v1.3h-1.3zM415.9 611.6h1.3v1.3h-1.3zM417.5 601.7h1.3v1.3h-1.3zM416.7 606.5h1.3v1.3h-1.3zM415.9 580.2h1.3v1.3h-1.3z"/>
<path fill="#c07060" d="M431.4 598.8h1.3v1.3h-1.3zM418.1 601.6h1.3v1.3h-1.3zM417.8 601.2h1.3v1.3h-1.3zM415.6 597.0h1.3v1.3h-1.3zM417.6 585.6h1.3v1.3h-1.3zM431.6 605.4h1.3v1.3h-1.3zM409.8 575.3h1.3v1.3h-1.3zM415.2 608.9h1.3v1.3h-1.3zM416.4 591.2h1.3v1.3h-1.3zM421.7 609.1h1.3v1.3h-1.3zM430.4 590.1h1.3v1.3h-1.3zM413.0 603.6h1.3v1.3h-1.3zM419.5 599.5h1.3v1.3h-1.3zM417.0 585.8h1.3v1.3h-1.3zM411.9 617.8h1.3v1.3h-1.3zM428.1 580.7h1.3v1.3h-1.3zM417.2 614.6h1.3v1.3h-1.3zM431.5 591.5h1.3v1.3h-1.3zM424.8 596.6h1.3v1.3h-1.3zM415.0 594.8h1.3v1.3h-1.3zM427.2 585.3h1.3v1.3h-1.3zM423.1 586.4h1.3v1.3h-1.3zM423.2 602.7h1.3v1.3h-1.3zM417.1 591.6h1.3v1.3h-1.3zM424.2 597.9h1.3v1.3h-1.3zM413.6 602.3h1.3v1.3h-1.3zM418.0 574.2h1.3v1.3h-1.3zM427.4 600.2h1.3v1.3h-1.3zM417.5 608.0h1.3v1.3h-1.3zM406.1 604.6h1.3v1.3h-1.3zM417.3 598.5h1.3v1.3h-1.3zM408.4 602.6h1.3v1.3h-1.3zM411.1 614.5h1.3v1.3h-1.3zM419.2 603.7h1.3v1.3h-1.3zM421.5 595.8h1.3v1.3h-1.3zM420.6 597.3h1.3v1.3h-1.3zM412.6 598.1h1.3v1.3h-1.3zM419.7 599.0h1.3v1.3h-1.3zM417.1 592.8h1.3v1.3h-1.3zM423.5 583.1h1.3v1.3h-1.3zM431.0 584.3h1.3v1.3h-1.3zM418.0 600.5h1.3v1.3h-1.3zM426.3 603.8h1.3v1.3h-1.3z"/>
<path fill="#b86450" d="M413.1 578.1h1.3v1.3h-1.3zM407.8 594.6h1.3v1.3h-1.3zM408.0 575.0h1.3v1.3h-1.3zM411.2 568.4h1.3v1.3h-1.3zM409.9 584.2h1.3v1.3h-1.3zM404.5 581.9h1.3v1.3h-1.3zM414.7 570.7h1.3v1.3h-1.3zM411.0 579.4h1.3v1.3h-1.3zM408.0 566.1h1.3v1.3h-1.3zM409.4 563.8h1.3v1.3h-1.3zM401.9 570.7h1.3v1.3h-1.3zM406.0 569.9h1.3v1.3h-1.3zM410.8 583.6h1.3v1.3h-1.3zM412.0 582.6h1.3v1.3h-1.3zM410.1 577.5h1.3v1.3h-1.3zM410.0 571.6h1.3v1.3h-1.3zM409.9 571.7h1.3v1.3h-1.3zM404.8 565.8h1.3v1.3h-1.3zM406.9 587.4h1.3v1.3h-1.3zM411.7 584.8h1.3v1.3h-1.3zM409.6 580.2h1.3v1.3h-1.3zM417.5 587.9h1.3v1.3h-1.3zM414.3 580.8h1.3v1.3h-1.3zM413.2 573.2h1.3v1.3h-1.3zM403.2 569.3h1.3v1.3h-1.3zM408.2 560.0h1.3v1.3h-1.3zM408.3 574.4h1.3v1.3h-1.3z"/>
<path fill="#c07060" d="M405.4 572.4h1.3v1.3h-1.3zM408.3 582.2h1.3v1.3h-1.3zM413.5 571.6h1.3v1.3h-1.3zM405.8 576.4h1.3v1.3h-1.3zM408.1 577.4h1.3v1.3h-1.3zM411.8 569.2h1.3v1.3h-1.3zM413.1 564.8h1.3v1.3h-1.3zM404.5 571.3h1.3v1.3h-1.3zM410.9 569.2h1.3v1.3h-1.3zM411.1 582.0h1.3v1.3h-1.3zM406.9 573.2h1.3v1.3h-1.3zM408.5 568.7h1.3v1.3h-1.3zM413.0 581.8h1.3v1.3h-1.3zM410.4 571.7h1.3v1.3h-1.3zM410.5 580.7h1.3v1.3h-1.3zM417.6 573.1h1.3v1.3h-1.3zM410.2 583.5h1.3v1.3h-1.3zM405.5 573.9h1.3v1.3h-1.3zM409.7 577.8h1.3v1.3h-1.3zM404.0 568.2h1.3v1.3h-1.3zM411.7 563.9h1.3v1.3h-1.3zM411.5 572.3h1.3v1.3h-1.3z"/>
<path fill="#b06048" d="M411.1 578.6h1.3v1.3h-1.3zM409.2 573.6h1.3v1.3h-1.3zM410.1 575.8h1.3v1.3h-1.3zM406.4 576.3h1.3v1.3h-1.3zM406.9 580.5h1.3v1.3h-1.3zM399.9 567.6h1.3v1.3h-1.3zM412.0 581.8h1.3v1.3h-1.3zM408.5 573.7h1.3v1.3h-1.3zM411.9 572.0h1.3v1.3h-1.3zM403.3 587.7h1.3v1.3h-1.3zM415.3 582.7h1.3v1.3h-1.3zM407.6 564.0h1.3v1.3h-1.3zM410.2 579.9h1.3v1.3h-1.3zM408.1 584.4h1.3v1.3h-1.3zM413.9 578.2h1.3v1.3h-1.3zM416.7 568.8h1.3v1.3h-1.3zM409.0 578.6h1.3v1.3h-1.3zM409.8 578.3h1.3v1.3h-1.3zM411.0 571.6h1.3v1.3h-1.3zM407.8 577.7h1.3v1.3h-1.3zM409.2 562.7h1.3v1.3h-1.3zM409.2 561.0h1.3v1.3h-1.3zM413.2 573.8h1.3v1.3h-1.3zM401.7 569.6h1.3v1.3h-1.3z"/>
<path fill="#a85a48" d="M404.1 571.5h1.3v1.3h-1.3zM410.5 586.4h1.3v1.3h-1.3zM409.7 588.6h1.3v1.3h-1.3zM411.0 567.1h1.3v1.3h-1.3zM412.5 572.9h1.3v1.3h-1.3zM419.4 588.9h1.3v1.3h-1.3zM410.2 583.6h1.3v1.3h-1.3zM409.6 560.7h1.3v1.3h-1.3zM408.7 567.8h1.3v1.3h-1.3zM413.4 580.4h1.3v1.3h-1.3zM408.7 577.1h1.3v1.3h-1.3zM403.7 576.8h1.3v1.3h-1.3zM412.2 570.8h1.3v1.3h-1.3zM412.1 577.0h1.3v1.3h-1.3zM407.3 562.1h1.3v1.3h-1.3zM410.3 578.9h1.3v1.3h-1.3zM415.2 567.6h1.3v1.3h-1.3z"/>
<path fill="#c89080" d="M422.4 632.2h1.3v1.3h-1.3zM424.2 636.9h1.3v1.3h-1.3zM415.0 619.6h1.3v1.3h-1.3zM418.6 644.3h1.3v1.3h-1.3zM427.7 630.3h1.3v1.3h-1.3zM407.5 629.1h1.3v1.3h-1.3zM424.0 644.2h1.3v1.3h-1.3zM428.7 616.0h1.3v1.3h-1.3zM410.7 643.7h1.3v1.3h-1.3zM408.0 644.6h1.3v1.3h-1.3zM421.9 639.2h1.3v1.3h-1.3zM407.7 634.8h1.3v1.3h-1.3zM404.8 632.2h1.3v1.3h-1.3zM406.8 627.3h1.3v1.3h-1.3zM422.8 612.1h1.3v1.3h-1.3zM416.3 647.7h1.3v1.3h-1.3zM430.5 647.3h1.3v1.3h-1.3z"/>
<path fill="#e0a898" d="M423.6 627.5h1.3v1.3h-1.3zM414.7 644.6h1.3v1.3h-1.3zM431.5 631.9h1.3v1.3h-1.3zM406.3 613.9h1.3v1.3h-1.3zM404.5 629.0h1.3v1.3h-1.3zM420.5 639.8h1.3v1.3h-1.3zM408.6 621.6h1.3v1.3h-1.3zM431.8 639.6h1.3v1.3h-1.3zM404.2 615.6h1.3v1.3h-1.3zM427.3 647.1h1.3v1.3h-1.3zM413.4 643.8h1.3v1.3h-1.3zM428.9 613.8h1.3v1.3h-1.3zM422.5 615.5h1.3v1.3h-1.3zM418.5 612.6h1.3v1.3h-1.3zM429.6 617.6h1.3v1.3h-1.3zM405.5 646.8h1.3v1.3h-1.3zM410.0 635.3h1.3v1.3h-1.3z"/>
<path fill="#dca090" d="M425.8 647.8h1.3v1.3h-1.3zM408.9 621.0h1.3v1.3h-1.3zM423.9 641.0h1.3v1.3h-1.3zM413.4 646.3h1.3v1.3h-1.3zM428.5 632.0h1.3v1.3h-1.3zM423.3 622.8h1.3v1.3h-1.3zM424.8 639.4h1.3v1.3h-1.3zM424.3 631.6h1.3v1.3h-1.3zM420.6 621.9h1.3v1.3h-1.3zM404.4 627.7h1.3v1.3h-1.3z"/>
<path fill="#d08878" d="M423.8 613.2h1.3v1.3h-1.3zM422.8 641.7h1.3v1.3h-1.3zM415.1 626.7h1.3v1.3h-1.3zM412.3 617.3h1.3v1.3h-1.3zM420.4 614.9h1.3v1.3h-1.3zM416.4 621.2h1.3v1.3h-1.3zM409.1 636.4h1.3v1.3h-1.3zM407.9 633.0h1.3v1.3h-1.3zM421.3 645.1h1.3v1.3h-1.3zM411.8 635.2h1.3v1.3h-1.3zM422.0 613.0h1.3v1.3h-1.3zM431.9 632.7h1.3v1.3h-1.3zM414.4 628.9h1.3v1.3h-1.3zM417.7 632.3h1.3v1.3h-1.3zM405.9 623.9h1.3v1.3h-1.3zM430.9 612.8h1.3v1.3h-1.3z"/>
<path fill="#c88070" d="M430.5 635.4h1.3v1.3h-1.3zM421.6 618.0h1.3v1.3h-1.3zM408.8 647.0h1.3v1.3h-1.3zM428.9 627.3h1.3v1.3h-1.3zM409.2 618.9h1.3v1.3h-1.3zM420.9 644.0h1.3v1.3h-1.3zM425.9 635.6h1.3v1.3h-1.3zM408.1 635.8h1.3v1.3h-1.3zM416.9 641.2h1.3v1.3h-1.3zM428.6 639.5h1.3v1.3h-1.3z"/>
<path fill="#c88070" d="M456.0 564.0h1.5v1.5h-1.5z"/>
<path fill="#e0a898" d="M460.0 629.0h1.5v1.5h-1.5zM371.0 587.0h1.5v1.5h-1.5zM368.0 603.0h1.5v1.5h-1.5z"/>
<path fill="#c89080" d="M370.0 576.0h1.5v1.5h-1.5z"/>
</g>
<line x1="351.6" y1="512.7" x2="472.6" y2="512.7" stroke="#444" stroke-width="1.2"/>
<line x1="472.6" y1="512.7" x2="472.6" y2="661.5" stroke="#444" stroke-width="1.2"/>
<line x1="351.6" y1="512.7" x2="351.6" y2="662.5" stroke="#111" stroke-width="2.2"/>
<line x1="350.6" y1="661.5" x2="472.6" y2="661.5" stroke="#111" stroke-width="2.2"/>
<line x1="402.2" y1="512.7" x2="402.2" y2="661.5" stroke="#444" stroke-width="1.2"/>
<line x1="351.6" y1="608.6" x2="472.6" y2="608.6" stroke="#444" stroke-width="1.2"/>
<line x1="347.6" y1="526.5" x2="351.6" y2="526.5" stroke="#222" stroke-width="1.3"/>
<line x1="349.4" y1="550.4" x2="351.6" y2="550.4" stroke="#333" stroke-width="0.9"/>
<line x1="349.4" y1="544.4" x2="351.6" y2="544.4" stroke="#333" stroke-width="0.9"/>
<line x1="349.4" y1="540.1" x2="351.6" y2="540.1" stroke="#333" stroke-width="0.9"/>
<line x1="349.4" y1="536.8" x2="351.6" y2="536.8" stroke="#333" stroke-width="0.9"/>
<line x1="349.4" y1="534.1" x2="351.6" y2="534.1" stroke="#333" stroke-width="0.9"/>
<line x1="349.4" y1="531.8" x2="351.6" y2="531.8" stroke="#333" stroke-width="0.9"/>
<line x1="349.4" y1="529.8" x2="351.6" y2="529.8" stroke="#333" stroke-width="0.9"/>
<line x1="349.4" y1="528.1" x2="351.6" y2="528.1" stroke="#333" stroke-width="0.9"/>
<line x1="347.6" y1="560.7" x2="351.6" y2="560.7" stroke="#222" stroke-width="1.3"/>
<line x1="349.4" y1="585.2" x2="351.6" y2="585.2" stroke="#333" stroke-width="0.9"/>
<line x1="349.4" y1="579.0" x2="351.6" y2="579.0" stroke="#333" stroke-width="0.9"/>
<line x1="349.4" y1="574.6" x2="351.6" y2="574.6" stroke="#333" stroke-width="0.9"/>
<line x1="349.4" y1="571.2" x2="351.6" y2="571.2" stroke="#333" stroke-width="0.9"/>
<line x1="349.4" y1="568.5" x2="351.6" y2="568.5" stroke="#333" stroke-width="0.9"/>
<line x1="349.4" y1="566.1" x2="351.6" y2="566.1" stroke="#333" stroke-width="0.9"/>
<line x1="349.4" y1="564.1" x2="351.6" y2="564.1" stroke="#333" stroke-width="0.9"/>
<line x1="349.4" y1="562.3" x2="351.6" y2="562.3" stroke="#333" stroke-width="0.9"/>
<line x1="347.6" y1="595.7" x2="351.6" y2="595.7" stroke="#222" stroke-width="1.3"/>
<line x1="349.4" y1="619.1" x2="351.6" y2="619.1" stroke="#333" stroke-width="0.9"/>
<line x1="349.4" y1="613.2" x2="351.6" y2="613.2" stroke="#333" stroke-width="0.9"/>
<line x1="349.4" y1="609.0" x2="351.6" y2="609.0" stroke="#333" stroke-width="0.9"/>
<line x1="349.4" y1="605.8" x2="351.6" y2="605.8" stroke="#333" stroke-width="0.9"/>
<line x1="349.4" y1="603.1" x2="351.6" y2="603.1" stroke="#333" stroke-width="0.9"/>
<line x1="349.4" y1="600.9" x2="351.6" y2="600.9" stroke="#333" stroke-width="0.9"/>
<line x1="349.4" y1="598.9" x2="351.6" y2="598.9" stroke="#333" stroke-width="0.9"/>
<line x1="349.4" y1="597.2" x2="351.6" y2="597.2" stroke="#333" stroke-width="0.9"/>
<line x1="347.6" y1="629.2" x2="351.6" y2="629.2" stroke="#222" stroke-width="1.3"/>
<line x1="349.4" y1="651.8" x2="351.6" y2="651.8" stroke="#333" stroke-width="0.9"/>
<line x1="349.4" y1="646.1" x2="351.6" y2="646.1" stroke="#333" stroke-width="0.9"/>
<line x1="349.4" y1="642.1" x2="351.6" y2="642.1" stroke="#333" stroke-width="0.9"/>
<line x1="349.4" y1="638.9" x2="351.6" y2="638.9" stroke="#333" stroke-width="0.9"/>
<line x1="349.4" y1="636.4" x2="351.6" y2="636.4" stroke="#333" stroke-width="0.9"/>
<line x1="349.4" y1="634.2" x2="351.6" y2="634.2" stroke="#333" stroke-width="0.9"/>
<line x1="349.4" y1="632.3" x2="351.6" y2="632.3" stroke="#333" stroke-width="0.9"/>
<line x1="349.4" y1="630.7" x2="351.6" y2="630.7" stroke="#333" stroke-width="0.9"/>
<line x1="347.6" y1="661.5" x2="351.6" y2="661.5" stroke="#222" stroke-width="1.3"/>
<line x1="352.2" y1="661.5" x2="352.2" y2="665.5" stroke="#222" stroke-width="1.3"/>
<line x1="360.6" y1="661.5" x2="360.6" y2="663.7" stroke="#333" stroke-width="0.9"/>
<line x1="365.5" y1="661.5" x2="365.5" y2="663.7" stroke="#333" stroke-width="0.9"/>
<line x1="368.9" y1="661.5" x2="368.9" y2="663.7" stroke="#333" stroke-width="0.9"/>
<line x1="371.6" y1="661.5" x2="371.6" y2="663.7" stroke="#333" stroke-width="0.9"/>
<line x1="373.8" y1="661.5" x2="373.8" y2="663.7" stroke="#333" stroke-width="0.9"/>
<line x1="375.7" y1="661.5" x2="375.7" y2="663.7" stroke="#333" stroke-width="0.9"/>
<line x1="377.3" y1="661.5" x2="377.3" y2="663.7" stroke="#333" stroke-width="0.9"/>
<line x1="378.7" y1="661.5" x2="378.7" y2="663.7" stroke="#333" stroke-width="0.9"/>
<line x1="380.0" y1="661.5" x2="380.0" y2="665.5" stroke="#222" stroke-width="1.3"/>
<line x1="387.7" y1="661.5" x2="387.7" y2="663.7" stroke="#333" stroke-width="0.9"/>
<line x1="392.2" y1="661.5" x2="392.2" y2="663.7" stroke="#333" stroke-width="0.9"/>
<line x1="395.4" y1="661.5" x2="395.4" y2="663.7" stroke="#333" stroke-width="0.9"/>
<line x1="397.8" y1="661.5" x2="397.8" y2="663.7" stroke="#333" stroke-width="0.9"/>
<line x1="399.8" y1="661.5" x2="399.8" y2="663.7" stroke="#333" stroke-width="0.9"/>
<line x1="401.6" y1="661.5" x2="401.6" y2="663.7" stroke="#333" stroke-width="0.9"/>
<line x1="403.0" y1="661.5" x2="403.0" y2="663.7" stroke="#333" stroke-width="0.9"/>
<line x1="404.3" y1="661.5" x2="404.3" y2="663.7" stroke="#333" stroke-width="0.9"/>
<line x1="405.5" y1="661.5" x2="405.5" y2="665.5" stroke="#222" stroke-width="1.3"/>
<line x1="413.8" y1="661.5" x2="413.8" y2="663.7" stroke="#333" stroke-width="0.9"/>
<line x1="418.6" y1="661.5" x2="418.6" y2="663.7" stroke="#333" stroke-width="0.9"/>
<line x1="422.1" y1="661.5" x2="422.1" y2="663.7" stroke="#333" stroke-width="0.9"/>
<line x1="424.7" y1="661.5" x2="424.7" y2="663.7" stroke="#333" stroke-width="0.9"/>
<line x1="426.9" y1="661.5" x2="426.9" y2="663.7" stroke="#333" stroke-width="0.9"/>
<line x1="428.7" y1="661.5" x2="428.7" y2="663.7" stroke="#333" stroke-width="0.9"/>
<line x1="430.3" y1="661.5" x2="430.3" y2="663.7" stroke="#333" stroke-width="0.9"/>
<line x1="431.7" y1="661.5" x2="431.7" y2="663.7" stroke="#333" stroke-width="0.9"/>
<line x1="433.0" y1="661.5" x2="433.0" y2="665.5" stroke="#222" stroke-width="1.3"/>
<line x1="441.3" y1="661.5" x2="441.3" y2="663.7" stroke="#333" stroke-width="0.9"/>
<line x1="446.1" y1="661.5" x2="446.1" y2="663.7" stroke="#333" stroke-width="0.9"/>
<line x1="449.6" y1="661.5" x2="449.6" y2="663.7" stroke="#333" stroke-width="0.9"/>
<line x1="452.2" y1="661.5" x2="452.2" y2="663.7" stroke="#333" stroke-width="0.9"/>
<line x1="454.4" y1="661.5" x2="454.4" y2="663.7" stroke="#333" stroke-width="0.9"/>
<line x1="456.2" y1="661.5" x2="456.2" y2="663.7" stroke="#333" stroke-width="0.9"/>
<line x1="457.8" y1="661.5" x2="457.8" y2="663.7" stroke="#333" stroke-width="0.9"/>
<line x1="459.2" y1="661.5" x2="459.2" y2="663.7" stroke="#333" stroke-width="0.9"/>
<line x1="460.5" y1="661.5" x2="460.5" y2="665.5" stroke="#222" stroke-width="1.3"/>
<text x="336.1" y="539.1" font-size="14.63" fill="#555" text-anchor="end" textLength="12.6" lengthAdjust="spacingAndGlyphs">10</text>
<text x="336.4" y="532.0" font-size="11.13" fill="#555" textLength="5.8" lengthAdjust="spacingAndGlyphs">5</text>
<text x="336.1" y="573.3" font-size="14.63" fill="#555" text-anchor="end" textLength="12.6" lengthAdjust="spacingAndGlyphs">10</text>
<text x="336.4" y="566.2" font-size="11.13" fill="#555" textLength="5.8" lengthAdjust="spacingAndGlyphs">4</text>
<text x="336.1" y="608.3" font-size="14.63" fill="#555" text-anchor="end" textLength="12.6" lengthAdjust="spacingAndGlyphs">10</text>
<text x="336.4" y="601.2" font-size="11.13" fill="#555" textLength="5.8" lengthAdjust="spacingAndGlyphs">3</text>
<text x="336.1" y="641.8" font-size="14.63" fill="#555" text-anchor="end" textLength="12.6" lengthAdjust="spacingAndGlyphs">10</text>
<text x="336.4" y="634.7" font-size="11.13" fill="#555" textLength="5.8" lengthAdjust="spacingAndGlyphs">2</text>
<text x="336.1" y="674.1" font-size="14.63" fill="#555" text-anchor="end" textLength="12.6" lengthAdjust="spacingAndGlyphs">10</text>
<text x="336.4" y="667.0" font-size="11.13" fill="#555" textLength="5.8" lengthAdjust="spacingAndGlyphs">1</text>
<text x="351.8" y="690.6" font-size="14.63" fill="#555" text-anchor="end" textLength="14.6" lengthAdjust="spacingAndGlyphs">10</text>
<text x="351.3" y="682.5" font-size="11.13" fill="#555" textLength="5.8" lengthAdjust="spacingAndGlyphs">1</text>
<text x="379.6" y="690.6" font-size="14.63" fill="#555" text-anchor="end" textLength="14.6" lengthAdjust="spacingAndGlyphs">10</text>
<text x="379.1" y="682.5" font-size="11.13" fill="#555" textLength="5.8" lengthAdjust="spacingAndGlyphs">2</text>
<text x="405.1" y="690.6" font-size="14.63" fill="#555" text-anchor="end" textLength="14.6" lengthAdjust="spacingAndGlyphs">10</text>
<text x="404.6" y="682.5" font-size="11.13" fill="#555" textLength="5.8" lengthAdjust="spacingAndGlyphs">3</text>
<text x="432.6" y="690.6" font-size="14.63" fill="#555" text-anchor="end" textLength="14.6" lengthAdjust="spacingAndGlyphs">10</text>
<text x="432.1" y="682.5" font-size="11.13" fill="#555" textLength="5.8" lengthAdjust="spacingAndGlyphs">4</text>
<text x="460.1" y="690.6" font-size="14.63" fill="#555" text-anchor="end" textLength="14.6" lengthAdjust="spacingAndGlyphs">10</text>
<text x="459.6" y="682.5" font-size="11.13" fill="#555" textLength="5.8" lengthAdjust="spacingAndGlyphs">5</text>
<text x="310.5" y="587.4" font-size="12.8" fill="#666" text-anchor="middle" textLength="31.8" lengthAdjust="spacingAndGlyphs" transform="rotate(-90 310.5 587.4)">CD1d</text>
<text x="411.7" y="697.2" font-size="13.57" fill="#666" text-anchor="middle" textLength="33.4" lengthAdjust="spacingAndGlyphs">CD19</text>
<text x="352.7" y="529.4" font-size="16.75" fill="#6a6a6a" textLength="45.3" lengthAdjust="spacingAndGlyphs">1.07%</text>
<text x="428.4" y="529.4" font-size="16.75" fill="#6a6a6a" textLength="46.1" lengthAdjust="spacingAndGlyphs">5.56%</text>
<text x="352.7" y="655.1" font-size="16.75" fill="#6a6a6a" textLength="52.6" lengthAdjust="spacingAndGlyphs">88.12%</text>
<text x="431.9" y="655.1" font-size="16.75" fill="#6a6a6a" textLength="45.0" lengthAdjust="spacingAndGlyphs">5.25%</text>
<clipPath id="cp3"><rect x="179.5" y="746.2" width="121" height="149.3"/></clipPath>
<g clip-path="url(#cp3)">
<path fill="#b86450" d="M199.0 886.6h1.3v1.3h-1.3zM190.5 874.5h1.3v1.3h-1.3zM191.0 890.5h1.3v1.3h-1.3zM186.6 880.8h1.3v1.3h-1.3zM207.0 885.5h1.3v1.3h-1.3zM192.9 882.8h1.3v1.3h-1.3zM192.9 877.2h1.3v1.3h-1.3zM212.3 876.3h1.3v1.3h-1.3zM193.8 885.7h1.3v1.3h-1.3zM210.1 880.6h1.3v1.3h-1.3zM200.1 879.8h1.3v1.3h-1.3zM200.7 879.9h1.3v1.3h-1.3zM203.7 889.2h1.3v1.3h-1.3zM184.2 891.6h1.3v1.3h-1.3zM192.4 876.6h1.3v1.3h-1.3zM191.8 890.9h1.3v1.3h-1.3zM187.1 875.2h1.3v1.3h-1.3zM185.3 875.8h1.3v1.3h-1.3zM190.2 876.1h1.3v1.3h-1.3zM199.1 890.9h1.3v1.3h-1.3zM200.0 878.9h1.3v1.3h-1.3zM192.8 892.6h1.3v1.3h-1.3zM194.2 890.7h1.3v1.3h-1.3zM205.3 882.4h1.3v1.3h-1.3zM193.8 875.0h1.3v1.3h-1.3zM207.6 882.8h1.3v1.3h-1.3zM205.2 890.4h1.3v1.3h-1.3zM196.2 894.0h1.3v1.3h-1.3zM199.0 875.2h1.3v1.3h-1.3zM213.8 883.3h1.3v1.3h-1.3zM183.4 889.1h1.3v1.3h-1.3zM180.0 887.3h1.3v1.3h-1.3zM174.2 887.8h1.3v1.3h-1.3zM210.1 874.4h1.3v1.3h-1.3zM197.9 881.0h1.3v1.3h-1.3zM208.3 885.2h1.3v1.3h-1.3zM219.2 880.6h1.3v1.3h-1.3zM177.4 878.5h1.3v1.3h-1.3zM198.4 888.2h1.3v1.3h-1.3zM176.5 881.0h1.3v1.3h-1.3zM198.5 882.8h1.3v1.3h-1.3zM200.3 883.7h1.3v1.3h-1.3zM198.3 879.5h1.3v1.3h-1.3zM207.9 879.5h1.3v1.3h-1.3zM194.5 891.6h1.3v1.3h-1.3zM198.1 890.9h1.3v1.3h-1.3zM207.9 888.7h1.3v1.3h-1.3z"/>
<path fill="#dca090" d="M192.2 885.2h1.3v1.3h-1.3zM210.1 893.8h1.3v1.3h-1.3zM196.8 879.0h1.3v1.3h-1.3zM196.8 891.1h1.3v1.3h-1.3zM194.2 892.2h1.3v1.3h-1.3zM201.4 894.0h1.3v1.3h-1.3zM195.0 891.8h1.3v1.3h-1.3zM199.2 884.9h1.3v1.3h-1.3zM207.5 893.1h1.3v1.3h-1.3zM208.8 878.2h1.3v1.3h-1.3zM199.3 880.2h1.3v1.3h-1.3zM189.3 879.8h1.3v1.3h-1.3zM204.2 876.2h1.3v1.3h-1.3zM214.9 889.3h1.3v1.3h-1.3zM205.1 887.2h1.3v1.3h-1.3zM198.1 878.7h1.3v1.3h-1.3zM200.0 888.3h1.3v1.3h-1.3zM191.7 887.9h1.3v1.3h-1.3zM196.8 894.4h1.3v1.3h-1.3zM193.2 890.6h1.3v1.3h-1.3zM204.1 892.6h1.3v1.3h-1.3zM188.7 879.5h1.3v1.3h-1.3zM211.1 881.4h1.3v1.3h-1.3zM194.3 884.1h1.3v1.3h-1.3zM188.5 878.1h1.3v1.3h-1.3zM208.7 876.6h1.3v1.3h-1.3zM194.2 877.6h1.3v1.3h-1.3zM220.0 879.5h1.3v1.3h-1.3zM202.6 885.5h1.3v1.3h-1.3zM213.7 874.2h1.3v1.3h-1.3zM179.9 891.7h1.3v1.3h-1.3zM200.4 886.4h1.3v1.3h-1.3zM203.6 889.8h1.3v1.3h-1.3zM197.2 893.4h1.3v1.3h-1.3zM182.9 877.9h1.3v1.3h-1.3zM190.6 892.4h1.3v1.3h-1.3zM201.3 877.2h1.3v1.3h-1.3zM200.0 894.1h1.3v1.3h-1.3zM214.2 890.9h1.3v1.3h-1.3zM202.6 882.2h1.3v1.3h-1.3zM186.8 894.1h1.3v1.3h-1.3zM198.1 892.7h1.3v1.3h-1.3zM189.2 891.0h1.3v1.3h-1.3zM200.5 878.2h1.3v1.3h-1.3zM178.4 892.2h1.3v1.3h-1.3zM204.1 894.4h1.3v1.3h-1.3zM196.6 894.6h1.3v1.3h-1.3zM198.3 883.0h1.3v1.3h-1.3zM193.6 885.7h1.3v1.3h-1.3zM201.3 892.3h1.3v1.3h-1.3zM200.1 879.6h1.3v1.3h-1.3zM192.5 887.9h1.3v1.3h-1.3zM209.1 888.7h1.3v1.3h-1.3zM206.4 890.3h1.3v1.3h-1.3z"/>
<path fill="#c07060" d="M202.8 893.9h1.3v1.3h-1.3zM192.7 876.7h1.3v1.3h-1.3zM183.9 881.1h1.3v1.3h-1.3zM191.1 884.4h1.3v1.3h-1.3zM199.9 876.6h1.3v1.3h-1.3zM186.4 884.2h1.3v1.3h-1.3zM216.3 878.4h1.3v1.3h-1.3zM192.1 891.7h1.3v1.3h-1.3zM214.7 875.8h1.3v1.3h-1.3zM193.9 886.4h1.3v1.3h-1.3zM194.2 889.9h1.3v1.3h-1.3zM213.4 879.7h1.3v1.3h-1.3zM190.6 889.2h1.3v1.3h-1.3zM211.8 877.1h1.3v1.3h-1.3zM209.7 894.2h1.3v1.3h-1.3zM192.3 889.9h1.3v1.3h-1.3zM189.8 877.9h1.3v1.3h-1.3zM184.7 881.0h1.3v1.3h-1.3zM195.6 891.4h1.3v1.3h-1.3zM205.6 879.8h1.3v1.3h-1.3zM198.9 885.8h1.3v1.3h-1.3zM213.2 875.3h1.3v1.3h-1.3zM206.8 887.0h1.3v1.3h-1.3zM184.9 881.3h1.3v1.3h-1.3zM193.8 875.2h1.3v1.3h-1.3zM198.5 874.6h1.3v1.3h-1.3zM201.7 894.7h1.3v1.3h-1.3zM205.6 890.8h1.3v1.3h-1.3zM209.3 894.0h1.3v1.3h-1.3zM202.1 877.2h1.3v1.3h-1.3zM195.6 881.0h1.3v1.3h-1.3zM209.2 889.7h1.3v1.3h-1.3zM192.6 884.0h1.3v1.3h-1.3zM206.3 875.7h1.3v1.3h-1.3zM198.8 894.4h1.3v1.3h-1.3zM199.3 893.3h1.3v1.3h-1.3zM190.4 878.5h1.3v1.3h-1.3zM184.1 879.7h1.3v1.3h-1.3zM195.6 878.9h1.3v1.3h-1.3zM215.1 880.0h1.3v1.3h-1.3zM198.0 875.3h1.3v1.3h-1.3zM202.1 883.8h1.3v1.3h-1.3zM178.4 881.2h1.3v1.3h-1.3zM210.2 879.6h1.3v1.3h-1.3zM187.1 875.3h1.3v1.3h-1.3zM209.5 890.9h1.3v1.3h-1.3zM203.4 881.8h1.3v1.3h-1.3zM195.1 878.0h1.3v1.3h-1.3zM196.1 890.0h1.3v1.3h-1.3zM211.6 891.1h1.3v1.3h-1.3zM202.6 889.2h1.3v1.3h-1.3zM206.3 874.1h1.3v1.3h-1.3zM190.9 880.0h1.3v1.3h-1.3zM196.8 889.7h1.3v1.3h-1.3zM187.4 883.4h1.3v1.3h-1.3z"/>
<path fill="#b06048" d="M208.6 877.1h1.3v1.3h-1.3zM219.0 881.7h1.3v1.3h-1.3zM193.4 879.6h1.3v1.3h-1.3zM210.4 879.3h1.3v1.3h-1.3zM207.9 881.1h1.3v1.3h-1.3zM187.1 878.8h1.3v1.3h-1.3zM197.9 879.8h1.3v1.3h-1.3zM208.8 886.1h1.3v1.3h-1.3zM200.1 894.2h1.3v1.3h-1.3zM201.7 879.3h1.3v1.3h-1.3zM201.0 885.2h1.3v1.3h-1.3zM198.2 888.3h1.3v1.3h-1.3zM197.0 889.3h1.3v1.3h-1.3zM173.4 881.3h1.3v1.3h-1.3zM174.5 888.6h1.3v1.3h-1.3zM190.9 880.9h1.3v1.3h-1.3zM210.1 894.8h1.3v1.3h-1.3zM195.4 877.1h1.3v1.3h-1.3zM200.3 886.5h1.3v1.3h-1.3zM200.5 891.9h1.3v1.3h-1.3zM205.9 881.7h1.3v1.3h-1.3zM203.6 892.0h1.3v1.3h-1.3zM199.9 894.9h1.3v1.3h-1.3zM210.3 889.3h1.3v1.3h-1.3zM211.5 882.0h1.3v1.3h-1.3zM198.3 884.1h1.3v1.3h-1.3zM196.9 874.9h1.3v1.3h-1.3zM191.9 892.9h1.3v1.3h-1.3zM202.5 886.0h1.3v1.3h-1.3zM206.5 886.1h1.3v1.3h-1.3zM185.7 886.1h1.3v1.3h-1.3zM189.8 877.7h1.3v1.3h-1.3zM197.0 891.9h1.3v1.3h-1.3zM181.7 877.0h1.3v1.3h-1.3zM204.3 889.3h1.3v1.3h-1.3zM211.6 892.1h1.3v1.3h-1.3zM184.5 891.1h1.3v1.3h-1.3zM189.7 882.3h1.3v1.3h-1.3zM183.8 875.3h1.3v1.3h-1.3zM193.7 875.5h1.3v1.3h-1.3zM202.1 888.8h1.3v1.3h-1.3zM191.4 886.1h1.3v1.3h-1.3zM230.3 888.8h1.3v1.3h-1.3zM193.7 887.9h1.3v1.3h-1.3zM199.1 892.7h1.3v1.3h-1.3zM211.2 881.6h1.3v1.3h-1.3zM192.3 887.0h1.3v1.3h-1.3zM206.6 877.2h1.3v1.3h-1.3zM195.3 892.8h1.3v1.3h-1.3zM216.5 887.7h1.3v1.3h-1.3zM190.6 886.5h1.3v1.3h-1.3zM181.0 881.7h1.3v1.3h-1.3zM187.5 875.1h1.3v1.3h-1.3zM212.8 891.8h1.3v1.3h-1.3zM200.2 883.9h1.3v1.3h-1.3zM198.2 886.7h1.3v1.3h-1.3zM204.0 885.5h1.3v1.3h-1.3zM195.2 892.7h1.3v1.3h-1.3zM192.3 893.9h1.3v1.3h-1.3zM196.1 890.5h1.3v1.3h-1.3zM201.8 877.2h1.3v1.3h-1.3zM201.6 876.7h1.3v1.3h-1.3zM196.4 890.2h1.3v1.3h-1.3zM216.3 876.7h1.3v1.3h-1.3zM201.0 876.3h1.3v1.3h-1.3zM200.0 881.1h1.3v1.3h-1.3zM199.7 884.4h1.3v1.3h-1.3z"/>
<path fill="#d08878" d="M184.2 894.3h1.3v1.3h-1.3zM203.7 888.1h1.3v1.3h-1.3zM189.7 879.4h1.3v1.3h-1.3zM205.0 882.2h1.3v1.3h-1.3zM193.3 878.4h1.3v1.3h-1.3zM210.7 877.9h1.3v1.3h-1.3zM193.3 885.2h1.3v1.3h-1.3zM218.0 877.9h1.3v1.3h-1.3zM189.4 884.8h1.3v1.3h-1.3zM210.2 887.8h1.3v1.3h-1.3zM194.4 892.6h1.3v1.3h-1.3zM193.3 888.5h1.3v1.3h-1.3zM195.7 875.2h1.3v1.3h-1.3zM207.0 877.9h1.3v1.3h-1.3zM204.5 885.3h1.3v1.3h-1.3zM206.0 894.5h1.3v1.3h-1.3zM205.2 878.8h1.3v1.3h-1.3zM196.2 890.0h1.3v1.3h-1.3zM210.1 877.3h1.3v1.3h-1.3zM191.9 883.2h1.3v1.3h-1.3zM200.4 891.9h1.3v1.3h-1.3zM202.1 893.5h1.3v1.3h-1.3zM209.3 891.7h1.3v1.3h-1.3zM202.6 894.9h1.3v1.3h-1.3zM197.7 883.0h1.3v1.3h-1.3zM199.9 890.2h1.3v1.3h-1.3zM196.5 882.8h1.3v1.3h-1.3zM193.3 890.2h1.3v1.3h-1.3zM189.2 884.9h1.3v1.3h-1.3zM188.4 890.4h1.3v1.3h-1.3zM208.9 874.7h1.3v1.3h-1.3zM188.7 892.3h1.3v1.3h-1.3zM195.8 880.4h1.3v1.3h-1.3zM193.6 884.0h1.3v1.3h-1.3zM190.5 892.3h1.3v1.3h-1.3zM176.5 888.7h1.3v1.3h-1.3zM210.3 876.3h1.3v1.3h-1.3zM185.9 886.7h1.3v1.3h-1.3zM185.7 887.8h1.3v1.3h-1.3zM218.0 880.9h1.3v1.3h-1.3zM208.0 887.3h1.3v1.3h-1.3zM195.4 883.6h1.3v1.3h-1.3zM202.1 892.7h1.3v1.3h-1.3zM168.7 890.9h1.3v1.3h-1.3zM215.1 878.1h1.3v1.3h-1.3zM186.6 875.8h1.3v1.3h-1.3zM187.5 890.1h1.3v1.3h-1.3zM203.6 889.9h1.3v1.3h-1.3zM199.0 890.2h1.3v1.3h-1.3zM194.9 892.0h1.3v1.3h-1.3z"/>
<path fill="#a85a48" d="M210.2 881.2h1.3v1.3h-1.3zM201.6 894.2h1.3v1.3h-1.3zM188.3 894.9h1.3v1.3h-1.3zM185.7 894.6h1.3v1.3h-1.3zM189.9 877.2h1.3v1.3h-1.3zM204.5 892.7h1.3v1.3h-1.3zM196.4 890.7h1.3v1.3h-1.3zM199.0 877.1h1.3v1.3h-1.3zM211.3 887.3h1.3v1.3h-1.3zM192.8 874.1h1.3v1.3h-1.3zM220.2 884.9h1.3v1.3h-1.3zM189.8 886.2h1.3v1.3h-1.3zM202.2 884.3h1.3v1.3h-1.3zM200.7 891.4h1.3v1.3h-1.3zM195.9 891.9h1.3v1.3h-1.3zM208.9 878.8h1.3v1.3h-1.3zM201.3 891.0h1.3v1.3h-1.3zM192.9 887.6h1.3v1.3h-1.3zM199.7 883.8h1.3v1.3h-1.3zM207.1 883.3h1.3v1.3h-1.3zM203.9 885.6h1.3v1.3h-1.3zM204.1 878.1h1.3v1.3h-1.3zM186.2 885.2h1.3v1.3h-1.3zM207.9 888.8h1.3v1.3h-1.3zM204.4 891.0h1.3v1.3h-1.3zM200.1 894.5h1.3v1.3h-1.3zM211.5 889.4h1.3v1.3h-1.3zM213.3 875.4h1.3v1.3h-1.3zM181.3 890.8h1.3v1.3h-1.3zM208.8 887.5h1.3v1.3h-1.3zM195.8 890.7h1.3v1.3h-1.3zM198.4 893.9h1.3v1.3h-1.3zM211.5 887.4h1.3v1.3h-1.3zM195.9 891.9h1.3v1.3h-1.3zM191.3 874.7h1.3v1.3h-1.3zM202.3 893.8h1.3v1.3h-1.3zM193.8 882.6h1.3v1.3h-1.3zM184.7 889.5h1.3v1.3h-1.3zM199.4 892.1h1.3v1.3h-1.3zM206.9 882.3h1.3v1.3h-1.3zM200.3 876.9h1.3v1.3h-1.3zM193.8 880.7h1.3v1.3h-1.3zM195.7 879.8h1.3v1.3h-1.3zM189.2 889.3h1.3v1.3h-1.3zM190.2 890.4h1.3v1.3h-1.3zM191.6 881.9h1.3v1.3h-1.3zM195.8 893.6h1.3v1.3h-1.3zM189.8 880.1h1.3v1.3h-1.3zM204.5 874.0h1.3v1.3h-1.3zM217.2 883.2h1.3v1.3h-1.3z"/>
<path fill="#c89080" d="M208.0 891.4h1.3v1.3h-1.3zM197.2 883.2h1.3v1.3h-1.3zM193.0 878.2h1.3v1.3h-1.3zM206.5 885.6h1.3v1.3h-1.3zM206.4 876.1h1.3v1.3h-1.3zM205.0 882.0h1.3v1.3h-1.3zM205.3 877.9h1.3v1.3h-1.3zM198.6 889.4h1.3v1.3h-1.3zM191.5 880.8h1.3v1.3h-1.3zM208.2 885.6h1.3v1.3h-1.3zM198.3 890.1h1.3v1.3h-1.3zM194.3 876.2h1.3v1.3h-1.3zM194.7 880.9h1.3v1.3h-1.3zM194.5 878.5h1.3v1.3h-1.3zM197.5 891.3h1.3v1.3h-1.3zM192.4 888.4h1.3v1.3h-1.3zM209.2 880.3h1.3v1.3h-1.3zM198.7 880.6h1.3v1.3h-1.3zM180.5 892.9h1.3v1.3h-1.3zM190.3 874.9h1.3v1.3h-1.3zM227.9 894.3h1.3v1.3h-1.3zM203.8 886.1h1.3v1.3h-1.3zM193.3 890.1h1.3v1.3h-1.3zM197.3 894.7h1.3v1.3h-1.3zM194.2 874.8h1.3v1.3h-1.3zM178.2 878.2h1.3v1.3h-1.3zM192.4 881.9h1.3v1.3h-1.3zM192.5 885.7h1.3v1.3h-1.3zM184.3 884.1h1.3v1.3h-1.3zM199.1 893.8h1.3v1.3h-1.3zM202.8 880.1h1.3v1.3h-1.3zM194.2 875.5h1.3v1.3h-1.3zM182.3 874.2h1.3v1.3h-1.3zM198.0 875.2h1.3v1.3h-1.3zM204.3 881.7h1.3v1.3h-1.3zM199.0 893.2h1.3v1.3h-1.3zM193.6 876.3h1.3v1.3h-1.3zM195.6 885.0h1.3v1.3h-1.3zM212.8 881.8h1.3v1.3h-1.3zM198.3 894.8h1.3v1.3h-1.3zM198.0 884.6h1.3v1.3h-1.3zM213.3 892.2h1.3v1.3h-1.3zM199.9 891.4h1.3v1.3h-1.3zM202.5 892.4h1.3v1.3h-1.3zM206.0 894.8h1.3v1.3h-1.3zM197.9 893.2h1.3v1.3h-1.3zM195.7 892.8h1.3v1.3h-1.3zM211.9 874.5h1.3v1.3h-1.3zM206.1 888.7h1.3v1.3h-1.3zM209.9 894.6h1.3v1.3h-1.3zM210.7 879.8h1.3v1.3h-1.3zM209.5 874.2h1.3v1.3h-1.3zM202.9 885.1h1.3v1.3h-1.3zM189.3 894.0h1.3v1.3h-1.3zM203.9 892.3h1.3v1.3h-1.3zM185.3 881.3h1.3v1.3h-1.3zM201.9 878.8h1.3v1.3h-1.3zM188.0 880.1h1.3v1.3h-1.3zM204.0 889.4h1.3v1.3h-1.3z"/>
<path fill="#e0a898" d="M205.0 881.3h1.3v1.3h-1.3zM194.8 882.0h1.3v1.3h-1.3zM199.6 887.1h1.3v1.3h-1.3zM209.7 878.3h1.3v1.3h-1.3zM204.9 884.8h1.3v1.3h-1.3zM202.1 880.5h1.3v1.3h-1.3zM208.3 884.7h1.3v1.3h-1.3zM203.5 879.1h1.3v1.3h-1.3zM205.7 884.9h1.3v1.3h-1.3zM203.7 892.4h1.3v1.3h-1.3zM210.9 880.5h1.3v1.3h-1.3zM198.1 890.3h1.3v1.3h-1.3zM198.8 894.7h1.3v1.3h-1.3zM191.0 889.1h1.3v1.3h-1.3zM199.9 894.6h1.3v1.3h-1.3zM191.4 882.7h1.3v1.3h-1.3zM194.3 874.3h1.3v1.3h-1.3zM199.5 878.4h1.3v1.3h-1.3zM189.3 889.5h1.3v1.3h-1.3zM194.1 893.8h1.3v1.3h-1.3zM205.9 882.1h1.3v1.3h-1.3zM192.3 882.7h1.3v1.3h-1.3zM208.7 886.9h1.3v1.3h-1.3zM199.0 891.9h1.3v1.3h-1.3zM203.7 887.0h1.3v1.3h-1.3zM202.3 884.0h1.3v1.3h-1.3zM203.1 882.0h1.3v1.3h-1.3zM201.4 885.1h1.3v1.3h-1.3zM210.7 885.3h1.3v1.3h-1.3zM189.2 875.9h1.3v1.3h-1.3zM185.5 878.5h1.3v1.3h-1.3zM197.6 888.2h1.3v1.3h-1.3zM192.9 885.0h1.3v1.3h-1.3zM190.3 879.7h1.3v1.3h-1.3zM193.1 881.7h1.3v1.3h-1.3zM193.7 891.9h1.3v1.3h-1.3zM201.9 880.9h1.3v1.3h-1.3zM214.4 892.4h1.3v1.3h-1.3zM200.4 879.2h1.3v1.3h-1.3zM202.5 887.2h1.3v1.3h-1.3zM207.9 883.0h1.3v1.3h-1.3zM205.3 886.5h1.3v1.3h-1.3zM201.9 875.3h1.3v1.3h-1.3zM197.3 879.7h1.3v1.3h-1.3zM204.0 880.6h1.3v1.3h-1.3zM205.9 887.9h1.3v1.3h-1.3zM174.1 882.1h1.3v1.3h-1.3zM204.3 876.5h1.3v1.3h-1.3zM208.2 876.2h1.3v1.3h-1.3zM183.3 881.2h1.3v1.3h-1.3zM204.5 889.1h1.3v1.3h-1.3zM184.2 888.7h1.3v1.3h-1.3z"/>
<path fill="#c88070" d="M208.8 875.8h1.3v1.3h-1.3zM204.8 876.0h1.3v1.3h-1.3zM188.0 880.0h1.3v1.3h-1.3zM219.2 892.7h1.3v1.3h-1.3zM206.6 893.2h1.3v1.3h-1.3zM192.6 885.1h1.3v1.3h-1.3zM192.8 875.8h1.3v1.3h-1.3zM195.5 883.5h1.3v1.3h-1.3zM198.0 892.9h1.3v1.3h-1.3zM188.8 877.5h1.3v1.3h-1.3zM197.7 885.6h1.3v1.3h-1.3zM206.3 894.7h1.3v1.3h-1.3zM195.4 893.1h1.3v1.3h-1.3zM194.0 887.2h1.3v1.3h-1.3zM200.9 888.1h1.3v1.3h-1.3zM215.2 879.2h1.3v1.3h-1.3zM187.8 876.5h1.3v1.3h-1.3zM191.8 877.2h1.3v1.3h-1.3zM197.3 874.5h1.3v1.3h-1.3zM188.5 882.7h1.3v1.3h-1.3zM186.9 888.7h1.3v1.3h-1.3zM200.2 889.2h1.3v1.3h-1.3zM192.7 877.7h1.3v1.3h-1.3zM195.8 893.5h1.3v1.3h-1.3zM202.4 890.1h1.3v1.3h-1.3zM193.0 890.1h1.3v1.3h-1.3zM202.0 876.4h1.3v1.3h-1.3zM196.1 879.7h1.3v1.3h-1.3zM187.8 892.3h1.3v1.3h-1.3zM207.9 881.7h1.3v1.3h-1.3zM212.7 891.8h1.3v1.3h-1.3zM222.2 883.6h1.3v1.3h-1.3zM176.1 876.4h1.3v1.3h-1.3zM194.2 891.4h1.3v1.3h-1.3zM195.9 885.9h1.3v1.3h-1.3zM201.1 885.2h1.3v1.3h-1.3zM207.9 887.8h1.3v1.3h-1.3zM197.2 888.2h1.3v1.3h-1.3zM188.8 888.2h1.3v1.3h-1.3zM185.7 879.9h1.3v1.3h-1.3zM186.8 889.0h1.3v1.3h-1.3zM200.9 894.3h1.3v1.3h-1.3zM199.3 877.4h1.3v1.3h-1.3zM207.4 892.4h1.3v1.3h-1.3zM207.9 874.7h1.3v1.3h-1.3zM228.0 880.5h1.3v1.3h-1.3zM196.6 883.1h1.3v1.3h-1.3zM218.6 894.4h1.3v1.3h-1.3zM211.4 876.1h1.3v1.3h-1.3zM191.1 876.2h1.3v1.3h-1.3zM203.0 881.7h1.3v1.3h-1.3zM216.0 885.3h1.3v1.3h-1.3zM213.9 876.3h1.3v1.3h-1.3zM191.0 894.8h1.3v1.3h-1.3zM196.4 889.6h1.3v1.3h-1.3zM188.6 891.8h1.3v1.3h-1.3zM209.9 890.4h1.3v1.3h-1.3zM197.5 884.4h1.3v1.3h-1.3zM194.3 886.6h1.3v1.3h-1.3zM192.5 888.3h1.3v1.3h-1.3zM200.5 882.1h1.3v1.3h-1.3zM200.2 883.8h1.3v1.3h-1.3zM183.1 887.1h1.3v1.3h-1.3zM191.4 890.1h1.3v1.3h-1.3zM193.9 891.8h1.3v1.3h-1.3zM197.3 874.9h1.3v1.3h-1.3z"/>
<path fill="#d08878" d="M198.9 866.1h1.3v1.3h-1.3zM216.2 836.1h1.3v1.3h-1.3zM222.4 858.2h1.3v1.3h-1.3zM186.3 842.6h1.3v1.3h-1.3zM221.0 858.8h1.3v1.3h-1.3zM211.3 843.8h1.3v1.3h-1.3zM188.3 837.0h1.3v1.3h-1.3zM211.8 837.9h1.3v1.3h-1.3zM200.2 875.7h1.3v1.3h-1.3zM204.0 855.5h1.3v1.3h-1.3zM214.8 845.4h1.3v1.3h-1.3zM210.1 844.9h1.3v1.3h-1.3zM194.4 870.7h1.3v1.3h-1.3zM207.3 866.1h1.3v1.3h-1.3zM195.0 840.3h1.3v1.3h-1.3zM192.7 833.9h1.3v1.3h-1.3zM231.2 862.5h1.3v1.3h-1.3zM187.5 833.8h1.3v1.3h-1.3zM185.1 835.7h1.3v1.3h-1.3zM203.1 866.8h1.3v1.3h-1.3zM193.0 860.7h1.3v1.3h-1.3zM188.6 879.9h1.3v1.3h-1.3zM208.4 856.3h1.3v1.3h-1.3zM192.5 847.6h1.3v1.3h-1.3zM196.8 847.6h1.3v1.3h-1.3zM207.1 854.1h1.3v1.3h-1.3zM221.1 833.4h1.3v1.3h-1.3zM197.1 842.3h1.3v1.3h-1.3zM201.5 864.5h1.3v1.3h-1.3zM185.4 859.6h1.3v1.3h-1.3zM188.6 854.4h1.3v1.3h-1.3zM182.8 870.2h1.3v1.3h-1.3zM212.1 846.8h1.3v1.3h-1.3zM203.6 874.0h1.3v1.3h-1.3zM196.2 837.2h1.3v1.3h-1.3zM205.4 837.7h1.3v1.3h-1.3z"/>
<path fill="#dca090" d="M199.7 878.6h1.3v1.3h-1.3zM187.5 836.5h1.3v1.3h-1.3zM182.6 870.6h1.3v1.3h-1.3zM188.3 875.4h1.3v1.3h-1.3zM227.7 833.1h1.3v1.3h-1.3zM188.3 844.3h1.3v1.3h-1.3zM215.4 859.8h1.3v1.3h-1.3zM181.0 876.7h1.3v1.3h-1.3zM206.0 847.7h1.3v1.3h-1.3zM211.5 843.1h1.3v1.3h-1.3zM185.2 840.1h1.3v1.3h-1.3zM201.9 844.1h1.3v1.3h-1.3zM218.4 851.4h1.3v1.3h-1.3zM196.8 874.9h1.3v1.3h-1.3zM186.5 871.8h1.3v1.3h-1.3zM217.0 870.3h1.3v1.3h-1.3zM194.6 866.9h1.3v1.3h-1.3zM192.2 878.3h1.3v1.3h-1.3zM197.7 841.0h1.3v1.3h-1.3zM203.8 832.2h1.3v1.3h-1.3zM193.5 863.5h1.3v1.3h-1.3zM205.2 877.0h1.3v1.3h-1.3zM193.5 857.5h1.3v1.3h-1.3zM180.0 840.5h1.3v1.3h-1.3zM192.2 860.0h1.3v1.3h-1.3zM189.4 840.7h1.3v1.3h-1.3zM198.1 859.3h1.3v1.3h-1.3zM196.1 860.5h1.3v1.3h-1.3zM198.3 862.7h1.3v1.3h-1.3zM212.0 847.7h1.3v1.3h-1.3zM193.8 839.6h1.3v1.3h-1.3zM197.0 860.7h1.3v1.3h-1.3zM180.0 858.2h1.3v1.3h-1.3zM182.8 876.8h1.3v1.3h-1.3zM218.6 875.0h1.3v1.3h-1.3zM211.9 850.8h1.3v1.3h-1.3zM201.3 852.2h1.3v1.3h-1.3z"/>
<path fill="#c07060" d="M192.7 864.5h1.3v1.3h-1.3zM214.5 842.3h1.3v1.3h-1.3zM190.0 844.8h1.3v1.3h-1.3zM206.0 878.6h1.3v1.3h-1.3zM186.9 879.1h1.3v1.3h-1.3zM184.8 832.3h1.3v1.3h-1.3zM184.6 845.9h1.3v1.3h-1.3zM201.9 833.9h1.3v1.3h-1.3zM213.3 845.2h1.3v1.3h-1.3zM190.3 850.3h1.3v1.3h-1.3zM212.0 849.1h1.3v1.3h-1.3zM183.2 841.6h1.3v1.3h-1.3zM189.5 833.5h1.3v1.3h-1.3zM194.0 873.0h1.3v1.3h-1.3zM185.2 832.1h1.3v1.3h-1.3zM201.7 853.2h1.3v1.3h-1.3zM209.7 845.8h1.3v1.3h-1.3zM224.4 848.0h1.3v1.3h-1.3zM197.6 868.8h1.3v1.3h-1.3zM205.8 833.1h1.3v1.3h-1.3zM192.6 850.2h1.3v1.3h-1.3zM202.3 867.8h1.3v1.3h-1.3zM221.3 836.7h1.3v1.3h-1.3zM219.1 834.3h1.3v1.3h-1.3zM201.0 877.3h1.3v1.3h-1.3zM204.6 849.8h1.3v1.3h-1.3zM189.4 841.8h1.3v1.3h-1.3zM207.5 879.0h1.3v1.3h-1.3zM194.7 874.0h1.3v1.3h-1.3zM224.1 839.7h1.3v1.3h-1.3zM191.1 837.5h1.3v1.3h-1.3zM199.4 879.8h1.3v1.3h-1.3zM219.9 849.7h1.3v1.3h-1.3zM204.3 862.1h1.3v1.3h-1.3zM213.6 855.2h1.3v1.3h-1.3zM200.3 837.0h1.3v1.3h-1.3zM197.1 844.6h1.3v1.3h-1.3zM212.6 839.2h1.3v1.3h-1.3zM181.7 845.9h1.3v1.3h-1.3zM215.8 867.3h1.3v1.3h-1.3zM209.9 859.1h1.3v1.3h-1.3zM218.9 837.9h1.3v1.3h-1.3zM212.9 873.0h1.3v1.3h-1.3zM188.3 854.9h1.3v1.3h-1.3z"/>
<path fill="#e0a898" d="M200.4 858.2h1.3v1.3h-1.3zM214.8 848.1h1.3v1.3h-1.3zM185.7 864.6h1.3v1.3h-1.3zM186.7 851.9h1.3v1.3h-1.3zM182.9 875.8h1.3v1.3h-1.3zM194.9 839.3h1.3v1.3h-1.3zM192.9 835.3h1.3v1.3h-1.3zM209.2 833.5h1.3v1.3h-1.3zM189.9 869.3h1.3v1.3h-1.3zM197.2 841.8h1.3v1.3h-1.3zM197.8 856.0h1.3v1.3h-1.3zM216.2 850.3h1.3v1.3h-1.3zM215.4 863.0h1.3v1.3h-1.3zM222.3 864.2h1.3v1.3h-1.3zM201.8 875.0h1.3v1.3h-1.3zM215.9 867.4h1.3v1.3h-1.3zM218.9 879.1h1.3v1.3h-1.3zM206.3 847.3h1.3v1.3h-1.3zM201.9 860.8h1.3v1.3h-1.3zM221.1 876.6h1.3v1.3h-1.3zM190.5 851.5h1.3v1.3h-1.3zM190.1 855.9h1.3v1.3h-1.3zM215.4 844.8h1.3v1.3h-1.3zM209.1 845.1h1.3v1.3h-1.3zM217.5 878.7h1.3v1.3h-1.3zM199.1 862.3h1.3v1.3h-1.3zM199.2 842.4h1.3v1.3h-1.3zM196.9 854.7h1.3v1.3h-1.3zM210.2 872.1h1.3v1.3h-1.3zM199.8 862.8h1.3v1.3h-1.3zM200.2 862.9h1.3v1.3h-1.3zM189.9 861.7h1.3v1.3h-1.3zM184.6 835.1h1.3v1.3h-1.3zM193.2 873.5h1.3v1.3h-1.3zM209.7 851.7h1.3v1.3h-1.3zM194.5 866.2h1.3v1.3h-1.3z"/>
<path fill="#b86450" d="M202.3 840.5h1.3v1.3h-1.3zM216.5 861.0h1.3v1.3h-1.3zM222.8 854.4h1.3v1.3h-1.3zM188.3 871.8h1.3v1.3h-1.3zM200.0 868.1h1.3v1.3h-1.3zM193.6 844.0h1.3v1.3h-1.3zM215.2 877.7h1.3v1.3h-1.3zM194.5 849.1h1.3v1.3h-1.3zM180.6 856.8h1.3v1.3h-1.3zM207.3 841.3h1.3v1.3h-1.3zM212.3 839.9h1.3v1.3h-1.3zM221.4 878.4h1.3v1.3h-1.3zM215.9 852.6h1.3v1.3h-1.3zM206.4 879.2h1.3v1.3h-1.3zM210.7 872.3h1.3v1.3h-1.3zM211.6 847.6h1.3v1.3h-1.3zM200.6 861.1h1.3v1.3h-1.3zM189.3 849.2h1.3v1.3h-1.3zM194.7 872.1h1.3v1.3h-1.3zM204.2 868.7h1.3v1.3h-1.3zM199.0 835.5h1.3v1.3h-1.3zM213.2 855.2h1.3v1.3h-1.3zM185.5 861.8h1.3v1.3h-1.3zM188.3 869.8h1.3v1.3h-1.3zM194.7 867.5h1.3v1.3h-1.3zM213.4 834.1h1.3v1.3h-1.3zM186.8 835.8h1.3v1.3h-1.3zM197.0 844.7h1.3v1.3h-1.3zM193.2 863.2h1.3v1.3h-1.3zM209.3 857.2h1.3v1.3h-1.3zM202.7 878.2h1.3v1.3h-1.3zM205.5 847.8h1.3v1.3h-1.3zM183.4 878.7h1.3v1.3h-1.3zM204.9 843.6h1.3v1.3h-1.3zM192.2 846.0h1.3v1.3h-1.3zM215.0 878.1h1.3v1.3h-1.3zM181.7 862.3h1.3v1.3h-1.3zM204.8 874.0h1.3v1.3h-1.3z"/>
<path fill="#a85a48" d="M190.3 836.5h1.3v1.3h-1.3zM188.2 850.2h1.3v1.3h-1.3zM185.9 843.5h1.3v1.3h-1.3zM202.9 875.8h1.3v1.3h-1.3zM189.2 871.2h1.3v1.3h-1.3zM200.0 877.5h1.3v1.3h-1.3zM196.4 834.6h1.3v1.3h-1.3zM193.9 869.7h1.3v1.3h-1.3zM221.7 837.4h1.3v1.3h-1.3zM192.0 867.2h1.3v1.3h-1.3zM204.6 861.3h1.3v1.3h-1.3zM210.5 873.9h1.3v1.3h-1.3zM184.6 849.9h1.3v1.3h-1.3zM185.1 856.4h1.3v1.3h-1.3zM194.7 849.5h1.3v1.3h-1.3zM187.6 878.3h1.3v1.3h-1.3zM182.4 863.7h1.3v1.3h-1.3zM191.5 838.8h1.3v1.3h-1.3zM195.0 870.9h1.3v1.3h-1.3zM205.9 867.4h1.3v1.3h-1.3zM195.0 845.4h1.3v1.3h-1.3zM200.2 849.6h1.3v1.3h-1.3zM204.6 832.7h1.3v1.3h-1.3zM225.5 869.0h1.3v1.3h-1.3zM214.5 850.6h1.3v1.3h-1.3zM210.3 869.3h1.3v1.3h-1.3zM187.6 851.2h1.3v1.3h-1.3zM198.9 839.1h1.3v1.3h-1.3zM208.0 861.2h1.3v1.3h-1.3zM206.5 837.7h1.3v1.3h-1.3zM219.8 877.0h1.3v1.3h-1.3zM210.2 854.0h1.3v1.3h-1.3zM210.9 878.9h1.3v1.3h-1.3zM213.9 866.2h1.3v1.3h-1.3zM185.0 857.5h1.3v1.3h-1.3zM197.3 870.1h1.3v1.3h-1.3zM209.9 876.9h1.3v1.3h-1.3zM207.4 840.8h1.3v1.3h-1.3zM202.8 857.1h1.3v1.3h-1.3zM190.3 850.0h1.3v1.3h-1.3z"/>
<path fill="#c89080" d="M196.3 877.9h1.3v1.3h-1.3zM187.8 872.6h1.3v1.3h-1.3zM222.2 859.0h1.3v1.3h-1.3zM227.8 840.0h1.3v1.3h-1.3zM202.2 849.0h1.3v1.3h-1.3zM199.0 870.9h1.3v1.3h-1.3zM191.7 860.2h1.3v1.3h-1.3zM203.9 837.7h1.3v1.3h-1.3zM210.1 835.9h1.3v1.3h-1.3zM217.1 845.9h1.3v1.3h-1.3zM200.9 861.7h1.3v1.3h-1.3zM197.5 839.8h1.3v1.3h-1.3zM205.9 843.3h1.3v1.3h-1.3zM219.5 832.0h1.3v1.3h-1.3zM196.6 870.5h1.3v1.3h-1.3zM206.6 835.5h1.3v1.3h-1.3zM195.8 856.7h1.3v1.3h-1.3zM220.0 869.9h1.3v1.3h-1.3zM199.9 850.6h1.3v1.3h-1.3zM205.8 833.5h1.3v1.3h-1.3zM187.0 862.7h1.3v1.3h-1.3zM189.7 837.1h1.3v1.3h-1.3zM192.3 835.0h1.3v1.3h-1.3zM203.2 871.7h1.3v1.3h-1.3zM199.0 874.7h1.3v1.3h-1.3zM203.0 868.6h1.3v1.3h-1.3zM187.6 856.9h1.3v1.3h-1.3zM193.6 866.5h1.3v1.3h-1.3zM189.5 867.4h1.3v1.3h-1.3zM201.3 878.3h1.3v1.3h-1.3zM200.7 867.8h1.3v1.3h-1.3zM190.8 861.7h1.3v1.3h-1.3zM191.0 866.8h1.3v1.3h-1.3zM190.2 835.2h1.3v1.3h-1.3z"/>
<path fill="#c88070" d="M182.9 869.1h1.3v1.3h-1.3zM230.0 863.5h1.3v1.3h-1.3zM201.4 835.9h1.3v1.3h-1.3zM206.6 877.2h1.3v1.3h-1.3zM200.6 842.2h1.3v1.3h-1.3zM209.9 835.0h1.3v1.3h-1.3zM214.2 857.0h1.3v1.3h-1.3zM193.1 865.9h1.3v1.3h-1.3zM190.9 869.9h1.3v1.3h-1.3zM203.5 864.2h1.3v1.3h-1.3zM221.1 847.3h1.3v1.3h-1.3zM185.1 879.5h1.3v1.3h-1.3zM200.2 869.4h1.3v1.3h-1.3zM217.2 851.6h1.3v1.3h-1.3zM203.2 865.1h1.3v1.3h-1.3zM207.4 840.6h1.3v1.3h-1.3zM210.7 855.3h1.3v1.3h-1.3zM204.9 871.2h1.3v1.3h-1.3zM198.6 856.8h1.3v1.3h-1.3zM204.4 842.2h1.3v1.3h-1.3zM185.5 850.1h1.3v1.3h-1.3zM201.9 833.3h1.3v1.3h-1.3zM204.3 859.5h1.3v1.3h-1.3zM197.7 850.7h1.3v1.3h-1.3zM226.9 838.4h1.3v1.3h-1.3zM195.0 855.0h1.3v1.3h-1.3zM217.2 847.0h1.3v1.3h-1.3zM214.0 861.2h1.3v1.3h-1.3zM197.7 832.5h1.3v1.3h-1.3zM198.3 843.5h1.3v1.3h-1.3zM185.4 834.6h1.3v1.3h-1.3zM207.5 832.4h1.3v1.3h-1.3zM197.4 840.8h1.3v1.3h-1.3zM191.3 875.8h1.3v1.3h-1.3z"/>
<path fill="#b06048" d="M189.3 835.8h1.3v1.3h-1.3zM198.1 861.6h1.3v1.3h-1.3zM181.8 845.9h1.3v1.3h-1.3zM212.0 878.5h1.3v1.3h-1.3zM203.1 840.0h1.3v1.3h-1.3zM202.8 866.9h1.3v1.3h-1.3zM210.6 834.9h1.3v1.3h-1.3zM193.2 840.0h1.3v1.3h-1.3zM202.6 879.7h1.3v1.3h-1.3zM206.8 838.1h1.3v1.3h-1.3zM206.3 875.6h1.3v1.3h-1.3zM197.9 868.4h1.3v1.3h-1.3zM197.5 876.2h1.3v1.3h-1.3zM204.5 855.9h1.3v1.3h-1.3zM214.3 845.8h1.3v1.3h-1.3zM199.2 861.3h1.3v1.3h-1.3zM211.8 871.8h1.3v1.3h-1.3zM193.2 846.2h1.3v1.3h-1.3zM210.9 842.8h1.3v1.3h-1.3zM213.4 877.9h1.3v1.3h-1.3zM199.3 862.9h1.3v1.3h-1.3zM191.0 849.4h1.3v1.3h-1.3zM203.8 845.1h1.3v1.3h-1.3zM199.2 863.7h1.3v1.3h-1.3zM222.7 841.2h1.3v1.3h-1.3zM223.3 841.4h1.3v1.3h-1.3zM201.4 836.8h1.3v1.3h-1.3zM198.2 875.0h1.3v1.3h-1.3zM191.5 876.1h1.3v1.3h-1.3zM223.6 875.5h1.3v1.3h-1.3zM214.8 836.5h1.3v1.3h-1.3zM192.2 855.4h1.3v1.3h-1.3z"/>
<path d="M179 846 C188 842 200 840 210 836 C216 834 220 840 220 852 L219 874 C212 880 190 880 179 877 Z" fill="#b3503c" fill-opacity="1.0" filter="url(#bl2)"/>
<path fill="#b44e3a" d="M187.9 840.1h1.3v1.3h-1.3zM215.7 855.2h1.3v1.3h-1.3zM197.5 862.7h1.3v1.3h-1.3zM198.6 841.4h1.3v1.3h-1.3zM207.9 861.2h1.3v1.3h-1.3zM206.4 863.7h1.3v1.3h-1.3zM180.7 852.8h1.3v1.3h-1.3zM196.9 870.6h1.3v1.3h-1.3zM183.9 857.3h1.3v1.3h-1.3zM200.6 856.4h1.3v1.3h-1.3zM189.4 853.9h1.3v1.3h-1.3zM204.5 870.7h1.3v1.3h-1.3zM213.3 848.3h1.3v1.3h-1.3zM217.4 860.0h1.3v1.3h-1.3zM196.3 866.4h1.3v1.3h-1.3zM195.2 861.3h1.3v1.3h-1.3zM187.4 851.4h1.3v1.3h-1.3zM190.4 851.6h1.3v1.3h-1.3zM210.0 858.7h1.3v1.3h-1.3zM191.0 846.6h1.3v1.3h-1.3zM216.3 874.1h1.3v1.3h-1.3zM200.4 862.7h1.3v1.3h-1.3zM183.0 870.9h1.3v1.3h-1.3zM199.0 858.8h1.3v1.3h-1.3zM189.6 870.7h1.3v1.3h-1.3zM186.7 851.2h1.3v1.3h-1.3zM198.7 875.7h1.3v1.3h-1.3zM192.0 867.4h1.3v1.3h-1.3zM190.0 859.6h1.3v1.3h-1.3zM202.5 861.9h1.3v1.3h-1.3zM193.6 843.2h1.3v1.3h-1.3zM200.8 850.4h1.3v1.3h-1.3zM205.9 848.2h1.3v1.3h-1.3zM214.1 843.4h1.3v1.3h-1.3zM195.1 869.6h1.3v1.3h-1.3zM202.7 869.3h1.3v1.3h-1.3zM209.2 854.2h1.3v1.3h-1.3zM209.9 870.1h1.3v1.3h-1.3zM199.9 865.1h1.3v1.3h-1.3zM212.5 858.1h1.3v1.3h-1.3zM198.6 874.1h1.3v1.3h-1.3zM184.8 856.9h1.3v1.3h-1.3zM188.1 841.3h1.3v1.3h-1.3zM189.1 842.5h1.3v1.3h-1.3zM188.2 870.8h1.3v1.3h-1.3zM202.4 862.6h1.3v1.3h-1.3zM196.0 846.1h1.3v1.3h-1.3zM189.4 848.3h1.3v1.3h-1.3zM180.4 871.4h1.3v1.3h-1.3zM194.8 875.9h1.3v1.3h-1.3zM192.4 863.4h1.3v1.3h-1.3zM185.5 847.8h1.3v1.3h-1.3zM196.2 842.9h1.3v1.3h-1.3zM200.6 874.0h1.3v1.3h-1.3zM201.4 855.7h1.3v1.3h-1.3zM191.5 846.1h1.3v1.3h-1.3zM199.1 846.9h1.3v1.3h-1.3zM215.6 847.8h1.3v1.3h-1.3zM190.2 865.7h1.3v1.3h-1.3zM189.2 864.4h1.3v1.3h-1.3zM195.1 876.7h1.3v1.3h-1.3zM190.2 847.0h1.3v1.3h-1.3zM195.6 840.8h1.3v1.3h-1.3zM213.9 874.5h1.3v1.3h-1.3zM202.6 873.0h1.3v1.3h-1.3zM196.6 844.1h1.3v1.3h-1.3zM196.2 857.3h1.3v1.3h-1.3zM196.1 843.5h1.3v1.3h-1.3zM195.7 853.2h1.3v1.3h-1.3zM199.4 844.0h1.3v1.3h-1.3zM211.4 873.2h1.3v1.3h-1.3zM189.9 865.3h1.3v1.3h-1.3zM190.5 855.1h1.3v1.3h-1.3zM195.4 843.2h1.3v1.3h-1.3zM206.8 869.6h1.3v1.3h-1.3zM198.6 876.4h1.3v1.3h-1.3zM203.6 840.3h1.3v1.3h-1.3zM197.8 870.4h1.3v1.3h-1.3zM198.8 864.3h1.3v1.3h-1.3zM189.0 873.7h1.3v1.3h-1.3zM195.8 853.5h1.3v1.3h-1.3zM203.4 852.3h1.3v1.3h-1.3zM198.7 853.3h1.3v1.3h-1.3zM198.4 853.9h1.3v1.3h-1.3zM191.3 858.3h1.3v1.3h-1.3zM208.3 869.9h1.3v1.3h-1.3zM207.7 866.6h1.3v1.3h-1.3zM201.0 875.8h1.3v1.3h-1.3zM207.2 856.0h1.3v1.3h-1.3zM204.4 847.9h1.3v1.3h-1.3zM187.8 866.7h1.3v1.3h-1.3zM212.1 860.9h1.3v1.3h-1.3zM202.4 840.2h1.3v1.3h-1.3zM186.5 853.7h1.3v1.3h-1.3zM185.7 854.5h1.3v1.3h-1.3zM210.9 856.0h1.3v1.3h-1.3zM202.1 861.5h1.3v1.3h-1.3zM194.9 873.2h1.3v1.3h-1.3zM188.2 849.8h1.3v1.3h-1.3zM203.8 842.0h1.3v1.3h-1.3zM197.2 862.9h1.3v1.3h-1.3zM206.5 849.9h1.3v1.3h-1.3zM187.0 853.2h1.3v1.3h-1.3zM193.8 871.5h1.3v1.3h-1.3zM188.2 840.1h1.3v1.3h-1.3zM190.5 849.2h1.3v1.3h-1.3zM195.0 846.4h1.3v1.3h-1.3zM185.3 841.7h1.3v1.3h-1.3zM199.8 856.8h1.3v1.3h-1.3zM209.1 876.0h1.3v1.3h-1.3zM204.5 861.3h1.3v1.3h-1.3zM194.6 851.2h1.3v1.3h-1.3zM206.0 864.8h1.3v1.3h-1.3zM188.1 845.0h1.3v1.3h-1.3zM199.9 856.8h1.3v1.3h-1.3zM207.9 875.0h1.3v1.3h-1.3zM207.6 865.8h1.3v1.3h-1.3zM202.7 843.5h1.3v1.3h-1.3zM211.4 865.8h1.3v1.3h-1.3zM183.8 864.2h1.3v1.3h-1.3zM195.1 868.8h1.3v1.3h-1.3zM202.4 864.1h1.3v1.3h-1.3zM196.2 877.0h1.3v1.3h-1.3zM189.0 857.2h1.3v1.3h-1.3zM204.8 873.8h1.3v1.3h-1.3zM181.6 848.0h1.3v1.3h-1.3zM192.2 865.0h1.3v1.3h-1.3z"/>
<path fill="#b0503a" d="M190.5 872.4h1.3v1.3h-1.3zM195.7 858.4h1.3v1.3h-1.3zM198.3 854.8h1.3v1.3h-1.3zM207.3 848.2h1.3v1.3h-1.3zM199.8 865.1h1.3v1.3h-1.3zM204.0 845.0h1.3v1.3h-1.3zM206.8 851.8h1.3v1.3h-1.3zM195.7 841.4h1.3v1.3h-1.3zM205.2 845.5h1.3v1.3h-1.3zM198.9 867.8h1.3v1.3h-1.3zM189.9 858.2h1.3v1.3h-1.3zM190.0 870.8h1.3v1.3h-1.3zM203.8 862.6h1.3v1.3h-1.3zM209.5 846.7h1.3v1.3h-1.3zM205.8 840.5h1.3v1.3h-1.3zM203.6 851.0h1.3v1.3h-1.3zM195.6 850.1h1.3v1.3h-1.3zM189.7 855.4h1.3v1.3h-1.3zM199.1 859.6h1.3v1.3h-1.3zM193.2 849.3h1.3v1.3h-1.3zM202.0 872.1h1.3v1.3h-1.3zM194.1 867.8h1.3v1.3h-1.3zM206.4 871.9h1.3v1.3h-1.3zM199.9 868.9h1.3v1.3h-1.3zM207.7 841.4h1.3v1.3h-1.3zM211.5 844.5h1.3v1.3h-1.3zM203.5 869.5h1.3v1.3h-1.3zM187.5 863.8h1.3v1.3h-1.3zM180.4 868.6h1.3v1.3h-1.3zM193.1 876.6h1.3v1.3h-1.3zM200.2 872.6h1.3v1.3h-1.3zM193.0 854.0h1.3v1.3h-1.3zM209.1 850.3h1.3v1.3h-1.3zM196.1 858.8h1.3v1.3h-1.3zM209.5 852.1h1.3v1.3h-1.3zM205.2 871.3h1.3v1.3h-1.3zM219.7 874.1h1.3v1.3h-1.3zM191.2 857.8h1.3v1.3h-1.3zM207.7 843.2h1.3v1.3h-1.3zM201.0 841.0h1.3v1.3h-1.3zM186.6 847.0h1.3v1.3h-1.3zM192.3 857.7h1.3v1.3h-1.3zM192.6 865.5h1.3v1.3h-1.3zM196.8 874.4h1.3v1.3h-1.3zM193.1 867.8h1.3v1.3h-1.3zM190.1 858.1h1.3v1.3h-1.3zM202.4 847.0h1.3v1.3h-1.3zM206.6 864.7h1.3v1.3h-1.3zM200.8 873.0h1.3v1.3h-1.3zM201.6 840.5h1.3v1.3h-1.3zM196.2 856.2h1.3v1.3h-1.3zM206.7 869.1h1.3v1.3h-1.3zM203.7 859.9h1.3v1.3h-1.3zM189.2 854.1h1.3v1.3h-1.3zM194.7 869.1h1.3v1.3h-1.3zM202.6 866.4h1.3v1.3h-1.3zM188.5 876.3h1.3v1.3h-1.3zM183.1 845.9h1.3v1.3h-1.3zM210.4 843.6h1.3v1.3h-1.3zM198.4 850.3h1.3v1.3h-1.3zM195.3 855.9h1.3v1.3h-1.3zM214.1 863.3h1.3v1.3h-1.3zM194.3 852.9h1.3v1.3h-1.3zM191.5 874.7h1.3v1.3h-1.3zM194.3 850.8h1.3v1.3h-1.3zM216.3 864.2h1.3v1.3h-1.3zM184.9 876.8h1.3v1.3h-1.3zM195.3 854.6h1.3v1.3h-1.3zM196.1 870.9h1.3v1.3h-1.3zM199.4 851.9h1.3v1.3h-1.3zM198.0 873.7h1.3v1.3h-1.3zM199.4 870.4h1.3v1.3h-1.3zM212.5 858.7h1.3v1.3h-1.3zM210.8 876.8h1.3v1.3h-1.3zM202.4 843.3h1.3v1.3h-1.3zM198.0 858.1h1.3v1.3h-1.3zM192.9 865.7h1.3v1.3h-1.3zM194.7 850.5h1.3v1.3h-1.3zM187.1 852.8h1.3v1.3h-1.3zM204.7 873.3h1.3v1.3h-1.3zM203.5 843.8h1.3v1.3h-1.3zM193.6 867.3h1.3v1.3h-1.3zM197.7 843.4h1.3v1.3h-1.3zM194.6 845.5h1.3v1.3h-1.3zM198.8 855.1h1.3v1.3h-1.3zM200.6 862.6h1.3v1.3h-1.3zM194.3 874.8h1.3v1.3h-1.3zM190.8 862.6h1.3v1.3h-1.3zM184.0 870.9h1.3v1.3h-1.3zM197.5 865.3h1.3v1.3h-1.3zM202.9 849.9h1.3v1.3h-1.3zM201.1 867.4h1.3v1.3h-1.3zM204.0 840.8h1.3v1.3h-1.3zM203.5 865.3h1.3v1.3h-1.3zM187.5 869.1h1.3v1.3h-1.3zM200.2 871.0h1.3v1.3h-1.3zM191.1 853.9h1.3v1.3h-1.3zM199.9 848.2h1.3v1.3h-1.3zM209.2 843.1h1.3v1.3h-1.3zM215.5 854.2h1.3v1.3h-1.3zM208.2 849.8h1.3v1.3h-1.3zM206.7 843.9h1.3v1.3h-1.3zM209.1 852.9h1.3v1.3h-1.3zM188.4 843.6h1.3v1.3h-1.3zM201.6 849.2h1.3v1.3h-1.3zM204.0 854.5h1.3v1.3h-1.3zM201.8 842.5h1.3v1.3h-1.3zM191.4 867.2h1.3v1.3h-1.3zM207.3 849.7h1.3v1.3h-1.3zM210.2 842.1h1.3v1.3h-1.3zM215.7 854.8h1.3v1.3h-1.3zM192.3 852.4h1.3v1.3h-1.3zM197.7 843.0h1.3v1.3h-1.3zM212.2 842.2h1.3v1.3h-1.3zM199.9 847.2h1.3v1.3h-1.3zM199.8 871.7h1.3v1.3h-1.3zM195.8 859.7h1.3v1.3h-1.3zM201.2 859.3h1.3v1.3h-1.3zM201.5 870.1h1.3v1.3h-1.3zM182.9 852.0h1.3v1.3h-1.3zM196.5 876.7h1.3v1.3h-1.3zM198.9 870.3h1.3v1.3h-1.3zM192.1 864.4h1.3v1.3h-1.3zM200.6 857.3h1.3v1.3h-1.3zM190.6 872.7h1.3v1.3h-1.3zM209.9 844.0h1.3v1.3h-1.3zM201.0 872.5h1.3v1.3h-1.3zM189.9 852.1h1.3v1.3h-1.3zM194.3 854.3h1.3v1.3h-1.3zM192.7 876.5h1.3v1.3h-1.3zM195.2 848.9h1.3v1.3h-1.3zM188.9 875.3h1.3v1.3h-1.3z"/>
<path fill="#a05040" d="M202.7 876.6h1.3v1.3h-1.3zM204.8 863.1h1.3v1.3h-1.3zM189.2 855.7h1.3v1.3h-1.3zM215.1 844.2h1.3v1.3h-1.3zM197.1 874.0h1.3v1.3h-1.3zM195.8 867.0h1.3v1.3h-1.3zM193.2 875.2h1.3v1.3h-1.3zM203.4 857.1h1.3v1.3h-1.3zM194.7 847.0h1.3v1.3h-1.3zM193.1 868.6h1.3v1.3h-1.3zM211.0 860.3h1.3v1.3h-1.3zM206.7 842.7h1.3v1.3h-1.3zM187.8 860.8h1.3v1.3h-1.3zM219.6 841.9h1.3v1.3h-1.3zM195.7 842.7h1.3v1.3h-1.3zM185.7 849.5h1.3v1.3h-1.3zM213.1 870.3h1.3v1.3h-1.3zM187.6 858.2h1.3v1.3h-1.3zM204.6 849.1h1.3v1.3h-1.3zM180.2 845.9h1.3v1.3h-1.3zM203.9 857.5h1.3v1.3h-1.3zM183.5 851.0h1.3v1.3h-1.3zM206.6 846.1h1.3v1.3h-1.3zM203.2 856.0h1.3v1.3h-1.3zM191.9 849.4h1.3v1.3h-1.3zM212.1 851.6h1.3v1.3h-1.3zM190.8 874.6h1.3v1.3h-1.3zM213.7 853.2h1.3v1.3h-1.3zM193.8 853.1h1.3v1.3h-1.3zM195.8 864.1h1.3v1.3h-1.3zM190.7 855.6h1.3v1.3h-1.3zM206.2 853.0h1.3v1.3h-1.3zM182.8 850.9h1.3v1.3h-1.3zM204.0 875.9h1.3v1.3h-1.3zM213.8 865.8h1.3v1.3h-1.3zM193.2 868.4h1.3v1.3h-1.3zM209.2 862.5h1.3v1.3h-1.3zM197.4 848.1h1.3v1.3h-1.3zM202.3 864.7h1.3v1.3h-1.3zM210.6 849.1h1.3v1.3h-1.3zM218.6 844.1h1.3v1.3h-1.3zM201.0 867.6h1.3v1.3h-1.3zM207.8 841.8h1.3v1.3h-1.3zM202.6 852.7h1.3v1.3h-1.3zM191.3 863.9h1.3v1.3h-1.3zM194.0 858.5h1.3v1.3h-1.3zM193.7 842.5h1.3v1.3h-1.3zM203.6 852.2h1.3v1.3h-1.3zM191.3 876.6h1.3v1.3h-1.3zM189.6 871.4h1.3v1.3h-1.3zM189.3 875.0h1.3v1.3h-1.3zM201.2 845.4h1.3v1.3h-1.3zM198.6 854.3h1.3v1.3h-1.3zM196.0 863.2h1.3v1.3h-1.3zM205.4 855.2h1.3v1.3h-1.3zM206.8 846.0h1.3v1.3h-1.3zM195.4 870.8h1.3v1.3h-1.3zM203.0 861.8h1.3v1.3h-1.3zM184.7 873.8h1.3v1.3h-1.3zM215.2 854.5h1.3v1.3h-1.3zM199.1 855.1h1.3v1.3h-1.3zM184.3 854.9h1.3v1.3h-1.3zM216.7 868.4h1.3v1.3h-1.3zM205.1 873.9h1.3v1.3h-1.3zM207.5 869.5h1.3v1.3h-1.3zM204.0 860.0h1.3v1.3h-1.3zM183.6 850.4h1.3v1.3h-1.3zM196.2 868.5h1.3v1.3h-1.3zM186.2 869.1h1.3v1.3h-1.3zM185.6 855.6h1.3v1.3h-1.3zM186.3 843.5h1.3v1.3h-1.3zM193.7 854.9h1.3v1.3h-1.3zM182.0 859.4h1.3v1.3h-1.3zM188.6 841.2h1.3v1.3h-1.3zM206.8 857.1h1.3v1.3h-1.3zM209.2 876.2h1.3v1.3h-1.3zM202.8 874.7h1.3v1.3h-1.3zM194.7 873.7h1.3v1.3h-1.3zM200.2 869.4h1.3v1.3h-1.3zM213.0 860.0h1.3v1.3h-1.3zM191.0 870.7h1.3v1.3h-1.3zM205.0 866.1h1.3v1.3h-1.3zM200.0 844.6h1.3v1.3h-1.3zM198.4 851.8h1.3v1.3h-1.3zM212.6 851.0h1.3v1.3h-1.3zM190.0 845.4h1.3v1.3h-1.3zM206.6 868.1h1.3v1.3h-1.3zM216.8 841.2h1.3v1.3h-1.3zM199.1 840.0h1.3v1.3h-1.3zM192.1 866.8h1.3v1.3h-1.3zM197.9 856.4h1.3v1.3h-1.3zM213.7 845.5h1.3v1.3h-1.3zM203.5 853.9h1.3v1.3h-1.3zM205.0 862.3h1.3v1.3h-1.3zM180.9 850.5h1.3v1.3h-1.3zM196.4 842.7h1.3v1.3h-1.3zM198.0 848.2h1.3v1.3h-1.3zM189.8 863.0h1.3v1.3h-1.3zM203.8 849.7h1.3v1.3h-1.3zM188.1 866.1h1.3v1.3h-1.3zM200.3 846.5h1.3v1.3h-1.3zM200.8 873.3h1.3v1.3h-1.3zM205.3 858.5h1.3v1.3h-1.3zM198.3 866.9h1.3v1.3h-1.3zM201.6 854.4h1.3v1.3h-1.3zM184.8 867.4h1.3v1.3h-1.3zM194.6 850.2h1.3v1.3h-1.3zM214.3 846.3h1.3v1.3h-1.3zM188.0 841.7h1.3v1.3h-1.3zM197.7 865.3h1.3v1.3h-1.3zM199.2 855.2h1.3v1.3h-1.3zM203.6 868.5h1.3v1.3h-1.3zM193.2 871.8h1.3v1.3h-1.3zM189.7 860.9h1.3v1.3h-1.3zM189.7 863.5h1.3v1.3h-1.3zM188.9 856.9h1.3v1.3h-1.3zM193.3 873.9h1.3v1.3h-1.3zM199.1 858.3h1.3v1.3h-1.3zM193.3 867.3h1.3v1.3h-1.3zM203.0 876.8h1.3v1.3h-1.3zM208.4 865.9h1.3v1.3h-1.3zM189.3 852.3h1.3v1.3h-1.3zM194.7 869.3h1.3v1.3h-1.3zM198.4 872.0h1.3v1.3h-1.3zM213.7 861.0h1.3v1.3h-1.3zM211.6 868.2h1.3v1.3h-1.3zM196.5 841.3h1.3v1.3h-1.3zM195.4 857.7h1.3v1.3h-1.3zM192.5 840.8h1.3v1.3h-1.3zM203.3 846.7h1.3v1.3h-1.3zM194.3 858.6h1.3v1.3h-1.3zM186.2 868.8h1.3v1.3h-1.3zM211.7 844.6h1.3v1.3h-1.3zM188.3 860.2h1.3v1.3h-1.3zM194.9 843.7h1.3v1.3h-1.3zM181.6 863.5h1.3v1.3h-1.3zM189.4 845.3h1.3v1.3h-1.3zM201.5 864.8h1.3v1.3h-1.3zM196.0 872.6h1.3v1.3h-1.3zM200.0 847.9h1.3v1.3h-1.3zM201.9 869.8h1.3v1.3h-1.3zM211.4 842.4h1.3v1.3h-1.3zM180.7 861.4h1.3v1.3h-1.3zM188.0 846.7h1.3v1.3h-1.3zM207.1 847.4h1.3v1.3h-1.3zM199.1 843.8h1.3v1.3h-1.3zM212.4 842.5h1.3v1.3h-1.3zM198.3 863.9h1.3v1.3h-1.3z"/>
<path fill="#b85a44" d="M199.7 872.4h1.3v1.3h-1.3zM207.8 876.1h1.3v1.3h-1.3zM203.8 875.7h1.3v1.3h-1.3zM217.2 858.2h1.3v1.3h-1.3zM191.3 876.2h1.3v1.3h-1.3zM204.9 842.5h1.3v1.3h-1.3zM205.9 852.1h1.3v1.3h-1.3zM201.4 860.2h1.3v1.3h-1.3zM192.7 844.8h1.3v1.3h-1.3zM209.3 869.6h1.3v1.3h-1.3zM186.0 866.6h1.3v1.3h-1.3zM199.7 846.8h1.3v1.3h-1.3zM189.1 866.3h1.3v1.3h-1.3zM203.4 855.1h1.3v1.3h-1.3zM202.7 849.8h1.3v1.3h-1.3zM197.1 874.9h1.3v1.3h-1.3zM186.8 863.4h1.3v1.3h-1.3zM211.1 853.0h1.3v1.3h-1.3zM191.6 857.8h1.3v1.3h-1.3zM199.7 841.3h1.3v1.3h-1.3zM197.3 861.0h1.3v1.3h-1.3zM206.9 869.1h1.3v1.3h-1.3zM203.5 876.3h1.3v1.3h-1.3zM182.3 840.7h1.3v1.3h-1.3zM197.4 856.2h1.3v1.3h-1.3zM201.4 843.4h1.3v1.3h-1.3zM218.9 860.7h1.3v1.3h-1.3zM197.5 850.0h1.3v1.3h-1.3zM200.9 846.5h1.3v1.3h-1.3zM207.6 858.3h1.3v1.3h-1.3zM219.7 841.8h1.3v1.3h-1.3zM196.0 842.6h1.3v1.3h-1.3zM186.1 872.7h1.3v1.3h-1.3zM195.3 840.2h1.3v1.3h-1.3zM208.4 841.8h1.3v1.3h-1.3zM203.4 856.6h1.3v1.3h-1.3zM194.7 875.7h1.3v1.3h-1.3zM194.9 852.8h1.3v1.3h-1.3zM187.7 860.7h1.3v1.3h-1.3zM199.0 864.4h1.3v1.3h-1.3zM191.7 848.0h1.3v1.3h-1.3zM206.6 844.8h1.3v1.3h-1.3zM212.9 863.3h1.3v1.3h-1.3zM193.1 855.7h1.3v1.3h-1.3zM204.0 842.4h1.3v1.3h-1.3zM185.9 844.9h1.3v1.3h-1.3zM194.5 859.2h1.3v1.3h-1.3zM210.1 851.1h1.3v1.3h-1.3zM203.3 875.8h1.3v1.3h-1.3zM207.6 864.5h1.3v1.3h-1.3zM188.8 861.9h1.3v1.3h-1.3zM180.3 845.0h1.3v1.3h-1.3zM204.9 858.0h1.3v1.3h-1.3zM204.4 872.6h1.3v1.3h-1.3zM207.4 848.4h1.3v1.3h-1.3zM188.6 849.7h1.3v1.3h-1.3zM215.9 875.7h1.3v1.3h-1.3zM193.6 869.3h1.3v1.3h-1.3zM211.7 850.1h1.3v1.3h-1.3zM200.3 874.8h1.3v1.3h-1.3zM207.6 840.7h1.3v1.3h-1.3zM194.1 860.5h1.3v1.3h-1.3zM206.7 841.1h1.3v1.3h-1.3zM204.8 862.9h1.3v1.3h-1.3zM214.9 872.7h1.3v1.3h-1.3zM198.5 864.0h1.3v1.3h-1.3zM184.1 866.5h1.3v1.3h-1.3zM185.0 850.3h1.3v1.3h-1.3zM184.3 850.4h1.3v1.3h-1.3zM196.5 867.9h1.3v1.3h-1.3zM191.7 871.0h1.3v1.3h-1.3zM199.5 850.2h1.3v1.3h-1.3zM216.4 858.6h1.3v1.3h-1.3zM185.5 867.9h1.3v1.3h-1.3zM209.8 848.4h1.3v1.3h-1.3zM200.0 873.0h1.3v1.3h-1.3zM201.0 876.4h1.3v1.3h-1.3zM210.2 849.8h1.3v1.3h-1.3zM210.9 863.2h1.3v1.3h-1.3zM214.1 861.3h1.3v1.3h-1.3zM212.8 842.2h1.3v1.3h-1.3zM198.1 851.9h1.3v1.3h-1.3zM196.8 842.8h1.3v1.3h-1.3zM199.0 860.8h1.3v1.3h-1.3zM192.3 874.1h1.3v1.3h-1.3zM202.9 861.7h1.3v1.3h-1.3zM214.7 866.9h1.3v1.3h-1.3zM210.5 842.4h1.3v1.3h-1.3zM211.3 862.8h1.3v1.3h-1.3zM204.0 847.6h1.3v1.3h-1.3zM211.5 875.7h1.3v1.3h-1.3zM200.5 869.6h1.3v1.3h-1.3zM209.6 857.6h1.3v1.3h-1.3zM200.0 876.2h1.3v1.3h-1.3zM196.7 845.0h1.3v1.3h-1.3zM206.0 860.6h1.3v1.3h-1.3zM191.3 856.6h1.3v1.3h-1.3zM203.4 849.2h1.3v1.3h-1.3zM190.6 856.4h1.3v1.3h-1.3zM207.0 843.5h1.3v1.3h-1.3zM209.4 872.5h1.3v1.3h-1.3zM199.6 871.1h1.3v1.3h-1.3zM197.2 850.7h1.3v1.3h-1.3zM194.3 842.4h1.3v1.3h-1.3zM199.3 871.8h1.3v1.3h-1.3zM203.6 854.7h1.3v1.3h-1.3zM209.6 865.7h1.3v1.3h-1.3zM189.4 862.9h1.3v1.3h-1.3zM180.9 863.6h1.3v1.3h-1.3zM204.8 849.2h1.3v1.3h-1.3zM182.1 859.7h1.3v1.3h-1.3zM209.4 872.1h1.3v1.3h-1.3zM187.9 858.2h1.3v1.3h-1.3zM205.4 861.1h1.3v1.3h-1.3zM205.3 859.0h1.3v1.3h-1.3zM206.6 870.1h1.3v1.3h-1.3zM192.8 863.8h1.3v1.3h-1.3zM193.2 860.8h1.3v1.3h-1.3zM210.8 863.7h1.3v1.3h-1.3zM201.5 841.5h1.3v1.3h-1.3zM185.9 864.7h1.3v1.3h-1.3zM188.7 868.4h1.3v1.3h-1.3zM201.3 852.1h1.3v1.3h-1.3zM182.7 862.1h1.3v1.3h-1.3zM186.7 865.3h1.3v1.3h-1.3zM202.6 872.3h1.3v1.3h-1.3zM212.9 843.5h1.3v1.3h-1.3zM193.9 841.5h1.3v1.3h-1.3zM198.7 860.5h1.3v1.3h-1.3zM200.4 854.0h1.3v1.3h-1.3zM190.1 861.6h1.3v1.3h-1.3zM192.7 845.1h1.3v1.3h-1.3zM194.3 856.8h1.3v1.3h-1.3zM209.1 861.2h1.3v1.3h-1.3zM191.6 868.2h1.3v1.3h-1.3zM183.3 850.3h1.3v1.3h-1.3zM202.7 866.2h1.3v1.3h-1.3zM209.0 847.5h1.3v1.3h-1.3zM205.1 870.2h1.3v1.3h-1.3zM195.5 865.0h1.3v1.3h-1.3zM187.5 873.5h1.3v1.3h-1.3zM200.6 864.8h1.3v1.3h-1.3zM198.2 851.4h1.3v1.3h-1.3zM197.9 842.3h1.3v1.3h-1.3zM198.5 857.6h1.3v1.3h-1.3z"/>
<path fill="#a84c38" d="M207.6 852.2h1.3v1.3h-1.3zM182.2 841.8h1.3v1.3h-1.3zM211.6 848.3h1.3v1.3h-1.3zM200.8 849.3h1.3v1.3h-1.3zM197.0 872.2h1.3v1.3h-1.3zM213.7 866.3h1.3v1.3h-1.3zM189.1 876.0h1.3v1.3h-1.3zM188.9 861.3h1.3v1.3h-1.3zM195.9 863.7h1.3v1.3h-1.3zM197.3 863.6h1.3v1.3h-1.3zM198.4 869.3h1.3v1.3h-1.3zM209.3 875.5h1.3v1.3h-1.3zM205.5 876.2h1.3v1.3h-1.3zM206.3 863.3h1.3v1.3h-1.3zM198.5 863.1h1.3v1.3h-1.3zM195.3 843.4h1.3v1.3h-1.3zM190.4 854.6h1.3v1.3h-1.3zM197.1 860.9h1.3v1.3h-1.3zM209.8 869.6h1.3v1.3h-1.3zM208.4 870.4h1.3v1.3h-1.3zM208.6 867.5h1.3v1.3h-1.3zM199.3 857.0h1.3v1.3h-1.3zM206.5 841.7h1.3v1.3h-1.3zM195.7 840.0h1.3v1.3h-1.3zM191.1 866.9h1.3v1.3h-1.3zM196.5 863.1h1.3v1.3h-1.3zM211.8 858.5h1.3v1.3h-1.3zM200.7 859.5h1.3v1.3h-1.3zM215.1 858.7h1.3v1.3h-1.3zM197.5 845.1h1.3v1.3h-1.3zM189.6 849.7h1.3v1.3h-1.3zM202.1 860.4h1.3v1.3h-1.3zM202.9 858.0h1.3v1.3h-1.3zM199.4 857.6h1.3v1.3h-1.3zM204.3 869.1h1.3v1.3h-1.3zM195.8 864.8h1.3v1.3h-1.3zM211.3 871.8h1.3v1.3h-1.3zM213.6 848.9h1.3v1.3h-1.3zM203.2 845.8h1.3v1.3h-1.3zM205.3 840.1h1.3v1.3h-1.3zM184.7 871.9h1.3v1.3h-1.3zM188.3 874.9h1.3v1.3h-1.3zM195.2 866.4h1.3v1.3h-1.3zM216.0 854.7h1.3v1.3h-1.3zM198.8 848.1h1.3v1.3h-1.3zM205.3 869.0h1.3v1.3h-1.3zM202.9 854.2h1.3v1.3h-1.3zM190.6 876.6h1.3v1.3h-1.3zM183.2 842.0h1.3v1.3h-1.3zM194.0 863.7h1.3v1.3h-1.3zM218.9 869.8h1.3v1.3h-1.3zM192.8 845.5h1.3v1.3h-1.3zM204.5 865.1h1.3v1.3h-1.3zM202.2 848.9h1.3v1.3h-1.3zM207.6 864.0h1.3v1.3h-1.3zM217.2 861.4h1.3v1.3h-1.3zM211.3 873.1h1.3v1.3h-1.3zM204.6 865.6h1.3v1.3h-1.3zM205.7 874.5h1.3v1.3h-1.3zM189.4 842.3h1.3v1.3h-1.3zM196.8 868.0h1.3v1.3h-1.3zM202.5 860.1h1.3v1.3h-1.3zM188.8 866.9h1.3v1.3h-1.3zM199.3 845.7h1.3v1.3h-1.3zM195.7 867.1h1.3v1.3h-1.3zM196.6 842.0h1.3v1.3h-1.3zM202.2 874.0h1.3v1.3h-1.3zM194.0 872.6h1.3v1.3h-1.3zM194.4 870.5h1.3v1.3h-1.3zM213.4 854.1h1.3v1.3h-1.3zM204.9 851.8h1.3v1.3h-1.3zM188.4 867.1h1.3v1.3h-1.3zM198.1 863.6h1.3v1.3h-1.3zM212.2 856.4h1.3v1.3h-1.3zM201.6 873.0h1.3v1.3h-1.3zM200.5 856.2h1.3v1.3h-1.3zM203.9 873.0h1.3v1.3h-1.3zM205.7 871.7h1.3v1.3h-1.3zM194.1 867.0h1.3v1.3h-1.3zM205.7 855.7h1.3v1.3h-1.3zM209.9 855.6h1.3v1.3h-1.3zM195.1 845.1h1.3v1.3h-1.3zM204.1 860.7h1.3v1.3h-1.3zM202.3 866.3h1.3v1.3h-1.3zM208.8 851.9h1.3v1.3h-1.3zM199.3 863.1h1.3v1.3h-1.3zM207.7 856.8h1.3v1.3h-1.3zM190.1 876.9h1.3v1.3h-1.3zM211.4 844.4h1.3v1.3h-1.3zM189.8 856.5h1.3v1.3h-1.3zM185.9 852.5h1.3v1.3h-1.3zM203.5 844.5h1.3v1.3h-1.3zM205.6 869.8h1.3v1.3h-1.3zM194.1 866.5h1.3v1.3h-1.3zM204.8 873.1h1.3v1.3h-1.3zM197.0 863.8h1.3v1.3h-1.3zM203.9 841.9h1.3v1.3h-1.3zM187.6 848.1h1.3v1.3h-1.3zM215.5 849.4h1.3v1.3h-1.3zM194.4 870.1h1.3v1.3h-1.3zM201.7 860.0h1.3v1.3h-1.3zM198.8 860.1h1.3v1.3h-1.3zM197.0 873.8h1.3v1.3h-1.3zM209.9 843.5h1.3v1.3h-1.3zM202.3 857.4h1.3v1.3h-1.3zM220.2 848.8h1.3v1.3h-1.3zM189.0 857.7h1.3v1.3h-1.3zM197.4 847.5h1.3v1.3h-1.3zM203.5 862.6h1.3v1.3h-1.3zM192.2 841.0h1.3v1.3h-1.3zM209.3 848.1h1.3v1.3h-1.3zM203.1 863.0h1.3v1.3h-1.3zM185.6 849.6h1.3v1.3h-1.3zM194.2 860.3h1.3v1.3h-1.3zM189.1 859.8h1.3v1.3h-1.3zM207.7 868.7h1.3v1.3h-1.3zM225.8 851.4h1.3v1.3h-1.3zM204.8 842.3h1.3v1.3h-1.3zM217.0 863.1h1.3v1.3h-1.3zM213.1 840.5h1.3v1.3h-1.3zM197.4 843.5h1.3v1.3h-1.3zM206.6 844.8h1.3v1.3h-1.3zM209.9 859.7h1.3v1.3h-1.3zM208.7 845.6h1.3v1.3h-1.3zM190.9 870.0h1.3v1.3h-1.3zM200.4 863.6h1.3v1.3h-1.3zM205.4 841.7h1.3v1.3h-1.3zM201.5 870.8h1.3v1.3h-1.3z"/>
<ellipse cx="206" cy="860" rx="6" ry="7" fill="#e03a2a" fill-opacity="0.9" filter="url(#bl4)"/>
<path fill="#c07060" d="M216.9 830.5h1.3v1.3h-1.3zM219.1 837.2h1.3v1.3h-1.3zM225.8 821.7h1.3v1.3h-1.3zM214.4 843.7h1.3v1.3h-1.3zM224.6 831.0h1.3v1.3h-1.3zM214.2 846.3h1.3v1.3h-1.3zM218.8 843.5h1.3v1.3h-1.3zM228.6 835.2h1.3v1.3h-1.3zM220.5 835.6h1.3v1.3h-1.3zM228.5 823.6h1.3v1.3h-1.3zM231.9 825.9h1.3v1.3h-1.3zM227.7 826.1h1.3v1.3h-1.3zM216.4 840.8h1.3v1.3h-1.3zM216.8 829.2h1.3v1.3h-1.3zM226.1 826.3h1.3v1.3h-1.3zM216.3 844.5h1.3v1.3h-1.3zM215.4 838.3h1.3v1.3h-1.3zM221.2 824.1h1.3v1.3h-1.3zM225.8 828.8h1.3v1.3h-1.3z"/>
<path fill="#a85a48" d="M214.7 838.5h1.3v1.3h-1.3zM226.2 831.4h1.3v1.3h-1.3zM217.6 835.1h1.3v1.3h-1.3zM219.8 844.1h1.3v1.3h-1.3zM229.6 821.7h1.3v1.3h-1.3zM218.4 839.9h1.3v1.3h-1.3zM217.0 843.9h1.3v1.3h-1.3zM218.4 828.4h1.3v1.3h-1.3zM222.2 837.9h1.3v1.3h-1.3zM207.0 841.9h1.3v1.3h-1.3zM218.7 837.5h1.3v1.3h-1.3zM231.0 827.1h1.3v1.3h-1.3zM215.5 837.2h1.3v1.3h-1.3zM212.7 836.3h1.3v1.3h-1.3zM225.0 822.7h1.3v1.3h-1.3zM223.3 831.5h1.3v1.3h-1.3zM217.4 839.0h1.3v1.3h-1.3zM221.9 836.4h1.3v1.3h-1.3z"/>
<path fill="#c89080" d="M213.4 839.9h1.3v1.3h-1.3zM218.9 842.8h1.3v1.3h-1.3zM220.8 835.5h1.3v1.3h-1.3zM215.3 844.9h1.3v1.3h-1.3zM224.8 825.5h1.3v1.3h-1.3zM221.3 838.6h1.3v1.3h-1.3zM219.0 841.8h1.3v1.3h-1.3zM223.9 830.7h1.3v1.3h-1.3zM218.1 836.1h1.3v1.3h-1.3zM221.2 833.4h1.3v1.3h-1.3zM209.8 844.7h1.3v1.3h-1.3zM220.3 837.7h1.3v1.3h-1.3zM227.2 822.8h1.3v1.3h-1.3zM228.0 818.4h1.3v1.3h-1.3zM224.1 826.1h1.3v1.3h-1.3z"/>
<path fill="#c88070" d="M220.6 830.0h1.3v1.3h-1.3zM229.5 823.9h1.3v1.3h-1.3zM226.6 828.4h1.3v1.3h-1.3zM226.9 834.3h1.3v1.3h-1.3zM212.6 834.9h1.3v1.3h-1.3zM219.9 835.2h1.3v1.3h-1.3zM218.0 844.8h1.3v1.3h-1.3zM228.0 833.1h1.3v1.3h-1.3zM226.2 835.9h1.3v1.3h-1.3zM217.7 842.6h1.3v1.3h-1.3zM221.9 834.2h1.3v1.3h-1.3zM219.6 834.3h1.3v1.3h-1.3zM225.7 822.7h1.3v1.3h-1.3zM215.7 832.3h1.3v1.3h-1.3zM225.8 834.5h1.3v1.3h-1.3zM225.7 827.1h1.3v1.3h-1.3zM217.1 839.1h1.3v1.3h-1.3z"/>
<path fill="#d08878" d="M224.2 822.0h1.3v1.3h-1.3zM216.5 843.0h1.3v1.3h-1.3zM223.2 832.6h1.3v1.3h-1.3zM214.2 836.6h1.3v1.3h-1.3zM213.7 837.0h1.3v1.3h-1.3zM226.7 836.3h1.3v1.3h-1.3zM215.6 836.0h1.3v1.3h-1.3zM219.2 832.9h1.3v1.3h-1.3zM215.0 831.8h1.3v1.3h-1.3zM217.2 837.7h1.3v1.3h-1.3zM224.2 829.5h1.3v1.3h-1.3zM214.0 836.7h1.3v1.3h-1.3zM221.6 832.3h1.3v1.3h-1.3zM216.6 835.3h1.3v1.3h-1.3zM225.6 828.3h1.3v1.3h-1.3zM227.6 823.0h1.3v1.3h-1.3z"/>
<path fill="#e0a898" d="M231.9 827.0h1.3v1.3h-1.3zM213.7 844.4h1.3v1.3h-1.3zM217.4 831.9h1.3v1.3h-1.3zM226.4 823.7h1.3v1.3h-1.3zM224.0 822.7h1.3v1.3h-1.3zM226.2 831.1h1.3v1.3h-1.3zM222.1 845.9h1.3v1.3h-1.3zM224.4 836.8h1.3v1.3h-1.3zM221.5 837.4h1.3v1.3h-1.3zM216.4 839.8h1.3v1.3h-1.3zM226.3 820.9h1.3v1.3h-1.3zM226.1 829.2h1.3v1.3h-1.3zM210.8 845.3h1.3v1.3h-1.3zM220.2 849.9h1.3v1.3h-1.3zM219.1 833.5h1.3v1.3h-1.3zM225.0 824.5h1.3v1.3h-1.3zM216.3 836.7h1.3v1.3h-1.3z"/>
<path fill="#dca090" d="M227.2 837.8h1.3v1.3h-1.3zM218.1 829.0h1.3v1.3h-1.3zM215.2 844.4h1.3v1.3h-1.3zM232.3 817.0h1.3v1.3h-1.3zM215.0 836.0h1.3v1.3h-1.3zM212.0 837.3h1.3v1.3h-1.3zM231.7 819.2h1.3v1.3h-1.3zM223.8 830.4h1.3v1.3h-1.3zM215.9 849.4h1.3v1.3h-1.3zM221.2 833.2h1.3v1.3h-1.3zM223.2 827.1h1.3v1.3h-1.3zM215.0 845.6h1.3v1.3h-1.3zM215.8 842.3h1.3v1.3h-1.3zM231.2 827.2h1.3v1.3h-1.3zM221.8 834.0h1.3v1.3h-1.3zM226.6 830.1h1.3v1.3h-1.3zM227.6 823.1h1.3v1.3h-1.3zM222.5 823.1h1.3v1.3h-1.3zM218.7 838.7h1.3v1.3h-1.3zM230.5 827.3h1.3v1.3h-1.3zM222.5 831.7h1.3v1.3h-1.3zM219.5 826.8h1.3v1.3h-1.3zM212.2 836.4h1.3v1.3h-1.3zM226.6 824.6h1.3v1.3h-1.3zM217.9 843.5h1.3v1.3h-1.3z"/>
<path fill="#b06048" d="M219.3 830.2h1.3v1.3h-1.3zM225.4 831.7h1.3v1.3h-1.3zM215.1 837.9h1.3v1.3h-1.3zM227.6 824.7h1.3v1.3h-1.3zM224.7 831.3h1.3v1.3h-1.3zM215.8 836.0h1.3v1.3h-1.3zM217.1 832.0h1.3v1.3h-1.3zM226.7 824.3h1.3v1.3h-1.3zM213.0 843.0h1.3v1.3h-1.3zM213.9 842.1h1.3v1.3h-1.3zM220.8 833.6h1.3v1.3h-1.3zM230.1 821.3h1.3v1.3h-1.3zM223.2 828.0h1.3v1.3h-1.3zM213.3 846.3h1.3v1.3h-1.3zM210.5 841.4h1.3v1.3h-1.3zM214.1 846.9h1.3v1.3h-1.3zM229.0 823.1h1.3v1.3h-1.3zM225.6 825.0h1.3v1.3h-1.3zM216.2 837.2h1.3v1.3h-1.3zM212.3 843.3h1.3v1.3h-1.3zM215.2 833.7h1.3v1.3h-1.3z"/>
<path fill="#b86450" d="M222.8 835.1h1.3v1.3h-1.3zM220.5 834.7h1.3v1.3h-1.3zM223.4 834.9h1.3v1.3h-1.3zM218.5 845.1h1.3v1.3h-1.3zM215.6 843.0h1.3v1.3h-1.3zM230.8 825.0h1.3v1.3h-1.3zM213.6 833.5h1.3v1.3h-1.3zM222.2 822.9h1.3v1.3h-1.3zM222.0 837.5h1.3v1.3h-1.3zM229.3 819.6h1.3v1.3h-1.3zM215.6 841.7h1.3v1.3h-1.3zM215.7 849.5h1.3v1.3h-1.3z"/>
<path fill="#dca090" d="M205.5 796.9h1.3v1.3h-1.3zM203.5 802.2h1.3v1.3h-1.3zM225.8 796.4h1.3v1.3h-1.3zM222.4 826.5h1.3v1.3h-1.3zM224.0 808.5h1.3v1.3h-1.3zM202.5 817.6h1.3v1.3h-1.3z"/>
<path fill="#b86450" d="M209.1 811.3h1.3v1.3h-1.3zM225.5 822.6h1.3v1.3h-1.3zM208.5 811.4h1.3v1.3h-1.3zM201.1 805.9h1.3v1.3h-1.3zM222.4 803.6h1.3v1.3h-1.3zM228.4 804.3h1.3v1.3h-1.3zM219.1 801.4h1.3v1.3h-1.3zM210.1 806.7h1.3v1.3h-1.3zM207.1 817.9h1.3v1.3h-1.3zM202.8 818.7h1.3v1.3h-1.3zM213.7 820.5h1.3v1.3h-1.3zM221.9 812.4h1.3v1.3h-1.3z"/>
<path fill="#d08878" d="M204.1 819.7h1.3v1.3h-1.3zM206.5 812.4h1.3v1.3h-1.3zM225.1 821.2h1.3v1.3h-1.3zM229.2 803.0h1.3v1.3h-1.3zM202.4 805.1h1.3v1.3h-1.3zM210.9 804.4h1.3v1.3h-1.3zM215.0 818.5h1.3v1.3h-1.3z"/>
<path fill="#e0a898" d="M217.5 819.9h1.3v1.3h-1.3zM223.7 829.8h1.3v1.3h-1.3zM212.0 819.0h1.3v1.3h-1.3zM209.8 799.2h1.3v1.3h-1.3zM211.0 826.0h1.3v1.3h-1.3zM229.4 825.6h1.3v1.3h-1.3zM215.9 822.1h1.3v1.3h-1.3zM225.2 820.9h1.3v1.3h-1.3zM225.9 797.9h1.3v1.3h-1.3z"/>
<path fill="#c89080" d="M221.7 830.9h1.3v1.3h-1.3zM229.8 824.5h1.3v1.3h-1.3zM209.4 818.6h1.3v1.3h-1.3zM203.0 799.2h1.3v1.3h-1.3zM202.5 813.3h1.3v1.3h-1.3zM227.6 816.9h1.3v1.3h-1.3zM228.5 812.7h1.3v1.3h-1.3zM222.0 796.4h1.3v1.3h-1.3z"/>
<path fill="#c07060" d="M216.1 827.2h1.3v1.3h-1.3zM217.4 810.3h1.3v1.3h-1.3zM219.8 816.3h1.3v1.3h-1.3zM227.8 831.1h1.3v1.3h-1.3zM205.5 801.0h1.3v1.3h-1.3zM206.1 801.5h1.3v1.3h-1.3z"/>
<path fill="#a85a48" d="M214.4 818.8h1.3v1.3h-1.3zM207.3 825.4h1.3v1.3h-1.3zM230.0 801.6h1.3v1.3h-1.3zM216.2 820.5h1.3v1.3h-1.3zM224.8 810.5h1.3v1.3h-1.3zM230.0 820.4h1.3v1.3h-1.3zM229.7 797.2h1.3v1.3h-1.3z"/>
<path fill="#c88070" d="M225.7 826.4h1.3v1.3h-1.3zM215.7 803.6h1.3v1.3h-1.3zM227.1 828.5h1.3v1.3h-1.3zM206.8 815.0h1.3v1.3h-1.3z"/>
<path fill="#b06048" d="M209.7 797.6h1.3v1.3h-1.3zM212.0 812.2h1.3v1.3h-1.3zM205.9 797.8h1.3v1.3h-1.3zM203.5 798.5h1.3v1.3h-1.3zM216.2 813.6h1.3v1.3h-1.3zM216.8 814.5h1.3v1.3h-1.3zM219.8 820.8h1.3v1.3h-1.3zM222.6 799.6h1.3v1.3h-1.3zM211.2 799.3h1.3v1.3h-1.3z"/>
<path fill="#dca090" d="M241.9 824.1h1.3v1.3h-1.3zM252.1 834.2h1.3v1.3h-1.3zM239.3 834.6h1.3v1.3h-1.3zM243.1 822.6h1.3v1.3h-1.3zM235.9 822.3h1.3v1.3h-1.3zM235.9 833.6h1.3v1.3h-1.3z"/>
<path fill="#c89080" d="M236.8 833.0h1.3v1.3h-1.3zM240.6 828.9h1.3v1.3h-1.3zM240.7 828.9h1.3v1.3h-1.3zM243.8 828.9h1.3v1.3h-1.3z"/>
<path fill="#d08878" d="M240.7 823.8h1.3v1.3h-1.3zM235.3 831.1h1.3v1.3h-1.3zM232.2 824.7h1.3v1.3h-1.3zM248.7 836.1h1.3v1.3h-1.3zM240.9 841.1h1.3v1.3h-1.3z"/>
<path fill="#c88070" d="M232.6 836.5h1.3v1.3h-1.3zM244.6 822.9h1.3v1.3h-1.3zM237.8 835.3h1.3v1.3h-1.3z"/>
<path fill="#e0a898" d="M235.8 824.3h1.3v1.3h-1.3zM248.5 844.5h1.3v1.3h-1.3zM252.9 823.3h1.3v1.3h-1.3zM240.3 842.0h1.3v1.3h-1.3zM233.8 833.4h1.3v1.3h-1.3zM235.7 837.9h1.3v1.3h-1.3zM253.6 827.6h1.3v1.3h-1.3zM235.7 837.0h1.3v1.3h-1.3z"/>
<path fill="#666" d="M216.5 781.0h1.8v1.8h-1.8z"/>
</g>
<line x1="179.5" y1="746.2" x2="300.5" y2="746.2" stroke="#444" stroke-width="1.2"/>
<line x1="300.5" y1="746.2" x2="300.5" y2="895.5" stroke="#444" stroke-width="1.2"/>
<line x1="179.5" y1="746.2" x2="179.5" y2="896.5" stroke="#111" stroke-width="2.2"/>
<line x1="178.5" y1="895.5" x2="300.5" y2="895.5" stroke="#111" stroke-width="2.2"/>
<line x1="231.2" y1="746.2" x2="231.2" y2="895.5" stroke="#444" stroke-width="1.2"/>
<line x1="179.5" y1="828.1" x2="300.5" y2="828.1" stroke="#444" stroke-width="1.2"/>
<line x1="175.5" y1="760.9" x2="179.5" y2="760.9" stroke="#222" stroke-width="1.3"/>
<line x1="177.3" y1="784.8" x2="179.5" y2="784.8" stroke="#333" stroke-width="0.9"/>
<line x1="177.3" y1="778.8" x2="179.5" y2="778.8" stroke="#333" stroke-width="0.9"/>
<line x1="177.3" y1="774.5" x2="179.5" y2="774.5" stroke="#333" stroke-width="0.9"/>
<line x1="177.3" y1="771.2" x2="179.5" y2="771.2" stroke="#333" stroke-width="0.9"/>
<line x1="177.3" y1="768.5" x2="179.5" y2="768.5" stroke="#333" stroke-width="0.9"/>
<line x1="177.3" y1="766.2" x2="179.5" y2="766.2" stroke="#333" stroke-width="0.9"/>
<line x1="177.3" y1="764.2" x2="179.5" y2="764.2" stroke="#333" stroke-width="0.9"/>
<line x1="177.3" y1="762.5" x2="179.5" y2="762.5" stroke="#333" stroke-width="0.9"/>
<line x1="175.5" y1="795.1" x2="179.5" y2="795.1" stroke="#222" stroke-width="1.3"/>
<line x1="177.3" y1="818.2" x2="179.5" y2="818.2" stroke="#333" stroke-width="0.9"/>
<line x1="177.3" y1="812.4" x2="179.5" y2="812.4" stroke="#333" stroke-width="0.9"/>
<line x1="177.3" y1="808.2" x2="179.5" y2="808.2" stroke="#333" stroke-width="0.9"/>
<line x1="177.3" y1="805.0" x2="179.5" y2="805.0" stroke="#333" stroke-width="0.9"/>
<line x1="177.3" y1="802.4" x2="179.5" y2="802.4" stroke="#333" stroke-width="0.9"/>
<line x1="177.3" y1="800.2" x2="179.5" y2="800.2" stroke="#333" stroke-width="0.9"/>
<line x1="177.3" y1="798.3" x2="179.5" y2="798.3" stroke="#333" stroke-width="0.9"/>
<line x1="177.3" y1="796.6" x2="179.5" y2="796.6" stroke="#333" stroke-width="0.9"/>
<line x1="175.5" y1="828.1" x2="179.5" y2="828.1" stroke="#222" stroke-width="1.3"/>
<line x1="177.3" y1="852.1" x2="179.5" y2="852.1" stroke="#333" stroke-width="0.9"/>
<line x1="177.3" y1="846.0" x2="179.5" y2="846.0" stroke="#333" stroke-width="0.9"/>
<line x1="177.3" y1="841.7" x2="179.5" y2="841.7" stroke="#333" stroke-width="0.9"/>
<line x1="177.3" y1="838.4" x2="179.5" y2="838.4" stroke="#333" stroke-width="0.9"/>
<line x1="177.3" y1="835.7" x2="179.5" y2="835.7" stroke="#333" stroke-width="0.9"/>
<line x1="177.3" y1="833.4" x2="179.5" y2="833.4" stroke="#333" stroke-width="0.9"/>
<line x1="177.3" y1="831.4" x2="179.5" y2="831.4" stroke="#333" stroke-width="0.9"/>
<line x1="177.3" y1="829.7" x2="179.5" y2="829.7" stroke="#333" stroke-width="0.9"/>
<line x1="175.5" y1="862.4" x2="179.5" y2="862.4" stroke="#222" stroke-width="1.3"/>
<line x1="177.3" y1="885.5" x2="179.5" y2="885.5" stroke="#333" stroke-width="0.9"/>
<line x1="177.3" y1="879.7" x2="179.5" y2="879.7" stroke="#333" stroke-width="0.9"/>
<line x1="177.3" y1="875.6" x2="179.5" y2="875.6" stroke="#333" stroke-width="0.9"/>
<line x1="177.3" y1="872.4" x2="179.5" y2="872.4" stroke="#333" stroke-width="0.9"/>
<line x1="177.3" y1="869.7" x2="179.5" y2="869.7" stroke="#333" stroke-width="0.9"/>
<line x1="177.3" y1="867.5" x2="179.5" y2="867.5" stroke="#333" stroke-width="0.9"/>
<line x1="177.3" y1="865.6" x2="179.5" y2="865.6" stroke="#333" stroke-width="0.9"/>
<line x1="177.3" y1="863.9" x2="179.5" y2="863.9" stroke="#333" stroke-width="0.9"/>
<line x1="175.5" y1="895.5" x2="179.5" y2="895.5" stroke="#222" stroke-width="1.3"/>
<line x1="180.3" y1="895.5" x2="180.3" y2="899.5" stroke="#222" stroke-width="1.3"/>
<line x1="188.6" y1="895.5" x2="188.6" y2="897.7" stroke="#333" stroke-width="0.9"/>
<line x1="193.4" y1="895.5" x2="193.4" y2="897.7" stroke="#333" stroke-width="0.9"/>
<line x1="196.9" y1="895.5" x2="196.9" y2="897.7" stroke="#333" stroke-width="0.9"/>
<line x1="199.5" y1="895.5" x2="199.5" y2="897.7" stroke="#333" stroke-width="0.9"/>
<line x1="201.7" y1="895.5" x2="201.7" y2="897.7" stroke="#333" stroke-width="0.9"/>
<line x1="203.5" y1="895.5" x2="203.5" y2="897.7" stroke="#333" stroke-width="0.9"/>
<line x1="205.1" y1="895.5" x2="205.1" y2="897.7" stroke="#333" stroke-width="0.9"/>
<line x1="206.5" y1="895.5" x2="206.5" y2="897.7" stroke="#333" stroke-width="0.9"/>
<line x1="207.8" y1="895.5" x2="207.8" y2="899.5" stroke="#222" stroke-width="1.3"/>
<line x1="216.1" y1="895.5" x2="216.1" y2="897.7" stroke="#333" stroke-width="0.9"/>
<line x1="220.9" y1="895.5" x2="220.9" y2="897.7" stroke="#333" stroke-width="0.9"/>
<line x1="224.4" y1="895.5" x2="224.4" y2="897.7" stroke="#333" stroke-width="0.9"/>
<line x1="227.0" y1="895.5" x2="227.0" y2="897.7" stroke="#333" stroke-width="0.9"/>
<line x1="229.2" y1="895.5" x2="229.2" y2="897.7" stroke="#333" stroke-width="0.9"/>
<line x1="231.0" y1="895.5" x2="231.0" y2="897.7" stroke="#333" stroke-width="0.9"/>
<line x1="232.6" y1="895.5" x2="232.6" y2="897.7" stroke="#333" stroke-width="0.9"/>
<line x1="234.0" y1="895.5" x2="234.0" y2="897.7" stroke="#333" stroke-width="0.9"/>
<line x1="235.3" y1="895.5" x2="235.3" y2="899.5" stroke="#222" stroke-width="1.3"/>
<line x1="243.6" y1="895.5" x2="243.6" y2="897.7" stroke="#333" stroke-width="0.9"/>
<line x1="248.4" y1="895.5" x2="248.4" y2="897.7" stroke="#333" stroke-width="0.9"/>
<line x1="251.9" y1="895.5" x2="251.9" y2="897.7" stroke="#333" stroke-width="0.9"/>
<line x1="254.5" y1="895.5" x2="254.5" y2="897.7" stroke="#333" stroke-width="0.9"/>
<line x1="256.7" y1="895.5" x2="256.7" y2="897.7" stroke="#333" stroke-width="0.9"/>
<line x1="258.5" y1="895.5" x2="258.5" y2="897.7" stroke="#333" stroke-width="0.9"/>
<line x1="260.1" y1="895.5" x2="260.1" y2="897.7" stroke="#333" stroke-width="0.9"/>
<line x1="261.5" y1="895.5" x2="261.5" y2="897.7" stroke="#333" stroke-width="0.9"/>
<line x1="262.8" y1="895.5" x2="262.8" y2="899.5" stroke="#222" stroke-width="1.3"/>
<line x1="271.1" y1="895.5" x2="271.1" y2="897.7" stroke="#333" stroke-width="0.9"/>
<line x1="275.9" y1="895.5" x2="275.9" y2="897.7" stroke="#333" stroke-width="0.9"/>
<line x1="279.4" y1="895.5" x2="279.4" y2="897.7" stroke="#333" stroke-width="0.9"/>
<line x1="282.0" y1="895.5" x2="282.0" y2="897.7" stroke="#333" stroke-width="0.9"/>
<line x1="284.2" y1="895.5" x2="284.2" y2="897.7" stroke="#333" stroke-width="0.9"/>
<line x1="286.0" y1="895.5" x2="286.0" y2="897.7" stroke="#333" stroke-width="0.9"/>
<line x1="287.6" y1="895.5" x2="287.6" y2="897.7" stroke="#333" stroke-width="0.9"/>
<line x1="289.0" y1="895.5" x2="289.0" y2="897.7" stroke="#333" stroke-width="0.9"/>
<line x1="290.3" y1="895.5" x2="290.3" y2="899.5" stroke="#222" stroke-width="1.3"/>
<text x="164.0" y="773.5" font-size="14.63" fill="#555" text-anchor="end" textLength="12.6" lengthAdjust="spacingAndGlyphs">10</text>
<text x="164.3" y="766.4" font-size="11.13" fill="#555" textLength="5.8" lengthAdjust="spacingAndGlyphs">5</text>
<text x="164.0" y="807.7" font-size="14.63" fill="#555" text-anchor="end" textLength="12.6" lengthAdjust="spacingAndGlyphs">10</text>
<text x="164.3" y="800.6" font-size="11.13" fill="#555" textLength="5.8" lengthAdjust="spacingAndGlyphs">4</text>
<text x="164.0" y="840.7" font-size="14.63" fill="#555" text-anchor="end" textLength="12.6" lengthAdjust="spacingAndGlyphs">10</text>
<text x="164.3" y="833.6" font-size="11.13" fill="#555" textLength="5.8" lengthAdjust="spacingAndGlyphs">3</text>
<text x="164.0" y="875.0" font-size="14.63" fill="#555" text-anchor="end" textLength="12.6" lengthAdjust="spacingAndGlyphs">10</text>
<text x="164.3" y="867.9" font-size="11.13" fill="#555" textLength="5.8" lengthAdjust="spacingAndGlyphs">2</text>
<text x="164.0" y="908.1" font-size="14.63" fill="#555" text-anchor="end" textLength="12.6" lengthAdjust="spacingAndGlyphs">10</text>
<text x="164.3" y="901.0" font-size="11.13" fill="#555" textLength="5.8" lengthAdjust="spacingAndGlyphs">1</text>
<text x="179.9" y="924.6" font-size="14.63" fill="#555" text-anchor="end" textLength="14.6" lengthAdjust="spacingAndGlyphs">10</text>
<text x="179.4" y="916.5" font-size="11.13" fill="#555" textLength="5.8" lengthAdjust="spacingAndGlyphs">1</text>
<text x="207.4" y="924.6" font-size="14.63" fill="#555" text-anchor="end" textLength="14.6" lengthAdjust="spacingAndGlyphs">10</text>
<text x="206.9" y="916.5" font-size="11.13" fill="#555" textLength="5.8" lengthAdjust="spacingAndGlyphs">2</text>
<text x="234.9" y="924.6" font-size="14.63" fill="#555" text-anchor="end" textLength="14.6" lengthAdjust="spacingAndGlyphs">10</text>
<text x="234.4" y="916.5" font-size="11.13" fill="#555" textLength="5.8" lengthAdjust="spacingAndGlyphs">3</text>
<text x="262.4" y="924.6" font-size="14.63" fill="#555" text-anchor="end" textLength="14.6" lengthAdjust="spacingAndGlyphs">10</text>
<text x="261.9" y="916.5" font-size="11.13" fill="#555" textLength="5.8" lengthAdjust="spacingAndGlyphs">4</text>
<text x="289.9" y="924.6" font-size="14.63" fill="#555" text-anchor="end" textLength="14.6" lengthAdjust="spacingAndGlyphs">10</text>
<text x="289.4" y="916.5" font-size="11.13" fill="#555" textLength="5.8" lengthAdjust="spacingAndGlyphs">5</text>
<text x="139.8" y="821.5" font-size="12.8" fill="#666" text-anchor="middle" textLength="29.5" lengthAdjust="spacingAndGlyphs" transform="rotate(-90 139.8 821.5)">Va24</text>
<text x="239.3" y="933.0" font-size="13.57" fill="#666" text-anchor="middle" textLength="24.9" lengthAdjust="spacingAndGlyphs">Vb11</text>
<text x="180.3" y="764.7" font-size="16.75" fill="#6a6a6a" textLength="46.1" lengthAdjust="spacingAndGlyphs">0.28%</text>
<text x="242.2" y="764.7" font-size="16.75" fill="#6a6a6a" textLength="46.2" lengthAdjust="spacingAndGlyphs">0.03%</text>
<text x="180.3" y="888.6" font-size="16.75" fill="#6a6a6a" textLength="54.0" lengthAdjust="spacingAndGlyphs">99.58%</text>
<text x="258.8" y="888.6" font-size="16.75" fill="#6a6a6a" textLength="43.0" lengthAdjust="spacingAndGlyphs">0.11%</text>
<clipPath id="cp4"><rect x="367.3" y="744.8" width="121.2" height="150.7"/></clipPath>
<g clip-path="url(#cp4)">
<ellipse cx="425.5" cy="846" rx="11" ry="22" fill="#b0604e" fill-opacity="0.45" filter="url(#bl4)"/>
<ellipse cx="389" cy="870" rx="9" ry="14" fill="#c07a68" fill-opacity="0.35" filter="url(#bl4)"/>
<path fill="#a0503e" d="M399.4 884.0h1.3v1.3h-1.3zM380.5 870.8h1.3v1.3h-1.3zM367.8 871.9h1.3v1.3h-1.3zM382.0 865.8h1.3v1.3h-1.3zM403.0 889.0h1.3v1.3h-1.3zM384.7 874.5h1.3v1.3h-1.3zM387.5 858.4h1.3v1.3h-1.3zM395.7 875.5h1.3v1.3h-1.3zM387.8 870.5h1.3v1.3h-1.3zM389.1 858.2h1.3v1.3h-1.3zM381.1 863.9h1.3v1.3h-1.3zM409.1 861.2h1.3v1.3h-1.3zM376.3 890.3h1.3v1.3h-1.3zM388.8 865.9h1.3v1.3h-1.3zM397.7 889.9h1.3v1.3h-1.3zM387.5 877.6h1.3v1.3h-1.3zM386.5 876.1h1.3v1.3h-1.3zM395.5 868.5h1.3v1.3h-1.3zM391.7 874.1h1.3v1.3h-1.3zM387.4 885.6h1.3v1.3h-1.3zM410.5 883.8h1.3v1.3h-1.3zM394.7 870.4h1.3v1.3h-1.3zM399.7 875.0h1.3v1.3h-1.3zM391.6 876.4h1.3v1.3h-1.3zM412.6 871.8h1.3v1.3h-1.3zM394.1 869.7h1.3v1.3h-1.3zM396.0 874.2h1.3v1.3h-1.3zM383.7 865.3h1.3v1.3h-1.3zM390.7 858.7h1.3v1.3h-1.3zM387.4 875.0h1.3v1.3h-1.3zM386.9 874.2h1.3v1.3h-1.3zM389.8 864.9h1.3v1.3h-1.3zM380.5 856.1h1.3v1.3h-1.3zM386.2 882.8h1.3v1.3h-1.3zM398.0 887.4h1.3v1.3h-1.3zM382.9 878.4h1.3v1.3h-1.3zM393.2 860.5h1.3v1.3h-1.3zM368.8 850.7h1.3v1.3h-1.3zM399.2 858.1h1.3v1.3h-1.3zM396.4 894.0h1.3v1.3h-1.3zM403.4 855.5h1.3v1.3h-1.3zM377.5 880.2h1.3v1.3h-1.3zM390.7 869.1h1.3v1.3h-1.3zM391.0 873.9h1.3v1.3h-1.3zM380.4 879.1h1.3v1.3h-1.3zM386.1 872.9h1.3v1.3h-1.3zM388.5 886.4h1.3v1.3h-1.3zM404.0 876.9h1.3v1.3h-1.3zM383.0 879.3h1.3v1.3h-1.3zM367.8 884.2h1.3v1.3h-1.3zM397.5 872.2h1.3v1.3h-1.3zM398.8 875.9h1.3v1.3h-1.3zM380.8 857.1h1.3v1.3h-1.3zM387.2 864.2h1.3v1.3h-1.3zM378.6 877.5h1.3v1.3h-1.3zM368.2 842.2h1.3v1.3h-1.3zM391.0 867.6h1.3v1.3h-1.3zM400.6 881.9h1.3v1.3h-1.3zM386.7 890.6h1.3v1.3h-1.3zM379.7 880.5h1.3v1.3h-1.3zM374.9 885.3h1.3v1.3h-1.3zM402.9 876.8h1.3v1.3h-1.3zM388.7 886.1h1.3v1.3h-1.3zM372.8 874.8h1.3v1.3h-1.3zM391.6 890.4h1.3v1.3h-1.3zM384.0 865.5h1.3v1.3h-1.3zM394.6 878.0h1.3v1.3h-1.3zM379.6 888.1h1.3v1.3h-1.3zM375.4 881.5h1.3v1.3h-1.3z"/>
<path fill="#b06452" d="M379.0 880.8h1.3v1.3h-1.3zM390.4 873.0h1.3v1.3h-1.3zM379.9 861.9h1.3v1.3h-1.3zM394.5 870.4h1.3v1.3h-1.3zM393.7 865.5h1.3v1.3h-1.3zM390.3 864.6h1.3v1.3h-1.3zM379.7 878.5h1.3v1.3h-1.3zM376.9 882.2h1.3v1.3h-1.3zM367.8 888.2h1.3v1.3h-1.3zM385.2 888.8h1.3v1.3h-1.3zM388.8 864.7h1.3v1.3h-1.3zM379.4 858.0h1.3v1.3h-1.3zM391.4 862.1h1.3v1.3h-1.3zM388.4 858.0h1.3v1.3h-1.3zM409.4 878.3h1.3v1.3h-1.3zM394.6 880.8h1.3v1.3h-1.3zM389.5 871.0h1.3v1.3h-1.3zM399.8 855.1h1.3v1.3h-1.3zM389.2 868.2h1.3v1.3h-1.3zM395.7 857.0h1.3v1.3h-1.3zM401.7 855.1h1.3v1.3h-1.3zM391.6 872.1h1.3v1.3h-1.3zM387.8 856.0h1.3v1.3h-1.3zM386.8 874.5h1.3v1.3h-1.3zM389.9 887.7h1.3v1.3h-1.3zM403.4 872.5h1.3v1.3h-1.3zM374.2 846.4h1.3v1.3h-1.3zM390.2 875.6h1.3v1.3h-1.3zM390.8 872.0h1.3v1.3h-1.3zM389.1 894.0h1.3v1.3h-1.3zM381.2 866.4h1.3v1.3h-1.3zM405.2 860.4h1.3v1.3h-1.3zM394.8 886.8h1.3v1.3h-1.3zM379.9 856.5h1.3v1.3h-1.3zM389.9 883.2h1.3v1.3h-1.3zM395.3 880.3h1.3v1.3h-1.3zM368.0 879.4h1.3v1.3h-1.3zM408.8 852.2h1.3v1.3h-1.3zM382.9 872.2h1.3v1.3h-1.3zM397.1 883.7h1.3v1.3h-1.3zM377.6 856.0h1.3v1.3h-1.3zM408.8 894.0h1.3v1.3h-1.3zM392.4 871.0h1.3v1.3h-1.3zM385.7 871.2h1.3v1.3h-1.3zM384.9 865.4h1.3v1.3h-1.3zM389.2 869.9h1.3v1.3h-1.3zM394.8 860.0h1.3v1.3h-1.3zM394.6 884.1h1.3v1.3h-1.3zM393.0 853.6h1.3v1.3h-1.3zM390.3 871.2h1.3v1.3h-1.3zM402.2 862.1h1.3v1.3h-1.3zM392.3 847.5h1.3v1.3h-1.3zM402.7 882.2h1.3v1.3h-1.3zM391.4 881.8h1.3v1.3h-1.3zM388.7 894.0h1.3v1.3h-1.3zM378.7 859.7h1.3v1.3h-1.3zM384.1 894.0h1.3v1.3h-1.3zM391.2 882.7h1.3v1.3h-1.3zM381.4 862.9h1.3v1.3h-1.3zM375.0 865.0h1.3v1.3h-1.3zM380.7 837.7h1.3v1.3h-1.3zM389.4 863.8h1.3v1.3h-1.3zM396.8 879.4h1.3v1.3h-1.3zM404.1 880.6h1.3v1.3h-1.3zM387.0 873.1h1.3v1.3h-1.3zM393.9 894.0h1.3v1.3h-1.3zM391.8 873.5h1.3v1.3h-1.3zM381.4 879.4h1.3v1.3h-1.3zM401.8 859.3h1.3v1.3h-1.3zM382.3 868.2h1.3v1.3h-1.3zM388.3 851.3h1.3v1.3h-1.3zM382.2 859.3h1.3v1.3h-1.3zM382.4 867.6h1.3v1.3h-1.3zM391.2 878.9h1.3v1.3h-1.3zM391.8 855.8h1.3v1.3h-1.3zM395.2 858.3h1.3v1.3h-1.3zM379.5 870.0h1.3v1.3h-1.3zM388.4 846.9h1.3v1.3h-1.3zM394.9 858.8h1.3v1.3h-1.3zM388.8 868.3h1.3v1.3h-1.3zM377.5 871.6h1.3v1.3h-1.3zM386.9 868.4h1.3v1.3h-1.3z"/>
<path fill="#9a4a3a" d="M382.0 882.8h1.3v1.3h-1.3zM394.2 868.0h1.3v1.3h-1.3zM392.0 866.7h1.3v1.3h-1.3zM380.8 860.8h1.3v1.3h-1.3zM380.6 882.5h1.3v1.3h-1.3zM404.8 894.0h1.3v1.3h-1.3zM390.0 877.4h1.3v1.3h-1.3zM402.0 892.8h1.3v1.3h-1.3zM405.5 890.9h1.3v1.3h-1.3zM367.8 854.9h1.3v1.3h-1.3zM372.0 859.9h1.3v1.3h-1.3zM383.9 862.0h1.3v1.3h-1.3zM367.8 862.1h1.3v1.3h-1.3zM404.9 857.9h1.3v1.3h-1.3zM390.5 862.7h1.3v1.3h-1.3zM389.6 876.9h1.3v1.3h-1.3zM379.3 871.7h1.3v1.3h-1.3zM385.8 870.3h1.3v1.3h-1.3zM391.5 860.8h1.3v1.3h-1.3zM369.5 860.0h1.3v1.3h-1.3zM381.5 879.5h1.3v1.3h-1.3zM388.9 870.8h1.3v1.3h-1.3zM407.0 885.1h1.3v1.3h-1.3zM392.3 888.5h1.3v1.3h-1.3zM398.5 894.0h1.3v1.3h-1.3zM387.4 879.9h1.3v1.3h-1.3zM403.9 872.9h1.3v1.3h-1.3zM393.1 868.5h1.3v1.3h-1.3zM391.6 884.9h1.3v1.3h-1.3zM380.8 869.1h1.3v1.3h-1.3zM369.3 894.0h1.3v1.3h-1.3zM398.2 894.0h1.3v1.3h-1.3zM375.2 865.1h1.3v1.3h-1.3zM375.0 870.7h1.3v1.3h-1.3zM395.3 862.1h1.3v1.3h-1.3zM380.6 859.6h1.3v1.3h-1.3zM381.4 883.4h1.3v1.3h-1.3zM387.2 848.4h1.3v1.3h-1.3zM386.2 855.9h1.3v1.3h-1.3zM389.2 864.5h1.3v1.3h-1.3zM391.6 870.7h1.3v1.3h-1.3zM379.4 837.7h1.3v1.3h-1.3zM390.8 862.7h1.3v1.3h-1.3zM388.2 862.6h1.3v1.3h-1.3zM388.1 865.2h1.3v1.3h-1.3zM390.0 887.4h1.3v1.3h-1.3zM396.3 873.5h1.3v1.3h-1.3zM393.8 859.4h1.3v1.3h-1.3zM388.2 873.4h1.3v1.3h-1.3zM384.7 876.7h1.3v1.3h-1.3zM375.4 884.6h1.3v1.3h-1.3zM388.7 888.8h1.3v1.3h-1.3zM401.6 894.0h1.3v1.3h-1.3zM391.8 866.1h1.3v1.3h-1.3zM396.9 877.9h1.3v1.3h-1.3zM392.9 866.2h1.3v1.3h-1.3zM380.3 855.0h1.3v1.3h-1.3zM400.1 877.8h1.3v1.3h-1.3zM385.4 854.9h1.3v1.3h-1.3zM378.7 874.4h1.3v1.3h-1.3zM394.4 873.1h1.3v1.3h-1.3zM401.8 889.8h1.3v1.3h-1.3zM386.0 891.5h1.3v1.3h-1.3zM380.0 871.3h1.3v1.3h-1.3z"/>
<path fill="#c89080" d="M372.3 859.8h1.3v1.3h-1.3zM388.1 861.5h1.3v1.3h-1.3zM411.3 885.8h1.3v1.3h-1.3zM371.5 888.5h1.3v1.3h-1.3zM389.1 884.1h1.3v1.3h-1.3zM380.2 864.0h1.3v1.3h-1.3zM400.8 894.0h1.3v1.3h-1.3zM405.6 862.0h1.3v1.3h-1.3zM390.1 888.1h1.3v1.3h-1.3zM371.5 868.9h1.3v1.3h-1.3zM400.0 894.0h1.3v1.3h-1.3zM389.7 858.6h1.3v1.3h-1.3zM401.4 871.3h1.3v1.3h-1.3zM378.9 866.7h1.3v1.3h-1.3zM391.5 861.8h1.3v1.3h-1.3zM400.1 875.1h1.3v1.3h-1.3zM407.5 869.5h1.3v1.3h-1.3zM389.9 860.8h1.3v1.3h-1.3zM411.0 868.0h1.3v1.3h-1.3zM384.8 853.2h1.3v1.3h-1.3zM391.9 858.8h1.3v1.3h-1.3zM384.5 880.5h1.3v1.3h-1.3zM380.1 857.2h1.3v1.3h-1.3zM392.1 864.0h1.3v1.3h-1.3zM403.7 879.8h1.3v1.3h-1.3zM404.8 887.5h1.3v1.3h-1.3zM383.3 851.9h1.3v1.3h-1.3zM401.7 890.8h1.3v1.3h-1.3zM390.9 860.0h1.3v1.3h-1.3zM381.9 876.1h1.3v1.3h-1.3zM375.7 870.5h1.3v1.3h-1.3zM407.5 862.2h1.3v1.3h-1.3zM385.2 847.3h1.3v1.3h-1.3zM409.5 878.9h1.3v1.3h-1.3zM382.2 864.2h1.3v1.3h-1.3zM386.3 877.1h1.3v1.3h-1.3zM379.7 863.0h1.3v1.3h-1.3zM393.9 872.2h1.3v1.3h-1.3zM379.9 867.3h1.3v1.3h-1.3zM378.7 852.1h1.3v1.3h-1.3zM396.7 873.5h1.3v1.3h-1.3zM393.1 881.8h1.3v1.3h-1.3zM390.3 860.9h1.3v1.3h-1.3zM373.9 872.0h1.3v1.3h-1.3zM400.1 885.9h1.3v1.3h-1.3zM405.5 859.9h1.3v1.3h-1.3zM383.7 861.1h1.3v1.3h-1.3zM390.4 873.3h1.3v1.3h-1.3zM401.0 862.1h1.3v1.3h-1.3zM382.5 853.7h1.3v1.3h-1.3zM381.5 842.0h1.3v1.3h-1.3zM394.6 885.6h1.3v1.3h-1.3zM368.2 857.2h1.3v1.3h-1.3zM397.7 866.8h1.3v1.3h-1.3zM389.5 879.7h1.3v1.3h-1.3zM397.5 856.0h1.3v1.3h-1.3zM415.7 855.4h1.3v1.3h-1.3zM379.9 875.6h1.3v1.3h-1.3zM387.3 884.4h1.3v1.3h-1.3zM372.0 875.5h1.3v1.3h-1.3zM400.7 861.7h1.3v1.3h-1.3zM393.4 869.5h1.3v1.3h-1.3zM378.7 855.6h1.3v1.3h-1.3zM385.8 889.4h1.3v1.3h-1.3zM380.7 869.6h1.3v1.3h-1.3zM384.3 881.3h1.3v1.3h-1.3zM385.5 870.4h1.3v1.3h-1.3zM384.8 875.1h1.3v1.3h-1.3zM379.7 869.8h1.3v1.3h-1.3z"/>
<path fill="#c88070" d="M386.2 885.5h1.3v1.3h-1.3zM390.8 869.3h1.3v1.3h-1.3zM408.9 859.1h1.3v1.3h-1.3zM403.2 884.3h1.3v1.3h-1.3zM385.1 877.6h1.3v1.3h-1.3zM394.1 880.5h1.3v1.3h-1.3zM385.0 872.9h1.3v1.3h-1.3zM386.1 853.7h1.3v1.3h-1.3zM399.8 861.8h1.3v1.3h-1.3zM382.5 877.2h1.3v1.3h-1.3zM368.5 855.2h1.3v1.3h-1.3zM397.4 880.7h1.3v1.3h-1.3zM383.0 829.6h1.3v1.3h-1.3zM376.3 872.8h1.3v1.3h-1.3zM385.0 879.7h1.3v1.3h-1.3zM392.2 872.0h1.3v1.3h-1.3zM388.1 875.8h1.3v1.3h-1.3zM375.5 874.1h1.3v1.3h-1.3zM396.1 872.1h1.3v1.3h-1.3zM377.4 884.3h1.3v1.3h-1.3zM387.7 861.8h1.3v1.3h-1.3zM373.8 878.4h1.3v1.3h-1.3zM376.5 851.7h1.3v1.3h-1.3zM394.3 868.6h1.3v1.3h-1.3zM390.4 865.9h1.3v1.3h-1.3zM390.1 874.0h1.3v1.3h-1.3zM370.4 888.7h1.3v1.3h-1.3zM385.1 879.8h1.3v1.3h-1.3zM404.7 893.1h1.3v1.3h-1.3zM406.5 880.2h1.3v1.3h-1.3zM392.9 866.1h1.3v1.3h-1.3zM391.2 881.5h1.3v1.3h-1.3zM389.4 857.3h1.3v1.3h-1.3zM390.2 843.5h1.3v1.3h-1.3zM381.0 855.2h1.3v1.3h-1.3zM383.1 881.4h1.3v1.3h-1.3zM387.0 882.9h1.3v1.3h-1.3zM394.4 883.0h1.3v1.3h-1.3zM415.2 870.4h1.3v1.3h-1.3zM387.3 844.3h1.3v1.3h-1.3zM410.1 893.2h1.3v1.3h-1.3zM393.0 876.5h1.3v1.3h-1.3zM377.8 847.9h1.3v1.3h-1.3zM385.9 869.7h1.3v1.3h-1.3zM397.3 884.4h1.3v1.3h-1.3zM399.0 872.9h1.3v1.3h-1.3zM398.3 863.2h1.3v1.3h-1.3zM381.6 867.8h1.3v1.3h-1.3zM395.4 865.6h1.3v1.3h-1.3zM400.2 852.8h1.3v1.3h-1.3zM372.7 863.0h1.3v1.3h-1.3zM395.0 854.2h1.3v1.3h-1.3zM383.6 864.4h1.3v1.3h-1.3zM388.8 878.0h1.3v1.3h-1.3zM399.4 882.9h1.3v1.3h-1.3zM384.0 876.3h1.3v1.3h-1.3zM396.7 850.4h1.3v1.3h-1.3zM388.5 879.0h1.3v1.3h-1.3zM393.3 890.2h1.3v1.3h-1.3zM400.7 854.9h1.3v1.3h-1.3zM410.6 891.2h1.3v1.3h-1.3zM390.2 874.9h1.3v1.3h-1.3z"/>
<path fill="#e0a898" d="M376.6 860.6h1.3v1.3h-1.3zM392.8 874.1h1.3v1.3h-1.3zM391.5 869.0h1.3v1.3h-1.3zM387.5 865.6h1.3v1.3h-1.3zM381.2 881.0h1.3v1.3h-1.3zM373.8 880.8h1.3v1.3h-1.3zM380.3 877.0h1.3v1.3h-1.3zM381.7 876.0h1.3v1.3h-1.3zM403.3 861.6h1.3v1.3h-1.3zM403.4 865.2h1.3v1.3h-1.3zM393.1 890.8h1.3v1.3h-1.3zM406.0 864.1h1.3v1.3h-1.3zM388.5 875.6h1.3v1.3h-1.3zM396.0 870.9h1.3v1.3h-1.3zM381.7 868.6h1.3v1.3h-1.3zM404.7 867.7h1.3v1.3h-1.3zM378.7 874.0h1.3v1.3h-1.3zM391.8 867.1h1.3v1.3h-1.3zM391.6 862.5h1.3v1.3h-1.3zM401.3 880.0h1.3v1.3h-1.3zM386.8 861.0h1.3v1.3h-1.3zM380.8 867.8h1.3v1.3h-1.3zM393.9 873.4h1.3v1.3h-1.3zM386.4 871.2h1.3v1.3h-1.3zM401.5 833.9h1.3v1.3h-1.3zM373.9 861.3h1.3v1.3h-1.3zM393.6 884.0h1.3v1.3h-1.3zM396.6 886.8h1.3v1.3h-1.3zM389.5 868.1h1.3v1.3h-1.3zM376.6 847.4h1.3v1.3h-1.3zM386.1 850.5h1.3v1.3h-1.3zM407.6 867.9h1.3v1.3h-1.3zM403.6 857.5h1.3v1.3h-1.3zM367.8 873.3h1.3v1.3h-1.3zM383.9 862.7h1.3v1.3h-1.3zM389.6 875.9h1.3v1.3h-1.3zM381.7 878.9h1.3v1.3h-1.3zM395.7 870.6h1.3v1.3h-1.3zM385.5 861.1h1.3v1.3h-1.3zM402.2 864.7h1.3v1.3h-1.3zM377.5 886.7h1.3v1.3h-1.3zM376.5 864.8h1.3v1.3h-1.3zM374.0 887.9h1.3v1.3h-1.3zM378.0 860.8h1.3v1.3h-1.3zM404.6 885.5h1.3v1.3h-1.3zM404.0 882.3h1.3v1.3h-1.3zM378.6 861.7h1.3v1.3h-1.3zM391.9 881.3h1.3v1.3h-1.3zM403.1 859.4h1.3v1.3h-1.3zM374.8 867.2h1.3v1.3h-1.3zM404.7 867.0h1.3v1.3h-1.3zM370.4 861.6h1.3v1.3h-1.3zM380.1 874.6h1.3v1.3h-1.3zM386.1 875.5h1.3v1.3h-1.3zM396.7 870.0h1.3v1.3h-1.3zM389.2 838.5h1.3v1.3h-1.3zM379.4 872.0h1.3v1.3h-1.3zM394.4 867.6h1.3v1.3h-1.3zM385.4 878.1h1.3v1.3h-1.3zM372.0 862.3h1.3v1.3h-1.3zM386.6 880.2h1.3v1.3h-1.3zM388.3 867.2h1.3v1.3h-1.3zM386.8 867.6h1.3v1.3h-1.3zM408.0 872.4h1.3v1.3h-1.3zM393.3 880.8h1.3v1.3h-1.3zM378.0 871.3h1.3v1.3h-1.3zM387.7 876.2h1.3v1.3h-1.3zM394.8 867.0h1.3v1.3h-1.3zM399.6 847.9h1.3v1.3h-1.3zM393.4 883.3h1.3v1.3h-1.3zM395.2 861.9h1.3v1.3h-1.3zM388.8 882.5h1.3v1.3h-1.3zM388.0 877.8h1.3v1.3h-1.3zM382.2 859.8h1.3v1.3h-1.3zM395.9 894.0h1.3v1.3h-1.3zM385.7 875.6h1.3v1.3h-1.3zM386.1 854.7h1.3v1.3h-1.3zM371.2 882.3h1.3v1.3h-1.3zM402.1 847.3h1.3v1.3h-1.3zM400.1 887.4h1.3v1.3h-1.3zM393.0 852.3h1.3v1.3h-1.3zM390.5 875.6h1.3v1.3h-1.3zM383.7 876.5h1.3v1.3h-1.3zM381.2 872.4h1.3v1.3h-1.3zM389.5 871.5h1.3v1.3h-1.3zM393.6 869.9h1.3v1.3h-1.3zM385.5 890.1h1.3v1.3h-1.3zM392.5 872.6h1.3v1.3h-1.3zM377.3 871.9h1.3v1.3h-1.3zM405.7 887.2h1.3v1.3h-1.3z"/>
<path fill="#a85848" d="M400.5 871.3h1.3v1.3h-1.3zM389.6 872.7h1.3v1.3h-1.3zM394.7 877.9h1.3v1.3h-1.3zM395.1 882.1h1.3v1.3h-1.3zM398.0 870.5h1.3v1.3h-1.3zM390.4 871.2h1.3v1.3h-1.3zM383.6 853.8h1.3v1.3h-1.3zM391.2 862.4h1.3v1.3h-1.3zM367.8 850.4h1.3v1.3h-1.3zM386.7 873.0h1.3v1.3h-1.3zM381.3 879.5h1.3v1.3h-1.3zM398.5 866.2h1.3v1.3h-1.3zM384.1 879.4h1.3v1.3h-1.3zM386.4 882.5h1.3v1.3h-1.3zM367.8 862.8h1.3v1.3h-1.3zM376.2 861.8h1.3v1.3h-1.3zM378.9 873.4h1.3v1.3h-1.3zM389.0 857.1h1.3v1.3h-1.3zM392.4 889.4h1.3v1.3h-1.3zM367.9 859.8h1.3v1.3h-1.3zM378.9 882.1h1.3v1.3h-1.3zM394.9 869.8h1.3v1.3h-1.3zM380.9 865.0h1.3v1.3h-1.3zM399.6 887.8h1.3v1.3h-1.3zM383.1 882.0h1.3v1.3h-1.3zM382.4 850.3h1.3v1.3h-1.3zM374.0 850.3h1.3v1.3h-1.3zM392.2 857.5h1.3v1.3h-1.3zM383.6 870.4h1.3v1.3h-1.3zM367.8 877.7h1.3v1.3h-1.3zM379.0 877.5h1.3v1.3h-1.3zM401.3 884.1h1.3v1.3h-1.3zM385.1 883.5h1.3v1.3h-1.3zM375.7 867.6h1.3v1.3h-1.3zM395.1 860.5h1.3v1.3h-1.3zM395.3 869.4h1.3v1.3h-1.3zM390.6 869.3h1.3v1.3h-1.3zM397.8 871.4h1.3v1.3h-1.3zM372.9 887.1h1.3v1.3h-1.3zM385.0 873.7h1.3v1.3h-1.3zM379.7 867.3h1.3v1.3h-1.3zM403.2 864.4h1.3v1.3h-1.3zM409.7 882.9h1.3v1.3h-1.3zM389.2 878.0h1.3v1.3h-1.3zM367.8 863.5h1.3v1.3h-1.3zM387.9 878.8h1.3v1.3h-1.3zM371.9 862.3h1.3v1.3h-1.3zM381.0 868.6h1.3v1.3h-1.3zM378.5 860.2h1.3v1.3h-1.3zM396.8 867.2h1.3v1.3h-1.3zM386.8 856.5h1.3v1.3h-1.3zM402.4 874.7h1.3v1.3h-1.3zM374.4 875.7h1.3v1.3h-1.3zM397.0 866.4h1.3v1.3h-1.3zM380.9 864.9h1.3v1.3h-1.3zM387.5 874.1h1.3v1.3h-1.3zM376.0 877.8h1.3v1.3h-1.3zM383.2 874.9h1.3v1.3h-1.3zM407.7 857.0h1.3v1.3h-1.3zM379.0 874.2h1.3v1.3h-1.3zM426.1 885.6h1.3v1.3h-1.3zM389.3 867.3h1.3v1.3h-1.3zM403.6 862.5h1.3v1.3h-1.3zM395.1 869.9h1.3v1.3h-1.3zM414.7 874.3h1.3v1.3h-1.3zM394.9 859.5h1.3v1.3h-1.3zM378.0 876.3h1.3v1.3h-1.3zM386.1 894.0h1.3v1.3h-1.3zM382.9 883.0h1.3v1.3h-1.3z"/>
<path fill="#b86e5c" d="M368.2 859.6h1.3v1.3h-1.3zM386.3 870.6h1.3v1.3h-1.3zM403.3 860.3h1.3v1.3h-1.3zM391.4 863.4h1.3v1.3h-1.3zM380.0 880.9h1.3v1.3h-1.3zM398.4 894.0h1.3v1.3h-1.3zM392.3 858.6h1.3v1.3h-1.3zM384.7 875.7h1.3v1.3h-1.3zM395.7 885.4h1.3v1.3h-1.3zM408.0 865.3h1.3v1.3h-1.3zM379.9 856.4h1.3v1.3h-1.3zM394.1 877.3h1.3v1.3h-1.3zM382.7 882.9h1.3v1.3h-1.3zM393.0 883.1h1.3v1.3h-1.3zM398.1 894.0h1.3v1.3h-1.3zM392.4 872.0h1.3v1.3h-1.3zM384.9 882.9h1.3v1.3h-1.3zM389.0 861.5h1.3v1.3h-1.3zM381.7 868.0h1.3v1.3h-1.3zM388.1 877.2h1.3v1.3h-1.3zM410.7 884.3h1.3v1.3h-1.3zM377.7 894.0h1.3v1.3h-1.3zM402.1 856.4h1.3v1.3h-1.3zM400.3 879.9h1.3v1.3h-1.3zM401.4 876.1h1.3v1.3h-1.3zM394.0 857.4h1.3v1.3h-1.3zM376.9 880.0h1.3v1.3h-1.3zM391.2 848.8h1.3v1.3h-1.3zM384.5 853.6h1.3v1.3h-1.3zM383.8 876.6h1.3v1.3h-1.3zM394.5 864.5h1.3v1.3h-1.3zM399.8 868.6h1.3v1.3h-1.3zM389.9 876.9h1.3v1.3h-1.3zM368.5 876.2h1.3v1.3h-1.3zM383.3 875.4h1.3v1.3h-1.3zM392.5 876.9h1.3v1.3h-1.3zM378.2 838.9h1.3v1.3h-1.3zM404.8 859.6h1.3v1.3h-1.3zM391.0 860.0h1.3v1.3h-1.3zM381.9 870.9h1.3v1.3h-1.3zM382.0 886.4h1.3v1.3h-1.3zM375.9 858.5h1.3v1.3h-1.3zM398.5 876.5h1.3v1.3h-1.3zM394.8 865.1h1.3v1.3h-1.3zM385.1 853.2h1.3v1.3h-1.3zM378.7 860.7h1.3v1.3h-1.3zM393.2 866.3h1.3v1.3h-1.3zM383.4 873.3h1.3v1.3h-1.3zM383.7 879.4h1.3v1.3h-1.3zM399.7 880.4h1.3v1.3h-1.3zM404.3 879.7h1.3v1.3h-1.3zM385.8 881.1h1.3v1.3h-1.3zM379.8 878.9h1.3v1.3h-1.3zM393.5 885.3h1.3v1.3h-1.3zM371.8 851.7h1.3v1.3h-1.3zM394.4 871.9h1.3v1.3h-1.3zM394.6 868.0h1.3v1.3h-1.3zM382.9 865.2h1.3v1.3h-1.3zM381.9 856.8h1.3v1.3h-1.3zM391.8 867.3h1.3v1.3h-1.3zM393.9 878.8h1.3v1.3h-1.3zM376.6 884.5h1.3v1.3h-1.3zM389.7 884.7h1.3v1.3h-1.3zM397.2 884.8h1.3v1.3h-1.3z"/>
<path fill="#d08878" d="M380.4 863.0h1.3v1.3h-1.3zM399.1 884.1h1.3v1.3h-1.3zM383.1 868.1h1.3v1.3h-1.3zM400.5 867.9h1.3v1.3h-1.3zM377.7 849.0h1.3v1.3h-1.3zM380.1 876.3h1.3v1.3h-1.3zM382.9 872.9h1.3v1.3h-1.3zM398.4 852.9h1.3v1.3h-1.3zM391.2 883.1h1.3v1.3h-1.3zM397.4 885.2h1.3v1.3h-1.3zM390.6 882.9h1.3v1.3h-1.3zM387.6 845.5h1.3v1.3h-1.3zM404.3 869.2h1.3v1.3h-1.3zM398.6 852.1h1.3v1.3h-1.3zM397.0 867.7h1.3v1.3h-1.3zM373.9 868.8h1.3v1.3h-1.3zM386.6 884.8h1.3v1.3h-1.3zM390.3 881.1h1.3v1.3h-1.3zM377.0 879.1h1.3v1.3h-1.3zM367.8 869.5h1.3v1.3h-1.3zM397.1 882.7h1.3v1.3h-1.3zM391.2 842.7h1.3v1.3h-1.3zM385.2 894.0h1.3v1.3h-1.3zM372.4 872.0h1.3v1.3h-1.3zM400.6 882.4h1.3v1.3h-1.3zM377.5 870.1h1.3v1.3h-1.3zM391.1 876.9h1.3v1.3h-1.3zM395.9 880.2h1.3v1.3h-1.3zM381.2 876.6h1.3v1.3h-1.3zM380.1 860.8h1.3v1.3h-1.3zM374.4 876.0h1.3v1.3h-1.3zM399.4 894.0h1.3v1.3h-1.3zM371.3 870.8h1.3v1.3h-1.3zM394.5 844.3h1.3v1.3h-1.3zM381.3 861.3h1.3v1.3h-1.3zM379.0 858.7h1.3v1.3h-1.3zM387.9 852.7h1.3v1.3h-1.3zM405.9 881.6h1.3v1.3h-1.3zM371.6 861.3h1.3v1.3h-1.3zM400.8 866.8h1.3v1.3h-1.3zM400.1 872.9h1.3v1.3h-1.3zM392.4 848.1h1.3v1.3h-1.3zM406.7 870.6h1.3v1.3h-1.3zM383.6 832.6h1.3v1.3h-1.3zM377.6 870.6h1.3v1.3h-1.3zM388.7 872.5h1.3v1.3h-1.3zM382.6 875.5h1.3v1.3h-1.3zM405.0 854.1h1.3v1.3h-1.3zM385.4 867.6h1.3v1.3h-1.3zM379.4 869.9h1.3v1.3h-1.3zM403.7 875.7h1.3v1.3h-1.3zM376.9 877.6h1.3v1.3h-1.3zM374.6 876.5h1.3v1.3h-1.3zM376.4 879.4h1.3v1.3h-1.3zM369.2 848.8h1.3v1.3h-1.3zM401.4 871.7h1.3v1.3h-1.3zM402.0 877.3h1.3v1.3h-1.3zM391.2 859.5h1.3v1.3h-1.3zM380.1 863.4h1.3v1.3h-1.3zM393.8 852.2h1.3v1.3h-1.3zM389.8 861.9h1.3v1.3h-1.3zM401.8 849.4h1.3v1.3h-1.3z"/>
<path fill="#dca090" d="M387.1 854.5h1.3v1.3h-1.3zM392.3 865.3h1.3v1.3h-1.3zM385.4 869.0h1.3v1.3h-1.3zM391.1 877.2h1.3v1.3h-1.3zM394.1 878.1h1.3v1.3h-1.3zM401.0 879.8h1.3v1.3h-1.3zM380.7 866.5h1.3v1.3h-1.3zM394.7 861.4h1.3v1.3h-1.3zM388.9 860.9h1.3v1.3h-1.3zM401.7 864.0h1.3v1.3h-1.3zM394.4 856.7h1.3v1.3h-1.3zM391.5 877.9h1.3v1.3h-1.3zM404.3 856.6h1.3v1.3h-1.3zM404.6 862.8h1.3v1.3h-1.3zM383.1 862.2h1.3v1.3h-1.3zM394.4 855.4h1.3v1.3h-1.3zM370.6 879.6h1.3v1.3h-1.3zM391.2 859.6h1.3v1.3h-1.3zM407.5 880.3h1.3v1.3h-1.3zM379.7 875.3h1.3v1.3h-1.3zM376.2 867.0h1.3v1.3h-1.3zM391.6 862.9h1.3v1.3h-1.3zM378.3 854.0h1.3v1.3h-1.3zM388.0 865.4h1.3v1.3h-1.3zM387.1 873.5h1.3v1.3h-1.3zM389.8 882.8h1.3v1.3h-1.3zM379.4 863.2h1.3v1.3h-1.3zM391.0 881.3h1.3v1.3h-1.3zM386.2 879.5h1.3v1.3h-1.3zM379.2 868.2h1.3v1.3h-1.3zM407.9 892.5h1.3v1.3h-1.3zM397.7 879.1h1.3v1.3h-1.3zM398.2 875.5h1.3v1.3h-1.3zM386.9 869.0h1.3v1.3h-1.3zM396.6 861.6h1.3v1.3h-1.3zM379.2 878.4h1.3v1.3h-1.3zM385.5 888.4h1.3v1.3h-1.3zM379.2 874.3h1.3v1.3h-1.3zM388.6 863.6h1.3v1.3h-1.3zM397.4 885.3h1.3v1.3h-1.3zM375.9 880.1h1.3v1.3h-1.3zM375.3 859.6h1.3v1.3h-1.3zM372.3 860.9h1.3v1.3h-1.3zM390.4 882.6h1.3v1.3h-1.3zM393.3 883.5h1.3v1.3h-1.3zM391.4 872.2h1.3v1.3h-1.3zM400.1 875.6h1.3v1.3h-1.3zM384.1 860.9h1.3v1.3h-1.3zM380.9 863.0h1.3v1.3h-1.3zM390.7 884.8h1.3v1.3h-1.3zM375.6 875.0h1.3v1.3h-1.3zM392.5 891.7h1.3v1.3h-1.3zM399.5 878.9h1.3v1.3h-1.3zM401.1 846.4h1.3v1.3h-1.3zM392.8 860.0h1.3v1.3h-1.3zM377.9 867.7h1.3v1.3h-1.3zM395.8 848.2h1.3v1.3h-1.3zM397.1 876.8h1.3v1.3h-1.3zM394.4 877.7h1.3v1.3h-1.3zM391.3 870.0h1.3v1.3h-1.3zM376.8 858.4h1.3v1.3h-1.3zM396.2 864.9h1.3v1.3h-1.3zM394.3 871.2h1.3v1.3h-1.3zM370.3 877.2h1.3v1.3h-1.3zM401.1 862.2h1.3v1.3h-1.3zM399.7 865.1h1.3v1.3h-1.3zM400.0 881.7h1.3v1.3h-1.3zM369.9 830.7h1.3v1.3h-1.3zM386.7 869.2h1.3v1.3h-1.3z"/>
<path fill="#a0503e" d="M421.3 831.8h1.3v1.3h-1.3zM433.2 887.3h1.3v1.3h-1.3zM439.2 844.7h1.3v1.3h-1.3zM428.6 856.4h1.3v1.3h-1.3zM427.8 858.7h1.3v1.3h-1.3zM425.1 831.0h1.3v1.3h-1.3zM433.7 877.7h1.3v1.3h-1.3zM417.0 850.0h1.3v1.3h-1.3zM412.5 864.9h1.3v1.3h-1.3zM425.6 836.8h1.3v1.3h-1.3zM424.9 868.9h1.3v1.3h-1.3zM428.9 837.7h1.3v1.3h-1.3zM424.3 827.7h1.3v1.3h-1.3zM451.6 855.5h1.3v1.3h-1.3zM419.6 855.5h1.3v1.3h-1.3zM420.3 834.8h1.3v1.3h-1.3zM419.6 874.1h1.3v1.3h-1.3zM416.3 850.9h1.3v1.3h-1.3zM442.3 841.2h1.3v1.3h-1.3zM429.1 836.6h1.3v1.3h-1.3zM425.7 851.9h1.3v1.3h-1.3zM415.7 844.8h1.3v1.3h-1.3zM416.2 865.5h1.3v1.3h-1.3zM423.2 861.2h1.3v1.3h-1.3zM436.0 836.4h1.3v1.3h-1.3zM420.4 827.9h1.3v1.3h-1.3zM413.9 829.0h1.3v1.3h-1.3zM415.3 846.1h1.3v1.3h-1.3zM434.9 833.0h1.3v1.3h-1.3zM441.2 820.1h1.3v1.3h-1.3zM426.5 837.5h1.3v1.3h-1.3zM427.4 845.9h1.3v1.3h-1.3zM426.9 851.2h1.3v1.3h-1.3zM445.3 852.6h1.3v1.3h-1.3zM410.5 881.8h1.3v1.3h-1.3zM430.9 864.5h1.3v1.3h-1.3zM417.5 837.0h1.3v1.3h-1.3zM433.3 826.0h1.3v1.3h-1.3zM424.7 841.7h1.3v1.3h-1.3zM426.5 861.2h1.3v1.3h-1.3zM424.6 878.5h1.3v1.3h-1.3zM416.4 881.8h1.3v1.3h-1.3zM418.6 845.4h1.3v1.3h-1.3zM418.3 830.8h1.3v1.3h-1.3zM433.7 844.0h1.3v1.3h-1.3zM423.4 813.0h1.3v1.3h-1.3zM408.7 822.6h1.3v1.3h-1.3zM422.5 849.1h1.3v1.3h-1.3zM432.4 849.4h1.3v1.3h-1.3zM438.9 844.4h1.3v1.3h-1.3zM420.4 810.4h1.3v1.3h-1.3zM420.0 820.2h1.3v1.3h-1.3zM414.2 839.7h1.3v1.3h-1.3zM426.4 846.5h1.3v1.3h-1.3zM421.6 866.7h1.3v1.3h-1.3zM431.5 839.4h1.3v1.3h-1.3zM428.0 831.8h1.3v1.3h-1.3zM427.1 861.5h1.3v1.3h-1.3zM416.9 824.5h1.3v1.3h-1.3zM437.4 854.3h1.3v1.3h-1.3zM435.4 855.9h1.3v1.3h-1.3zM418.9 846.7h1.3v1.3h-1.3zM435.3 846.9h1.3v1.3h-1.3zM410.7 861.6h1.3v1.3h-1.3zM412.2 848.1h1.3v1.3h-1.3zM442.0 853.1h1.3v1.3h-1.3zM417.5 861.9h1.3v1.3h-1.3zM435.4 830.0h1.3v1.3h-1.3zM430.8 854.0h1.3v1.3h-1.3zM429.3 848.2h1.3v1.3h-1.3zM436.8 822.2h1.3v1.3h-1.3zM422.4 810.6h1.3v1.3h-1.3zM429.9 859.0h1.3v1.3h-1.3zM437.0 847.8h1.3v1.3h-1.3zM430.2 838.1h1.3v1.3h-1.3zM432.5 866.0h1.3v1.3h-1.3zM427.2 856.6h1.3v1.3h-1.3zM424.6 830.4h1.3v1.3h-1.3zM426.0 847.5h1.3v1.3h-1.3zM414.2 830.0h1.3v1.3h-1.3zM427.8 821.1h1.3v1.3h-1.3zM434.0 845.5h1.3v1.3h-1.3zM423.8 856.9h1.3v1.3h-1.3zM439.2 842.2h1.3v1.3h-1.3zM429.7 836.7h1.3v1.3h-1.3zM426.0 834.2h1.3v1.3h-1.3zM421.0 819.7h1.3v1.3h-1.3zM432.9 838.2h1.3v1.3h-1.3zM432.8 843.8h1.3v1.3h-1.3zM410.4 825.6h1.3v1.3h-1.3zM411.2 816.1h1.3v1.3h-1.3zM433.1 870.4h1.3v1.3h-1.3zM420.5 808.5h1.3v1.3h-1.3zM418.8 850.7h1.3v1.3h-1.3zM432.7 864.2h1.3v1.3h-1.3zM422.4 838.0h1.3v1.3h-1.3zM419.1 832.9h1.3v1.3h-1.3zM426.9 841.1h1.3v1.3h-1.3zM430.7 832.3h1.3v1.3h-1.3zM417.1 821.1h1.3v1.3h-1.3zM422.2 863.8h1.3v1.3h-1.3zM431.3 837.2h1.3v1.3h-1.3zM430.4 835.8h1.3v1.3h-1.3zM412.9 862.1h1.3v1.3h-1.3zM425.8 850.1h1.3v1.3h-1.3zM428.1 852.4h1.3v1.3h-1.3zM434.5 855.5h1.3v1.3h-1.3zM435.6 867.9h1.3v1.3h-1.3zM425.7 849.0h1.3v1.3h-1.3zM422.6 848.1h1.3v1.3h-1.3zM427.2 813.5h1.3v1.3h-1.3zM412.5 844.8h1.3v1.3h-1.3zM419.5 844.6h1.3v1.3h-1.3zM433.6 859.8h1.3v1.3h-1.3zM410.8 867.8h1.3v1.3h-1.3zM429.0 845.1h1.3v1.3h-1.3zM422.3 863.6h1.3v1.3h-1.3zM416.9 854.1h1.3v1.3h-1.3zM424.7 848.2h1.3v1.3h-1.3zM436.2 826.9h1.3v1.3h-1.3zM430.3 829.0h1.3v1.3h-1.3zM425.5 857.7h1.3v1.3h-1.3zM421.1 836.1h1.3v1.3h-1.3zM414.1 832.1h1.3v1.3h-1.3zM432.4 824.9h1.3v1.3h-1.3zM416.3 855.0h1.3v1.3h-1.3zM431.3 841.7h1.3v1.3h-1.3zM434.1 845.5h1.3v1.3h-1.3zM422.8 887.4h1.3v1.3h-1.3zM433.5 833.7h1.3v1.3h-1.3zM424.7 858.8h1.3v1.3h-1.3zM410.1 840.8h1.3v1.3h-1.3zM425.2 855.0h1.3v1.3h-1.3zM431.5 834.5h1.3v1.3h-1.3zM428.0 850.1h1.3v1.3h-1.3zM423.8 817.9h1.3v1.3h-1.3zM425.3 828.2h1.3v1.3h-1.3zM419.6 845.1h1.3v1.3h-1.3zM437.5 835.4h1.3v1.3h-1.3zM433.6 848.7h1.3v1.3h-1.3zM420.4 812.0h1.3v1.3h-1.3zM433.7 815.3h1.3v1.3h-1.3zM426.4 843.8h1.3v1.3h-1.3zM428.1 880.5h1.3v1.3h-1.3zM447.5 830.4h1.3v1.3h-1.3zM439.0 838.1h1.3v1.3h-1.3zM419.7 844.5h1.3v1.3h-1.3zM451.8 853.6h1.3v1.3h-1.3zM410.5 861.9h1.3v1.3h-1.3zM425.3 823.3h1.3v1.3h-1.3zM441.2 840.1h1.3v1.3h-1.3zM426.9 868.2h1.3v1.3h-1.3zM414.2 862.9h1.3v1.3h-1.3zM421.0 872.9h1.3v1.3h-1.3zM421.3 815.2h1.3v1.3h-1.3zM432.0 863.0h1.3v1.3h-1.3zM415.2 841.5h1.3v1.3h-1.3zM430.6 823.6h1.3v1.3h-1.3zM427.5 842.5h1.3v1.3h-1.3zM415.5 853.8h1.3v1.3h-1.3zM422.4 842.7h1.3v1.3h-1.3zM419.9 834.5h1.3v1.3h-1.3zM424.7 880.3h1.3v1.3h-1.3zM420.1 851.2h1.3v1.3h-1.3zM433.3 855.8h1.3v1.3h-1.3zM431.0 840.2h1.3v1.3h-1.3zM432.7 845.4h1.3v1.3h-1.3zM426.5 850.6h1.3v1.3h-1.3zM424.4 864.7h1.3v1.3h-1.3zM416.7 853.4h1.3v1.3h-1.3zM436.3 855.6h1.3v1.3h-1.3zM426.3 858.9h1.3v1.3h-1.3zM421.4 853.9h1.3v1.3h-1.3zM420.2 812.3h1.3v1.3h-1.3zM420.9 856.7h1.3v1.3h-1.3zM426.0 864.9h1.3v1.3h-1.3zM428.5 837.6h1.3v1.3h-1.3zM418.3 845.3h1.3v1.3h-1.3zM434.5 853.7h1.3v1.3h-1.3zM417.7 859.3h1.3v1.3h-1.3zM417.7 841.6h1.3v1.3h-1.3zM406.8 850.9h1.3v1.3h-1.3zM429.0 828.9h1.3v1.3h-1.3zM428.9 857.8h1.3v1.3h-1.3zM414.2 857.4h1.3v1.3h-1.3zM415.2 863.4h1.3v1.3h-1.3zM429.5 831.6h1.3v1.3h-1.3zM430.2 842.1h1.3v1.3h-1.3zM416.1 813.5h1.3v1.3h-1.3zM416.0 850.3h1.3v1.3h-1.3zM434.1 830.8h1.3v1.3h-1.3zM420.0 847.6h1.3v1.3h-1.3zM410.3 812.1h1.3v1.3h-1.3zM413.1 851.9h1.3v1.3h-1.3zM423.6 842.9h1.3v1.3h-1.3zM442.8 872.2h1.3v1.3h-1.3zM436.1 855.3h1.3v1.3h-1.3zM413.0 828.1h1.3v1.3h-1.3zM420.6 876.8h1.3v1.3h-1.3zM421.6 852.6h1.3v1.3h-1.3zM409.5 853.8h1.3v1.3h-1.3zM421.3 852.9h1.3v1.3h-1.3zM437.5 878.5h1.3v1.3h-1.3zM428.0 866.5h1.3v1.3h-1.3zM422.1 869.6h1.3v1.3h-1.3zM418.7 875.0h1.3v1.3h-1.3zM433.9 864.3h1.3v1.3h-1.3zM425.6 834.0h1.3v1.3h-1.3zM429.3 858.3h1.3v1.3h-1.3zM432.8 869.7h1.3v1.3h-1.3zM434.5 862.2h1.3v1.3h-1.3zM428.6 843.8h1.3v1.3h-1.3zM424.5 855.0h1.3v1.3h-1.3zM422.0 848.1h1.3v1.3h-1.3zM430.3 855.0h1.3v1.3h-1.3zM427.7 881.4h1.3v1.3h-1.3zM423.4 845.1h1.3v1.3h-1.3zM422.2 874.5h1.3v1.3h-1.3zM431.7 838.9h1.3v1.3h-1.3zM428.7 830.9h1.3v1.3h-1.3zM423.4 839.2h1.3v1.3h-1.3zM424.8 828.3h1.3v1.3h-1.3zM414.7 853.9h1.3v1.3h-1.3zM420.4 868.4h1.3v1.3h-1.3zM427.3 795.7h1.3v1.3h-1.3zM419.8 818.6h1.3v1.3h-1.3zM429.8 853.3h1.3v1.3h-1.3zM421.7 812.2h1.3v1.3h-1.3zM434.7 827.7h1.3v1.3h-1.3zM428.9 852.3h1.3v1.3h-1.3zM424.8 834.3h1.3v1.3h-1.3zM445.6 856.6h1.3v1.3h-1.3zM425.9 858.1h1.3v1.3h-1.3zM426.5 859.8h1.3v1.3h-1.3zM425.8 853.9h1.3v1.3h-1.3zM424.9 843.2h1.3v1.3h-1.3zM433.5 848.5h1.3v1.3h-1.3zM432.6 865.5h1.3v1.3h-1.3zM435.9 825.4h1.3v1.3h-1.3zM423.1 849.1h1.3v1.3h-1.3zM424.8 843.6h1.3v1.3h-1.3zM431.0 854.6h1.3v1.3h-1.3zM437.0 864.1h1.3v1.3h-1.3zM423.1 877.7h1.3v1.3h-1.3zM415.4 827.0h1.3v1.3h-1.3zM449.6 853.8h1.3v1.3h-1.3zM430.1 833.8h1.3v1.3h-1.3zM433.0 836.8h1.3v1.3h-1.3zM430.1 892.7h1.3v1.3h-1.3zM426.7 827.4h1.3v1.3h-1.3zM418.0 852.5h1.3v1.3h-1.3zM427.3 845.3h1.3v1.3h-1.3zM416.9 805.6h1.3v1.3h-1.3zM436.9 836.2h1.3v1.3h-1.3zM418.8 858.4h1.3v1.3h-1.3zM425.6 844.9h1.3v1.3h-1.3zM440.9 832.5h1.3v1.3h-1.3zM417.5 839.5h1.3v1.3h-1.3zM427.2 845.9h1.3v1.3h-1.3zM422.5 850.6h1.3v1.3h-1.3zM422.1 841.1h1.3v1.3h-1.3zM421.7 843.9h1.3v1.3h-1.3zM422.3 877.7h1.3v1.3h-1.3zM428.8 850.1h1.3v1.3h-1.3zM426.1 823.4h1.3v1.3h-1.3zM435.9 854.0h1.3v1.3h-1.3zM426.5 826.4h1.3v1.3h-1.3zM421.1 873.4h1.3v1.3h-1.3zM432.6 852.9h1.3v1.3h-1.3zM428.5 884.2h1.3v1.3h-1.3zM448.1 841.5h1.3v1.3h-1.3zM418.3 836.5h1.3v1.3h-1.3zM412.6 873.4h1.3v1.3h-1.3zM426.2 824.1h1.3v1.3h-1.3zM426.7 845.3h1.3v1.3h-1.3zM442.8 883.3h1.3v1.3h-1.3zM425.8 841.5h1.3v1.3h-1.3zM431.3 852.2h1.3v1.3h-1.3zM419.6 863.2h1.3v1.3h-1.3zM427.3 847.6h1.3v1.3h-1.3zM435.6 842.8h1.3v1.3h-1.3zM421.8 857.2h1.3v1.3h-1.3zM419.6 866.6h1.3v1.3h-1.3zM425.6 851.2h1.3v1.3h-1.3zM434.3 854.3h1.3v1.3h-1.3zM411.8 867.3h1.3v1.3h-1.3zM433.4 830.4h1.3v1.3h-1.3zM426.9 825.9h1.3v1.3h-1.3zM422.0 833.0h1.3v1.3h-1.3zM432.7 845.9h1.3v1.3h-1.3zM440.2 836.4h1.3v1.3h-1.3zM426.3 827.3h1.3v1.3h-1.3zM419.7 832.4h1.3v1.3h-1.3zM424.3 870.7h1.3v1.3h-1.3zM422.9 875.3h1.3v1.3h-1.3zM439.3 847.6h1.3v1.3h-1.3zM433.6 832.0h1.3v1.3h-1.3zM428.7 838.7h1.3v1.3h-1.3zM426.0 859.7h1.3v1.3h-1.3zM441.1 846.6h1.3v1.3h-1.3zM406.2 842.5h1.3v1.3h-1.3zM423.6 852.6h1.3v1.3h-1.3zM420.4 874.0h1.3v1.3h-1.3zM434.3 862.8h1.3v1.3h-1.3zM440.3 842.9h1.3v1.3h-1.3zM432.3 811.3h1.3v1.3h-1.3zM433.7 852.4h1.3v1.3h-1.3zM428.6 825.9h1.3v1.3h-1.3zM436.9 846.8h1.3v1.3h-1.3zM433.9 845.1h1.3v1.3h-1.3zM429.3 849.3h1.3v1.3h-1.3zM405.5 825.9h1.3v1.3h-1.3zM443.0 841.4h1.3v1.3h-1.3zM424.5 850.4h1.3v1.3h-1.3zM419.6 828.8h1.3v1.3h-1.3zM438.5 856.4h1.3v1.3h-1.3zM424.0 861.9h1.3v1.3h-1.3zM435.0 839.9h1.3v1.3h-1.3zM431.2 853.5h1.3v1.3h-1.3zM420.6 854.4h1.3v1.3h-1.3zM422.0 859.6h1.3v1.3h-1.3zM421.4 836.5h1.3v1.3h-1.3zM415.2 832.4h1.3v1.3h-1.3zM422.3 843.7h1.3v1.3h-1.3zM429.6 827.4h1.3v1.3h-1.3zM429.0 826.5h1.3v1.3h-1.3zM434.0 845.8h1.3v1.3h-1.3zM428.6 823.1h1.3v1.3h-1.3zM434.5 872.2h1.3v1.3h-1.3zM419.8 817.2h1.3v1.3h-1.3zM421.8 848.6h1.3v1.3h-1.3zM431.6 840.5h1.3v1.3h-1.3zM424.4 819.7h1.3v1.3h-1.3zM430.2 869.0h1.3v1.3h-1.3zM420.6 845.4h1.3v1.3h-1.3zM414.6 871.1h1.3v1.3h-1.3zM426.4 831.0h1.3v1.3h-1.3zM422.3 833.2h1.3v1.3h-1.3zM429.8 841.6h1.3v1.3h-1.3zM428.6 818.0h1.3v1.3h-1.3zM413.2 841.9h1.3v1.3h-1.3zM427.0 828.4h1.3v1.3h-1.3zM437.1 850.6h1.3v1.3h-1.3zM420.1 817.9h1.3v1.3h-1.3zM436.2 847.5h1.3v1.3h-1.3zM421.4 862.4h1.3v1.3h-1.3zM436.1 843.1h1.3v1.3h-1.3zM406.3 841.7h1.3v1.3h-1.3zM443.3 819.5h1.3v1.3h-1.3zM439.8 840.3h1.3v1.3h-1.3zM419.4 841.8h1.3v1.3h-1.3zM421.0 855.8h1.3v1.3h-1.3zM435.5 873.7h1.3v1.3h-1.3zM411.1 853.3h1.3v1.3h-1.3zM405.1 831.9h1.3v1.3h-1.3zM429.1 840.8h1.3v1.3h-1.3zM410.3 835.9h1.3v1.3h-1.3zM420.0 852.2h1.3v1.3h-1.3zM434.6 840.6h1.3v1.3h-1.3zM427.2 861.1h1.3v1.3h-1.3zM415.3 856.3h1.3v1.3h-1.3zM430.7 884.4h1.3v1.3h-1.3zM418.5 865.0h1.3v1.3h-1.3zM426.6 843.7h1.3v1.3h-1.3zM433.9 853.1h1.3v1.3h-1.3zM423.4 860.2h1.3v1.3h-1.3zM413.7 853.5h1.3v1.3h-1.3zM438.9 839.3h1.3v1.3h-1.3zM429.9 849.6h1.3v1.3h-1.3zM411.7 873.9h1.3v1.3h-1.3zM432.1 832.0h1.3v1.3h-1.3zM420.9 848.9h1.3v1.3h-1.3zM432.3 837.4h1.3v1.3h-1.3zM424.4 846.2h1.3v1.3h-1.3zM425.7 864.3h1.3v1.3h-1.3zM425.5 845.4h1.3v1.3h-1.3zM414.5 862.9h1.3v1.3h-1.3zM430.9 838.7h1.3v1.3h-1.3zM443.1 855.1h1.3v1.3h-1.3zM422.8 858.2h1.3v1.3h-1.3zM414.7 853.2h1.3v1.3h-1.3zM415.3 839.2h1.3v1.3h-1.3zM425.4 839.3h1.3v1.3h-1.3zM429.2 871.6h1.3v1.3h-1.3zM418.1 834.3h1.3v1.3h-1.3zM410.2 832.1h1.3v1.3h-1.3zM421.0 849.8h1.3v1.3h-1.3zM421.6 847.8h1.3v1.3h-1.3zM421.3 851.8h1.3v1.3h-1.3zM437.9 860.6h1.3v1.3h-1.3zM429.9 837.9h1.3v1.3h-1.3zM417.7 837.9h1.3v1.3h-1.3z"/>
<path fill="#a85848" d="M425.5 827.4h1.3v1.3h-1.3zM429.2 831.2h1.3v1.3h-1.3zM434.8 842.6h1.3v1.3h-1.3zM417.4 850.5h1.3v1.3h-1.3zM426.0 857.3h1.3v1.3h-1.3zM408.6 822.2h1.3v1.3h-1.3zM412.6 856.6h1.3v1.3h-1.3zM434.5 843.8h1.3v1.3h-1.3zM425.8 854.3h1.3v1.3h-1.3zM423.6 860.2h1.3v1.3h-1.3zM436.8 833.0h1.3v1.3h-1.3zM421.3 861.2h1.3v1.3h-1.3zM411.7 846.6h1.3v1.3h-1.3zM420.3 877.1h1.3v1.3h-1.3zM417.7 858.7h1.3v1.3h-1.3zM430.5 830.8h1.3v1.3h-1.3zM418.8 851.0h1.3v1.3h-1.3zM434.2 827.0h1.3v1.3h-1.3zM419.0 875.1h1.3v1.3h-1.3zM409.3 850.3h1.3v1.3h-1.3zM429.6 814.4h1.3v1.3h-1.3zM424.9 825.3h1.3v1.3h-1.3zM422.8 827.3h1.3v1.3h-1.3zM410.6 868.7h1.3v1.3h-1.3zM438.4 846.2h1.3v1.3h-1.3zM433.2 834.8h1.3v1.3h-1.3zM436.4 837.3h1.3v1.3h-1.3zM422.7 829.8h1.3v1.3h-1.3zM414.8 834.4h1.3v1.3h-1.3zM431.7 872.6h1.3v1.3h-1.3zM431.1 841.7h1.3v1.3h-1.3zM426.4 834.5h1.3v1.3h-1.3zM413.2 870.6h1.3v1.3h-1.3zM419.4 846.1h1.3v1.3h-1.3zM429.5 840.4h1.3v1.3h-1.3zM431.9 838.6h1.3v1.3h-1.3zM432.9 878.9h1.3v1.3h-1.3zM410.9 872.2h1.3v1.3h-1.3zM426.8 848.5h1.3v1.3h-1.3zM409.1 844.4h1.3v1.3h-1.3zM425.7 854.1h1.3v1.3h-1.3zM408.7 840.1h1.3v1.3h-1.3zM417.0 832.9h1.3v1.3h-1.3zM427.1 840.0h1.3v1.3h-1.3zM420.6 847.6h1.3v1.3h-1.3zM432.2 816.7h1.3v1.3h-1.3zM429.3 853.3h1.3v1.3h-1.3zM416.1 861.8h1.3v1.3h-1.3zM418.8 842.4h1.3v1.3h-1.3zM443.5 820.9h1.3v1.3h-1.3zM432.3 833.4h1.3v1.3h-1.3zM425.2 824.9h1.3v1.3h-1.3zM420.5 843.3h1.3v1.3h-1.3zM433.0 851.2h1.3v1.3h-1.3zM432.6 853.0h1.3v1.3h-1.3zM422.0 854.1h1.3v1.3h-1.3zM429.8 842.4h1.3v1.3h-1.3zM427.2 843.1h1.3v1.3h-1.3zM435.0 854.4h1.3v1.3h-1.3zM411.2 850.8h1.3v1.3h-1.3zM429.9 807.4h1.3v1.3h-1.3zM430.5 837.9h1.3v1.3h-1.3zM426.8 806.3h1.3v1.3h-1.3zM426.4 837.2h1.3v1.3h-1.3zM422.2 830.7h1.3v1.3h-1.3zM397.6 840.4h1.3v1.3h-1.3zM418.8 869.1h1.3v1.3h-1.3zM414.9 837.9h1.3v1.3h-1.3zM445.2 872.0h1.3v1.3h-1.3zM428.7 828.3h1.3v1.3h-1.3zM421.4 871.6h1.3v1.3h-1.3zM423.9 835.4h1.3v1.3h-1.3zM427.9 821.5h1.3v1.3h-1.3zM418.8 846.3h1.3v1.3h-1.3zM409.4 836.0h1.3v1.3h-1.3zM418.5 848.6h1.3v1.3h-1.3zM423.4 851.9h1.3v1.3h-1.3zM424.1 881.4h1.3v1.3h-1.3zM420.9 852.8h1.3v1.3h-1.3zM440.2 850.8h1.3v1.3h-1.3zM449.8 832.2h1.3v1.3h-1.3zM421.3 848.3h1.3v1.3h-1.3zM436.7 859.1h1.3v1.3h-1.3zM411.4 858.5h1.3v1.3h-1.3zM444.6 878.6h1.3v1.3h-1.3zM430.6 845.9h1.3v1.3h-1.3zM419.6 868.8h1.3v1.3h-1.3zM421.0 855.9h1.3v1.3h-1.3zM428.2 843.0h1.3v1.3h-1.3zM420.7 846.4h1.3v1.3h-1.3zM427.1 840.9h1.3v1.3h-1.3zM437.8 859.5h1.3v1.3h-1.3zM445.2 881.2h1.3v1.3h-1.3zM422.5 840.4h1.3v1.3h-1.3zM430.8 829.2h1.3v1.3h-1.3zM416.7 838.4h1.3v1.3h-1.3zM418.7 857.5h1.3v1.3h-1.3zM427.9 818.8h1.3v1.3h-1.3zM430.3 867.5h1.3v1.3h-1.3zM421.1 859.1h1.3v1.3h-1.3zM425.0 860.7h1.3v1.3h-1.3zM433.7 849.1h1.3v1.3h-1.3zM442.4 857.8h1.3v1.3h-1.3zM426.3 860.3h1.3v1.3h-1.3zM435.8 858.5h1.3v1.3h-1.3zM422.8 861.7h1.3v1.3h-1.3zM422.9 841.7h1.3v1.3h-1.3zM423.3 866.7h1.3v1.3h-1.3zM429.8 816.3h1.3v1.3h-1.3zM421.3 859.4h1.3v1.3h-1.3zM423.9 838.0h1.3v1.3h-1.3zM431.7 832.9h1.3v1.3h-1.3zM427.1 842.9h1.3v1.3h-1.3zM419.2 823.7h1.3v1.3h-1.3zM420.2 813.9h1.3v1.3h-1.3zM425.7 849.8h1.3v1.3h-1.3zM403.8 861.9h1.3v1.3h-1.3zM429.4 848.3h1.3v1.3h-1.3zM428.6 851.5h1.3v1.3h-1.3zM425.0 860.4h1.3v1.3h-1.3zM417.6 827.8h1.3v1.3h-1.3zM427.1 803.7h1.3v1.3h-1.3zM417.1 860.8h1.3v1.3h-1.3zM430.4 852.2h1.3v1.3h-1.3zM424.6 839.9h1.3v1.3h-1.3zM427.5 827.1h1.3v1.3h-1.3zM421.8 854.7h1.3v1.3h-1.3zM430.6 827.9h1.3v1.3h-1.3zM427.8 844.7h1.3v1.3h-1.3zM444.3 872.6h1.3v1.3h-1.3zM446.8 831.9h1.3v1.3h-1.3zM424.3 825.9h1.3v1.3h-1.3zM429.7 852.9h1.3v1.3h-1.3zM418.5 865.6h1.3v1.3h-1.3zM433.8 851.2h1.3v1.3h-1.3zM434.2 850.1h1.3v1.3h-1.3zM415.5 837.3h1.3v1.3h-1.3zM406.1 852.9h1.3v1.3h-1.3zM419.7 856.1h1.3v1.3h-1.3zM437.5 849.5h1.3v1.3h-1.3zM433.1 834.8h1.3v1.3h-1.3zM423.8 845.7h1.3v1.3h-1.3zM432.9 867.5h1.3v1.3h-1.3zM424.3 847.1h1.3v1.3h-1.3zM419.7 827.5h1.3v1.3h-1.3zM420.1 871.6h1.3v1.3h-1.3zM432.4 844.9h1.3v1.3h-1.3zM411.0 842.3h1.3v1.3h-1.3zM424.5 854.7h1.3v1.3h-1.3zM421.4 824.5h1.3v1.3h-1.3zM432.5 835.6h1.3v1.3h-1.3zM418.1 835.7h1.3v1.3h-1.3zM429.4 834.7h1.3v1.3h-1.3zM425.7 868.0h1.3v1.3h-1.3zM414.1 856.0h1.3v1.3h-1.3zM425.2 844.7h1.3v1.3h-1.3zM431.5 829.5h1.3v1.3h-1.3zM440.0 886.6h1.3v1.3h-1.3zM424.6 843.5h1.3v1.3h-1.3zM423.1 873.1h1.3v1.3h-1.3zM441.1 858.8h1.3v1.3h-1.3zM433.8 839.3h1.3v1.3h-1.3zM438.5 857.1h1.3v1.3h-1.3zM421.0 833.4h1.3v1.3h-1.3zM435.2 870.1h1.3v1.3h-1.3zM435.9 832.1h1.3v1.3h-1.3zM412.7 848.0h1.3v1.3h-1.3zM441.5 852.1h1.3v1.3h-1.3zM414.6 854.8h1.3v1.3h-1.3zM428.4 877.0h1.3v1.3h-1.3zM417.5 847.5h1.3v1.3h-1.3zM434.3 877.9h1.3v1.3h-1.3zM432.6 859.9h1.3v1.3h-1.3zM424.3 870.5h1.3v1.3h-1.3zM428.2 828.9h1.3v1.3h-1.3zM421.7 833.6h1.3v1.3h-1.3zM434.4 830.9h1.3v1.3h-1.3zM428.6 857.0h1.3v1.3h-1.3zM427.1 859.7h1.3v1.3h-1.3zM423.4 821.4h1.3v1.3h-1.3zM411.2 832.4h1.3v1.3h-1.3zM419.3 816.3h1.3v1.3h-1.3zM411.5 861.2h1.3v1.3h-1.3zM427.0 834.0h1.3v1.3h-1.3zM426.3 828.8h1.3v1.3h-1.3zM415.4 848.0h1.3v1.3h-1.3zM416.9 844.5h1.3v1.3h-1.3zM416.9 821.8h1.3v1.3h-1.3zM429.3 817.5h1.3v1.3h-1.3zM421.0 856.7h1.3v1.3h-1.3zM436.5 844.4h1.3v1.3h-1.3zM432.6 853.3h1.3v1.3h-1.3zM443.6 846.7h1.3v1.3h-1.3zM423.2 845.5h1.3v1.3h-1.3zM433.6 820.9h1.3v1.3h-1.3zM426.5 870.7h1.3v1.3h-1.3zM425.3 859.7h1.3v1.3h-1.3zM429.7 846.2h1.3v1.3h-1.3zM413.9 818.8h1.3v1.3h-1.3zM422.7 853.0h1.3v1.3h-1.3zM431.9 816.8h1.3v1.3h-1.3zM433.7 847.9h1.3v1.3h-1.3zM435.4 807.9h1.3v1.3h-1.3zM431.4 832.8h1.3v1.3h-1.3zM426.7 822.8h1.3v1.3h-1.3zM418.0 842.4h1.3v1.3h-1.3zM415.8 864.2h1.3v1.3h-1.3zM437.2 841.4h1.3v1.3h-1.3zM417.8 829.5h1.3v1.3h-1.3zM420.1 837.7h1.3v1.3h-1.3zM425.6 852.1h1.3v1.3h-1.3zM446.6 862.4h1.3v1.3h-1.3zM431.2 820.7h1.3v1.3h-1.3zM401.7 881.6h1.3v1.3h-1.3zM431.0 838.6h1.3v1.3h-1.3zM434.3 879.2h1.3v1.3h-1.3zM442.2 854.5h1.3v1.3h-1.3zM423.9 867.3h1.3v1.3h-1.3zM419.4 823.5h1.3v1.3h-1.3zM421.5 870.7h1.3v1.3h-1.3zM411.5 852.9h1.3v1.3h-1.3zM420.2 850.6h1.3v1.3h-1.3zM432.0 820.1h1.3v1.3h-1.3zM416.2 849.5h1.3v1.3h-1.3zM420.0 844.2h1.3v1.3h-1.3zM421.8 859.6h1.3v1.3h-1.3zM427.1 839.2h1.3v1.3h-1.3zM423.1 850.4h1.3v1.3h-1.3zM434.3 847.4h1.3v1.3h-1.3zM434.5 860.9h1.3v1.3h-1.3zM419.1 876.7h1.3v1.3h-1.3zM428.4 819.6h1.3v1.3h-1.3zM424.9 825.8h1.3v1.3h-1.3zM426.2 836.5h1.3v1.3h-1.3zM430.7 851.0h1.3v1.3h-1.3zM427.7 848.9h1.3v1.3h-1.3zM411.3 853.8h1.3v1.3h-1.3zM421.9 852.5h1.3v1.3h-1.3zM427.7 836.9h1.3v1.3h-1.3zM433.9 849.1h1.3v1.3h-1.3zM424.2 828.6h1.3v1.3h-1.3zM419.2 818.3h1.3v1.3h-1.3zM426.4 852.5h1.3v1.3h-1.3zM432.0 863.1h1.3v1.3h-1.3zM427.1 858.4h1.3v1.3h-1.3zM423.7 865.8h1.3v1.3h-1.3zM423.8 863.4h1.3v1.3h-1.3zM433.7 874.6h1.3v1.3h-1.3zM423.3 837.0h1.3v1.3h-1.3zM418.4 845.0h1.3v1.3h-1.3zM442.0 868.9h1.3v1.3h-1.3zM439.3 862.4h1.3v1.3h-1.3zM423.1 855.4h1.3v1.3h-1.3zM409.8 887.6h1.3v1.3h-1.3zM430.3 865.0h1.3v1.3h-1.3zM434.4 868.6h1.3v1.3h-1.3zM438.9 852.9h1.3v1.3h-1.3zM430.8 848.1h1.3v1.3h-1.3zM440.8 822.6h1.3v1.3h-1.3zM449.9 814.7h1.3v1.3h-1.3zM425.8 848.8h1.3v1.3h-1.3zM422.1 856.3h1.3v1.3h-1.3zM424.1 828.0h1.3v1.3h-1.3zM418.8 837.1h1.3v1.3h-1.3zM418.3 862.2h1.3v1.3h-1.3zM431.1 860.6h1.3v1.3h-1.3zM399.5 827.5h1.3v1.3h-1.3zM427.0 829.4h1.3v1.3h-1.3zM411.7 832.7h1.3v1.3h-1.3zM418.2 840.3h1.3v1.3h-1.3zM427.9 848.1h1.3v1.3h-1.3zM428.7 841.0h1.3v1.3h-1.3zM409.5 846.2h1.3v1.3h-1.3zM437.2 859.3h1.3v1.3h-1.3zM416.0 842.4h1.3v1.3h-1.3zM425.7 848.9h1.3v1.3h-1.3zM422.0 855.4h1.3v1.3h-1.3zM434.8 834.3h1.3v1.3h-1.3zM419.7 844.5h1.3v1.3h-1.3zM428.4 859.6h1.3v1.3h-1.3zM431.0 817.6h1.3v1.3h-1.3zM429.5 844.5h1.3v1.3h-1.3zM438.0 851.3h1.3v1.3h-1.3zM417.9 874.9h1.3v1.3h-1.3zM423.6 854.4h1.3v1.3h-1.3zM431.1 855.4h1.3v1.3h-1.3zM432.2 852.8h1.3v1.3h-1.3zM422.5 855.4h1.3v1.3h-1.3zM430.7 880.7h1.3v1.3h-1.3zM425.6 861.5h1.3v1.3h-1.3zM417.3 802.8h1.3v1.3h-1.3zM416.4 828.6h1.3v1.3h-1.3zM433.3 856.9h1.3v1.3h-1.3zM426.9 836.0h1.3v1.3h-1.3zM420.3 857.8h1.3v1.3h-1.3zM423.5 859.6h1.3v1.3h-1.3zM427.9 857.7h1.3v1.3h-1.3zM426.8 867.7h1.3v1.3h-1.3zM434.4 832.1h1.3v1.3h-1.3zM413.7 847.2h1.3v1.3h-1.3zM426.8 837.4h1.3v1.3h-1.3zM439.8 827.0h1.3v1.3h-1.3zM425.9 868.4h1.3v1.3h-1.3zM443.5 850.4h1.3v1.3h-1.3zM437.2 855.8h1.3v1.3h-1.3zM429.2 844.6h1.3v1.3h-1.3zM422.8 825.5h1.3v1.3h-1.3zM424.6 851.3h1.3v1.3h-1.3zM430.1 851.7h1.3v1.3h-1.3zM429.4 871.6h1.3v1.3h-1.3zM439.1 863.4h1.3v1.3h-1.3zM414.8 834.7h1.3v1.3h-1.3zM431.4 862.2h1.3v1.3h-1.3zM423.3 823.6h1.3v1.3h-1.3zM414.7 856.9h1.3v1.3h-1.3zM417.6 848.2h1.3v1.3h-1.3zM425.6 845.7h1.3v1.3h-1.3zM421.7 838.6h1.3v1.3h-1.3zM438.3 885.6h1.3v1.3h-1.3zM427.1 822.6h1.3v1.3h-1.3zM414.6 853.6h1.3v1.3h-1.3z"/>
<path fill="#9a4a3a" d="M416.4 837.7h1.3v1.3h-1.3zM435.8 839.4h1.3v1.3h-1.3zM414.5 853.8h1.3v1.3h-1.3zM416.9 835.8h1.3v1.3h-1.3zM437.1 847.4h1.3v1.3h-1.3zM421.4 846.8h1.3v1.3h-1.3zM450.2 813.6h1.3v1.3h-1.3zM425.4 875.4h1.3v1.3h-1.3zM427.0 831.0h1.3v1.3h-1.3zM424.7 855.9h1.3v1.3h-1.3zM422.7 829.1h1.3v1.3h-1.3zM427.6 851.0h1.3v1.3h-1.3zM416.6 855.3h1.3v1.3h-1.3zM430.2 834.8h1.3v1.3h-1.3zM428.7 867.5h1.3v1.3h-1.3zM436.0 825.8h1.3v1.3h-1.3zM416.9 848.5h1.3v1.3h-1.3zM418.3 858.7h1.3v1.3h-1.3zM437.7 859.2h1.3v1.3h-1.3zM443.6 894.0h1.3v1.3h-1.3zM428.4 857.3h1.3v1.3h-1.3zM423.5 867.4h1.3v1.3h-1.3zM433.3 850.5h1.3v1.3h-1.3zM423.0 818.6h1.3v1.3h-1.3zM417.5 823.3h1.3v1.3h-1.3zM422.6 838.3h1.3v1.3h-1.3zM430.1 844.3h1.3v1.3h-1.3zM440.5 854.0h1.3v1.3h-1.3zM441.0 871.3h1.3v1.3h-1.3zM436.8 834.7h1.3v1.3h-1.3zM421.5 836.9h1.3v1.3h-1.3zM433.2 847.6h1.3v1.3h-1.3zM405.5 879.5h1.3v1.3h-1.3zM422.8 840.5h1.3v1.3h-1.3zM409.7 860.5h1.3v1.3h-1.3zM425.1 866.6h1.3v1.3h-1.3zM430.6 842.0h1.3v1.3h-1.3zM424.8 875.1h1.3v1.3h-1.3zM433.5 852.8h1.3v1.3h-1.3zM443.6 871.3h1.3v1.3h-1.3zM433.0 825.7h1.3v1.3h-1.3zM427.1 856.2h1.3v1.3h-1.3zM433.6 850.0h1.3v1.3h-1.3zM421.7 848.1h1.3v1.3h-1.3zM423.2 820.7h1.3v1.3h-1.3zM434.6 861.9h1.3v1.3h-1.3zM433.4 845.7h1.3v1.3h-1.3zM414.9 854.8h1.3v1.3h-1.3zM424.3 842.5h1.3v1.3h-1.3zM434.3 853.5h1.3v1.3h-1.3zM425.0 857.0h1.3v1.3h-1.3zM438.7 856.6h1.3v1.3h-1.3zM438.6 869.1h1.3v1.3h-1.3zM418.1 824.0h1.3v1.3h-1.3zM424.3 867.4h1.3v1.3h-1.3zM433.4 809.6h1.3v1.3h-1.3zM425.2 874.9h1.3v1.3h-1.3zM429.3 852.1h1.3v1.3h-1.3zM424.0 848.5h1.3v1.3h-1.3zM428.3 830.6h1.3v1.3h-1.3zM431.0 857.6h1.3v1.3h-1.3zM431.6 853.6h1.3v1.3h-1.3zM410.6 857.2h1.3v1.3h-1.3zM433.7 861.4h1.3v1.3h-1.3zM425.4 842.8h1.3v1.3h-1.3zM423.2 840.3h1.3v1.3h-1.3zM436.0 859.0h1.3v1.3h-1.3zM432.0 839.2h1.3v1.3h-1.3zM427.6 836.0h1.3v1.3h-1.3zM432.7 819.5h1.3v1.3h-1.3zM413.8 829.3h1.3v1.3h-1.3zM421.8 834.1h1.3v1.3h-1.3zM436.2 845.8h1.3v1.3h-1.3zM424.2 841.0h1.3v1.3h-1.3zM438.2 811.2h1.3v1.3h-1.3zM412.8 829.0h1.3v1.3h-1.3zM428.7 821.3h1.3v1.3h-1.3zM425.4 851.2h1.3v1.3h-1.3zM426.3 847.6h1.3v1.3h-1.3zM426.7 816.9h1.3v1.3h-1.3zM434.1 863.8h1.3v1.3h-1.3zM415.1 833.9h1.3v1.3h-1.3zM420.0 868.8h1.3v1.3h-1.3zM426.7 835.7h1.3v1.3h-1.3zM417.3 867.5h1.3v1.3h-1.3zM426.6 849.2h1.3v1.3h-1.3zM435.0 838.7h1.3v1.3h-1.3zM413.7 832.2h1.3v1.3h-1.3zM418.4 859.5h1.3v1.3h-1.3zM420.9 803.7h1.3v1.3h-1.3zM426.8 848.6h1.3v1.3h-1.3zM403.7 843.6h1.3v1.3h-1.3zM430.6 837.9h1.3v1.3h-1.3zM410.7 839.0h1.3v1.3h-1.3zM425.0 844.2h1.3v1.3h-1.3zM418.2 871.6h1.3v1.3h-1.3zM424.8 838.1h1.3v1.3h-1.3zM405.2 875.9h1.3v1.3h-1.3zM436.7 843.3h1.3v1.3h-1.3zM422.3 884.7h1.3v1.3h-1.3zM420.7 826.6h1.3v1.3h-1.3zM437.2 857.6h1.3v1.3h-1.3zM424.6 850.8h1.3v1.3h-1.3zM419.3 856.0h1.3v1.3h-1.3zM410.5 825.7h1.3v1.3h-1.3zM440.2 848.1h1.3v1.3h-1.3zM420.1 854.5h1.3v1.3h-1.3zM415.5 830.9h1.3v1.3h-1.3zM433.1 826.3h1.3v1.3h-1.3zM414.5 846.0h1.3v1.3h-1.3zM427.7 811.6h1.3v1.3h-1.3zM434.0 829.9h1.3v1.3h-1.3zM431.1 832.6h1.3v1.3h-1.3zM420.3 843.7h1.3v1.3h-1.3zM433.2 857.2h1.3v1.3h-1.3zM418.0 863.3h1.3v1.3h-1.3zM438.3 824.2h1.3v1.3h-1.3zM407.0 845.0h1.3v1.3h-1.3zM425.0 834.3h1.3v1.3h-1.3zM423.4 847.2h1.3v1.3h-1.3zM429.8 855.3h1.3v1.3h-1.3zM418.1 849.4h1.3v1.3h-1.3zM423.8 870.7h1.3v1.3h-1.3zM430.5 869.4h1.3v1.3h-1.3zM434.9 821.5h1.3v1.3h-1.3zM425.2 852.8h1.3v1.3h-1.3zM417.7 838.5h1.3v1.3h-1.3zM426.1 854.2h1.3v1.3h-1.3zM417.0 818.8h1.3v1.3h-1.3zM425.3 873.9h1.3v1.3h-1.3zM423.8 820.9h1.3v1.3h-1.3zM420.7 823.5h1.3v1.3h-1.3zM426.7 867.0h1.3v1.3h-1.3zM426.9 845.5h1.3v1.3h-1.3zM447.3 846.1h1.3v1.3h-1.3zM404.3 832.4h1.3v1.3h-1.3zM418.6 830.3h1.3v1.3h-1.3zM422.6 824.2h1.3v1.3h-1.3zM417.4 849.1h1.3v1.3h-1.3zM425.7 860.8h1.3v1.3h-1.3zM411.6 846.8h1.3v1.3h-1.3zM423.5 862.9h1.3v1.3h-1.3zM428.2 829.2h1.3v1.3h-1.3zM422.8 844.7h1.3v1.3h-1.3zM432.8 844.6h1.3v1.3h-1.3zM429.9 879.9h1.3v1.3h-1.3zM443.6 832.9h1.3v1.3h-1.3zM428.0 836.0h1.3v1.3h-1.3zM426.6 845.7h1.3v1.3h-1.3zM425.6 854.0h1.3v1.3h-1.3zM428.5 810.6h1.3v1.3h-1.3zM426.0 850.1h1.3v1.3h-1.3zM417.2 848.1h1.3v1.3h-1.3zM431.3 838.3h1.3v1.3h-1.3zM415.4 822.0h1.3v1.3h-1.3zM430.9 838.7h1.3v1.3h-1.3zM429.2 824.6h1.3v1.3h-1.3zM431.6 837.4h1.3v1.3h-1.3zM423.2 832.0h1.3v1.3h-1.3zM445.0 840.7h1.3v1.3h-1.3zM426.2 857.6h1.3v1.3h-1.3zM426.1 856.1h1.3v1.3h-1.3zM422.9 834.0h1.3v1.3h-1.3zM417.1 855.8h1.3v1.3h-1.3zM425.9 861.0h1.3v1.3h-1.3zM415.0 835.1h1.3v1.3h-1.3zM435.6 843.4h1.3v1.3h-1.3zM433.6 846.4h1.3v1.3h-1.3zM434.2 866.4h1.3v1.3h-1.3zM429.4 853.5h1.3v1.3h-1.3zM411.2 850.6h1.3v1.3h-1.3zM423.3 850.8h1.3v1.3h-1.3zM429.2 802.7h1.3v1.3h-1.3zM426.9 845.9h1.3v1.3h-1.3zM413.5 832.8h1.3v1.3h-1.3zM422.4 868.8h1.3v1.3h-1.3zM433.0 846.7h1.3v1.3h-1.3zM424.5 855.4h1.3v1.3h-1.3zM427.5 821.9h1.3v1.3h-1.3zM415.9 870.9h1.3v1.3h-1.3zM440.6 833.6h1.3v1.3h-1.3zM428.8 860.9h1.3v1.3h-1.3zM447.5 863.5h1.3v1.3h-1.3zM439.0 855.4h1.3v1.3h-1.3zM415.0 837.6h1.3v1.3h-1.3zM418.7 845.9h1.3v1.3h-1.3zM414.7 830.3h1.3v1.3h-1.3zM415.5 872.4h1.3v1.3h-1.3zM425.3 849.9h1.3v1.3h-1.3zM420.4 831.1h1.3v1.3h-1.3zM429.8 848.1h1.3v1.3h-1.3zM421.9 842.2h1.3v1.3h-1.3zM424.0 813.3h1.3v1.3h-1.3zM423.0 817.9h1.3v1.3h-1.3zM429.2 845.7h1.3v1.3h-1.3zM417.7 832.5h1.3v1.3h-1.3zM433.1 848.1h1.3v1.3h-1.3zM429.0 819.8h1.3v1.3h-1.3zM433.5 839.2h1.3v1.3h-1.3zM424.4 826.5h1.3v1.3h-1.3zM433.0 827.4h1.3v1.3h-1.3zM432.1 850.9h1.3v1.3h-1.3zM412.8 841.4h1.3v1.3h-1.3zM423.6 823.1h1.3v1.3h-1.3zM432.9 857.4h1.3v1.3h-1.3zM417.4 861.6h1.3v1.3h-1.3zM410.6 855.3h1.3v1.3h-1.3zM433.7 843.9h1.3v1.3h-1.3zM410.2 843.2h1.3v1.3h-1.3zM433.8 845.3h1.3v1.3h-1.3zM424.3 821.7h1.3v1.3h-1.3zM441.2 855.2h1.3v1.3h-1.3zM428.5 854.7h1.3v1.3h-1.3zM421.0 848.8h1.3v1.3h-1.3zM427.8 853.2h1.3v1.3h-1.3zM410.9 854.2h1.3v1.3h-1.3zM430.2 849.9h1.3v1.3h-1.3zM423.3 855.7h1.3v1.3h-1.3zM440.3 813.4h1.3v1.3h-1.3zM426.6 873.5h1.3v1.3h-1.3zM430.7 858.0h1.3v1.3h-1.3zM429.9 840.9h1.3v1.3h-1.3zM428.9 840.6h1.3v1.3h-1.3zM419.6 849.0h1.3v1.3h-1.3zM430.3 825.4h1.3v1.3h-1.3zM412.5 832.6h1.3v1.3h-1.3zM426.3 848.5h1.3v1.3h-1.3zM428.0 843.7h1.3v1.3h-1.3zM424.9 847.0h1.3v1.3h-1.3zM429.6 842.6h1.3v1.3h-1.3zM420.7 834.6h1.3v1.3h-1.3zM420.8 853.4h1.3v1.3h-1.3zM411.5 836.8h1.3v1.3h-1.3zM447.4 833.1h1.3v1.3h-1.3zM428.0 871.1h1.3v1.3h-1.3zM415.5 844.8h1.3v1.3h-1.3zM427.3 844.3h1.3v1.3h-1.3zM418.9 857.0h1.3v1.3h-1.3zM418.7 874.2h1.3v1.3h-1.3zM431.9 826.2h1.3v1.3h-1.3zM408.5 847.8h1.3v1.3h-1.3zM423.4 874.2h1.3v1.3h-1.3zM424.7 866.4h1.3v1.3h-1.3zM421.8 852.9h1.3v1.3h-1.3zM428.5 848.8h1.3v1.3h-1.3zM426.6 824.9h1.3v1.3h-1.3zM412.9 894.0h1.3v1.3h-1.3zM413.7 844.4h1.3v1.3h-1.3zM430.5 854.3h1.3v1.3h-1.3zM428.5 859.3h1.3v1.3h-1.3zM419.6 842.5h1.3v1.3h-1.3zM423.0 867.0h1.3v1.3h-1.3zM428.8 813.0h1.3v1.3h-1.3zM427.3 834.4h1.3v1.3h-1.3zM423.8 853.0h1.3v1.3h-1.3zM413.4 822.5h1.3v1.3h-1.3zM424.6 838.5h1.3v1.3h-1.3zM417.3 853.2h1.3v1.3h-1.3zM421.9 846.1h1.3v1.3h-1.3zM431.7 838.2h1.3v1.3h-1.3zM435.1 847.8h1.3v1.3h-1.3zM424.1 829.2h1.3v1.3h-1.3zM428.7 838.2h1.3v1.3h-1.3zM428.9 852.8h1.3v1.3h-1.3zM429.2 830.0h1.3v1.3h-1.3zM423.5 852.6h1.3v1.3h-1.3zM417.8 853.4h1.3v1.3h-1.3zM427.4 826.5h1.3v1.3h-1.3zM435.8 838.0h1.3v1.3h-1.3zM420.9 866.7h1.3v1.3h-1.3zM426.3 824.7h1.3v1.3h-1.3zM428.7 834.1h1.3v1.3h-1.3zM417.8 849.5h1.3v1.3h-1.3zM416.5 816.4h1.3v1.3h-1.3zM431.1 862.2h1.3v1.3h-1.3zM414.3 848.5h1.3v1.3h-1.3zM427.4 870.2h1.3v1.3h-1.3zM420.7 856.7h1.3v1.3h-1.3zM421.2 842.4h1.3v1.3h-1.3zM413.4 827.7h1.3v1.3h-1.3zM412.8 827.9h1.3v1.3h-1.3zM427.3 852.6h1.3v1.3h-1.3zM429.7 849.1h1.3v1.3h-1.3zM440.4 859.3h1.3v1.3h-1.3zM421.3 821.0h1.3v1.3h-1.3zM433.1 842.8h1.3v1.3h-1.3zM419.8 862.9h1.3v1.3h-1.3zM441.9 869.0h1.3v1.3h-1.3zM431.7 831.9h1.3v1.3h-1.3zM417.5 875.3h1.3v1.3h-1.3zM414.2 845.5h1.3v1.3h-1.3zM423.1 855.9h1.3v1.3h-1.3zM420.8 852.7h1.3v1.3h-1.3zM430.1 829.9h1.3v1.3h-1.3zM436.7 825.8h1.3v1.3h-1.3zM421.9 818.2h1.3v1.3h-1.3zM429.0 873.5h1.3v1.3h-1.3zM425.6 839.9h1.3v1.3h-1.3zM417.7 836.4h1.3v1.3h-1.3zM433.5 850.7h1.3v1.3h-1.3zM410.8 841.5h1.3v1.3h-1.3zM434.0 850.3h1.3v1.3h-1.3zM418.9 823.3h1.3v1.3h-1.3zM423.3 868.2h1.3v1.3h-1.3zM436.5 835.2h1.3v1.3h-1.3zM426.7 835.4h1.3v1.3h-1.3zM425.0 848.9h1.3v1.3h-1.3zM425.0 849.2h1.3v1.3h-1.3zM426.4 839.6h1.3v1.3h-1.3zM427.2 826.4h1.3v1.3h-1.3zM419.1 850.1h1.3v1.3h-1.3zM413.3 859.6h1.3v1.3h-1.3zM430.5 844.3h1.3v1.3h-1.3zM421.5 844.9h1.3v1.3h-1.3zM413.6 812.3h1.3v1.3h-1.3zM428.7 878.4h1.3v1.3h-1.3zM436.0 856.5h1.3v1.3h-1.3zM411.2 839.4h1.3v1.3h-1.3zM427.9 884.2h1.3v1.3h-1.3zM416.1 815.3h1.3v1.3h-1.3zM417.9 865.5h1.3v1.3h-1.3zM428.6 844.9h1.3v1.3h-1.3zM415.4 853.1h1.3v1.3h-1.3zM419.3 826.2h1.3v1.3h-1.3zM421.1 866.0h1.3v1.3h-1.3zM440.2 848.7h1.3v1.3h-1.3zM427.0 828.5h1.3v1.3h-1.3zM417.1 827.2h1.3v1.3h-1.3zM424.6 834.4h1.3v1.3h-1.3zM427.9 841.7h1.3v1.3h-1.3zM418.4 870.6h1.3v1.3h-1.3zM414.2 851.0h1.3v1.3h-1.3zM419.2 842.6h1.3v1.3h-1.3zM427.9 842.5h1.3v1.3h-1.3zM419.9 856.2h1.3v1.3h-1.3zM432.8 847.6h1.3v1.3h-1.3zM418.0 853.6h1.3v1.3h-1.3zM429.0 833.8h1.3v1.3h-1.3zM420.4 848.3h1.3v1.3h-1.3zM439.8 846.3h1.3v1.3h-1.3zM415.2 846.5h1.3v1.3h-1.3zM431.7 835.0h1.3v1.3h-1.3zM431.4 844.5h1.3v1.3h-1.3zM421.2 853.1h1.3v1.3h-1.3zM430.0 836.7h1.3v1.3h-1.3zM434.9 845.7h1.3v1.3h-1.3zM427.7 843.6h1.3v1.3h-1.3zM426.6 853.7h1.3v1.3h-1.3zM429.0 840.1h1.3v1.3h-1.3zM430.1 841.5h1.3v1.3h-1.3zM425.2 861.2h1.3v1.3h-1.3zM421.8 856.9h1.3v1.3h-1.3zM422.5 838.0h1.3v1.3h-1.3zM427.4 826.1h1.3v1.3h-1.3zM409.3 840.6h1.3v1.3h-1.3zM413.5 850.7h1.3v1.3h-1.3zM426.9 837.7h1.3v1.3h-1.3zM427.4 843.8h1.3v1.3h-1.3zM431.2 822.7h1.3v1.3h-1.3zM404.0 851.1h1.3v1.3h-1.3zM426.7 853.3h1.3v1.3h-1.3zM426.8 835.1h1.3v1.3h-1.3zM427.6 853.2h1.3v1.3h-1.3zM419.9 853.2h1.3v1.3h-1.3zM435.5 823.3h1.3v1.3h-1.3zM422.4 843.6h1.3v1.3h-1.3zM425.2 853.4h1.3v1.3h-1.3zM415.1 820.8h1.3v1.3h-1.3zM429.6 848.9h1.3v1.3h-1.3zM438.1 849.8h1.3v1.3h-1.3zM433.0 852.4h1.3v1.3h-1.3zM426.6 844.3h1.3v1.3h-1.3zM427.5 825.8h1.3v1.3h-1.3zM420.0 831.1h1.3v1.3h-1.3zM414.1 840.3h1.3v1.3h-1.3zM419.7 856.7h1.3v1.3h-1.3zM427.0 844.0h1.3v1.3h-1.3z"/>
<path fill="#b06452" d="M425.7 844.5h1.3v1.3h-1.3zM412.4 827.3h1.3v1.3h-1.3zM419.4 841.1h1.3v1.3h-1.3zM419.0 862.1h1.3v1.3h-1.3zM428.4 844.4h1.3v1.3h-1.3zM429.3 841.5h1.3v1.3h-1.3zM421.5 823.7h1.3v1.3h-1.3zM440.7 878.7h1.3v1.3h-1.3zM429.4 871.6h1.3v1.3h-1.3zM420.8 831.3h1.3v1.3h-1.3zM440.0 852.5h1.3v1.3h-1.3zM432.4 860.2h1.3v1.3h-1.3zM426.2 858.7h1.3v1.3h-1.3zM423.6 851.0h1.3v1.3h-1.3zM434.1 865.9h1.3v1.3h-1.3zM426.0 878.4h1.3v1.3h-1.3zM431.3 846.6h1.3v1.3h-1.3zM421.3 886.1h1.3v1.3h-1.3zM423.3 837.7h1.3v1.3h-1.3zM426.4 850.0h1.3v1.3h-1.3zM418.7 826.0h1.3v1.3h-1.3zM423.6 859.3h1.3v1.3h-1.3zM415.4 807.7h1.3v1.3h-1.3zM426.0 814.2h1.3v1.3h-1.3zM415.0 891.0h1.3v1.3h-1.3zM429.0 864.1h1.3v1.3h-1.3zM423.7 850.1h1.3v1.3h-1.3zM414.2 875.9h1.3v1.3h-1.3zM424.4 837.5h1.3v1.3h-1.3zM431.4 818.0h1.3v1.3h-1.3zM414.2 864.3h1.3v1.3h-1.3zM427.0 817.1h1.3v1.3h-1.3zM420.3 870.6h1.3v1.3h-1.3zM430.9 850.6h1.3v1.3h-1.3zM418.6 865.0h1.3v1.3h-1.3zM436.6 836.2h1.3v1.3h-1.3zM421.1 842.6h1.3v1.3h-1.3zM429.5 847.2h1.3v1.3h-1.3zM416.2 832.9h1.3v1.3h-1.3zM428.4 855.8h1.3v1.3h-1.3zM414.9 823.2h1.3v1.3h-1.3zM414.2 821.3h1.3v1.3h-1.3zM407.3 825.5h1.3v1.3h-1.3zM419.4 875.0h1.3v1.3h-1.3zM420.8 865.5h1.3v1.3h-1.3zM427.8 822.7h1.3v1.3h-1.3zM422.4 839.2h1.3v1.3h-1.3zM420.3 819.0h1.3v1.3h-1.3zM436.9 829.0h1.3v1.3h-1.3zM426.5 829.4h1.3v1.3h-1.3zM425.1 846.6h1.3v1.3h-1.3zM432.5 841.4h1.3v1.3h-1.3zM427.9 873.0h1.3v1.3h-1.3zM439.2 839.1h1.3v1.3h-1.3zM434.5 859.2h1.3v1.3h-1.3zM429.8 875.0h1.3v1.3h-1.3zM419.0 837.6h1.3v1.3h-1.3zM433.8 839.9h1.3v1.3h-1.3zM433.3 847.1h1.3v1.3h-1.3zM415.6 849.1h1.3v1.3h-1.3zM434.0 847.3h1.3v1.3h-1.3zM425.4 847.0h1.3v1.3h-1.3zM421.7 874.9h1.3v1.3h-1.3zM415.7 822.8h1.3v1.3h-1.3zM426.2 832.1h1.3v1.3h-1.3zM421.1 841.6h1.3v1.3h-1.3zM403.0 825.6h1.3v1.3h-1.3zM414.4 814.5h1.3v1.3h-1.3zM442.3 830.5h1.3v1.3h-1.3zM420.5 840.1h1.3v1.3h-1.3zM423.5 835.9h1.3v1.3h-1.3zM418.4 844.8h1.3v1.3h-1.3zM426.5 850.0h1.3v1.3h-1.3zM420.6 812.4h1.3v1.3h-1.3zM431.5 851.2h1.3v1.3h-1.3zM431.3 838.2h1.3v1.3h-1.3zM420.6 843.2h1.3v1.3h-1.3zM416.2 821.6h1.3v1.3h-1.3zM437.0 851.6h1.3v1.3h-1.3zM425.2 860.1h1.3v1.3h-1.3zM421.1 850.0h1.3v1.3h-1.3zM433.8 837.8h1.3v1.3h-1.3zM424.2 837.9h1.3v1.3h-1.3zM427.5 832.8h1.3v1.3h-1.3zM429.5 872.5h1.3v1.3h-1.3zM421.7 841.5h1.3v1.3h-1.3zM418.8 827.8h1.3v1.3h-1.3zM436.5 867.1h1.3v1.3h-1.3zM426.7 849.9h1.3v1.3h-1.3zM420.6 846.5h1.3v1.3h-1.3zM421.2 823.8h1.3v1.3h-1.3zM419.8 837.2h1.3v1.3h-1.3zM405.1 838.1h1.3v1.3h-1.3zM436.5 860.0h1.3v1.3h-1.3zM409.9 833.2h1.3v1.3h-1.3zM431.2 837.1h1.3v1.3h-1.3zM426.5 853.4h1.3v1.3h-1.3zM422.9 845.4h1.3v1.3h-1.3zM425.3 833.0h1.3v1.3h-1.3zM430.8 855.9h1.3v1.3h-1.3zM425.3 851.6h1.3v1.3h-1.3zM429.2 845.7h1.3v1.3h-1.3zM413.9 844.9h1.3v1.3h-1.3zM427.3 829.8h1.3v1.3h-1.3zM408.1 856.4h1.3v1.3h-1.3zM426.6 821.3h1.3v1.3h-1.3zM448.7 853.5h1.3v1.3h-1.3zM423.9 839.3h1.3v1.3h-1.3zM430.4 817.9h1.3v1.3h-1.3zM425.5 839.7h1.3v1.3h-1.3zM428.6 843.4h1.3v1.3h-1.3zM416.3 832.8h1.3v1.3h-1.3zM426.4 831.6h1.3v1.3h-1.3zM427.5 836.4h1.3v1.3h-1.3zM433.7 845.5h1.3v1.3h-1.3zM426.0 844.3h1.3v1.3h-1.3zM428.3 823.1h1.3v1.3h-1.3zM429.2 832.3h1.3v1.3h-1.3zM418.7 834.7h1.3v1.3h-1.3zM428.8 853.7h1.3v1.3h-1.3zM413.7 869.3h1.3v1.3h-1.3zM431.8 847.2h1.3v1.3h-1.3zM427.8 859.1h1.3v1.3h-1.3zM432.8 848.6h1.3v1.3h-1.3zM425.4 826.2h1.3v1.3h-1.3zM426.9 814.1h1.3v1.3h-1.3zM416.7 849.7h1.3v1.3h-1.3zM428.4 846.9h1.3v1.3h-1.3zM428.9 857.1h1.3v1.3h-1.3zM430.1 822.6h1.3v1.3h-1.3zM426.2 860.7h1.3v1.3h-1.3zM435.6 802.3h1.3v1.3h-1.3zM425.3 857.4h1.3v1.3h-1.3zM423.9 850.4h1.3v1.3h-1.3zM430.8 821.0h1.3v1.3h-1.3zM428.5 856.9h1.3v1.3h-1.3zM422.9 848.9h1.3v1.3h-1.3zM430.6 843.3h1.3v1.3h-1.3zM421.4 819.2h1.3v1.3h-1.3zM411.3 849.0h1.3v1.3h-1.3zM412.7 817.4h1.3v1.3h-1.3zM423.9 853.0h1.3v1.3h-1.3zM434.0 821.0h1.3v1.3h-1.3zM424.4 866.6h1.3v1.3h-1.3zM409.0 828.4h1.3v1.3h-1.3zM438.2 840.1h1.3v1.3h-1.3zM424.2 850.7h1.3v1.3h-1.3zM423.4 857.1h1.3v1.3h-1.3zM414.1 848.7h1.3v1.3h-1.3zM421.5 848.6h1.3v1.3h-1.3zM429.8 845.2h1.3v1.3h-1.3zM423.7 859.2h1.3v1.3h-1.3zM428.5 847.3h1.3v1.3h-1.3zM411.5 854.1h1.3v1.3h-1.3zM432.3 825.0h1.3v1.3h-1.3zM434.2 860.6h1.3v1.3h-1.3zM415.3 841.3h1.3v1.3h-1.3zM412.0 855.1h1.3v1.3h-1.3zM430.1 837.7h1.3v1.3h-1.3zM424.6 842.0h1.3v1.3h-1.3zM430.5 852.9h1.3v1.3h-1.3zM407.5 828.0h1.3v1.3h-1.3zM430.4 849.9h1.3v1.3h-1.3zM422.7 836.7h1.3v1.3h-1.3zM441.1 831.2h1.3v1.3h-1.3zM430.4 826.7h1.3v1.3h-1.3zM419.2 846.8h1.3v1.3h-1.3zM425.3 839.7h1.3v1.3h-1.3zM417.2 866.4h1.3v1.3h-1.3zM419.9 850.0h1.3v1.3h-1.3zM421.8 852.7h1.3v1.3h-1.3zM424.8 811.1h1.3v1.3h-1.3zM424.8 846.1h1.3v1.3h-1.3zM425.4 861.9h1.3v1.3h-1.3zM426.8 824.7h1.3v1.3h-1.3zM417.9 844.2h1.3v1.3h-1.3zM411.6 839.8h1.3v1.3h-1.3zM438.7 840.5h1.3v1.3h-1.3zM432.2 847.2h1.3v1.3h-1.3zM416.5 817.5h1.3v1.3h-1.3zM406.2 847.8h1.3v1.3h-1.3zM436.5 873.7h1.3v1.3h-1.3zM415.8 850.3h1.3v1.3h-1.3zM428.8 816.3h1.3v1.3h-1.3zM416.9 843.5h1.3v1.3h-1.3zM430.2 846.6h1.3v1.3h-1.3zM415.1 842.6h1.3v1.3h-1.3zM428.4 831.4h1.3v1.3h-1.3zM436.1 821.4h1.3v1.3h-1.3zM436.7 848.8h1.3v1.3h-1.3zM428.5 849.1h1.3v1.3h-1.3zM437.3 860.1h1.3v1.3h-1.3zM438.7 842.8h1.3v1.3h-1.3zM427.3 845.9h1.3v1.3h-1.3zM430.0 843.1h1.3v1.3h-1.3zM425.9 801.2h1.3v1.3h-1.3zM442.0 845.2h1.3v1.3h-1.3zM432.7 865.5h1.3v1.3h-1.3zM435.7 889.4h1.3v1.3h-1.3zM422.9 871.4h1.3v1.3h-1.3zM427.3 864.6h1.3v1.3h-1.3zM411.5 834.0h1.3v1.3h-1.3zM421.4 835.5h1.3v1.3h-1.3zM428.6 831.7h1.3v1.3h-1.3zM423.1 842.0h1.3v1.3h-1.3zM435.5 851.4h1.3v1.3h-1.3zM428.4 823.0h1.3v1.3h-1.3zM432.2 848.4h1.3v1.3h-1.3zM425.6 857.4h1.3v1.3h-1.3zM413.1 857.2h1.3v1.3h-1.3zM433.7 841.9h1.3v1.3h-1.3zM434.7 874.5h1.3v1.3h-1.3zM418.4 848.6h1.3v1.3h-1.3zM428.8 845.9h1.3v1.3h-1.3zM420.8 836.9h1.3v1.3h-1.3zM428.9 836.7h1.3v1.3h-1.3zM428.0 817.4h1.3v1.3h-1.3zM434.1 842.3h1.3v1.3h-1.3zM426.1 854.0h1.3v1.3h-1.3zM439.5 851.3h1.3v1.3h-1.3zM449.6 831.6h1.3v1.3h-1.3zM430.1 834.7h1.3v1.3h-1.3zM419.8 844.0h1.3v1.3h-1.3zM426.7 826.6h1.3v1.3h-1.3zM417.8 873.1h1.3v1.3h-1.3zM424.2 863.1h1.3v1.3h-1.3zM428.4 820.9h1.3v1.3h-1.3zM435.8 831.1h1.3v1.3h-1.3zM422.4 844.6h1.3v1.3h-1.3zM415.1 830.7h1.3v1.3h-1.3zM418.1 864.9h1.3v1.3h-1.3zM433.5 854.8h1.3v1.3h-1.3zM421.8 854.7h1.3v1.3h-1.3zM425.8 839.1h1.3v1.3h-1.3zM432.4 853.4h1.3v1.3h-1.3zM420.8 854.8h1.3v1.3h-1.3zM423.3 846.5h1.3v1.3h-1.3zM433.2 848.7h1.3v1.3h-1.3zM419.7 880.5h1.3v1.3h-1.3zM419.1 864.3h1.3v1.3h-1.3zM413.3 867.5h1.3v1.3h-1.3zM430.4 875.1h1.3v1.3h-1.3zM431.7 848.1h1.3v1.3h-1.3zM420.7 868.7h1.3v1.3h-1.3zM432.2 894.0h1.3v1.3h-1.3zM428.7 854.0h1.3v1.3h-1.3zM442.0 848.0h1.3v1.3h-1.3zM428.6 872.4h1.3v1.3h-1.3zM415.0 837.5h1.3v1.3h-1.3zM432.1 865.5h1.3v1.3h-1.3zM429.9 832.3h1.3v1.3h-1.3zM424.7 835.3h1.3v1.3h-1.3zM420.9 859.2h1.3v1.3h-1.3zM439.6 846.4h1.3v1.3h-1.3zM421.1 849.3h1.3v1.3h-1.3zM429.3 837.7h1.3v1.3h-1.3zM430.0 829.9h1.3v1.3h-1.3zM432.5 819.2h1.3v1.3h-1.3zM422.0 848.8h1.3v1.3h-1.3zM430.4 841.6h1.3v1.3h-1.3zM407.8 822.8h1.3v1.3h-1.3zM436.3 824.1h1.3v1.3h-1.3zM425.0 853.3h1.3v1.3h-1.3zM439.3 892.9h1.3v1.3h-1.3zM419.5 812.0h1.3v1.3h-1.3zM434.3 837.6h1.3v1.3h-1.3zM428.6 849.6h1.3v1.3h-1.3zM425.4 862.4h1.3v1.3h-1.3zM425.1 836.5h1.3v1.3h-1.3zM430.8 835.5h1.3v1.3h-1.3zM434.1 839.1h1.3v1.3h-1.3zM425.7 845.3h1.3v1.3h-1.3zM434.6 874.6h1.3v1.3h-1.3zM425.9 846.7h1.3v1.3h-1.3zM441.3 839.9h1.3v1.3h-1.3zM429.5 787.1h1.3v1.3h-1.3zM455.3 843.4h1.3v1.3h-1.3zM417.4 822.6h1.3v1.3h-1.3zM415.1 848.7h1.3v1.3h-1.3zM429.4 847.9h1.3v1.3h-1.3zM440.6 836.2h1.3v1.3h-1.3zM432.2 836.3h1.3v1.3h-1.3zM417.8 847.4h1.3v1.3h-1.3zM428.4 823.4h1.3v1.3h-1.3zM420.9 844.2h1.3v1.3h-1.3zM419.3 819.7h1.3v1.3h-1.3zM411.3 855.1h1.3v1.3h-1.3zM420.8 878.5h1.3v1.3h-1.3zM430.7 850.4h1.3v1.3h-1.3zM420.5 848.4h1.3v1.3h-1.3zM426.7 826.1h1.3v1.3h-1.3zM420.8 842.1h1.3v1.3h-1.3zM431.7 883.7h1.3v1.3h-1.3zM421.3 851.8h1.3v1.3h-1.3zM435.6 864.5h1.3v1.3h-1.3zM421.3 804.5h1.3v1.3h-1.3zM438.1 827.6h1.3v1.3h-1.3zM438.7 826.7h1.3v1.3h-1.3zM410.5 834.5h1.3v1.3h-1.3zM436.3 851.5h1.3v1.3h-1.3zM422.9 834.0h1.3v1.3h-1.3zM434.8 822.7h1.3v1.3h-1.3zM421.8 823.6h1.3v1.3h-1.3zM435.8 858.9h1.3v1.3h-1.3zM421.1 837.5h1.3v1.3h-1.3zM411.3 823.1h1.3v1.3h-1.3zM422.9 862.5h1.3v1.3h-1.3zM410.7 836.4h1.3v1.3h-1.3zM418.5 891.4h1.3v1.3h-1.3zM420.5 833.8h1.3v1.3h-1.3zM427.3 838.8h1.3v1.3h-1.3zM442.5 868.7h1.3v1.3h-1.3zM422.4 881.8h1.3v1.3h-1.3zM426.3 864.1h1.3v1.3h-1.3zM426.5 836.6h1.3v1.3h-1.3zM438.7 854.5h1.3v1.3h-1.3zM423.7 835.8h1.3v1.3h-1.3zM434.1 861.8h1.3v1.3h-1.3zM411.1 855.8h1.3v1.3h-1.3zM440.2 864.7h1.3v1.3h-1.3zM424.7 850.4h1.3v1.3h-1.3zM419.0 826.6h1.3v1.3h-1.3zM418.2 831.2h1.3v1.3h-1.3zM424.2 837.8h1.3v1.3h-1.3zM428.7 852.0h1.3v1.3h-1.3zM428.0 855.0h1.3v1.3h-1.3zM432.8 835.0h1.3v1.3h-1.3zM435.8 841.2h1.3v1.3h-1.3zM415.4 854.7h1.3v1.3h-1.3zM424.1 858.9h1.3v1.3h-1.3zM419.9 850.7h1.3v1.3h-1.3zM429.7 832.5h1.3v1.3h-1.3zM410.0 843.0h1.3v1.3h-1.3zM435.5 841.3h1.3v1.3h-1.3zM427.4 847.4h1.3v1.3h-1.3zM420.9 827.3h1.3v1.3h-1.3zM425.7 845.6h1.3v1.3h-1.3zM412.2 854.0h1.3v1.3h-1.3zM428.2 834.4h1.3v1.3h-1.3zM422.0 847.5h1.3v1.3h-1.3zM400.0 850.0h1.3v1.3h-1.3zM438.4 850.4h1.3v1.3h-1.3zM418.5 826.7h1.3v1.3h-1.3zM430.5 847.5h1.3v1.3h-1.3zM417.4 842.6h1.3v1.3h-1.3zM440.8 853.3h1.3v1.3h-1.3zM431.8 839.1h1.3v1.3h-1.3zM434.3 849.3h1.3v1.3h-1.3zM419.8 826.8h1.3v1.3h-1.3zM424.3 836.5h1.3v1.3h-1.3zM428.4 850.4h1.3v1.3h-1.3zM426.5 860.5h1.3v1.3h-1.3z"/>
<path fill="#b86e5c" d="M419.8 865.7h1.3v1.3h-1.3zM416.6 845.8h1.3v1.3h-1.3zM416.9 851.6h1.3v1.3h-1.3zM420.7 859.7h1.3v1.3h-1.3zM436.0 844.8h1.3v1.3h-1.3zM433.7 833.7h1.3v1.3h-1.3zM428.9 833.1h1.3v1.3h-1.3zM425.6 846.1h1.3v1.3h-1.3zM417.9 866.7h1.3v1.3h-1.3zM406.6 859.7h1.3v1.3h-1.3zM441.9 883.4h1.3v1.3h-1.3zM438.9 831.5h1.3v1.3h-1.3zM419.9 871.1h1.3v1.3h-1.3zM422.4 858.1h1.3v1.3h-1.3zM422.9 847.7h1.3v1.3h-1.3zM418.3 851.4h1.3v1.3h-1.3zM425.0 832.2h1.3v1.3h-1.3zM415.7 812.7h1.3v1.3h-1.3zM422.5 855.2h1.3v1.3h-1.3zM432.0 835.7h1.3v1.3h-1.3zM421.4 834.2h1.3v1.3h-1.3zM414.7 839.4h1.3v1.3h-1.3zM409.5 827.0h1.3v1.3h-1.3zM407.5 829.3h1.3v1.3h-1.3zM405.8 860.8h1.3v1.3h-1.3zM416.4 836.8h1.3v1.3h-1.3zM430.7 875.7h1.3v1.3h-1.3zM417.3 832.0h1.3v1.3h-1.3zM424.0 857.4h1.3v1.3h-1.3zM446.9 829.1h1.3v1.3h-1.3zM414.5 830.4h1.3v1.3h-1.3zM423.6 859.6h1.3v1.3h-1.3zM430.5 835.2h1.3v1.3h-1.3zM418.7 836.5h1.3v1.3h-1.3zM416.6 836.2h1.3v1.3h-1.3zM411.6 823.2h1.3v1.3h-1.3zM426.2 870.0h1.3v1.3h-1.3zM418.2 847.7h1.3v1.3h-1.3zM423.9 843.6h1.3v1.3h-1.3zM433.0 824.4h1.3v1.3h-1.3zM421.2 843.1h1.3v1.3h-1.3zM420.6 843.6h1.3v1.3h-1.3zM429.2 854.0h1.3v1.3h-1.3zM431.6 819.0h1.3v1.3h-1.3zM438.5 833.2h1.3v1.3h-1.3zM425.0 796.9h1.3v1.3h-1.3zM426.7 826.0h1.3v1.3h-1.3zM422.6 847.3h1.3v1.3h-1.3zM426.5 857.8h1.3v1.3h-1.3zM445.0 821.9h1.3v1.3h-1.3zM410.5 877.8h1.3v1.3h-1.3zM429.8 834.4h1.3v1.3h-1.3zM424.7 849.9h1.3v1.3h-1.3zM424.7 833.8h1.3v1.3h-1.3zM413.7 853.9h1.3v1.3h-1.3zM424.0 870.7h1.3v1.3h-1.3zM418.2 862.2h1.3v1.3h-1.3zM428.1 837.4h1.3v1.3h-1.3zM423.7 854.7h1.3v1.3h-1.3zM427.4 864.2h1.3v1.3h-1.3zM423.0 856.1h1.3v1.3h-1.3zM427.7 848.2h1.3v1.3h-1.3zM427.8 834.5h1.3v1.3h-1.3zM431.8 856.3h1.3v1.3h-1.3zM426.5 836.5h1.3v1.3h-1.3zM431.4 846.5h1.3v1.3h-1.3zM396.1 842.9h1.3v1.3h-1.3zM430.2 856.7h1.3v1.3h-1.3zM429.7 847.4h1.3v1.3h-1.3zM413.1 861.4h1.3v1.3h-1.3zM422.3 825.5h1.3v1.3h-1.3zM439.6 833.4h1.3v1.3h-1.3zM426.0 866.8h1.3v1.3h-1.3zM424.3 820.6h1.3v1.3h-1.3zM427.7 853.5h1.3v1.3h-1.3zM435.9 845.2h1.3v1.3h-1.3zM420.8 861.7h1.3v1.3h-1.3zM446.3 887.0h1.3v1.3h-1.3zM425.8 851.8h1.3v1.3h-1.3zM418.4 861.9h1.3v1.3h-1.3zM431.7 854.0h1.3v1.3h-1.3zM427.5 827.5h1.3v1.3h-1.3zM432.0 853.9h1.3v1.3h-1.3zM439.7 862.2h1.3v1.3h-1.3zM427.7 832.3h1.3v1.3h-1.3zM427.3 816.2h1.3v1.3h-1.3zM430.4 844.1h1.3v1.3h-1.3zM446.4 838.5h1.3v1.3h-1.3zM440.2 857.5h1.3v1.3h-1.3zM423.2 853.8h1.3v1.3h-1.3zM433.8 835.6h1.3v1.3h-1.3zM413.9 859.8h1.3v1.3h-1.3zM406.9 840.2h1.3v1.3h-1.3zM423.4 846.6h1.3v1.3h-1.3zM426.1 845.8h1.3v1.3h-1.3zM422.9 837.4h1.3v1.3h-1.3zM419.2 882.8h1.3v1.3h-1.3zM431.3 862.5h1.3v1.3h-1.3zM432.8 834.8h1.3v1.3h-1.3zM409.1 869.2h1.3v1.3h-1.3zM432.2 870.9h1.3v1.3h-1.3zM402.7 859.2h1.3v1.3h-1.3zM414.8 850.9h1.3v1.3h-1.3zM415.0 844.7h1.3v1.3h-1.3zM427.3 846.0h1.3v1.3h-1.3zM416.1 830.0h1.3v1.3h-1.3zM422.6 827.0h1.3v1.3h-1.3zM413.0 856.8h1.3v1.3h-1.3zM426.3 855.7h1.3v1.3h-1.3zM406.0 841.9h1.3v1.3h-1.3zM428.7 865.6h1.3v1.3h-1.3zM423.2 886.5h1.3v1.3h-1.3zM436.5 832.8h1.3v1.3h-1.3zM436.8 855.0h1.3v1.3h-1.3zM413.1 850.9h1.3v1.3h-1.3zM407.4 845.7h1.3v1.3h-1.3zM429.8 874.8h1.3v1.3h-1.3zM420.0 841.8h1.3v1.3h-1.3zM433.3 834.7h1.3v1.3h-1.3zM423.6 836.0h1.3v1.3h-1.3zM418.9 822.5h1.3v1.3h-1.3zM429.1 836.0h1.3v1.3h-1.3zM414.0 826.9h1.3v1.3h-1.3zM419.2 857.1h1.3v1.3h-1.3zM441.4 853.5h1.3v1.3h-1.3zM424.2 784.3h1.3v1.3h-1.3zM432.2 847.6h1.3v1.3h-1.3zM424.0 888.3h1.3v1.3h-1.3zM412.1 831.1h1.3v1.3h-1.3zM418.7 861.0h1.3v1.3h-1.3zM430.6 838.5h1.3v1.3h-1.3zM416.4 853.2h1.3v1.3h-1.3zM427.8 848.2h1.3v1.3h-1.3zM421.4 830.7h1.3v1.3h-1.3zM423.3 839.4h1.3v1.3h-1.3zM413.1 854.4h1.3v1.3h-1.3zM432.1 847.3h1.3v1.3h-1.3zM428.0 839.8h1.3v1.3h-1.3zM440.6 839.9h1.3v1.3h-1.3zM421.6 859.9h1.3v1.3h-1.3zM415.8 815.9h1.3v1.3h-1.3zM438.8 844.2h1.3v1.3h-1.3zM423.0 851.4h1.3v1.3h-1.3zM415.4 849.6h1.3v1.3h-1.3zM430.7 850.7h1.3v1.3h-1.3zM434.2 819.0h1.3v1.3h-1.3zM429.2 830.0h1.3v1.3h-1.3zM426.5 870.4h1.3v1.3h-1.3zM450.1 855.7h1.3v1.3h-1.3zM420.0 841.5h1.3v1.3h-1.3zM413.2 833.3h1.3v1.3h-1.3zM431.9 849.4h1.3v1.3h-1.3zM419.8 859.0h1.3v1.3h-1.3zM418.9 859.7h1.3v1.3h-1.3zM425.3 828.3h1.3v1.3h-1.3zM411.1 843.3h1.3v1.3h-1.3zM432.6 851.5h1.3v1.3h-1.3zM408.9 846.9h1.3v1.3h-1.3zM428.9 854.3h1.3v1.3h-1.3zM431.0 849.9h1.3v1.3h-1.3zM423.1 869.4h1.3v1.3h-1.3zM431.7 851.3h1.3v1.3h-1.3zM420.5 829.4h1.3v1.3h-1.3zM429.4 860.5h1.3v1.3h-1.3zM422.5 854.0h1.3v1.3h-1.3zM418.6 839.7h1.3v1.3h-1.3zM420.9 811.7h1.3v1.3h-1.3zM423.6 841.4h1.3v1.3h-1.3zM418.9 846.4h1.3v1.3h-1.3zM423.5 825.8h1.3v1.3h-1.3zM446.8 841.7h1.3v1.3h-1.3zM425.7 878.2h1.3v1.3h-1.3zM416.3 848.8h1.3v1.3h-1.3zM422.3 843.6h1.3v1.3h-1.3zM422.3 875.1h1.3v1.3h-1.3zM432.0 839.2h1.3v1.3h-1.3zM417.5 845.2h1.3v1.3h-1.3zM421.4 834.0h1.3v1.3h-1.3zM422.3 812.3h1.3v1.3h-1.3zM440.1 857.1h1.3v1.3h-1.3zM429.7 877.2h1.3v1.3h-1.3zM437.0 840.9h1.3v1.3h-1.3zM422.7 835.7h1.3v1.3h-1.3zM446.1 859.7h1.3v1.3h-1.3zM416.5 832.7h1.3v1.3h-1.3zM429.7 851.4h1.3v1.3h-1.3zM424.2 870.3h1.3v1.3h-1.3zM411.1 841.5h1.3v1.3h-1.3zM426.1 864.0h1.3v1.3h-1.3zM423.8 840.6h1.3v1.3h-1.3zM431.5 870.1h1.3v1.3h-1.3zM413.3 834.3h1.3v1.3h-1.3zM433.0 812.7h1.3v1.3h-1.3zM423.8 847.3h1.3v1.3h-1.3zM418.8 856.5h1.3v1.3h-1.3zM420.4 852.6h1.3v1.3h-1.3zM413.0 855.1h1.3v1.3h-1.3zM419.8 829.3h1.3v1.3h-1.3zM429.7 845.7h1.3v1.3h-1.3zM426.7 862.5h1.3v1.3h-1.3zM418.8 838.5h1.3v1.3h-1.3zM428.8 831.9h1.3v1.3h-1.3zM427.6 850.5h1.3v1.3h-1.3zM407.6 833.2h1.3v1.3h-1.3zM422.8 841.0h1.3v1.3h-1.3zM434.5 853.9h1.3v1.3h-1.3zM432.7 840.2h1.3v1.3h-1.3zM426.6 850.1h1.3v1.3h-1.3zM426.5 866.5h1.3v1.3h-1.3zM421.5 835.1h1.3v1.3h-1.3zM429.9 852.2h1.3v1.3h-1.3zM417.4 835.5h1.3v1.3h-1.3zM426.4 822.8h1.3v1.3h-1.3zM420.5 831.8h1.3v1.3h-1.3zM427.7 862.2h1.3v1.3h-1.3zM424.6 871.6h1.3v1.3h-1.3zM421.0 856.8h1.3v1.3h-1.3zM414.7 851.7h1.3v1.3h-1.3zM425.2 836.9h1.3v1.3h-1.3zM413.0 856.8h1.3v1.3h-1.3zM428.3 847.2h1.3v1.3h-1.3zM424.1 872.5h1.3v1.3h-1.3zM421.2 818.0h1.3v1.3h-1.3zM420.2 858.0h1.3v1.3h-1.3zM418.2 857.3h1.3v1.3h-1.3zM432.1 854.8h1.3v1.3h-1.3zM423.6 850.4h1.3v1.3h-1.3zM423.2 849.7h1.3v1.3h-1.3zM426.9 882.3h1.3v1.3h-1.3zM426.8 823.5h1.3v1.3h-1.3zM430.2 841.2h1.3v1.3h-1.3zM419.4 831.5h1.3v1.3h-1.3zM432.9 843.3h1.3v1.3h-1.3zM431.8 845.4h1.3v1.3h-1.3zM418.6 856.2h1.3v1.3h-1.3zM425.0 840.0h1.3v1.3h-1.3zM438.0 826.9h1.3v1.3h-1.3zM431.6 844.0h1.3v1.3h-1.3zM430.2 816.0h1.3v1.3h-1.3zM435.1 853.0h1.3v1.3h-1.3zM423.1 838.8h1.3v1.3h-1.3zM419.8 848.8h1.3v1.3h-1.3zM412.8 832.2h1.3v1.3h-1.3zM430.1 829.0h1.3v1.3h-1.3zM434.9 841.3h1.3v1.3h-1.3zM434.0 863.6h1.3v1.3h-1.3zM414.4 845.4h1.3v1.3h-1.3zM434.1 836.2h1.3v1.3h-1.3zM420.5 826.4h1.3v1.3h-1.3zM428.3 876.7h1.3v1.3h-1.3zM407.4 860.0h1.3v1.3h-1.3zM440.6 873.7h1.3v1.3h-1.3zM440.5 833.2h1.3v1.3h-1.3zM426.7 838.7h1.3v1.3h-1.3zM428.8 861.2h1.3v1.3h-1.3zM418.6 841.4h1.3v1.3h-1.3zM421.5 864.8h1.3v1.3h-1.3zM435.5 834.4h1.3v1.3h-1.3zM400.2 830.2h1.3v1.3h-1.3zM415.0 862.8h1.3v1.3h-1.3zM418.0 832.4h1.3v1.3h-1.3zM409.8 864.3h1.3v1.3h-1.3zM431.0 870.5h1.3v1.3h-1.3zM443.2 821.9h1.3v1.3h-1.3zM425.2 849.9h1.3v1.3h-1.3zM434.3 849.7h1.3v1.3h-1.3zM426.4 837.4h1.3v1.3h-1.3zM431.2 820.3h1.3v1.3h-1.3zM433.1 846.9h1.3v1.3h-1.3zM412.1 846.1h1.3v1.3h-1.3zM423.9 848.0h1.3v1.3h-1.3zM421.2 847.2h1.3v1.3h-1.3zM425.1 837.8h1.3v1.3h-1.3zM427.7 848.1h1.3v1.3h-1.3zM433.3 838.1h1.3v1.3h-1.3zM418.4 783.0h1.3v1.3h-1.3zM437.9 846.7h1.3v1.3h-1.3zM418.8 851.5h1.3v1.3h-1.3zM425.2 842.7h1.3v1.3h-1.3zM437.4 819.3h1.3v1.3h-1.3zM424.9 865.9h1.3v1.3h-1.3zM408.1 867.4h1.3v1.3h-1.3zM406.7 856.3h1.3v1.3h-1.3zM424.3 844.6h1.3v1.3h-1.3zM427.1 861.0h1.3v1.3h-1.3zM429.4 881.1h1.3v1.3h-1.3zM426.7 848.8h1.3v1.3h-1.3zM410.1 815.4h1.3v1.3h-1.3zM434.0 807.3h1.3v1.3h-1.3zM426.1 836.6h1.3v1.3h-1.3zM427.5 852.3h1.3v1.3h-1.3zM418.5 836.9h1.3v1.3h-1.3zM414.6 839.3h1.3v1.3h-1.3zM436.8 859.4h1.3v1.3h-1.3zM434.1 862.2h1.3v1.3h-1.3zM419.3 840.7h1.3v1.3h-1.3zM409.1 849.4h1.3v1.3h-1.3zM443.0 852.3h1.3v1.3h-1.3zM429.2 844.7h1.3v1.3h-1.3zM428.2 837.2h1.3v1.3h-1.3zM427.9 857.7h1.3v1.3h-1.3zM422.7 820.3h1.3v1.3h-1.3zM417.8 861.1h1.3v1.3h-1.3zM427.7 856.6h1.3v1.3h-1.3zM422.6 852.7h1.3v1.3h-1.3zM424.8 855.1h1.3v1.3h-1.3zM417.2 865.9h1.3v1.3h-1.3zM440.9 867.7h1.3v1.3h-1.3zM425.8 852.2h1.3v1.3h-1.3zM424.0 849.1h1.3v1.3h-1.3zM423.5 826.8h1.3v1.3h-1.3zM423.8 848.5h1.3v1.3h-1.3zM418.7 852.4h1.3v1.3h-1.3zM433.0 857.3h1.3v1.3h-1.3zM439.2 826.9h1.3v1.3h-1.3zM432.3 819.2h1.3v1.3h-1.3zM417.1 835.9h1.3v1.3h-1.3zM401.7 849.3h1.3v1.3h-1.3zM421.6 848.0h1.3v1.3h-1.3zM411.7 813.8h1.3v1.3h-1.3zM434.2 813.6h1.3v1.3h-1.3zM427.4 852.6h1.3v1.3h-1.3zM429.1 873.8h1.3v1.3h-1.3zM427.2 849.3h1.3v1.3h-1.3zM430.8 852.7h1.3v1.3h-1.3zM427.5 842.6h1.3v1.3h-1.3zM422.0 857.1h1.3v1.3h-1.3zM414.6 844.8h1.3v1.3h-1.3zM432.9 872.5h1.3v1.3h-1.3zM414.3 837.9h1.3v1.3h-1.3zM420.9 861.7h1.3v1.3h-1.3zM406.6 846.7h1.3v1.3h-1.3zM442.7 856.3h1.3v1.3h-1.3zM441.9 827.9h1.3v1.3h-1.3zM425.1 832.7h1.3v1.3h-1.3zM419.4 828.3h1.3v1.3h-1.3zM432.4 843.0h1.3v1.3h-1.3zM424.0 866.1h1.3v1.3h-1.3zM430.4 842.0h1.3v1.3h-1.3zM427.0 835.5h1.3v1.3h-1.3zM433.7 831.9h1.3v1.3h-1.3zM422.8 835.2h1.3v1.3h-1.3zM412.8 835.9h1.3v1.3h-1.3zM417.5 836.0h1.3v1.3h-1.3zM412.8 840.1h1.3v1.3h-1.3zM417.2 825.9h1.3v1.3h-1.3zM419.0 854.5h1.3v1.3h-1.3zM430.5 832.0h1.3v1.3h-1.3zM413.0 819.1h1.3v1.3h-1.3zM437.1 873.9h1.3v1.3h-1.3zM431.4 820.8h1.3v1.3h-1.3zM431.7 850.4h1.3v1.3h-1.3zM431.4 865.6h1.3v1.3h-1.3zM417.4 812.5h1.3v1.3h-1.3zM427.7 850.0h1.3v1.3h-1.3zM431.5 839.6h1.3v1.3h-1.3zM410.4 822.6h1.3v1.3h-1.3zM414.7 845.0h1.3v1.3h-1.3z"/>
<path fill="#d08878" d="M420.4 834.6h1.3v1.3h-1.3zM425.8 832.0h1.3v1.3h-1.3zM426.2 830.3h1.3v1.3h-1.3zM421.8 832.1h1.3v1.3h-1.3zM427.7 825.4h1.3v1.3h-1.3zM406.8 818.4h1.3v1.3h-1.3zM421.9 814.2h1.3v1.3h-1.3zM417.9 828.5h1.3v1.3h-1.3zM433.2 821.5h1.3v1.3h-1.3zM419.9 830.6h1.3v1.3h-1.3zM424.3 831.1h1.3v1.3h-1.3zM432.3 832.0h1.3v1.3h-1.3zM424.5 835.4h1.3v1.3h-1.3zM418.2 839.5h1.3v1.3h-1.3zM428.3 830.1h1.3v1.3h-1.3zM424.8 830.8h1.3v1.3h-1.3zM415.2 823.7h1.3v1.3h-1.3zM442.9 824.8h1.3v1.3h-1.3zM422.7 823.6h1.3v1.3h-1.3zM423.3 844.7h1.3v1.3h-1.3zM422.5 837.1h1.3v1.3h-1.3zM422.8 818.7h1.3v1.3h-1.3zM411.0 809.5h1.3v1.3h-1.3zM427.0 830.6h1.3v1.3h-1.3zM435.9 825.2h1.3v1.3h-1.3zM428.6 830.3h1.3v1.3h-1.3zM439.7 834.5h1.3v1.3h-1.3zM422.0 822.0h1.3v1.3h-1.3zM420.7 827.7h1.3v1.3h-1.3zM425.2 830.1h1.3v1.3h-1.3zM418.8 848.6h1.3v1.3h-1.3z"/>
<path fill="#c89080" d="M424.7 818.9h1.3v1.3h-1.3zM425.7 822.7h1.3v1.3h-1.3zM427.0 824.3h1.3v1.3h-1.3zM415.1 834.1h1.3v1.3h-1.3zM420.7 813.0h1.3v1.3h-1.3zM415.5 828.2h1.3v1.3h-1.3zM417.5 818.7h1.3v1.3h-1.3zM425.7 838.6h1.3v1.3h-1.3zM430.7 840.4h1.3v1.3h-1.3zM426.5 823.1h1.3v1.3h-1.3zM424.6 818.1h1.3v1.3h-1.3zM425.7 830.0h1.3v1.3h-1.3zM432.5 827.7h1.3v1.3h-1.3zM430.0 834.8h1.3v1.3h-1.3zM421.1 842.7h1.3v1.3h-1.3zM415.9 824.9h1.3v1.3h-1.3zM428.1 840.7h1.3v1.3h-1.3zM444.1 826.7h1.3v1.3h-1.3zM434.7 827.6h1.3v1.3h-1.3zM414.5 845.3h1.3v1.3h-1.3zM425.5 838.5h1.3v1.3h-1.3zM435.2 808.0h1.3v1.3h-1.3zM422.1 820.6h1.3v1.3h-1.3zM434.0 824.6h1.3v1.3h-1.3zM429.6 829.5h1.3v1.3h-1.3zM410.2 827.1h1.3v1.3h-1.3zM415.5 833.0h1.3v1.3h-1.3zM428.1 825.7h1.3v1.3h-1.3zM419.6 830.3h1.3v1.3h-1.3zM425.6 826.1h1.3v1.3h-1.3zM417.2 817.3h1.3v1.3h-1.3zM430.8 834.1h1.3v1.3h-1.3z"/>
<path fill="#b86e5c" d="M432.5 822.9h1.3v1.3h-1.3zM418.6 829.1h1.3v1.3h-1.3zM428.5 816.8h1.3v1.3h-1.3zM415.4 807.8h1.3v1.3h-1.3zM416.5 817.5h1.3v1.3h-1.3zM428.5 812.4h1.3v1.3h-1.3zM417.9 824.8h1.3v1.3h-1.3zM429.3 825.9h1.3v1.3h-1.3zM427.2 839.7h1.3v1.3h-1.3zM423.0 814.8h1.3v1.3h-1.3zM433.2 832.3h1.3v1.3h-1.3zM417.8 827.1h1.3v1.3h-1.3zM441.9 830.9h1.3v1.3h-1.3zM420.9 819.8h1.3v1.3h-1.3zM424.6 823.7h1.3v1.3h-1.3zM419.1 834.6h1.3v1.3h-1.3zM423.2 823.3h1.3v1.3h-1.3zM418.1 829.7h1.3v1.3h-1.3zM424.3 835.9h1.3v1.3h-1.3zM431.9 839.7h1.3v1.3h-1.3zM412.2 827.0h1.3v1.3h-1.3zM430.2 817.8h1.3v1.3h-1.3zM435.2 815.5h1.3v1.3h-1.3zM415.5 827.5h1.3v1.3h-1.3zM406.8 834.1h1.3v1.3h-1.3zM420.1 831.2h1.3v1.3h-1.3zM444.1 824.7h1.3v1.3h-1.3zM430.1 822.9h1.3v1.3h-1.3zM423.1 839.0h1.3v1.3h-1.3zM413.5 822.7h1.3v1.3h-1.3z"/>
<path fill="#b06452" d="M420.4 825.8h1.3v1.3h-1.3zM407.6 827.3h1.3v1.3h-1.3zM424.2 826.1h1.3v1.3h-1.3zM416.1 830.8h1.3v1.3h-1.3zM446.7 836.9h1.3v1.3h-1.3zM412.9 820.1h1.3v1.3h-1.3zM436.2 816.5h1.3v1.3h-1.3zM421.7 835.0h1.3v1.3h-1.3zM431.3 820.3h1.3v1.3h-1.3zM414.3 829.4h1.3v1.3h-1.3zM426.9 822.3h1.3v1.3h-1.3zM437.8 838.4h1.3v1.3h-1.3zM428.0 814.4h1.3v1.3h-1.3zM420.9 824.1h1.3v1.3h-1.3zM432.8 833.1h1.3v1.3h-1.3zM438.8 824.0h1.3v1.3h-1.3zM431.4 827.9h1.3v1.3h-1.3zM421.6 796.7h1.3v1.3h-1.3z"/>
<path fill="#9a4a3a" d="M420.4 812.9h1.3v1.3h-1.3zM416.8 817.8h1.3v1.3h-1.3zM420.5 832.1h1.3v1.3h-1.3zM408.8 826.3h1.3v1.3h-1.3zM427.6 836.4h1.3v1.3h-1.3zM416.7 824.0h1.3v1.3h-1.3zM441.9 832.6h1.3v1.3h-1.3zM439.7 833.6h1.3v1.3h-1.3zM438.2 828.1h1.3v1.3h-1.3zM413.5 818.6h1.3v1.3h-1.3zM433.7 820.1h1.3v1.3h-1.3zM426.3 812.1h1.3v1.3h-1.3zM428.2 816.4h1.3v1.3h-1.3zM431.8 831.5h1.3v1.3h-1.3zM422.3 828.4h1.3v1.3h-1.3zM418.4 818.5h1.3v1.3h-1.3zM430.0 802.4h1.3v1.3h-1.3zM426.6 833.3h1.3v1.3h-1.3zM438.8 845.9h1.3v1.3h-1.3zM428.4 828.1h1.3v1.3h-1.3zM411.4 834.7h1.3v1.3h-1.3zM431.0 832.1h1.3v1.3h-1.3zM415.0 830.6h1.3v1.3h-1.3zM413.6 812.9h1.3v1.3h-1.3zM423.9 827.1h1.3v1.3h-1.3zM430.8 836.4h1.3v1.3h-1.3zM418.2 831.5h1.3v1.3h-1.3zM428.9 829.4h1.3v1.3h-1.3z"/>
<path fill="#c88070" d="M437.2 829.7h1.3v1.3h-1.3zM422.4 831.6h1.3v1.3h-1.3zM420.6 833.3h1.3v1.3h-1.3zM427.8 817.7h1.3v1.3h-1.3zM433.3 828.2h1.3v1.3h-1.3zM432.2 834.6h1.3v1.3h-1.3zM430.3 826.5h1.3v1.3h-1.3zM431.9 808.2h1.3v1.3h-1.3zM431.5 850.6h1.3v1.3h-1.3zM426.5 812.4h1.3v1.3h-1.3zM429.2 830.5h1.3v1.3h-1.3zM416.0 829.2h1.3v1.3h-1.3zM424.9 832.6h1.3v1.3h-1.3zM424.5 831.5h1.3v1.3h-1.3zM427.6 824.0h1.3v1.3h-1.3zM432.4 828.3h1.3v1.3h-1.3zM403.4 820.1h1.3v1.3h-1.3zM424.0 827.0h1.3v1.3h-1.3zM402.9 828.4h1.3v1.3h-1.3zM439.2 816.7h1.3v1.3h-1.3zM407.0 818.8h1.3v1.3h-1.3zM425.4 822.7h1.3v1.3h-1.3z"/>
<path fill="#e0a898" d="M411.1 814.6h1.3v1.3h-1.3zM429.1 812.1h1.3v1.3h-1.3zM428.2 831.0h1.3v1.3h-1.3zM420.7 825.3h1.3v1.3h-1.3zM435.5 828.2h1.3v1.3h-1.3zM410.1 804.5h1.3v1.3h-1.3zM421.7 819.1h1.3v1.3h-1.3zM414.6 832.5h1.3v1.3h-1.3zM430.5 815.8h1.3v1.3h-1.3zM425.5 835.0h1.3v1.3h-1.3zM421.6 806.5h1.3v1.3h-1.3zM427.2 831.2h1.3v1.3h-1.3zM415.0 831.1h1.3v1.3h-1.3zM429.5 809.7h1.3v1.3h-1.3zM437.0 840.7h1.3v1.3h-1.3zM423.9 848.1h1.3v1.3h-1.3zM423.8 825.0h1.3v1.3h-1.3zM419.3 835.5h1.3v1.3h-1.3zM426.4 839.8h1.3v1.3h-1.3zM431.9 830.5h1.3v1.3h-1.3zM414.3 801.2h1.3v1.3h-1.3zM419.7 818.8h1.3v1.3h-1.3zM428.9 835.6h1.3v1.3h-1.3zM426.7 829.6h1.3v1.3h-1.3zM431.1 827.4h1.3v1.3h-1.3zM411.7 825.6h1.3v1.3h-1.3zM426.6 827.1h1.3v1.3h-1.3z"/>
<path fill="#dca090" d="M423.0 838.1h1.3v1.3h-1.3zM425.4 833.3h1.3v1.3h-1.3zM432.3 814.1h1.3v1.3h-1.3zM401.9 830.7h1.3v1.3h-1.3zM421.9 822.3h1.3v1.3h-1.3zM408.6 839.4h1.3v1.3h-1.3zM408.8 820.5h1.3v1.3h-1.3zM437.1 815.9h1.3v1.3h-1.3zM410.4 831.7h1.3v1.3h-1.3zM431.4 824.4h1.3v1.3h-1.3zM428.3 825.5h1.3v1.3h-1.3zM422.2 823.8h1.3v1.3h-1.3zM427.1 831.7h1.3v1.3h-1.3zM428.9 827.6h1.3v1.3h-1.3zM426.8 832.1h1.3v1.3h-1.3zM430.0 829.7h1.3v1.3h-1.3zM431.2 840.6h1.3v1.3h-1.3zM424.0 819.0h1.3v1.3h-1.3zM419.6 837.7h1.3v1.3h-1.3zM415.4 833.9h1.3v1.3h-1.3zM422.4 829.3h1.3v1.3h-1.3z"/>
<path fill="#a85848" d="M418.0 827.2h1.3v1.3h-1.3zM423.5 833.3h1.3v1.3h-1.3zM413.2 827.8h1.3v1.3h-1.3zM419.2 839.3h1.3v1.3h-1.3zM413.2 821.5h1.3v1.3h-1.3zM427.5 822.8h1.3v1.3h-1.3zM418.9 820.7h1.3v1.3h-1.3zM418.3 816.8h1.3v1.3h-1.3zM414.1 826.9h1.3v1.3h-1.3zM420.9 815.6h1.3v1.3h-1.3zM431.7 826.1h1.3v1.3h-1.3zM435.1 823.7h1.3v1.3h-1.3zM419.5 828.7h1.3v1.3h-1.3zM439.2 835.1h1.3v1.3h-1.3zM423.4 821.4h1.3v1.3h-1.3zM401.9 822.7h1.3v1.3h-1.3zM431.9 823.3h1.3v1.3h-1.3zM422.6 841.4h1.3v1.3h-1.3zM413.6 821.3h1.3v1.3h-1.3z"/>
<path fill="#a0503e" d="M416.9 831.3h1.3v1.3h-1.3zM432.1 820.9h1.3v1.3h-1.3zM439.1 811.7h1.3v1.3h-1.3zM432.2 825.6h1.3v1.3h-1.3zM411.7 817.8h1.3v1.3h-1.3zM427.8 827.8h1.3v1.3h-1.3zM417.4 809.2h1.3v1.3h-1.3zM413.9 838.9h1.3v1.3h-1.3zM431.0 810.4h1.3v1.3h-1.3zM422.2 821.7h1.3v1.3h-1.3zM429.5 849.9h1.3v1.3h-1.3zM417.1 812.9h1.3v1.3h-1.3zM422.6 827.8h1.3v1.3h-1.3zM427.5 809.0h1.3v1.3h-1.3zM428.8 836.2h1.3v1.3h-1.3zM427.3 811.8h1.3v1.3h-1.3zM432.1 835.8h1.3v1.3h-1.3zM434.4 825.0h1.3v1.3h-1.3zM430.0 816.2h1.3v1.3h-1.3zM423.8 819.0h1.3v1.3h-1.3zM427.7 824.5h1.3v1.3h-1.3zM428.8 832.2h1.3v1.3h-1.3z"/>
<path fill="#d08878" d="M471.0 843.0h1.5v1.5h-1.5z"/>
<path fill="#c88070" d="M448.0 806.0h1.5v1.5h-1.5z"/>
</g>
<line x1="367.3" y1="744.8" x2="488.5" y2="744.8" stroke="#444" stroke-width="1.2"/>
<line x1="488.5" y1="744.8" x2="488.5" y2="895.5" stroke="#444" stroke-width="1.2"/>
<line x1="367.3" y1="744.8" x2="367.3" y2="896.5" stroke="#111" stroke-width="2.2"/>
<line x1="366.3" y1="895.5" x2="488.5" y2="895.5" stroke="#111" stroke-width="2.2"/>
<line x1="406.8" y1="744.8" x2="406.8" y2="895.5" stroke="#444" stroke-width="1.2"/>
<line x1="367.3" y1="828.9" x2="488.5" y2="828.9" stroke="#444" stroke-width="1.2"/>
<line x1="363.3" y1="759.7" x2="367.3" y2="759.7" stroke="#222" stroke-width="1.3"/>
<line x1="365.1" y1="784.1" x2="367.3" y2="784.1" stroke="#333" stroke-width="0.9"/>
<line x1="365.1" y1="777.9" x2="367.3" y2="777.9" stroke="#333" stroke-width="0.9"/>
<line x1="365.1" y1="773.6" x2="367.3" y2="773.6" stroke="#333" stroke-width="0.9"/>
<line x1="365.1" y1="770.2" x2="367.3" y2="770.2" stroke="#333" stroke-width="0.9"/>
<line x1="365.1" y1="767.4" x2="367.3" y2="767.4" stroke="#333" stroke-width="0.9"/>
<line x1="365.1" y1="765.1" x2="367.3" y2="765.1" stroke="#333" stroke-width="0.9"/>
<line x1="365.1" y1="763.1" x2="367.3" y2="763.1" stroke="#333" stroke-width="0.9"/>
<line x1="365.1" y1="761.3" x2="367.3" y2="761.3" stroke="#333" stroke-width="0.9"/>
<line x1="363.3" y1="794.6" x2="367.3" y2="794.6" stroke="#222" stroke-width="1.3"/>
<line x1="365.1" y1="818.6" x2="367.3" y2="818.6" stroke="#333" stroke-width="0.9"/>
<line x1="365.1" y1="812.5" x2="367.3" y2="812.5" stroke="#333" stroke-width="0.9"/>
<line x1="365.1" y1="808.2" x2="367.3" y2="808.2" stroke="#333" stroke-width="0.9"/>
<line x1="365.1" y1="804.9" x2="367.3" y2="804.9" stroke="#333" stroke-width="0.9"/>
<line x1="365.1" y1="802.2" x2="367.3" y2="802.2" stroke="#333" stroke-width="0.9"/>
<line x1="365.1" y1="799.9" x2="367.3" y2="799.9" stroke="#333" stroke-width="0.9"/>
<line x1="365.1" y1="797.9" x2="367.3" y2="797.9" stroke="#333" stroke-width="0.9"/>
<line x1="365.1" y1="796.2" x2="367.3" y2="796.2" stroke="#333" stroke-width="0.9"/>
<line x1="363.3" y1="828.9" x2="367.3" y2="828.9" stroke="#222" stroke-width="1.3"/>
<line x1="365.1" y1="852.4" x2="367.3" y2="852.4" stroke="#333" stroke-width="0.9"/>
<line x1="365.1" y1="846.5" x2="367.3" y2="846.5" stroke="#333" stroke-width="0.9"/>
<line x1="365.1" y1="842.3" x2="367.3" y2="842.3" stroke="#333" stroke-width="0.9"/>
<line x1="365.1" y1="839.0" x2="367.3" y2="839.0" stroke="#333" stroke-width="0.9"/>
<line x1="365.1" y1="836.4" x2="367.3" y2="836.4" stroke="#333" stroke-width="0.9"/>
<line x1="365.1" y1="834.1" x2="367.3" y2="834.1" stroke="#333" stroke-width="0.9"/>
<line x1="365.1" y1="832.2" x2="367.3" y2="832.2" stroke="#333" stroke-width="0.9"/>
<line x1="365.1" y1="830.4" x2="367.3" y2="830.4" stroke="#333" stroke-width="0.9"/>
<line x1="363.3" y1="862.5" x2="367.3" y2="862.5" stroke="#222" stroke-width="1.3"/>
<line x1="365.1" y1="885.6" x2="367.3" y2="885.6" stroke="#333" stroke-width="0.9"/>
<line x1="365.1" y1="879.8" x2="367.3" y2="879.8" stroke="#333" stroke-width="0.9"/>
<line x1="365.1" y1="875.6" x2="367.3" y2="875.6" stroke="#333" stroke-width="0.9"/>
<line x1="365.1" y1="872.4" x2="367.3" y2="872.4" stroke="#333" stroke-width="0.9"/>
<line x1="365.1" y1="869.8" x2="367.3" y2="869.8" stroke="#333" stroke-width="0.9"/>
<line x1="365.1" y1="867.6" x2="367.3" y2="867.6" stroke="#333" stroke-width="0.9"/>
<line x1="365.1" y1="865.7" x2="367.3" y2="865.7" stroke="#333" stroke-width="0.9"/>
<line x1="365.1" y1="864.0" x2="367.3" y2="864.0" stroke="#333" stroke-width="0.9"/>
<line x1="363.3" y1="895.5" x2="367.3" y2="895.5" stroke="#222" stroke-width="1.3"/>
<line x1="367.8" y1="895.5" x2="367.8" y2="899.5" stroke="#222" stroke-width="1.3"/>
<line x1="376.3" y1="895.5" x2="376.3" y2="897.7" stroke="#333" stroke-width="0.9"/>
<line x1="381.3" y1="895.5" x2="381.3" y2="897.7" stroke="#333" stroke-width="0.9"/>
<line x1="384.8" y1="895.5" x2="384.8" y2="897.7" stroke="#333" stroke-width="0.9"/>
<line x1="387.5" y1="895.5" x2="387.5" y2="897.7" stroke="#333" stroke-width="0.9"/>
<line x1="389.7" y1="895.5" x2="389.7" y2="897.7" stroke="#333" stroke-width="0.9"/>
<line x1="391.6" y1="895.5" x2="391.6" y2="897.7" stroke="#333" stroke-width="0.9"/>
<line x1="393.3" y1="895.5" x2="393.3" y2="897.7" stroke="#333" stroke-width="0.9"/>
<line x1="394.7" y1="895.5" x2="394.7" y2="897.7" stroke="#333" stroke-width="0.9"/>
<line x1="396.0" y1="895.5" x2="396.0" y2="899.5" stroke="#222" stroke-width="1.3"/>
<line x1="404.3" y1="895.5" x2="404.3" y2="897.7" stroke="#333" stroke-width="0.9"/>
<line x1="409.1" y1="895.5" x2="409.1" y2="897.7" stroke="#333" stroke-width="0.9"/>
<line x1="412.6" y1="895.5" x2="412.6" y2="897.7" stroke="#333" stroke-width="0.9"/>
<line x1="415.2" y1="895.5" x2="415.2" y2="897.7" stroke="#333" stroke-width="0.9"/>
<line x1="417.4" y1="895.5" x2="417.4" y2="897.7" stroke="#333" stroke-width="0.9"/>
<line x1="419.2" y1="895.5" x2="419.2" y2="897.7" stroke="#333" stroke-width="0.9"/>
<line x1="420.8" y1="895.5" x2="420.8" y2="897.7" stroke="#333" stroke-width="0.9"/>
<line x1="422.2" y1="895.5" x2="422.2" y2="897.7" stroke="#333" stroke-width="0.9"/>
<line x1="423.5" y1="895.5" x2="423.5" y2="899.5" stroke="#222" stroke-width="1.3"/>
<line x1="431.6" y1="895.5" x2="431.6" y2="897.7" stroke="#333" stroke-width="0.9"/>
<line x1="436.4" y1="895.5" x2="436.4" y2="897.7" stroke="#333" stroke-width="0.9"/>
<line x1="439.8" y1="895.5" x2="439.8" y2="897.7" stroke="#333" stroke-width="0.9"/>
<line x1="442.4" y1="895.5" x2="442.4" y2="897.7" stroke="#333" stroke-width="0.9"/>
<line x1="444.5" y1="895.5" x2="444.5" y2="897.7" stroke="#333" stroke-width="0.9"/>
<line x1="446.3" y1="895.5" x2="446.3" y2="897.7" stroke="#333" stroke-width="0.9"/>
<line x1="447.9" y1="895.5" x2="447.9" y2="897.7" stroke="#333" stroke-width="0.9"/>
<line x1="449.3" y1="895.5" x2="449.3" y2="897.7" stroke="#333" stroke-width="0.9"/>
<line x1="450.5" y1="895.5" x2="450.5" y2="899.5" stroke="#222" stroke-width="1.3"/>
<line x1="458.7" y1="895.5" x2="458.7" y2="897.7" stroke="#333" stroke-width="0.9"/>
<line x1="463.5" y1="895.5" x2="463.5" y2="897.7" stroke="#333" stroke-width="0.9"/>
<line x1="466.9" y1="895.5" x2="466.9" y2="897.7" stroke="#333" stroke-width="0.9"/>
<line x1="469.6" y1="895.5" x2="469.6" y2="897.7" stroke="#333" stroke-width="0.9"/>
<line x1="471.7" y1="895.5" x2="471.7" y2="897.7" stroke="#333" stroke-width="0.9"/>
<line x1="473.6" y1="895.5" x2="473.6" y2="897.7" stroke="#333" stroke-width="0.9"/>
<line x1="475.2" y1="895.5" x2="475.2" y2="897.7" stroke="#333" stroke-width="0.9"/>
<line x1="476.6" y1="895.5" x2="476.6" y2="897.7" stroke="#333" stroke-width="0.9"/>
<line x1="477.8" y1="895.5" x2="477.8" y2="899.5" stroke="#222" stroke-width="1.3"/>
<text x="351.8" y="772.3" font-size="14.63" fill="#555" text-anchor="end" textLength="12.6" lengthAdjust="spacingAndGlyphs">10</text>
<text x="352.1" y="765.2" font-size="11.13" fill="#555" textLength="5.8" lengthAdjust="spacingAndGlyphs">5</text>
<text x="351.8" y="807.2" font-size="14.63" fill="#555" text-anchor="end" textLength="12.6" lengthAdjust="spacingAndGlyphs">10</text>
<text x="352.1" y="800.1" font-size="11.13" fill="#555" textLength="5.8" lengthAdjust="spacingAndGlyphs">4</text>
<text x="351.8" y="841.5" font-size="14.63" fill="#555" text-anchor="end" textLength="12.6" lengthAdjust="spacingAndGlyphs">10</text>
<text x="352.1" y="834.4" font-size="11.13" fill="#555" textLength="5.8" lengthAdjust="spacingAndGlyphs">3</text>
<text x="351.8" y="875.1" font-size="14.63" fill="#555" text-anchor="end" textLength="12.6" lengthAdjust="spacingAndGlyphs">10</text>
<text x="352.1" y="868.0" font-size="11.13" fill="#555" textLength="5.8" lengthAdjust="spacingAndGlyphs">2</text>
<text x="351.8" y="908.1" font-size="14.63" fill="#555" text-anchor="end" textLength="12.6" lengthAdjust="spacingAndGlyphs">10</text>
<text x="352.1" y="901.0" font-size="11.13" fill="#555" textLength="5.8" lengthAdjust="spacingAndGlyphs">1</text>
<text x="367.4" y="924.6" font-size="14.63" fill="#555" text-anchor="end" textLength="14.6" lengthAdjust="spacingAndGlyphs">10</text>
<text x="366.9" y="916.5" font-size="11.13" fill="#555" textLength="5.8" lengthAdjust="spacingAndGlyphs">1</text>
<text x="395.6" y="924.6" font-size="14.63" fill="#555" text-anchor="end" textLength="14.6" lengthAdjust="spacingAndGlyphs">10</text>
<text x="395.1" y="916.5" font-size="11.13" fill="#555" textLength="5.8" lengthAdjust="spacingAndGlyphs">2</text>
<text x="423.1" y="924.6" font-size="14.63" fill="#555" text-anchor="end" textLength="14.6" lengthAdjust="spacingAndGlyphs">10</text>
<text x="422.6" y="916.5" font-size="11.13" fill="#555" textLength="5.8" lengthAdjust="spacingAndGlyphs">3</text>
<text x="450.1" y="924.6" font-size="14.63" fill="#555" text-anchor="end" textLength="14.6" lengthAdjust="spacingAndGlyphs">10</text>
<text x="449.6" y="916.5" font-size="11.13" fill="#555" textLength="5.8" lengthAdjust="spacingAndGlyphs">4</text>
<text x="477.4" y="924.6" font-size="14.63" fill="#555" text-anchor="end" textLength="14.6" lengthAdjust="spacingAndGlyphs">10</text>
<text x="476.9" y="916.5" font-size="11.13" fill="#555" textLength="5.8" lengthAdjust="spacingAndGlyphs">5</text>
<text x="327.5" y="818.6" font-size="12.8" fill="#666" text-anchor="middle" textLength="33.7" lengthAdjust="spacingAndGlyphs" transform="rotate(-90 327.5 818.6)">CD1d</text>
<text x="426.9" y="934.2" font-size="13.57" fill="#666" text-anchor="middle" textLength="33.7" lengthAdjust="spacingAndGlyphs">CD19</text>
<text x="368.6" y="763.0" font-size="16.75" fill="#6a6a6a" textLength="45.0" lengthAdjust="spacingAndGlyphs">0.03%</text>
<text x="444.9" y="763.0" font-size="16.75" fill="#6a6a6a" textLength="44.5" lengthAdjust="spacingAndGlyphs">0.75%</text>
<text x="368.6" y="889.4" font-size="16.75" fill="#6a6a6a" textLength="45.0" lengthAdjust="spacingAndGlyphs">8.91%</text>
<text x="448.5" y="889.4" font-size="16.75" fill="#6a6a6a" textLength="38.5" lengthAdjust="spacingAndGlyphs">90.31</text>
<text x="233.3" y="503.7" font-size="25.65" text-anchor="middle" textLength="44.8" lengthAdjust="spacingAndGlyphs">NKT</text>
<text x="405.3" y="502.8" font-size="25.97" text-anchor="middle" textLength="138.4" lengthAdjust="spacingAndGlyphs">CD19/CD1d</text>
<text x="44.5" y="593.9" font-size="25.23" textLength="34.3" lengthAdjust="spacingAndGlyphs">HD</text>
<text x="44.5" y="827.6" font-size="25.65" textLength="50.9" lengthAdjust="spacingAndGlyphs">MCL</text>
</svg>
</body></html>
